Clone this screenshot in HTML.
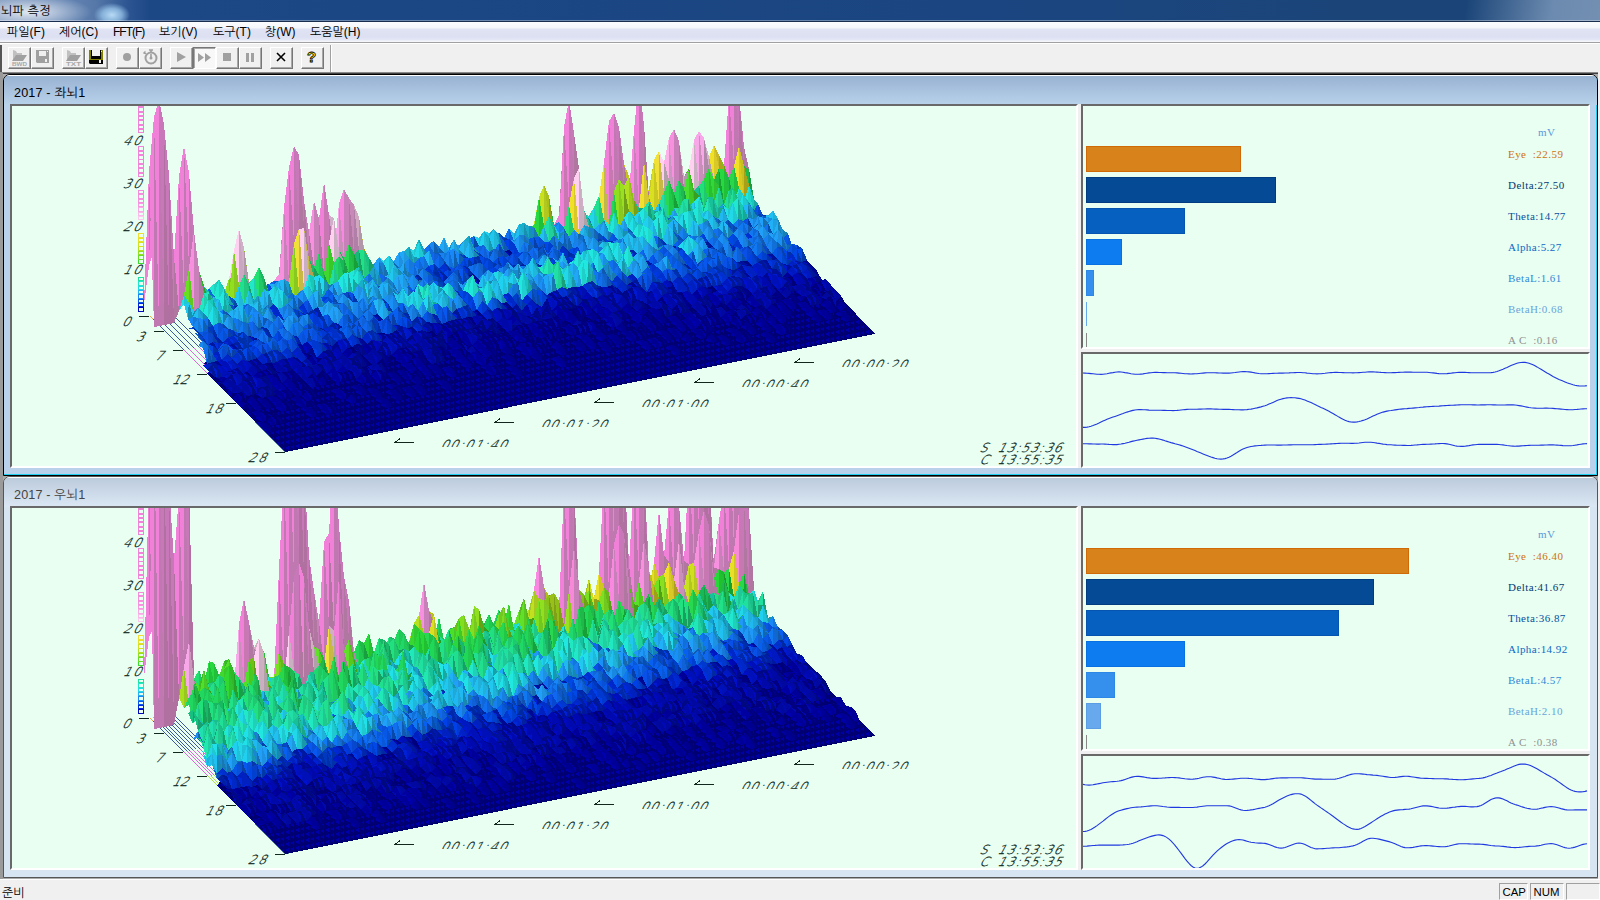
<!DOCTYPE html><html lang="ko"><head><meta charset="utf-8"><title>뇌파 측정</title><style>

*{box-sizing:border-box;margin:0;padding:0}
html,body{width:1600px;height:900px;overflow:hidden;background:#f0f0f0}
body{position:relative;font-family:"Liberation Sans","NanumGothic","Noto Sans CJK KR",sans-serif;font-size:12px;color:#000}
.abs{position:absolute}
#title{position:absolute;left:0;top:0;width:1600px;height:22px;background:
 radial-gradient(ellipse 18px 12px at 112px 15px,rgba(190,225,250,.95),rgba(160,205,240,.7) 55%,rgba(160,200,240,0) 100%),
 radial-gradient(ellipse 62px 17px at 30px 12px,rgba(255,255,255,.8),rgba(255,255,255,.4) 50%,rgba(255,255,255,0) 100%),
 linear-gradient(100deg,rgba(120,150,190,0) 0,rgba(120,150,190,0) 1445px,rgba(112,142,178,.95) 1530px,rgba(118,146,180,1) 1600px),
 linear-gradient(90deg,#7d98be 0,#6686b4 60px,#5678a9 96px,#2c5592 128px,#1d4886 150px,#1b4785 400px,#1a4580 1000px,#1b4578 1400px);
 border-bottom:1px solid #1a2e50}
#title:after{content:"";position:absolute;left:0;right:0;top:20px;height:1px;background:rgba(255,255,255,.35)}
#title span{position:absolute;left:1px;top:4px;font-size:12.2px;letter-spacing:.1px}
#menu{position:absolute;left:0;top:22px;width:1600px;height:21px;background:linear-gradient(#fbfcfe 0,#f4f6fb 6px,#dfe3f3 7px,#dce0f2 15px,#e4e8f5 18px,#f4f5fa 19px,#f4f5fa 20px);border-bottom:1px solid #a0a0a0}
#menu span{position:absolute;top:3px;white-space:nowrap}
#menu span:nth-child(3){letter-spacing:-1px}
#tb{position:absolute;left:0;top:43px;width:1600px;height:29px;background:#f0f0f0;border-top:1px solid #fff}
#tb .grip{position:absolute;left:0;top:1px;width:2px;height:28px;background:#555}
.btn{position:absolute;top:3px;width:23px;height:22px;border:1px solid;border-color:#fff #777 #777 #fff;box-shadow:inset -1px -1px 0 #a8a8a8;background:#f0f0f0}
.btn svg{position:absolute;left:1px;top:0px}
.btn.dn{border-color:#777 #fff #fff #777;box-shadow:inset 1px 1px 0 #a8a8a8;background:#f8f8f8}
#tbsep{position:absolute;left:330px;top:1px;width:2px;height:28px;border-left:1px solid #a0a0a0;border-right:1px solid #fff}
#mdi{position:absolute;left:0;top:72px;width:1598px;height:807px;background:#ababab;border-top:1px solid #8a8a8a;box-shadow:inset 0 1px 0 #404040;border-left:3px solid #9a9a9a}
.child{position:absolute;left:3px;width:1595px;border:1px solid #000;border-radius:7px 7px 0 0;overflow:hidden}
.child .cap{position:absolute;left:0;top:0;right:0;height:30px}
.child .cap span{position:absolute;left:10px;top:9px;font-size:12.6px;letter-spacing:.15px}
.pane{position:absolute;background:#e8fff1;border-top:2px solid #696969;border-left:2px solid #696969;overflow:hidden}
.ch{position:absolute;left:0;top:0}
.bars{position:absolute;left:0;top:0;width:505px;height:241px}
.bar{position:absolute;left:3px;height:26px;border:1px solid}
.lab{position:absolute;font-family:"Liberation Serif",serif;font-size:11px;white-space:pre;letter-spacing:.45px;line-height:13px}
.waves{position:absolute;left:0;top:0}
#status{position:absolute;left:0;top:879px;width:1600px;height:21px;background:#f0f0f0;border-top:1px solid #fff}
#status span{position:absolute;top:5.5px}
.sp{position:absolute;top:3px;height:17px;border:1px solid;border-color:#a0a0a0 #fff #fff #a0a0a0;font-size:11.4px;line-height:16px;padding-left:2.5px}

</style></head><body>
<div id="title"><span>뇌파 측정</span></div>
<div id="menu">
<span style="left:7px">파일(F)</span>
<span style="left:59px">제어(C)</span>
<span style="left:113px">FFT(F)</span>
<span style="left:159px">보기(V)</span>
<span style="left:213px">도구(T)</span>
<span style="left:265px">창(W)</span>
<span style="left:310px">도움말(H)</span>
</div>
<div id="tb"><div class="grip"></div><div class="btn" style="left:8px"><svg width="18" height="18"><path d="M3 2l3 1 1 2h5v3H6l-3 5z" fill="#a0a0a0" fill-opacity=".6"/><path d="M6 7h11l-4 6H2z" fill="#a0a0a0"/><text x="2" y="17.5" font-size="6.2" font-weight="bold" font-family="Liberation Sans,sans-serif" fill="#a8a8a8" textLength="15" lengthAdjust="spacingAndGlyphs">BWD</text></svg></div><div class="btn" style="left:31px"><svg width="18" height="18"><path d="M3 2h13v13H4l-1-1z" fill="#a0a0a0"/><rect x="6" y="3" width="7" height="5" fill="#f0f0f0"/><rect x="12" y="11" width="2" height="3" fill="#f0f0f0"/><rect x="14" y="3" width="1" height="1" fill="#f0f0f0"/></svg></div><div class="btn" style="left:62px"><svg width="18" height="18"><path d="M3 2l3 1 1 2h5v3H6l-3 5z" fill="#a0a0a0" fill-opacity=".6"/><path d="M6 7h11l-4 6H2z" fill="#a0a0a0"/><text x="2" y="17.5" font-size="6.2" font-weight="bold" font-family="Liberation Sans,sans-serif" fill="#a8a8a8" textLength="15" lengthAdjust="spacingAndGlyphs">TXT</text></svg></div><div class="btn" style="left:85px"><svg width="18" height="18"><path d="M2 2h14v14H3l-1-1z" fill="#000"/><path d="M2 2h2v9h10V2h2v10H2z" fill="#808000"/><rect x="5" y="2" width="8" height="6" fill="#f0f0f0"/><rect x="12" y="12" width="2" height="3" fill="#f0f0f0"/><rect x="14" y="3" width="1" height="1" fill="#f0f0f0"/></svg></div><div class="btn" style="left:116px"><svg width="18" height="18"><circle cx="9" cy="9" r="4" fill="#a0a0a0"/></svg></div><div class="btn" style="left:139px"><svg width="18" height="18"><circle cx="10" cy="10" r="5.5" fill="none" stroke="#a0a0a0" stroke-width="2"/><path d="M10 6v4M8 2h4M10 2v2M3 4l2 2M2.5 5.5l2-2" stroke="#a0a0a0" stroke-width="1.6" fill="none"/><circle cx="10" cy="10" r="1.5" fill="#a0a0a0"/></svg></div><div class="btn" style="left:170px"><svg width="18" height="18"><path d="M5 4l9 5-9 5z" fill="#a0a0a0"/></svg></div><div class="btn dn" style="left:193px"><svg width="18" height="18"><path d="M3 5l6 4.5-6 4.5zM10 5l6 4.5-6 4.5z" fill="#a0a0a0"/></svg></div><div class="btn" style="left:216px"><svg width="18" height="18"><rect x="5" y="5" width="8" height="8" fill="#a0a0a0"/></svg></div><div class="btn" style="left:239px"><svg width="18" height="18"><rect x="5" y="5" width="3" height="9" fill="#a0a0a0"/><rect x="10" y="5" width="3" height="9" fill="#a0a0a0"/></svg></div><div class="btn" style="left:270px"><svg width="18" height="18"><path d="M5 5l8 8M13 5l-8 8" stroke="#000" stroke-width="1.6"/></svg></div><div class="btn" style="left:301px"><svg width="18" height="18"><text x="4" y="14" font-size="15" font-weight="bold" font-family="Liberation Sans,sans-serif" fill="#fff000" stroke="#000" stroke-width=".8">?</text></svg></div><div id="tbsep"></div></div>
<div id="mdi"></div>
<div class="child" style="top:74px;height:402px;background:#b9d1ea;box-shadow:inset -1px -1px 0 #20d0f0">
<div class="cap" style="background:linear-gradient(#98b2d2,#b9d2eb);border-top:1px solid #fff"><span style="color:#000">2017 - 좌뇌1</span></div>
<div class="pane" style="left:6px;top:29px;width:1068px;height:364px;border-right:2px solid #fff;border-bottom:2px solid #fff"><svg class="ch" viewBox="12 106 1064 360" width="1064" height="360">
<defs><pattern id="fl" x="144" y="317" width="30" height="6" patternUnits="userSpaceOnUse"><rect width="30" height="6" fill="#000072"/><path d="M1.5 -3l3.5-2.5v5zM1.5 3l3.5-2.5v5zM1.5 9l3.5-2.5v5zM6.5 2l3.5-2.5v5zM6.5 8l3.5-2.5v5zM6.5 14l3.5-2.5v5zM11.5 1l3.5-2.5v5zM11.5 7l3.5-2.5v5zM11.5 13l3.5-2.5v5zM16.5 0l3.5-2.5v5zM16.5 6l3.5-2.5v5zM16.5 12l3.5-2.5v5zM21.5 -1l3.5-2.5v5zM21.5 5l3.5-2.5v5zM21.5 11l3.5-2.5v5zM26.5 -2l3.5-2.5v5zM26.5 4l3.5-2.5v5zM26.5 10l3.5-2.5v5z" fill="#0000a8" shape-rendering="crispEdges"/></pattern></defs>
<g shape-rendering="crispEdges">
<rect x="138.5" y="307.8" width="5" height="3.4" fill="none" stroke="#0008b9" stroke-width="1"/><rect x="138.5" y="303.4" width="5" height="3.4" fill="none" stroke="#0028da" stroke-width="1"/><rect x="138.5" y="299.1" width="5" height="3.4" fill="none" stroke="#0858ec" stroke-width="1"/><rect x="138.5" y="294.8" width="5" height="3.4" fill="none" stroke="#1888f4" stroke-width="1"/><rect x="138.5" y="290.4" width="5" height="3.4" fill="none" stroke="#20b6f4" stroke-width="1"/><rect x="138.5" y="286.1" width="5" height="3.4" fill="none" stroke="#20dce8" stroke-width="1"/><rect x="138.5" y="281.7" width="5" height="3.4" fill="none" stroke="#20e8c8" stroke-width="1"/><rect x="138.5" y="277.4" width="5" height="3.4" fill="none" stroke="#20e2a0" stroke-width="1"/><rect x="138.5" y="259.9" width="5" height="3.4" fill="none" stroke="#3cdb30" stroke-width="1"/><rect x="138.5" y="255.6" width="5" height="3.4" fill="none" stroke="#68df24" stroke-width="1"/><rect x="138.5" y="251.2" width="5" height="3.4" fill="none" stroke="#94e020" stroke-width="1"/><rect x="138.5" y="246.9" width="5" height="3.4" fill="none" stroke="#b8e020" stroke-width="1"/><rect x="138.5" y="242.6" width="5" height="3.4" fill="none" stroke="#d4e020" stroke-width="1"/><rect x="138.5" y="238.2" width="5" height="3.4" fill="none" stroke="#e8e024" stroke-width="1"/><rect x="138.5" y="233.9" width="5" height="3.4" fill="none" stroke="#f1df2d" stroke-width="1"/><rect x="138.5" y="216.4" width="5" height="3.4" fill="none" stroke="#fcc8ee" stroke-width="1"/><rect x="138.5" y="212.1" width="5" height="3.4" fill="none" stroke="#fcb8ea" stroke-width="1"/><rect x="138.5" y="207.8" width="5" height="3.4" fill="none" stroke="#fba8e6" stroke-width="1"/><rect x="138.5" y="203.4" width="5" height="3.4" fill="none" stroke="#f998e2" stroke-width="1"/><rect x="138.5" y="199.1" width="5" height="3.4" fill="none" stroke="#f88fe0" stroke-width="1"/><rect x="138.5" y="194.7" width="5" height="3.4" fill="none" stroke="#f78dde" stroke-width="1"/><rect x="138.5" y="190.4" width="5" height="3.4" fill="none" stroke="#f68bde" stroke-width="1"/><rect x="138.5" y="173.0" width="5" height="3.4" fill="none" stroke="#f484da" stroke-width="1"/><rect x="138.5" y="168.6" width="5" height="3.4" fill="none" stroke="#f484da" stroke-width="1"/><rect x="138.5" y="164.2" width="5" height="3.4" fill="none" stroke="#f484da" stroke-width="1"/><rect x="138.5" y="159.9" width="5" height="3.4" fill="none" stroke="#f484da" stroke-width="1"/><rect x="138.5" y="155.6" width="5" height="3.4" fill="none" stroke="#f383da" stroke-width="1"/><rect x="138.5" y="151.2" width="5" height="3.4" fill="none" stroke="#f383da" stroke-width="1"/><rect x="138.5" y="146.9" width="5" height="3.4" fill="none" stroke="#f383da" stroke-width="1"/><rect x="138.5" y="129.5" width="5" height="3.4" fill="none" stroke="#f282d9" stroke-width="1"/><rect x="138.5" y="125.1" width="5" height="3.4" fill="none" stroke="#f282d9" stroke-width="1"/><rect x="138.5" y="120.8" width="5" height="3.4" fill="none" stroke="#f282d9" stroke-width="1"/><rect x="138.5" y="116.4" width="5" height="3.4" fill="none" stroke="#f282d9" stroke-width="1"/><rect x="138.5" y="112.1" width="5" height="3.4" fill="none" stroke="#f282d9" stroke-width="1"/><rect x="138.5" y="107.7" width="5" height="3.4" fill="none" stroke="#f282d9" stroke-width="1"/><rect x="138.5" y="103.4" width="5" height="3.4" fill="none" stroke="#f282d9" stroke-width="1"/><rect x="138.5" y="99.0" width="5" height="3.4" fill="none" stroke="#f282d9" stroke-width="1"/>
<path d="M149.5 316L152.9 319.4" stroke="#f09020" stroke-width=".8" fill="none"/>
<path d="M152.9 319.4L183.5 350" stroke="#103088" stroke-width=".8" fill="none"/>
<path d="M183.5 350L207.8 374.3" stroke="#e040e0" stroke-width=".8" fill="none"/>
<path d="M207.8 374.3L236.9 403.4" stroke="#a8d820" stroke-width=".8" fill="none"/>
<path d="M236.9 403.4L285.5 452" stroke="#205878" stroke-width=".8" fill="none"/>
<path d="M154.5 315L157.9 318.4" stroke="#f09020" stroke-width=".8" fill="none"/>
<path d="M157.9 318.4L188.5 349" stroke="#103088" stroke-width=".8" fill="none"/>
<path d="M188.5 349L212.8 373.3" stroke="#e040e0" stroke-width=".8" fill="none"/>
<path d="M212.8 373.3L241.9 402.4" stroke="#a8d820" stroke-width=".8" fill="none"/>
<path d="M241.9 402.4L290.5 451" stroke="#205878" stroke-width=".8" fill="none"/>
<path d="M159.5 314L162.9 317.4" stroke="#f09020" stroke-width=".8" fill="none"/>
<path d="M162.9 317.4L193.5 348" stroke="#103088" stroke-width=".8" fill="none"/>
<path d="M193.5 348L217.8 372.3" stroke="#e040e0" stroke-width=".8" fill="none"/>
<path d="M217.8 372.3L246.9 401.4" stroke="#a8d820" stroke-width=".8" fill="none"/>
<path d="M246.9 401.4L295.5 450" stroke="#205878" stroke-width=".8" fill="none"/>
<path d="M164.5 313L167.9 316.4" stroke="#f09020" stroke-width=".8" fill="none"/>
<path d="M167.9 316.4L198.5 347" stroke="#103088" stroke-width=".8" fill="none"/>
<path d="M198.5 347L222.8 371.3" stroke="#e040e0" stroke-width=".8" fill="none"/>
<path d="M222.8 371.3L251.9 400.4" stroke="#a8d820" stroke-width=".8" fill="none"/>
<path d="M251.9 400.4L300.5 449" stroke="#205878" stroke-width=".8" fill="none"/>
<path d="M169.5 312L172.9 315.4" stroke="#f09020" stroke-width=".8" fill="none"/>
<path d="M172.9 315.4L203.5 346" stroke="#103088" stroke-width=".8" fill="none"/>
<path d="M203.5 346L227.8 370.3" stroke="#e040e0" stroke-width=".8" fill="none"/>
<path d="M227.8 370.3L256.9 399.4" stroke="#a8d820" stroke-width=".8" fill="none"/>
<path d="M256.9 399.4L305.5 448" stroke="#205878" stroke-width=".8" fill="none"/>
<path fill="url(#fl)" d="M739 198L875 334L285 452L280 447L275 442L270 437L266 433L261 428L256 423L251 418L246 413L241 408L236 403L232 399L227 394L222 389L217 384L212 379L207 374L212 367L203 364L213 356L213 350L208 345L208 339L203 334L203 328L199 324L199 318L199 312L194 307z"/>
<path fill="#c078b0" d="M149 266l5-149-5 54 0 43zM154 251l5-152-5 18 0 66zM174 284l5-108-5 81 0-4zM179 261l5-115-5 30 0 41zM284 257l5-90-5 40 0 19zM289 245l5-99-5 21 0 37zM564 193l5-93-5 27 0 32zM609 190l5-77-5 8 0 35zM634 177l5-97-5 50 0 18zM729 160l5-90-5 26 0 30z"/>
<path fill="#f080d8" d="M149 171l-5 133 5-38 0-52zM154 117l-5 149 5-15 0-68zM174 257l-5 37 5-10 0-31zM179 176l-5 108 5-23 0-44zM284 207l-5 67 5-17 0-31zM289 167l-5 90 5-12 0-41zM319 219l-5 44 5-11 0-23zM559 222l-5 3 5-10 0-18zM564 127l-5 88 5-22 0-34zM604 162l-5 36 5 2 0-30zM609 121l-5 79 5-10 0-34zM634 130l-5 74 5-27 0-29zM724 165l-5 26 5-14 0-20zM729 96l-5 81 5-17 0-34z"/>
<path fill="#b070a0" d="M159 265l5-140-5-26 0 86zM164 300l5-125-5-50 0 91z"/>
<path fill="#c878b8" d="M159 99l-5 152 5 14 0-80zM164 125l-5 140 5 35 0-84zM169 175l-5 125 5-6 0-38zM184 146l-5 115 5 22 0-67zM189 173l-5 110 5 1 0-29zM294 146l-5 99 5 10 0-55zM299 155l-5 100 5 19 0-53zM324 182l-5 70 5 16 0-39zM569 100l-5 93 5 18 0-52zM574 133l-5 78 5 0 0-18zM614 113l-5 77 5 8 0-41zM639 80l-5 97 5 18 0-51zM734 70l-5 90 5 11 0-47zM739 95l-5 76 5 12 0-34z"/>
<path fill="#b078a0" d="M169 294l5-37-5-82 0 81zM184 283l5-110-5-27 0 70zM189 284l5-5-5-106 0 82zM294 255l5-100-5-9 0 54zM299 274l5-73-5-46 0 66zM304 272l5-40-5-31 0 44zM314 263l5-44-5-18 0 34zM324 268l5-53-5-33 0 47zM344 258l5-60-5-9 0 35zM569 211l5-78-5-33 0 59zM574 211l5 5-5-83 0 60zM614 198l5-71-5-14 0 44zM619 210l5-46-5-37 0 48zM639 195l5-70-5-45 0 64zM644 204l5-6-5-73 0 55zM674 193l5-52-5-12 0 33zM734 171l5-76-5-25 0 54zM739 183l5-36-5-52 0 54z"/>
<path fill="#18a070" d="M194 291l5 2-5-14 0 8z"/>
<path fill="#18c080" d="M194 279l-5 5 5 7 0-4z"/>
<path fill="#1870b0" d="M199 295l5 3-5-5 0 1zM259 283l5 8-5-10 0 2zM529 231l5-4-5-1 0 4z"/>
<path fill="#1888d0" d="M199 293l-5-2 5 4 0-1zM224 292l-5-10 5 12 0-3z"/>
<path fill="#0848a8" d="M204 294l5 1-5 3 0-2zM474 236l5 10-5 2 0-6z"/>
<path fill="#1068f0" d="M204 298l-5-3 5-1 0 2zM274 284l-5 0 5-3 0 1zM474 248l-5-9 5-3 0 6z"/>
<path fill="#1068d8" d="M209 288l5 8-5-1 0-2zM429 244l5 9-5 2 0-5z"/>
<path fill="#1070f0" d="M209 295l-5-1 5-6 0 5zM429 255l-5-6 5-5 0 6zM509 239l-5-1 5-10 0 8z"/>
<path fill="#20d0c0" d="M214 284l5-5-5 17 0-9z"/>
<path fill="#20e8d0" d="M214 296l-5-8 5-4 0 3z"/>
<path fill="#18a898" d="M219 282l5 10-5-13 0 5z"/>
<path fill="#18c8b0" d="M219 279l-5 5 5-2 0 2z"/>
<path fill="#1878b0" d="M224 294l5 2-5-4 0-1zM249 284l5-2-5 0 0 1zM399 261l5-10-5 1 0 4zM579 210l5 13-5-7 0-1zM584 214l5 4-5 5 0-7z"/>
<path fill="#80c820" d="M229 279l5-29-5 46 0-16z"/>
<path fill="#90e020" d="M229 296l-5-2 5-15 0 1z"/>
<path fill="#c8b0c0" d="M234 277l5-48-5 21 0 9zM689 191l5-51-5 28 0 2z"/>
<path fill="#ffd0f0" d="M234 250l-5 29 5-2 0-18zM689 168l-5 14 5 9 0-21z"/>
<path fill="#b0a0a8" d="M239 290l5-42-5-19 0 32zM329 273l5-20-5-38 0 37zM679 193l5-16-5-36 0 35zM704 178l5-21-5-19 0 24z"/>
<path fill="#d0b0c8" d="M239 229l-5 48 5 13 0-29zM679 141l-5 52 5 0 0-17z"/>
<path fill="#70a018" d="M244 283l5-1-5-34 0 28z"/>
<path fill="#80c018" d="M244 248l-5 42 5-7 0-7z"/>
<path fill="#1890d0" d="M249 282l-5 1 5 1 0-1zM579 216l-5-5 5-1 0 5z"/>
<path fill="#2090e0" d="M254 278l5 3-5 1 0-1zM394 261l5-9-5 11 0-5z"/>
<path fill="#20a0f8" d="M254 282l-5 2 5-6 0 3zM394 263l-5-6 5 4 0-3zM399 252l-5 9 5 0 0-5zM529 226l-5 9 5-4 0-1zM584 223l-5-13 5 4 0 2z"/>
<path fill="#1880d0" d="M259 281l-5-3 5 5 0 0z"/>
<path fill="#0850d8" d="M264 285l5-1-5 7 0-5z"/>
<path fill="#0858f0" d="M264 291l-5-8 5 2 0 1zM269 284l-5 1 5-1 0 0z"/>
<path fill="#0840a8" d="M269 284l5 0-5 0 0 0z"/>
<path fill="#0860d8" d="M274 281l5 0-5 3 0-2z"/>
<path fill="#c880b8" d="M279 274l5-67-5 74 0-20zM304 201l-5 73 5-2 0-27zM309 258l5-57-5 31 0 9zM314 201l-5 57 5 5 0-28zM339 251l5-62-5 14 0 23zM344 189l-5 62 5 7 0-34zM619 127l-5 71 5 12 0-35zM629 204l5-74-5 62 0-8zM644 125l-5 70 5 9 0-24zM669 186l5-57-5 9 0 24zM674 129l-5 57 5 7 0-31z"/>
<path fill="#f890e0" d="M279 281l-5 0 5-7 0-13zM309 232l-5 40 5-14 0-17zM669 138l-5 58 5-10 0-24z"/>
<path fill="#c878b0" d="M319 252l5-70-5 37 0 10zM559 215l5-88-5 95 0-25zM604 200l5-79-5 41 0 8zM724 177l5-81-5 69 0-8z"/>
<path fill="#d0b0c0" d="M329 215l-5 53 5 5 0-21zM704 138l-5 38 5 2 0-16z"/>
<path fill="#c898c0" d="M334 261l5-58-5 50 0-5zM664 196l5-58-5 24 0 10z"/>
<path fill="#ffb0e8" d="M334 253l-5 20 5-12 0-13z"/>
<path fill="#f888e0" d="M339 203l-5 58 5-10 0-25zM629 192l-5 17 5-5 0-20z"/>
<path fill="#b080a8" d="M349 254l5-49-5-7 0 31z"/>
<path fill="#c888b8" d="M349 198l-5 60 5-4 0-25z"/>
<path fill="#b098a8" d="M354 255l5-38-5-12 0 28z"/>
<path fill="#d0a8c0" d="M354 205l-5 49 5 1 0-22z"/>
<path fill="#a8a018" d="M359 255l5-7-5-31 0 27zM624 209l5-17-5-28 0 30zM714 193l5-38-5-10 0 25z"/>
<path fill="#c0c020" d="M359 217l-5 38 5 0 0-11zM624 164l-5 46 5-1 0-15z"/>
<path fill="#18a888" d="M364 260l5 6-5-18 0 9z"/>
<path fill="#18c0a0" d="M364 248l-5 7 5 5 0-3z"/>
<path fill="#0038a8" d="M369 265l5 1-5 0 0-2zM504 238l5 1-5 2 0-3z"/>
<path fill="#0040c8" d="M369 266l-5-6 5 5 0-1zM504 241l-5-8 5 5 0 0z"/>
<path fill="#1880e0" d="M374 264l5-7-5 9 0-3zM554 225l5-3-5 9 0-5z"/>
<path fill="#1890f8" d="M374 266l-5-1 5-1 0-1zM384 261l-5-2 5 3 0-3zM554 231l-5-5 5-1 0 1z"/>
<path fill="#1868b0" d="M379 259l5 2-5-4 0 3z"/>
<path fill="#2098f8" d="M379 257l-5 7 5-5 0 1zM459 249l-5-3 5-1 0 0z"/>
<path fill="#1068b0" d="M384 262l5-7-5 6 0-2zM389 257l5 6-5-8 0 4z"/>
<path fill="#1878d0" d="M389 255l-5 7 5-5 0 2z"/>
<path fill="#20b8d8" d="M404 252l5-6-5 5 0 1zM464 240l5-5-5 5 0 0zM479 238l5-7-5 15 0-8zM489 233l5-4-5 8 0-5zM519 224l5-1-5 2 0 1z"/>
<path fill="#20d0f0" d="M404 251l-5 10 5-9 0 0zM479 246l-5-10 5 2 0 0zM484 231l-5 7 5-7 0 3zM489 237l-5-6 5 2 0-1zM519 225l-5 9 5-10 0 2z"/>
<path fill="#1898b0" d="M409 249l5 8-5-11 0 5z"/>
<path fill="#18b0c8" d="M409 246l-5 6 5-3 0 2z"/>
<path fill="#20c8d0" d="M414 250l5-8-5 15 0-7zM589 216l5-9-5 11 0-4z"/>
<path fill="#20d8e8" d="M414 257l-5-8 5 1 0 0zM589 218l-5-4 5 2 0-2z"/>
<path fill="#18a0a8" d="M419 239l5 16-5-13 0 4z"/>
<path fill="#18b8c0" d="M419 242l-5 8 5-11 0 7z"/>
<path fill="#1888b0" d="M424 249l5 6-5 0 0-5z"/>
<path fill="#18a0c8" d="M424 255l-5-16 5 10 0 1z"/>
<path fill="#1060b0" d="M434 241l5 12-5 0 0-5zM439 247l5 6-5 0 0-5z"/>
<path fill="#1888f0" d="M434 253l-5-9 5-3 0 7z"/>
<path fill="#1070d0" d="M439 253l-5-12 5 6 0 1z"/>
<path fill="#2098e0" d="M444 237l5 15-5 1 0-6z"/>
<path fill="#20a8f8" d="M444 253l-5-6 5-10 0 10z"/>
<path fill="#1880b0" d="M449 248l5-9-5 13 0-8zM454 246l5 3-5-10 0 7z"/>
<path fill="#20b0f8" d="M449 252l-5-15 5 11 0-4z"/>
<path fill="#1898d0" d="M454 239l-5 9 5-2 0 0z"/>
<path fill="#1888e0" d="M459 245l5-5-5 9 0-4z"/>
<path fill="#20c8f0" d="M464 240l-5 5 5-5 0 0z"/>
<path fill="#1890b0" d="M469 239l5 9-5-13 0 5zM494 237l5-2-5-6 0 5zM524 235l5-9-5-3 0 4z"/>
<path fill="#18a8c8" d="M469 235l-5 5 5-1 0 1zM494 229l-5 4 5 4 0-3zM524 223l-5 1 5 11 0-8z"/>
<path fill="#1898a8" d="M484 231l5 6-5-6 0 3z"/>
<path fill="#1058b0" d="M499 233l5 8-5-6 0 1z"/>
<path fill="#1068c8" d="M499 235l-5 2 5-4 0 3z"/>
<path fill="#1060d8" d="M509 228l5 13-5-2 0-3z"/>
<path fill="#20a8d8" d="M514 234l5-9-5 16 0-9z"/>
<path fill="#20c0f0" d="M514 241l-5-13 5 6 0-2z"/>
<path fill="#20c038" d="M534 224l5-27-5 30 0-7zM684 182l5-14-5 9 0 3z"/>
<path fill="#28d840" d="M534 227l-5 4 5-7 0-4zM684 177l-5 16 5-11 0-2z"/>
<path fill="#b0c820" d="M539 221l5-36-5 12 0 10z"/>
<path fill="#c0e020" d="M539 197l-5 27 5-3 0-14z"/>
<path fill="#88a018" d="M544 221l5-25-5-11 0 21z"/>
<path fill="#a0c018" d="M544 185l-5 36 5 0 0-15z"/>
<path fill="#18a030" d="M549 226l5 5-5-35 0 22z"/>
<path fill="#20b840" d="M549 196l-5 25 5 5 0-8z"/>
<path fill="#20c880" d="M594 213l5-17-5 11 0 1z"/>
<path fill="#20e090" d="M594 207l-5 9 5-3 0-5z"/>
<path fill="#c8b848" d="M599 198l5-36-5 34 0-4zM654 192l5-41-5 9 0 13zM659 151l-5 41 5-1 0-17z"/>
<path fill="#f0e038" d="M599 196l-5 17 5-15 0-6zM654 160l-5 29 5 3 0-19z"/>
<path fill="#c8c820" d="M649 189l5-29-5 38 0-10z"/>
<path fill="#d8e020" d="M649 198l-5 6 5-15 0-1z"/>
<path fill="#b0a050" d="M659 191l5-29-5-11 0 23z"/>
<path fill="#ffb8e8" d="M664 162l-5 29 5 5 0-24z"/>
<path fill="#c898b8" d="M694 183l5-52-5 9 0 21z"/>
<path fill="#f8b0e8" d="M694 140l-5 51 5-8 0-22z"/>
<path fill="#b088a8" d="M699 176l5-38-5-7 0 26z"/>
<path fill="#d098c0" d="M699 131l-5 52 5-7 0-19z"/>
<path fill="#a8a020" d="M709 188l5-43-5 12 0 10z"/>
<path fill="#f0e028" d="M709 157l-5 21 5 10 0-21z"/>
<path fill="#c8c020" d="M714 145l-5 43 5 5 0-23z"/>
<path fill="#58a018" d="M719 191l5-26-5-10 0 21z"/>
<path fill="#68c018" d="M719 155l-5 38 5-2 0-15z"/>
<path fill="#c078b0" d="M154 117l5 209-5 1 0-92zM159 99l5 226-5 1 0-109zM179 176l5 119-5 16 0-51zM184 146l5 122-5 27 0-74zM189 173l5 58-5 37 0-64zM289 167l5 76-5 39 0-57zM294 146l5 83-5 14 0-47zM569 100l5 78-5 27 0-53zM614 113l5 66-5 12 0-40zM639 80l5 81-5 47 0-63zM734 70l5 76-5 20 0-46z"/>
<path fill="#f080d8" d="M154 327l-5-156 5-54 0 118zM159 326l-5-209 5-18 0 118zM179 311l-5-54 5-81 0 84zM184 295l-5-119 5-30 0 75zM189 268l-5-122 5 27 0 31zM289 282l-5-75 5-40 0 58zM294 243l-5-76 5-21 0 50zM324 274l-5-55 5-37 0 48zM564 228l-5-6 5-95 0 69zM569 205l-5-78 5-27 0 52zM609 225l-5-63 5-41 0 54zM614 191l-5-70 5-8 0 38zM639 208l-5-78 5-50 0 65zM729 178l-5-13 5-69 0 55zM734 166l-5-70 5-26 0 50z"/>
<path fill="#b070a0" d="M164 125l5 199-5 1 0-107zM169 175l5 148-5 1 0-87z"/>
<path fill="#c878b8" d="M164 325l-5-226 5 26 0 93zM169 324l-5-199 5 50 0 62zM174 323l-5-148 5 82 0 9zM194 231l-5-58 5 106 0-41zM299 229l-5-83 5 9 0 35zM304 228l-5-73 5 46 0 10zM329 243l-5-61 5 33 0-1zM574 178l-5-78 5 33 0 12zM579 168l-5-35 5 83 0-34zM619 179l-5-66 5 14 0 24zM624 186l-5-59 5 37 0-1zM644 161l-5-81 5 45 0 16zM739 146l-5-76 5 25 0 24zM744 166l-5-71 5 52 0-3z"/>
<path fill="#b078a0" d="M174 257l5 54-5 12 0-57zM194 279l5-9-5-39 0 7zM299 155l5 73-5 1 0-39zM304 201l5 58-5-31 0-17zM309 232l5 35-5-8 0-19zM319 219l5 55-5-21 0-16zM329 215l5 3-5 25 0-29zM349 198l5 56-5-10 0-23zM574 133l5 35-5 10 0-33zM579 216l5-6-5-42 0 14zM619 127l5 59-5-7 0-28zM624 164l5 12-5 10 0-23zM644 125l5 74-5-38 0-20zM649 198l5 13-5-12 0-16zM679 141l5 48-5-9 0-20zM739 95l5 71-5-20 0-27zM744 147l5 22-5-3 0-22z"/>
<path fill="#20a028" d="M199 293l5-7-5-16 0 12z"/>
<path fill="#28b830" d="M199 270l-5 9 5 14 0-11z"/>
<path fill="#18a888" d="M204 298l5 3-5-15 0 8zM369 266l5 0-5-8 0 2z"/>
<path fill="#18c0a0" d="M204 286l-5 7 5 5 0-4zM369 258l-5-10 5 18 0-6z"/>
<path fill="#1880d8" d="M209 295l5 2-5 4 0-3z"/>
<path fill="#1888f8" d="M209 301l-5-3 5-3 0 3z"/>
<path fill="#1060b0" d="M214 296l5 4-5-3 0 0z"/>
<path fill="#1878d0" d="M214 297l-5-2 5 1 0 1zM394 267l-5-12 5 8 0 0z"/>
<path fill="#20d0c0" d="M219 279l5 9-5 12 0-9z"/>
<path fill="#20e8d0" d="M219 300l-5-4 5-17 0 12z"/>
<path fill="#18a898" d="M224 292l5 5-5-9 0 1z"/>
<path fill="#18c8b0" d="M224 288l-5-9 5 13 0-3z"/>
<path fill="#0848a8" d="M229 296l5 3-5-2 0-1z"/>
<path fill="#0858c8" d="M229 297l-5-5 5 4 0 0zM439 255l-5-2 5 0 0 2z"/>
<path fill="#88c820" d="M234 250l5 36-5 13 0-16z"/>
<path fill="#90e020" d="M234 299l-5-3 5-46 0 33z"/>
<path fill="#c8a8c0" d="M239 229l5 45-5 12 0-26z"/>
<path fill="#ffd0f0" d="M239 286l-5-36 5-21 0 31zM664 192l-5-41 5 11 0 9zM694 190l-5-22 5-28 0 31z"/>
<path fill="#b098a8" d="M244 248l5 36-5-10 0-15zM359 217l5 33-5 0 0-20zM684 177l5-7-5 19 0-20z"/>
<path fill="#d0b0c8" d="M244 274l-5-45 5 19 0 11zM334 218l-5-3 5 38 0-19zM709 168l-5-30 5 19 0 4z"/>
<path fill="#78a018" d="M249 282l5-5-5 7 0-11z"/>
<path fill="#88c018" d="M249 284l-5-36 5 34 0-9z"/>
<path fill="#20c860" d="M254 282l5-15-5 10 0 0z"/>
<path fill="#20e070" d="M254 277l-5 5 5 0 0-5z"/>
<path fill="#18a050" d="M259 281l5-4-5-10 0 10z"/>
<path fill="#18b860" d="M259 267l-5 15 5-1 0-4z"/>
<path fill="#18a8a0" d="M264 291l5 3-5-17 0 9z"/>
<path fill="#18c8b8" d="M264 277l-5 4 5 10 0-5z"/>
<path fill="#0850d8" d="M269 284l5 7-5 3 0-4z"/>
<path fill="#0858f0" d="M269 294l-5-3 5-7 0 6z"/>
<path fill="#20a0e0" d="M274 284l5-3-5 10 0-6z"/>
<path fill="#20b0f8" d="M274 291l-5-7 5 0 0 1z"/>
<path fill="#20a8d8" d="M279 281l5-2-5 2 0 0zM464 240l5 2-5 13 0-9z"/>
<path fill="#20b8f0" d="M279 281l-5 3 5-3 0 0zM464 255l-5-6 5-9 0 6z"/>
<path fill="#c880b8" d="M284 207l5 75-5-3 0-17zM309 259l-5-58 5 31 0 8zM314 201l5 52-5 14 0-29zM319 253l-5-52 5 18 0 18zM344 189l5 55-5 14 0-34zM349 244l-5-55 5 9 0 23zM634 130l5 78-5-8 0-18zM649 199l-5-74 5 73 0-15zM674 129l5 51-5 13 0-33zM679 180l-5-51 5 12 0 19z"/>
<path fill="#f890e0" d="M284 279l-5 2 5-74 0 55zM314 267l-5-35 5-31 0 37zM674 193l-5-55 5-9 0 31z"/>
<path fill="#c878b0" d="M324 182l5 61-5 31 0-44zM564 127l5 78-5 23 0-32zM609 121l5 70-5 34 0-50zM729 96l5 70-5 12 0-27z"/>
<path fill="#b0a0a8" d="M334 253l5-3-5-32 0 16zM664 162l5 18-5 12 0-21zM709 157l5 23-5-12 0-7z"/>
<path fill="#c890b8" d="M339 203l5 55-5-8 0-9zM699 131l5 48-5 7 0-27z"/>
<path fill="#f8a8e8" d="M339 250l-5 3 5-50 0 38zM699 186l-5-46 5-9 0 28zM704 179l-5-48 5 7 0 16z"/>
<path fill="#f888e0" d="M344 258l-5-55 5-14 0 35zM634 200l-5-8 5-62 0 52z"/>
<path fill="#b080a8" d="M354 205l5 45-5 4 0-27z"/>
<path fill="#c888b8" d="M354 254l-5-56 5 7 0 22z"/>
<path fill="#d0a8c0" d="M359 250l-5-45 5 12 0 13zM684 189l-5-48 5 36 0-8z"/>
<path fill="#a8a018" d="M364 248l5 10-5-8 0-7z"/>
<path fill="#c8c020" d="M364 250l-5-33 5 31 0-5zM629 176l-5-12 5 28 0-9z"/>
<path fill="#1870b0" d="M374 266l5-4-5 4 0-1z"/>
<path fill="#20a0f8" d="M374 266l-5 0 5 0 0-1zM379 262l-5 4 5-9 0 5zM399 268l-5-5 5-11 0 10z"/>
<path fill="#2090e0" d="M379 257l5 7-5-2 0 0zM399 252l5 12-5 4 0-6z"/>
<path fill="#20c0d0" d="M384 261l5-6-5 9 0-5z"/>
<path fill="#20d8e8" d="M384 264l-5-7 5 4 0-2zM419 258l-5-1 5-15 0 11zM594 229l-5-11 5-11 0 13z"/>
<path fill="#1898a8" d="M389 255l5 12-5-12 0 5zM409 246l5 18-5-6 0-3z"/>
<path fill="#18b8c8" d="M389 255l-5 6 5-6 0 5z"/>
<path fill="#1068b0" d="M394 263l5 5-5-1 0-4zM449 252l5-3-5 1 0 1z"/>
<path fill="#2098e0" d="M404 251l5 7-5 6 0-8z"/>
<path fill="#20a8f8" d="M404 264l-5-12 5-1 0 5z"/>
<path fill="#18b0c8" d="M409 258l-5-7 5-5 0 9zM414 264l-5-18 5 11 0-1zM489 252l-5-21 5 6 0 6zM524 235l-5-10 5-2 0 7z"/>
<path fill="#1898b0" d="M414 257l5 1-5 6 0-8zM489 237l5 14-5 1 0-9z"/>
<path fill="#20c8d0" d="M419 242l5 14-5 2 0-5zM594 207l5 18-5 4 0-9z"/>
<path fill="#18a0a8" d="M424 255l5-5-5 6 0-5z"/>
<path fill="#18b8c0" d="M424 256l-5-14 5 13 0-4z"/>
<path fill="#1880b0" d="M429 255l5 9-5-14 0 6zM459 249l5 6-5-1 0-5z"/>
<path fill="#1898d0" d="M429 250l-5 5 5 0 0 1zM459 254l-5-15 5 10 0 0z"/>
<path fill="#1060d8" d="M434 253l5 2-5 9 0-7zM479 246l5-1-5 8 0-5z"/>
<path fill="#1068f0" d="M434 264l-5-9 5-2 0 4zM479 253l-5-5 5-2 0 2z"/>
<path fill="#0850b0" d="M439 253l5 7-5-5 0 0z"/>
<path fill="#1078d8" d="M444 253l5-3-5 10 0-6z"/>
<path fill="#1880f0" d="M444 260l-5-7 5 0 0 1z"/>
<path fill="#1890f8" d="M449 250l-5 3 5-1 0-1zM559 233l-5-2 5-9 0 6z"/>
<path fill="#20a0d8" d="M454 239l5 15-5-5 0-1z"/>
<path fill="#20b8f8" d="M454 249l-5 3 5-13 0 9z"/>
<path fill="#1890b0" d="M469 235l5 15-5-8 0 0zM474 248l5 5-5-3 0-4zM499 235l5 16-5-8 0-3zM524 223l5 16-5-4 0-5zM529 226l5 11-5 2 0-8z"/>
<path fill="#18a8c8" d="M469 242l-5-2 5-5 0 7zM474 250l-5-15 5 13 0-2zM499 243l-5-14 5 6 0 5zM529 239l-5-16 5 3 0 5z"/>
<path fill="#20b8d8" d="M484 231l5 21-5-7 0-1zM494 229l5 14-5 8 0-11z"/>
<path fill="#20d0f0" d="M484 245l-5 1 5-15 0 13z"/>
<path fill="#20c8f0" d="M494 251l-5-14 5-8 0 11z"/>
<path fill="#1058b0" d="M504 241l5 9-5 1 0-7z"/>
<path fill="#1060c8" d="M504 251l-5-16 5 6 0 3z"/>
<path fill="#0038d0" d="M509 239l5 4-5 7 0-7z"/>
<path fill="#0040e8" d="M509 250l-5-9 5-2 0 4z"/>
<path fill="#1888e0" d="M514 241l5-6-5 8 0-3z"/>
<path fill="#2098f8" d="M514 243l-5-4 5 2 0-1z"/>
<path fill="#20b0d8" d="M519 225l5 10-5 0 0-1z"/>
<path fill="#20c0f0" d="M519 235l-5 6 5-16 0 9z"/>
<path fill="#1878b0" d="M534 227l5 10-5 0 0-5zM589 218l5 11-5-9 0 2z"/>
<path fill="#1888d0" d="M534 237l-5-11 5 1 0 5zM589 220l-5 3 5-5 0 4z"/>
<path fill="#20c038" d="M539 197l5 29-5 11 0-15z"/>
<path fill="#28d840" d="M539 237l-5-10 5-30 0 25z"/>
<path fill="#b0c820" d="M544 185l5 31-5 10 0-20z"/>
<path fill="#c8e020" d="M544 226l-5-29 5-12 0 21z"/>
<path fill="#90a018" d="M549 196l5 29-5-9 0-10z"/>
<path fill="#a8c018" d="M549 216l-5-31 5 11 0 10z"/>
<path fill="#18a030" d="M554 231l5 2-5-8 0-4z"/>
<path fill="#20b838" d="M554 225l-5-29 5 35 0-10z"/>
<path fill="#1880e0" d="M559 222l5 6-5 5 0-5z"/>
<path fill="#18a880" d="M584 223l5-3-5-10 0 7z"/>
<path fill="#18c098" d="M584 210l-5 6 5 7 0-6z"/>
<path fill="#20c880" d="M599 196l5 24-5 5 0-13z"/>
<path fill="#20e090" d="M599 225l-5-18 5-11 0 16z"/>
<path fill="#c0b848" d="M604 162l5 63-5-5 0-19z"/>
<path fill="#f0e038" d="M604 220l-5-24 5-34 0 39zM659 203l-5-43 5-9 0 25z"/>
<path fill="#a8a020" d="M629 192l5 8-5-24 0 7z"/>
<path fill="#c8c820" d="M654 160l5 43-5 8 0-18z"/>
<path fill="#d8e020" d="M654 211l-5-13 5-38 0 33z"/>
<path fill="#c8b848" d="M659 151l5 41-5 11 0-27z"/>
<path fill="#c898c0" d="M669 138l5 55-5-13 0-12z"/>
<path fill="#ffb0e8" d="M669 180l-5-18 5-24 0 30z"/>
<path fill="#40a020" d="M689 168l5 22-5-20 0 6z"/>
<path fill="#48b820" d="M689 170l-5 7 5-9 0 8z"/>
<path fill="#c8b0c0" d="M694 140l5 46-5 4 0-19z"/>
<path fill="#b088a8" d="M704 138l5 30-5 11 0-25z"/>
<path fill="#d8c828" d="M714 145l5 23-5 12 0-18z"/>
<path fill="#f0e028" d="M714 180l-5-23 5-12 0 17z"/>
<path fill="#b0a020" d="M719 155l5 15-5-2 0-8z"/>
<path fill="#c8b828" d="M719 168l-5-23 5 10 0 5z"/>
<path fill="#68a018" d="M724 165l5 13-5-8 0-3z"/>
<path fill="#80c018" d="M724 170l-5-15 5 10 0 2z"/>
<path fill="#20c8d0" d="M184 295l5 8-5 1 0-1z"/>
<path fill="#20e0e8" d="M184 304l-5 7 5-16 0 8z"/>
<path fill="#60c820" d="M189 268l5 43-5-8 0-9z"/>
<path fill="#68e020" d="M189 303l-5-8 5-27 0 26z"/>
<path fill="#c880b8" d="M194 231l5 79-5 1 0-31zM199 310l-5-79 5 39 0 6z"/>
<path fill="#f890e0" d="M194 311l-5-43 5-37 0 49z"/>
<path fill="#b078a0" d="M199 270l5 23-5 17 0-34z"/>
<path fill="#28a028" d="M204 286l5 6-5 1 0-8z"/>
<path fill="#28b828" d="M204 293l-5-23 5 16 0-1z"/>
<path fill="#18a888" d="M209 301l5 2-5-11 0 4z"/>
<path fill="#18c0a0" d="M209 292l-5-6 5 15 0-5z"/>
<path fill="#20b0d8" d="M214 297l5 1-5 5 0-3z"/>
<path fill="#20c0f0" d="M214 303l-5-2 5-4 0 3zM544 242l-5-5 5-11 0 11zM559 241l-5-16 5 8 0 0zM659 211l-5 0 5-8 0 7z"/>
<path fill="#18a8a0" d="M219 300l5-8-5 6 0-1zM224 288l5 16-5-12 0 4z"/>
<path fill="#20e8e0" d="M219 298l-5-1 5 3 0-3zM224 292l-5 8 5-12 0 8z"/>
<path fill="#18a0a8" d="M229 297l5 9-5-2 0-5zM374 266l5 7-5-7 0 0z"/>
<path fill="#18b8c8" d="M229 304l-5-16 5 9 0 2zM394 264l-5-9 5 12 0-3z"/>
<path fill="#0848a8" d="M234 299l5 8-5-1 0-4zM444 260l5 7-5-4 0-2zM499 243l5 14-5-7 0 0zM504 251l5 5-5 1 0-5z"/>
<path fill="#0858c8" d="M234 306l-5-9 5 2 0 3zM444 263l-5-8 5 5 0 1z"/>
<path fill="#20b8d8" d="M239 286l5 19-5 2 0-8z"/>
<path fill="#20c8f0" d="M239 307l-5-8 5-13 0 13z"/>
<path fill="#20c880" d="M244 274l5 16-5 15 0-16zM364 250l5 23-5 6 0-16z"/>
<path fill="#20e090" d="M244 305l-5-19 5-12 0 15z"/>
<path fill="#18a068" d="M249 284l5 17-5-11 0-3zM369 258l5 8-5 7 0-11z"/>
<path fill="#18c078" d="M249 290l-5-16 5 10 0 3z"/>
<path fill="#20d0b0" d="M254 277l5 23-5 1 0-11z"/>
<path fill="#20e8c8" d="M254 301l-5-17 5-7 0 13z"/>
<path fill="#20c868" d="M259 267l5 22-5 11 0-17z"/>
<path fill="#20e070" d="M259 300l-5-23 5-10 0 16z"/>
<path fill="#18a050" d="M264 277l5 15-5-3 0-8z"/>
<path fill="#18b860" d="M264 289l-5-22 5 10 0 4z"/>
<path fill="#18a898" d="M269 294l5-8-5 6 0-5zM654 211l5 0-5 3 0-5z"/>
<path fill="#18c8b8" d="M269 292l-5-15 5 17 0-7z"/>
<path fill="#1888b0" d="M274 291l5 4-5-9 0 6zM474 250l5 6-5 1 0-6zM559 233l5-1-5 9 0-8zM659 203l5 13-5-5 0-1z"/>
<path fill="#18a0c8" d="M274 286l-5 8 5-3 0 1z"/>
<path fill="#20a0e0" d="M279 281l5 16-5-2 0-4z"/>
<path fill="#20b0f8" d="M279 295l-5-4 5-10 0 10z"/>
<path fill="#1880b0" d="M284 279l5 16-5 2 0-9zM289 282l5 15-5-2 0-7zM434 264l5 5-5-5 0-2z"/>
<path fill="#20b8f8" d="M284 297l-5-16 5-2 0 9zM429 266l-5-10 5-6 0 9zM469 258l-5-3 5-13 0 11z"/>
<path fill="#1898d0" d="M289 295l-5-16 5 3 0 6zM434 264l-5-14 5 14 0-2zM474 257l-5-15 5 8 0 1z"/>
<path fill="#88c820" d="M294 243l5 49-5 5 0-19zM619 179l5 39-5 10 0-24z"/>
<path fill="#98e020" d="M294 297l-5-15 5-39 0 35zM624 218l-5-39 5 7 0 12z"/>
<path fill="#c8b848" d="M299 229l5 60-5 3 0-29zM309 274l-5-46 5 31 0 1z"/>
<path fill="#f0e038" d="M299 292l-5-49 5-14 0 34z"/>
<path fill="#c8b0c0" d="M304 228l5 46-5 15 0-34zM334 218l5 38-5 7 0-18zM579 168l5 57-5 9 0-33z"/>
<path fill="#ffd0f0" d="M304 289l-5-60 5-1 0 27zM334 263l-5-20 5-25 0 27zM579 234l-5-56 5-10 0 33z"/>
<path fill="#b0a050" d="M309 259l5 18-5-3 0-14z"/>
<path fill="#18a058" d="M314 267l5 8-5 2 0-7z"/>
<path fill="#18b868" d="M314 277l-5-18 5 8 0 3z"/>
<path fill="#20c858" d="M319 253l5 26-5-4 0-7zM679 180l5 31-5-3 0-10z"/>
<path fill="#20d860" d="M319 275l-5-8 5-14 0 15zM679 208l-5-15 5-13 0 18z"/>
<path fill="#18a048" d="M324 274l5 11-5-6 0-6zM344 258l5 15-5-11 0-1zM684 189l5 20-5 2 0-14z"/>
<path fill="#20b858" d="M324 279l-5-26 5 21 0-1z"/>
<path fill="#38c828" d="M329 243l5 20-5 22 0-19z"/>
<path fill="#40d830" d="M329 285l-5-11 5-31 0 23z"/>
<path fill="#b0a0a8" d="M339 250l5 12-5-6 0-10zM584 210l5 17-5-2 0-17z"/>
<path fill="#d0b0c8" d="M339 256l-5-38 5 32 0-4zM584 225l-5-57 5 42 0-2z"/>
<path fill="#18b858" d="M344 262l-5-12 5 8 0 3z"/>
<path fill="#20c048" d="M349 244l5 26-5 3 0-12z"/>
<path fill="#28d850" d="M349 273l-5-15 5-14 0 17zM669 218l-5-26 5-12 0 20z"/>
<path fill="#18a038" d="M354 254l5 13-5 3 0-11zM674 193l5 15-5 0 0-11z"/>
<path fill="#20b840" d="M354 270l-5-26 5 10 0 5zM674 208l-5-28 5 13 0 4z"/>
<path fill="#18a060" d="M359 250l5 29-5-12 0-5z"/>
<path fill="#18b878" d="M359 267l-5-13 5-4 0 12z"/>
<path fill="#20e088" d="M364 279l-5-29 5 0 0 13z"/>
<path fill="#18c080" d="M369 273l-5-23 5 8 0 4z"/>
<path fill="#18b8c0" d="M374 266l-5-8 5 8 0 0z"/>
<path fill="#1870b0" d="M379 262l5 14-5-3 0-4zM384 264l5 11-5 1 0-7zM524 235l5 9-5-2 0-3z"/>
<path fill="#20a0f8" d="M379 273l-5-7 5-4 0 7z"/>
<path fill="#1880d0" d="M384 276l-5-14 5 2 0 5zM524 242l-5-7 5 0 0 4z"/>
<path fill="#20c0d0" d="M389 255l5 9-5 11 0-11z"/>
<path fill="#20d8e8" d="M389 275l-5-11 5-9 0 9z"/>
<path fill="#1898a8" d="M394 267l5 3-5-6 0 0z"/>
<path fill="#2098e0" d="M399 268l5-6-5 8 0-3zM599 225l5-3-5 11 0-6z"/>
<path fill="#20a8f8" d="M399 270l-5-3 5 1 0-1zM599 233l-5-4 5-4 0 2z"/>
<path fill="#1878b0" d="M404 264l5 9-5-11 0 5zM594 229l5 4-5-4 0-1zM604 220l5 12-5-10 0 3z"/>
<path fill="#1888d0" d="M404 262l-5 6 5-4 0 3zM594 229l-5-9 5 9 0-1z"/>
<path fill="#1878d8" d="M409 258l5 6-5 9 0-8z"/>
<path fill="#1888f0" d="M409 273l-5-9 5-6 0 7z"/>
<path fill="#1060b0" d="M414 264l5 6-5-6 0 0zM454 249l5 18-5 1 0-10zM459 254l5 4-5 9 0-10zM529 239l5 9-5-4 0-2z"/>
<path fill="#1070d0" d="M414 264l-5-6 5 6 0 0z"/>
<path fill="#1068d8" d="M419 258l5 12-5 0 0-4z"/>
<path fill="#1070f0" d="M419 270l-5-6 5-6 0 8zM489 259l-5-14 5 7 0-1z"/>
<path fill="#1070d8" d="M424 256l5 10-5 4 0-8zM449 250l5 18-5-1 0-6z"/>
<path fill="#1078f0" d="M424 270l-5-12 5-2 0 6z"/>
<path fill="#20a0d8" d="M429 250l5 14-5 2 0-7z"/>
<path fill="#0860d8" d="M439 255l5 8-5 6 0-6z"/>
<path fill="#1068f0" d="M439 269l-5-5 5-9 0 8zM484 257l-5-4 5-8 0 9zM499 250l-5 1 5-8 0 7z"/>
<path fill="#1880f0" d="M449 267l-5-7 5-10 0 11z"/>
<path fill="#1888f8" d="M454 268l-5-18 5-1 0 9zM459 267l-5-18 5 5 0 3z"/>
<path fill="#0038a8" d="M464 255l5 3-5 0 0-2zM479 253l5 4-5-1 0-2z"/>
<path fill="#0040c8" d="M464 258l-5-4 5 1 0 1z"/>
<path fill="#20a8d8" d="M469 242l5 15-5 1 0-5zM544 226l5 16-5 0 0-5z"/>
<path fill="#0840c8" d="M479 256l-5-6 5 3 0 1z"/>
<path fill="#1060d8" d="M484 245l5 14-5-2 0-3z"/>
<path fill="#0850b0" d="M489 252l5-3-5 10 0-8zM494 251l5-1-5-1 0 1z"/>
<path fill="#1060c8" d="M494 249l-5 3 5-1 0-1z"/>
<path fill="#0850c8" d="M504 257l-5-14 5 8 0 1z"/>
<path fill="#000888" d="M504 251l5-1 5 4-5 2 0-3z"/>
<path fill="#0008c0" d="M504 251l5 5 0-3z"/>
<path fill="#0038d0" d="M509 250l5-7 5 10-5 1 0-4z"/>
<path fill="#0040e8" d="M509 250l5 4 0-4z"/>
<path fill="#1888e0" d="M519 235l5 7-5 11 0-10z"/>
<path fill="#2098f8" d="M519 253l-5-10 5-8 0 8z"/>
<path fill="#1878d0" d="M529 244l-5-9 5 4 0 3z"/>
<path fill="#0840a8" d="M534 237l5 11-5 0 0-5z"/>
<path fill="#0858e8" d="M534 248l-5-9 5-2 0 6zM539 248l-5-11 5 0 0 4z"/>
<path fill="#0850d8" d="M539 237l5 5-5 6 0-7z"/>
<path fill="#20d098" d="M549 216l5 19-5 7 0-12zM664 192l5 26-5-2 0-9z"/>
<path fill="#20e0a8" d="M549 242l-5-16 5-10 0 14zM664 216l-5-13 5-11 0 15z"/>
<path fill="#18a078" d="M554 225l5 16-5-6 0-6z"/>
<path fill="#18c090" d="M554 235l-5-19 5 9 0 4zM639 212l-5-12 5 8 0-1zM699 196l-5-6 5-4 0 9z"/>
<path fill="#1068b0" d="M564 228l5 9-5-5 0 0z"/>
<path fill="#1890f8" d="M564 232l-5 1 5-5 0 4z"/>
<path fill="#20c870" d="M569 205l5 25-5 7 0-12zM704 179l5 28-5 2 0-14z"/>
<path fill="#20e078" d="M569 237l-5-9 5-23 0 20zM704 209l-5-23 5-7 0 16z"/>
<path fill="#d8c828" d="M574 178l5 56-5-4 0-18z"/>
<path fill="#f0e028" d="M574 230l-5-25 5-27 0 34zM739 188l-5-22 5-20 0 30z"/>
<path fill="#18a880" d="M589 220l5 9-5-2 0-5zM639 208l5 0-5 4 0-5zM699 186l5 23-5-13 0-1z"/>
<path fill="#18c098" d="M589 227l-5-17 5 10 0 2z"/>
<path fill="#1890d0" d="M604 222l-5 3 5-5 0 5z"/>
<path fill="#20d0c0" d="M609 225l5-13-5 20 0-10z"/>
<path fill="#20e8d8" d="M609 232l-5-12 5 5 0-3z"/>
<path fill="#20c848" d="M614 191l5 37-5-16 0 2zM669 180l5 28-5 10 0-18z"/>
<path fill="#20d858" d="M614 212l-5 13 5-34 0 23z"/>
<path fill="#90e020" d="M619 228l-5-37 5-12 0 25z"/>
<path fill="#70a018" d="M624 186l5 25-5 7 0-20z"/>
<path fill="#a0c820" d="M629 176l5 40-5-5 0-14z"/>
<path fill="#b0e020" d="M629 211l-5-25 5-10 0 21z"/>
<path fill="#78a018" d="M634 200l5 12-5 4 0-15z"/>
<path fill="#90c018" d="M634 216l-5-40 5 24 0 1z"/>
<path fill="#d8c830" d="M644 161l5 40-5 7 0-14z"/>
<path fill="#f0e030" d="M644 208l-5 0 5-47 0 33z"/>
<path fill="#b0a028" d="M649 199l5 15-5-13 0-7z"/>
<path fill="#c8b828" d="M649 201l-5-40 5 38 0-5z"/>
<path fill="#18c0b0" d="M654 214l-5-15 5 12 0-2z"/>
<path fill="#20b850" d="M684 211l-5-31 5 9 0 8z"/>
<path fill="#40c828" d="M689 170l5 31-5 8 0-17z"/>
<path fill="#48e030" d="M689 209l-5-20 5-19 0 22z"/>
<path fill="#38a020" d="M694 190l5 6-5 5 0-12z"/>
<path fill="#40b820" d="M694 201l-5-31 5 20 0-1z"/>
<path fill="#28c030" d="M709 168l5 35-5 4 0-18z"/>
<path fill="#28d838" d="M709 207l-5-28 5-11 0 21z"/>
<path fill="#30c030" d="M714 180l5 6-5 17 0-19z"/>
<path fill="#30d838" d="M714 203l-5-35 5 12 0 4z"/>
<path fill="#18a030" d="M719 168l5 36-5-18 0-2z"/>
<path fill="#20b838" d="M719 186l-5-6 5-12 0 16z"/>
<path fill="#20c038" d="M724 170l5 20-5 14 0-21z"/>
<path fill="#28d840" d="M724 204l-5-36 5 2 0 13z"/>
<path fill="#18a040" d="M729 178l5 22-5-10 0-6zM749 169l5 30-5-14 0-5z"/>
<path fill="#20b848" d="M729 190l-5-20 5 8 0 6zM749 185l-5-19 5 3 0 11z"/>
<path fill="#20c040" d="M734 166l5 22-5 12 0-17z"/>
<path fill="#28d848" d="M734 200l-5-22 5-12 0 17z"/>
<path fill="#d8c820" d="M739 146l5 56-5-14 0-12z"/>
<path fill="#a8a018" d="M744 166l5 19-5 17 0-27z"/>
<path fill="#c8c020" d="M744 202l-5-56 5 20 0 9z"/>
<path fill="#1890b0" d="M189 303l4 14-5 2 0-8zM194 311l4-3-5 9 1-7zM254 301l4-6-5 9 1-6z"/>
<path fill="#20c8f0" d="M188 319l-4-15 5-1-1 8zM193 317l-4-14 5 8 0-1zM248 304l-4 1 5-15-1 11zM303 290l-4 2 5-3 0 0zM393 268l-4 7 5-11 0 5z"/>
<path fill="#1888b0" d="M199 310l4 3-5-5 0 2zM259 300l4 9-5-14 0 6zM284 297l4 1-5-7 1 4zM374 266l4 20-5-7 1-3zM379 273l4 13-5 0 0-8zM589 227l4 13-5-3 0-5z"/>
<path fill="#18a0d0" d="M198 308l-4 3 5-1-1 0zM258 295l-4 6 5-1-1 1zM378 286l-4-20 5 7-1 5z"/>
<path fill="#20d0b0" d="M204 293l4 7-5 13 1-9z"/>
<path fill="#20e8c0" d="M203 313l-4-3 5-17 0 11z"/>
<path fill="#18a880" d="M209 292l4 7-5 1 0-4z"/>
<path fill="#20e8b8" d="M208 300l-4-7 5-1-1 4zM703 213l-4-17 5 13 0-5zM708 197l-4 12 5-2-1-5z"/>
<path fill="#18a888" d="M214 303l4 9-5-13 1 3zM704 209l4-12-5 16 1-9zM709 207l4-10-5 0 0 5z"/>
<path fill="#18c0a0" d="M213 299l-4-7 5 11 0-1z"/>
<path fill="#20a8d8" d="M219 298l4 12-5 2 0-6zM584 225l4 12-5-2 1-2z"/>
<path fill="#20c0f0" d="M218 312l-4-9 5-5-1 8zM388 278l-4-2 5-1-1-1z"/>
<path fill="#18a8a0" d="M224 292l4 21-5-3 1-7zM314 277l4 21-5-3 1-9zM359 267l4 18-5-15 0 3zM634 216l4 14-5-13 1 1zM744 202l4-1-5-7 1 2zM754 199l4 5-5 8 1-12z"/>
<path fill="#20e8e0" d="M223 310l-4-12 5-6 0 11zM308 285l-4 4 5-15-1 12zM628 228l-4-10 5-7-1 7zM643 224l-4-12 5-4 0 7zM698 216l-4-15 5-5-1 10zM748 201l-4 1 5-17-1 15z"/>
<path fill="#18a8a8" d="M229 304l4 6-5 3 0-8z"/>
<path fill="#18c0c0" d="M228 313l-4-21 5 12-1 1zM633 217l-4-6 5 5 0 2z"/>
<path fill="#0840a8" d="M234 306l4 5-5-1 1-2zM459 267l4-1-5-2 0 2zM539 248l4-2-5 5 0-3zM544 242l4 12-5-8 1 2z"/>
<path fill="#0850c8" d="M233 310l-4-6 5 2 0 2zM543 246l-4 2 5-6 0 6z"/>
<path fill="#0028a0" d="M234 306l5 1 4 4-5 0 0-2zM444 263l5 4 4 6-5-3 0-2z"/>
<path fill="#0030c0" d="M234 306l4 5 0-2zM444 263l4 7 0-2z"/>
<path fill="#1060d8" d="M244 305l4-1-5 7 1-4zM384 276l4 2-5 8 1-8z"/>
<path fill="#1070f0" d="M243 311l-4-4 5-2 0 2zM493 263l-4-4 5-10 0 8z"/>
<path fill="#20b8d8" d="M249 290l4 14-5 0 0-3zM639 212l4 12-5 6 0-10zM694 201l4 15-5 2 1-7z"/>
<path fill="#18a8c8" d="M253 304l-4-14 5 11 0-3z"/>
<path fill="#20a0d8" d="M264 289l4 20-5 0 1-7z"/>
<path fill="#20b8f8" d="M263 309l-4-9 5-11 0 13z"/>
<path fill="#1880b0" d="M269 292l4 12-5 5 0-11zM399 270l4 3-5-3 0-1z"/>
<path fill="#20b8f0" d="M268 309l-4-20 5 3-1 6zM583 235l-4-1 5-9 0 8z"/>
<path fill="#20c8d0" d="M274 286l4 2-5 16 1-12z"/>
<path fill="#20d8e8" d="M273 304l-4-12 5-6 0 6z"/>
<path fill="#18a0a8" d="M279 295l4-4-5-3 0 2z"/>
<path fill="#18b8c0" d="M278 288l-4-2 5 9-1-5z"/>
<path fill="#1898d0" d="M283 291l-4 4 5 2 0-2zM588 237l-4-12 5 2-1 5z"/>
<path fill="#1070d8" d="M289 295l4-1-5 4 0-2zM369 273l4 6-5 4 0-5z"/>
<path fill="#1880f0" d="M288 298l-4-1 5-2-1 1zM368 283l-4-4 5-6-1 5zM418 275l-4-11 5 6-1-1zM558 253l-4-18 5 6-1 3z"/>
<path fill="#1058b0" d="M294 297l4 0-5-3 1 2zM424 270l4 2-5-4 1 2zM529 244l4 3-5 5 0-6z"/>
<path fill="#1068c8" d="M293 294l-4 1 5 2 0-1zM423 268l-4 2 5 0 0 0z"/>
<path fill="#1880e0" d="M299 292l4-2-5 7 0-3zM574 230l4 9-5 9 1-10z"/>
<path fill="#1890f8" d="M298 297l-4 0 5-5-1 2zM573 248l-4-11 5-7 0 8zM578 239l-4-9 5 4-1 0zM668 220l-4-4 5 2-1 0z"/>
<path fill="#20b0d8" d="M304 289l4-4-5 5 1-1zM389 275l4-7-5 10 0-4zM394 264l4 6-5-2 1 1z"/>
<path fill="#20d8c8" d="M309 274l4 21-5-10 0 1zM749 185l4 27-5-11 0-1z"/>
<path fill="#18c8b8" d="M313 295l-4-21 5 3 0 9zM358 270l-4 0 5-3-1 6zM743 194l-4-6 5 14 0-6z"/>
<path fill="#1898a8" d="M319 275l4 22-5 1 0-11zM324 279l4 10-5 8 1-12zM364 279l4 4-5 2 1-7z"/>
<path fill="#20d8f0" d="M318 298l-4-21 5-2-1 12zM323 297l-4-22 5 4 0 6z"/>
<path fill="#1878b0" d="M329 285l4-1-5 5 0-5zM404 262l4 15-5-4 1-3zM409 273l4 3-5 1 0-5zM609 232l4 1-5 8 0-9z"/>
<path fill="#1888d0" d="M328 289l-4-10 5 6-1-1zM408 277l-4-15 5 11-1-1z"/>
<path fill="#20c890" d="M334 263l4 18-5 3 1-6zM719 186l4 18-5 4 0-8z"/>
<path fill="#20e0a0" d="M333 284l-4 1 5-22 0 15zM718 208l-4-5 5-17-1 14z"/>
<path fill="#20c860" d="M339 256l4 18-5 7 0-13z"/>
<path fill="#20d868" d="M338 281l-4-18 5-7-1 12z"/>
<path fill="#18a048" d="M344 262l4 10-5 2 1-8z"/>
<path fill="#18b858" d="M343 274l-4-18 5 6 0 4z"/>
<path fill="#18a078" d="M349 273l4 5-5-6 0-1zM649 201l4 21-5-7 0-3zM654 214l4 8-5 0 1-7zM689 209l4 9-5-20 0 11zM724 204l4 6-5-6 1-3z"/>
<path fill="#18c088" d="M348 272l-4-10 5 11-1-2zM683 200l-4 8 5 3 0-7zM688 198l-4 13 5-2-1 0zM723 204l-4-18 5 18 0-3z"/>
<path fill="#20d0c8" d="M354 270l4 0-5 8 1-5zM629 211l4 6-5 11 0-10zM644 208l4 7-5 9 1-9zM699 196l4 17-5 3 0-10zM739 188l4 6-5 14 0-10z"/>
<path fill="#20e8d8" d="M353 278l-4-5 5-3 0 3zM613 233l-4-1 5-20 0 13zM738 208l-4-8 5-12-1 10z"/>
<path fill="#18b0c8" d="M363 285l-4-18 5 12 0-1z"/>
<path fill="#18a0c8" d="M373 279l-4-6 5-7 0 10z"/>
<path fill="#1068f0" d="M383 286l-4-13 5 3 0 2z"/>
<path fill="#1890d0" d="M398 270l-4-6 5 6-1-1zM608 241l-4-19 5 10-1 0z"/>
<path fill="#20a8f8" d="M403 273l-4-3 5-8 0 8zM603 236l-4-3 5-11 0 11zM623 230l-4-2 5-10 0 8zM673 216l-4 2 5-10 0 6z"/>
<path fill="#1068d8" d="M414 264l4 11-5 1 1-4zM494 249l4 8-5 6 1-6zM524 242l4 10-5 0 1-2z"/>
<path fill="#1078f0" d="M413 276l-4-3 5-9 0 8zM523 252l-4 1 5-11 0 8zM528 252l-4-10 5 2-1 2z"/>
<path fill="#1060b0" d="M419 270l4-2-5 7 0-6zM554 235l4 18-5-7 1-2zM559 241l4 4-5 8 0-9zM564 232l4 19-5-6 1-3zM569 237l4 11-5 3 0-9z"/>
<path fill="#0038d0" d="M424 270l5-4 4 7-5-1 0-2z"/>
<path fill="#0040e8" d="M424 270l4 2 0-2zM473 265l-4-7 5-1 0 4zM518 257l-4-3 5-1-1 1z"/>
<path fill="#0030a8" d="M434 264l4 7-5 2 1-5zM439 269l4 4-5-2 0-2zM474 257l4 7-5 1 1-4zM474 257l5-1 4 10-5-2 0-3z"/>
<path fill="#0048e8" d="M433 273l-4-7 5-2 0 4zM463 266l-4 1 5-9 0 6zM468 267l-4-9 5 0-1 4zM483 266l-4-10 5 1 0 3zM548 254l-4-12 5 0-1 4z"/>
<path fill="#0038c0" d="M438 271l-4-7 5 5-1 0zM474 257l4 7 0-3z"/>
<path fill="#0030d0" d="M439 269l5-6 4 7-5 3 1-4z"/>
<path fill="#0038e0" d="M439 269l4 4 1-4z"/>
<path fill="#0848d0" d="M454 268l4-4-5 9 1-5zM509 256l4-3-5 10 0-6z"/>
<path fill="#0850e8" d="M453 273l-4-6 5 1 0 0zM508 263l-4-6 5-1-1 1z"/>
<path fill="#0848c8" d="M458 264l-4 4 5-1-1-1zM503 256l-4-6 5 7 0-1z"/>
<path fill="#0040d0" d="M464 258l4 9-5-1 1-2zM484 257l4 2-5 7 1-6zM519 253l4-1-5 5 0-3zM549 242l4 4-5 8 0-8z"/>
<path fill="#0038a8" d="M469 258l4 7-5 2 0-5zM489 259l4 4-5-4 0 1zM514 254l4 3-5-4 1 2z"/>
<path fill="#0040c8" d="M488 259l-4-2 5 2-1 1z"/>
<path fill="#1050b0" d="M499 250l4 6-5 1 0-4z"/>
<path fill="#1060c8" d="M498 257l-4-8 5 1-1 3zM598 239l-4-10 5 4-1 1z"/>
<path fill="#0838a8" d="M504 257l4 6-5-7 1 0z"/>
<path fill="#0840c8" d="M513 253l-4 3 5-2 0 1z"/>
<path fill="#0850b0" d="M534 248l4 3-5-4 1 1zM599 233l4 3-5 3 0-5z"/>
<path fill="#1058c8" d="M533 247l-4-3 5 4 0 0z"/>
<path fill="#0860f0" d="M538 251l-4-3 5 0-1 0z"/>
<path fill="#1070d0" d="M553 246l-4-4 5-7 0 9z"/>
<path fill="#1888f8" d="M563 245l-4-4 5-9 0 10z"/>
<path fill="#1870d0" d="M568 251l-4-19 5 5-1 5z"/>
<path fill="#1068b0" d="M579 234l4 1-5 4 0-5zM669 218l4-2-5 4 0-2z"/>
<path fill="#1868b0" d="M594 229l4 10-5 1 1-6z"/>
<path fill="#1880d0" d="M593 240l-4-13 5 2 0 5z"/>
<path fill="#2098e0" d="M604 222l4 19-5-5 1-3zM624 218l4 10-5 2 1-4zM674 208l4 8-5 0 1-2z"/>
<path fill="#20d0c0" d="M614 212l4 11-5 10 1-8z"/>
<path fill="#18a898" d="M619 228l4 2-5-7 0 0z"/>
<path fill="#18c8b0" d="M618 223l-4-11 5 16-1-5z"/>
<path fill="#20d0f0" d="M638 230l-4-14 5-4-1 8zM693 218l-4-9 5-8 0 10z"/>
<path fill="#20e0a8" d="M648 215l-4-7 5-7-1 11zM678 216l-4-8 5 0-1 0z"/>
<path fill="#18c090" d="M653 222l-4-21 5 13 0 1z"/>
<path fill="#20d0b8" d="M659 211l4-4-5 15 0-8z"/>
<path fill="#20e8c8" d="M658 222l-4-8 5-3-1 3z"/>
<path fill="#18a890" d="M664 216l4 4-5-13 1 7zM714 203l4 5-5-11 1 7z"/>
<path fill="#18c0a8" d="M663 207l-4 4 5 5 0-2zM713 197l-4 10 5-4 0 1z"/>
<path fill="#20d098" d="M679 208l4-8-5 16 0-8z"/>
<path fill="#18a070" d="M684 211l4-13-5 2 1 4zM734 200l4 8-5-20 1 8z"/>
<path fill="#20c888" d="M729 190l4-2-5 22 0-12z"/>
<path fill="#20e098" d="M728 210l-4-6 5-14-1 8z"/>
<path fill="#18c080" d="M733 188l-4 2 5 10 0-4z"/>
<path fill="#18c8c0" d="M753 212l-4-27 5 14 0 1z"/>
<path fill="#1878d8" d="M193 317l5 1-5 9 0-7zM578 239l5 2-5 6 0-3z"/>
<path fill="#1888f8" d="M193 327l-5-8 5-2 0 3zM628 232l-5-2 5-2 0 3z"/>
<path fill="#20a8d8" d="M198 308l5 11-5-1 0-2z"/>
<path fill="#20c0f0" d="M198 318l-5-1 5-9 0 8zM253 307l-5-3 5 0 0 0zM618 240l-5-7 5-10 0 10z"/>
<path fill="#1888b0" d="M203 313l5 5-5 1 0-5zM238 311l5-6-5 1 0 2zM258 295l5 19-5-13 0 3zM263 309l5-5-5 10 0-8zM288 298l5 1-5 4 0-5zM723 204l5 15-5-11 0 2z"/>
<path fill="#18a0c8" d="M203 319l-5-11 5 5 0 1zM258 301l-5 3 5-9 0 9z"/>
<path fill="#20d0c8" d="M208 300l5 6-5 12 0-9zM358 270l5 8-5 7 0-7z"/>
<path fill="#20e8e0" d="M208 318l-5-5 5-13 0 9zM343 293l-5-12 5-7 0 11zM348 292l-5-18 5-2 0 11zM353 293l-5-21 5 6 0 4z"/>
<path fill="#18a8a0" d="M213 299l5 11-5-4 0-2zM218 312l5 2-5-4 0-1zM348 272l5 21-5-1 0-9zM353 278l5 7-5 8 0-11zM363 285l5 6-5-13 0 3zM653 222l5-6-5 5 0-3zM698 216l5 2-5-11 0 8z"/>
<path fill="#18c8b8" d="M213 306l-5-6 5-1 0 5zM363 278l-5-8 5 15 0-4zM698 207l-5 11 5-2 0-1z"/>
<path fill="#18c8c0" d="M218 310l-5-11 5 13 0-3zM653 221l-5-6 5 7 0-4z"/>
<path fill="#1058b0" d="M223 310l5 5-5-1 0-1zM268 309l5 4-5-9 0 5zM298 297l5 6-5 5 0-8zM378 286l5-4-5 7 0-5z"/>
<path fill="#1078f0" d="M223 314l-5-2 5-2 0 3zM378 289l-5-10 5 7 0-2z"/>
<path fill="#0848a8" d="M228 313l5 6-5-4 0-1zM528 252l5 8-5-6 0 0zM543 246l5 12-5-5 0-1z"/>
<path fill="#0850c8" d="M228 315l-5-5 5 3 0 1zM543 253l-5-2 5-5 0 6z"/>
<path fill="#20a0e0" d="M233 310l5-4-5 13 0-7zM338 281l5 12-5 3 0-8z"/>
<path fill="#20b0f8" d="M233 319l-5-6 5-3 0 2zM338 296l-5-12 5-3 0 7z"/>
<path fill="#20b8f0" d="M238 306l-5 4 5 1 0-3z"/>
<path fill="#1880b0" d="M243 311l5 7-5-13 0 6zM318 298l5 4-5-12 0 6zM373 279l5 10-5-10 0 3zM673 216l5 7-5-4 0 1z"/>
<path fill="#1898d0" d="M243 305l-5 6 5 0 0 0zM373 279l-5 4 5-4 0 3zM673 219l-5 1 5-4 0 4z"/>
<path fill="#1078d8" d="M248 304l5 3-5 11 0-8z"/>
<path fill="#1880f0" d="M248 318l-5-7 5-7 0 6zM298 308l-5-14 5 3 0 3zM423 280l-5-5 5-7 0 6zM578 247l-5 1 5-9 0 5z"/>
<path fill="#20b0d8" d="M253 304l5-3-5 6 0-3zM393 268l5 7-5 7 0-6zM618 223l5 14-5 3 0-7z"/>
<path fill="#18a0d0" d="M263 314l-5-19 5 14 0-3zM288 303l-5-12 5 7 0 0zM723 208l-5 0 5-4 0 6z"/>
<path fill="#1068c8" d="M268 304l-5 5 5 0 0 0zM428 275l-5-7 5 4 0 1z"/>
<path fill="#0028c8" d="M268 309l5-5 5 5-5 4 0-4z"/>
<path fill="#0030e0" d="M268 309l5 4 0-4zM438 271l5 11 0-6zM463 266l5 10 0-5z"/>
<path fill="#20c0d0" d="M278 288l5 19-5 2 0-7z"/>
<path fill="#20d8e8" d="M278 309l-5-5 5-16 0 14zM283 307l-5-19 5 3 0 6z"/>
<path fill="#18a0a8" d="M283 291l5 12-5 4 0-10zM638 230l5-4-5-2 0 0zM748 201l5 8-5-5 0-2z"/>
<path fill="#1060b0" d="M293 294l5 14-5-9 0 1zM428 272l5 4-5-1 0-2zM583 235l5 14-5-8 0 0zM628 228l5 5-5-1 0-1z"/>
<path fill="#1070d0" d="M293 299l-5-1 5-4 0 6zM583 241l-5-2 5-4 0 6z"/>
<path fill="#1880e0" d="M303 290l5 10-5 3 0-5z"/>
<path fill="#1890f8" d="M303 303l-5-6 5-7 0 8z"/>
<path fill="#20b8d8" d="M308 285l5 8-5 7 0-8zM703 213l5-3-5 8 0-4z"/>
<path fill="#20c8f0" d="M308 300l-5-10 5-5 0 7zM393 282l-5-4 5-10 0 8zM703 218l-5-2 5-3 0 1z"/>
<path fill="#1890b0" d="M313 295l5-5-5 3 0-2zM398 270l5 4-5 1 0-3zM623 230l5 2-5 5 0-7z"/>
<path fill="#18a8c8" d="M313 293l-5-8 5 10 0-4zM398 275l-5-7 5 2 0 2zM623 237l-5-14 5 7 0 0z"/>
<path fill="#1890d0" d="M318 290l-5 5 5 3 0-2zM643 226l-5 4 5-6 0 4z"/>
<path fill="#0040d0" d="M323 297l5 0-5 5 0-4zM448 270l5 2-5 6 0-5zM488 259l5 9-5 2 0-4zM503 256l5 5-5 8 0-8zM573 248l5-1-5 7 0-4z"/>
<path fill="#0048e8" d="M323 302l-5-4 5-1 0 1zM448 278l-5-5 5-3 0 3zM488 270l-5-4 5-7 0 7zM498 264l-5-1 5-6 0 6zM503 269l-5-12 5-1 0 5zM573 254l-5-3 5-3 0 2z"/>
<path fill="#0858d8" d="M328 289l5 5-5 3 0-3z"/>
<path fill="#0860f0" d="M328 297l-5 0 5-8 0 5z"/>
<path fill="#1870b0" d="M333 284l5 12-5-2 0-3zM383 286l5-8-5 4 0 1zM593 240l5 2-5-5 0 2z"/>
<path fill="#2098f8" d="M333 294l-5-5 5-5 0 7zM383 282l-5 4 5 0 0-3zM388 278l-5 8 5-8 0 3zM408 282l-5-9 5 4 0-1z"/>
<path fill="#20d0d0" d="M343 274l5 18-5 1 0-8z"/>
<path fill="#20e8d8" d="M358 285l-5-7 5-8 0 8zM658 216l-5 6 5 0 0-4z"/>
<path fill="#20a0d8" d="M368 283l5-4-5 12 0-7z"/>
<path fill="#20b8f8" d="M368 291l-5-6 5-2 0 1z"/>
<path fill="#1888e0" d="M388 278l5 4-5-4 0 3zM408 277l5-3-5 8 0-6z"/>
<path fill="#1878b0" d="M403 273l5 9-5-8 0 1zM643 224l5 9-5-7 0 2z"/>
<path fill="#1888d0" d="M403 274l-5-4 5 3 0 2z"/>
<path fill="#1868b0" d="M413 276l5 5-5-7 0 3z"/>
<path fill="#1878d0" d="M413 274l-5 3 5-1 0 1zM753 209l-5-8 5 11 0-3z"/>
<path fill="#0028a0" d="M413 276l5-1 5 5-5 1 0-3zM433 273l5-2 5 11-5-5 0-1zM463 266l5 1 5 7-5 2 0-5zM563 245l5 6 5 3-5 3 0-5z"/>
<path fill="#0038e0" d="M413 276l5 5 0-3zM558 253l5 1 0-2z"/>
<path fill="#1070d8" d="M423 268l5 7-5 5 0-6z"/>
<path fill="#0038a8" d="M433 273l5 4-5-1 0-2zM493 263l5 1-5 4 0-4zM498 257l5 12-5-5 0-1zM508 263l5 2-5-4 0 0zM518 257l5 7-5 2 0-6zM558 253l5 1-5-4 0 1z"/>
<path fill="#0040c8" d="M433 276l-5-4 5 1 0 1zM493 268l-5-9 5 4 0 1zM508 261l-5-5 5 7 0-2zM558 250l-5-4 5 7 0-2z"/>
<path fill="#0028c0" d="M433 273l5 4 0-1z"/>
<path fill="#0020a0" d="M438 271l5 2 5 5-5 4 0-6z"/>
<path fill="#0840a8" d="M453 273l5-4-5 3 0-1zM463 266l5 10-5-7 0 0zM483 266l5 4-5-6 0 2zM598 239l5 1-5 2 0-2zM603 236l5 10-5-6 0 0z"/>
<path fill="#0848c8" d="M453 272l-5-2 5 3 0-2zM463 269l-5-5 5 2 0 3zM483 264l-5 0 5 2 0 0zM603 240l-5-1 5-3 0 4z"/>
<path fill="#0850d8" d="M458 264l5 5-5 0 0 0zM613 233l5 7-5 1 0-2z"/>
<path fill="#0858f0" d="M458 269l-5 4 5-9 0 5zM598 242l-5-2 5-1 0 1z"/>
<path fill="#1068d8" d="M473 265l5-2-5 11 0-7z"/>
<path fill="#1070f0" d="M473 274l-5-7 5-2 0 2zM538 259l-5-12 5 4 0 1z"/>
<path fill="#1050b0" d="M478 264l5 0-5-1 0 1z"/>
<path fill="#1060c8" d="M478 263l-5 2 5-1 0 0z"/>
<path fill="#0848d0" d="M513 253l5 13-5-1 0-3zM758 204l5 11-5-1 0-3z"/>
<path fill="#0850e8" d="M513 265l-5-2 5-10 0 9zM758 214l-5-2 5-8 0 7z"/>
<path fill="#0840c8" d="M518 266l-5-13 5 4 0 3z"/>
<path fill="#0860d8" d="M523 252l5 2-5 10 0-7z"/>
<path fill="#1068f0" d="M523 264l-5-7 5-5 0 5zM533 260l-5-8 5-5 0 7zM548 258l-5-12 5 8 0-2zM553 249l-5 5 5-8 0 4z"/>
<path fill="#0858c8" d="M528 254l-5-2 5 0 0 2z"/>
<path fill="#1060d8" d="M533 247l5 12-5 1 0-6zM553 246l5 4-5-1 0 1z"/>
<path fill="#0850b0" d="M538 251l5 2-5 6 0-7zM548 254l5-5-5 9 0-6z"/>
<path fill="#0030c8" d="M558 253l5-8 5 12-5-3 0-2z"/>
<path fill="#0030c0" d="M563 245l5 12 0-5z"/>
<path fill="#2090e0" d="M588 237l5 0-5 12 0-9z"/>
<path fill="#20a0f8" d="M588 249l-5-14 5 2 0 3z"/>
<path fill="#1880d0" d="M593 237l-5 0 5 3 0-1z"/>
<path fill="#0030a8" d="M608 241l5 0-5 5 0-5z"/>
<path fill="#0040e8" d="M608 246l-5-10 5 5 0 0z"/>
<path fill="#0858e8" d="M613 241l-5 0 5-8 0 6z"/>
<path fill="#20c8d0" d="M633 217l5 7-5 9 0-7zM678 216l5-3-5 10 0-6zM728 210l5-8-5 17 0-10zM743 194l5 10-5 2 0-3z"/>
<path fill="#20e0e8" d="M633 233l-5-5 5-11 0 9zM678 223l-5-7 5 0 0 1zM728 219l-5-15 5 6 0-1zM743 206l-5 2 5-14 0 9z"/>
<path fill="#18c0c0" d="M638 224l-5-7 5 13 0-6zM748 204l-5-10 5 7 0 1z"/>
<path fill="#20c0d8" d="M648 215l5 6-5 12 0-10z"/>
<path fill="#20d0f0" d="M648 233l-5-9 5-9 0 8z"/>
<path fill="#18a898" d="M658 222l5-8-5 2 0 2z"/>
<path fill="#18a890" d="M663 207l5 18-5-11 0 3zM668 220l5-1-5 6 0-7zM718 208l5 0-5 11 0-11z"/>
<path fill="#20e8c8" d="M663 214l-5 8 5-15 0 10z"/>
<path fill="#18c0a8" d="M668 225l-5-18 5 13 0-2zM718 219l-5-22 5 11 0 0z"/>
<path fill="#20d098" d="M683 200l5 11-5 2 0-3z"/>
<path fill="#20e0a8" d="M683 213l-5 3 5-16 0 10z"/>
<path fill="#18a070" d="M688 198l5 12-5 1 0-6zM693 218l5-11-5 3 0-2z"/>
<path fill="#20e0a0" d="M688 211l-5-11 5-2 0 7z"/>
<path fill="#18c088" d="M693 210l-5-12 5 20 0-10z"/>
<path fill="#20d0a8" d="M708 197l5 19-5-6 0-1z"/>
<path fill="#20e8b8" d="M708 210l-5 3 5-16 0 12z"/>
<path fill="#18a888" d="M713 197l5 22-5-3 0-9z"/>
<path fill="#18c098" d="M713 216l-5-19 5 0 0 10z"/>
<path fill="#20c888" d="M733 188l5 10-5 4 0-2z"/>
<path fill="#20e098" d="M733 202l-5 8 5-22 0 12z"/>
<path fill="#18a068" d="M738 208l5-2-5-8 0 2z"/>
<path fill="#18c080" d="M738 198l-5-10 5 20 0-8z"/>
<path fill="#1068b0" d="M753 212l5 2-5-5 0 0z"/>
<path fill="#0038a8" d="M193 327l5 5-5-3 0 0zM353 293l5 9-5 0 0-5zM438 277l5 5-5 0 0-3zM563 254l5 3-5 4 0-5z"/>
<path fill="#0040c8" d="M193 329l-5 0 5-2 0 2zM438 282l-5-6 5 1 0 2z"/>
<path fill="#1878d8" d="M198 318l5 14-5 0 0-5zM283 307l5-2-5 13 0-8zM618 240l5-2-5 12 0-8z"/>
<path fill="#1888f0" d="M198 332l-5-5 5-9 0 9zM283 318l-5-9 5-2 0 3zM293 309l-5-6 5-4 0 6zM618 250l-5-9 5-1 0 2z"/>
<path fill="#1060b0" d="M203 319l5 8-5 5 0-8zM293 299l5 11-5-1 0-4zM298 308l5 5-5-3 0-2zM588 249l5 1-5 6 0-7zM633 233l5 6-5-1 0-2z"/>
<path fill="#1888f8" d="M203 332l-5-14 5 1 0 5zM288 305l-5 2 5-4 0 3z"/>
<path fill="#0850b0" d="M208 318l5 8-5 1 0-5zM483 264l5 14-5-4 0-4zM558 250l5 11-5 0 0-6z"/>
<path fill="#1070f0" d="M208 327l-5-8 5-1 0 4zM448 281l-5 1 5-4 0 1zM453 274l-5 4 5-6 0 3zM478 279l-5-5 5-11 0 9z"/>
<path fill="#20c8d0" d="M213 306l5 17-5 3 0-8zM733 202l5 17-5 6 0-9z"/>
<path fill="#20e0e8" d="M213 326l-5-8 5-12 0 12z"/>
<path fill="#18a0a8" d="M218 310l5 14-5-1 0-7zM683 213l5 22-5-8 0-3z"/>
<path fill="#18c0c0" d="M218 323l-5-17 5 4 0 6zM693 219l-5-8 5-1 0 6z"/>
<path fill="#1880b0" d="M223 314l5 2-5 8 0-8zM318 290l5 17-5 0 0-8zM323 302l5 2-5 3 0-6zM673 219l5 16-5-4 0-3zM678 223l5 4-5 8 0-9zM728 219l5 6-5-5 0-2zM748 204l5 15-5-1 0-6zM753 209l5 9-5 1 0-7z"/>
<path fill="#20b8f8" d="M223 324l-5-14 5 4 0 2zM748 218l-5-12 5-2 0 8z"/>
<path fill="#1878b0" d="M228 315l5 3-5-2 0 0zM388 278l5 10-5-5 0 0z"/>
<path fill="#1888d0" d="M228 316l-5-2 5 1 0 1zM268 307l-5 7 5-10 0 7zM408 286l-5-12 5 8 0 1zM598 246l-5-9 5 5 0 0z"/>
<path fill="#1058b0" d="M233 319l5 0-5-1 0 0zM273 313l5 6-5 0 0-5zM423 280l5 3-5-4 0 2zM503 269l5-6-5 4 0-1zM508 261l5 7-5-5 0 2zM543 253l5 11-5-9 0 3zM718 219l5 5-5 0 0-3z"/>
<path fill="#1068c8" d="M233 318l-5-3 5 4 0-1zM273 319l-5-15 5 9 0 1zM423 279l-5 2 5-1 0 1zM503 267l-5-3 5 5 0-3zM543 255l-5 4 5-6 0 5zM718 224l-5-8 5 3 0 2z"/>
<path fill="#20a0e0" d="M238 306l5 17-5-4 0-2zM383 282l5 1-5 1 0 0z"/>
<path fill="#20b0f8" d="M238 319l-5 0 5-13 0 11zM318 307l-5-14 5-3 0 9zM383 284l-5 5 5-7 0 2zM673 231l-5-6 5-6 0 9zM678 235l-5-16 5 4 0 3z"/>
<path fill="#1888b0" d="M243 305l5 19-5-1 0-9zM248 318l5-6-5 12 0-9zM258 301l5 16-5-5 0-3zM263 314l5-7-5 10 0-7zM378 289l5-5-5 4 0-3zM628 232l5 6-5-5 0 2z"/>
<path fill="#20b8f0" d="M243 323l-5-17 5-1 0 9zM373 285l-5 6 5-12 0 7zM723 224l-5-5 5-11 0 10z"/>
<path fill="#1898d0" d="M248 324l-5-19 5 13 0-3zM378 288l-5-9 5 10 0-4zM728 220l-5-12 5 11 0-1zM753 219l-5-15 5 5 0 3z"/>
<path fill="#1880e0" d="M253 307l5 5-5 0 0 0zM338 296l5-2-5 9 0-6z"/>
<path fill="#1890f8" d="M253 312l-5 6 5-11 0 5zM338 303l-5-9 5 2 0 1zM413 291l-5-9 5-8 0 9z"/>
<path fill="#20c0f0" d="M258 312l-5-5 5-6 0 8zM623 238l-5 2 5-3 0 0zM628 233l-5 4 5-5 0 3z"/>
<path fill="#18a0c8" d="M263 317l-5-16 5 13 0-4z"/>
<path fill="#1870b0" d="M268 304l5 15-5-12 0 4zM393 282l5 10-5-4 0-3zM408 282l5 9-5-5 0-3zM418 281l5-2-5 5 0-4zM598 242l5 0-5 4 0-4z"/>
<path fill="#0028c8" d="M273 313l5-4 5 9-5 1 0-4z"/>
<path fill="#0028d8" d="M273 313l5 6 0-4z"/>
<path fill="#1068b0" d="M288 303l5 6-5-4 0 1zM343 293l5 6-5-5 0 2z"/>
<path fill="#1070d0" d="M298 310l-5-11 5 9 0 0zM588 256l-5-15 5 8 0 0z"/>
<path fill="#0030d0" d="M298 308l5-5 5 10-5 0 0-4z"/>
<path fill="#0038e0" d="M298 308l5 5 0-4z"/>
<path fill="#0848d0" d="M308 300l5 10-5 3 0-7zM498 264l5 3-5 2 0-2z"/>
<path fill="#0850e8" d="M308 313l-5-10 5-3 0 6zM328 304l-5-2 5-5 0 4zM353 302l-5-10 5 1 0 4zM498 269l-5-1 5-4 0 3zM563 261l-5-11 5 4 0 2zM613 245l-5 1 5-5 0 5z"/>
<path fill="#1890e0" d="M313 293l5 14-5 3 0-8zM593 237l5 9-5 4 0-4z"/>
<path fill="#20a0f8" d="M313 310l-5-10 5-7 0 9zM358 302l-5-9 5-8 0 7zM593 250l-5-1 5-12 0 9z"/>
<path fill="#1890d0" d="M323 307l-5-17 5 12 0-1zM388 283l-5-1 5-4 0 5z"/>
<path fill="#0048d0" d="M328 297l5 5-5 2 0-3z"/>
<path fill="#0848a8" d="M333 294l5 9-5-1 0-3zM433 276l5 6-5-2 0-2zM533 260l5 4-5 0 0-4zM758 214l5 2-5 2 0-4z"/>
<path fill="#0860f0" d="M333 302l-5-5 5-3 0 5z"/>
<path fill="#1878d0" d="M343 294l-5 2 5-3 0 3zM603 242l-5 0 5-2 0 2z"/>
<path fill="#0838a8" d="M348 292l5 10-5-3 0-3zM613 241l5 9-5-5 0 1z"/>
<path fill="#0848c8" d="M348 299l-5-6 5-1 0 4zM468 282l-5-13 5 7 0 0zM488 278l-5-14 5 6 0 2zM608 245l-5-5 5 6 0-2z"/>
<path fill="#2090e0" d="M358 285l5 3-5 14 0-10zM398 275l5 17-5 0 0-7z"/>
<path fill="#1898a8" d="M363 278l5 21-5-11 0 0z"/>
<path fill="#18b0c8" d="M363 288l-5-3 5-7 0 10z"/>
<path fill="#1898b0" d="M368 291l5-6-5 14 0-11z"/>
<path fill="#20d0f0" d="M368 299l-5-21 5 13 0-3zM708 220l-5-2 5-8 0 6z"/>
<path fill="#20a8d8" d="M373 279l5 9-5-3 0 1zM623 237l5-4-5 5 0-1zM723 208l5 12-5 4 0-6z"/>
<path fill="#1880d0" d="M393 288l-5-10 5 4 0 3zM418 284l-5-10 5 7 0-1z"/>
<path fill="#20a8f8" d="M398 292l-5-10 5-7 0 10zM403 292l-5-17 5-1 0 8z"/>
<path fill="#2098e0" d="M403 274l5 12-5 6 0-10z"/>
<path fill="#1888e0" d="M413 274l5 10-5 7 0-8z"/>
<path fill="#0858d8" d="M428 275l5 5-5 3 0-3zM528 254l5 10-5 2 0-4z"/>
<path fill="#1068f0" d="M428 283l-5-3 5-5 0 5zM528 266l-5-2 5-10 0 8zM553 258l-5 0 5-9 0 7z"/>
<path fill="#0858c8" d="M433 280l-5-5 5 1 0 2zM533 264l-5-10 5 6 0 0zM558 261l-5-12 5 1 0 5zM758 218l-5-9 5 5 0 0z"/>
<path fill="#0028a0" d="M438 277l5 5 5-1-5 1 0-2z"/>
<path fill="#0028c0" d="M438 277l5 5 0-2z"/>
<path fill="#1060d8" d="M448 278l5-4-5 7 0-2zM553 249l5 12-5-3 0-2z"/>
<path fill="#1068d8" d="M453 272l5 4-5-2 0 1zM478 263l5 11-5 5 0-7z"/>
<path fill="#0840a8" d="M458 269l5 13-5-6 0-1zM463 269l5 13-5 0 0-6zM468 276l5 3-5 3 0-6zM488 270l5 6-5 2 0-6zM548 258l5 0-5 6 0-6zM608 246l5-1-5 0 0-1z"/>
<path fill="#0850c8" d="M458 276l-5-4 5-3 0 6z"/>
<path fill="#0858f0" d="M463 282l-5-13 5 0 0 7z"/>
<path fill="#000890" d="M468 276l5-2 5 5-5 0 0-2z"/>
<path fill="#0010c8" d="M468 276l5 3 0-2z"/>
<path fill="#1060c8" d="M483 274l-5-11 5 1 0 6z"/>
<path fill="#0040d0" d="M493 268l5 1-5 7 0-5zM578 247l5 11-5-1 0-3z"/>
<path fill="#0040e8" d="M493 276l-5-6 5-2 0 3z"/>
<path fill="#1078f0" d="M508 263l-5 6 5-8 0 4zM538 264l-5-4 5-1 0 1z"/>
<path fill="#0030a8" d="M513 265l5 1-5 2 0-3zM763 215l5 0-5 1 0-1z"/>
<path fill="#0038c0" d="M513 268l-5-7 5 4 0 0zM763 216l-5-2 5 1 0 0z"/>
<path fill="#0028a8" d="M513 265l5 1 5 0-5 0 0 0zM563 254l5 3 5-2-5 2 0-1zM568 257l5-3 5 3-5-2 0 1z"/>
<path fill="#0030c0" d="M513 265l5 1 0 0zM563 254l5 3 0-1z"/>
<path fill="#0020a0" d="M518 266l5-2 5 2-5 0 0 0z"/>
<path fill="#0030e0" d="M518 266l5 0 0 0z"/>
<path fill="#1070d8" d="M538 259l5-4-5 9 0-4z"/>
<path fill="#0858e8" d="M548 264l-5-11 5 5 0 0z"/>
<path fill="#0038e8" d="M568 257l5-2 0 1z"/>
<path fill="#0048e8" d="M578 257l-5-3 5-7 0 7z"/>
<path fill="#1078d8" d="M583 241l5 15-5 2 0-8z"/>
<path fill="#1880f0" d="M583 258l-5-11 5-6 0 9z"/>
<path fill="#1868b0" d="M603 240l5 5-5-3 0 0z"/>
<path fill="#1870d0" d="M633 238l-5-6 5 1 0 3z"/>
<path fill="#20d0c8" d="M638 224l5 1-5 14 0-9z"/>
<path fill="#20e8e0" d="M638 239l-5-6 5-9 0 6zM658 237l-5-16 5-5 0 12zM688 235l-5-22 5-2 0 9z"/>
<path fill="#18a8a0" d="M643 226l5 2-5-3 0 1zM658 216l5 24-5-3 0-9zM693 210l5 15-5-6 0-3z"/>
<path fill="#18c8b8" d="M643 225l-5-1 5 2 0 0zM668 225l-5-11 5 11 0-1zM703 223l-5-16 5 11 0-1z"/>
<path fill="#1890b0" d="M648 233l5 2-5-7 0 2zM713 216l5 8-5-8 0 0z"/>
<path fill="#18a8c8" d="M648 228l-5-2 5 7 0-3zM713 216l-5-6 5 6 0 0z"/>
<path fill="#20b0d8" d="M653 221l5 16-5-2 0-3z"/>
<path fill="#20c8f0" d="M653 235l-5-2 5-12 0 11z"/>
<path fill="#20d0c0" d="M663 214l5 11-5 15 0-16zM698 207l5 16-5 2 0-9z"/>
<path fill="#20e8d8" d="M663 240l-5-24 5-2 0 10zM698 225l-5-15 5-3 0 9z"/>
<path fill="#18a898" d="M668 225l5 6-5-6 0-1zM703 218l5 2-5 3 0-6zM738 198l5 23-5-2 0-9zM743 206l5 12-5 3 0-10z"/>
<path fill="#20d8e8" d="M683 227l-5-4 5-10 0 11zM733 225l-5-6 5-17 0 14z"/>
<path fill="#20d0d0" d="M688 211l5 8-5 16 0-15z"/>
<path fill="#20b8d8" d="M708 210l5 6-5 4 0-4z"/>
<path fill="#20e8d0" d="M738 219l-5-17 5-4 0 12z"/>
<path fill="#18c8b0" d="M743 221l-5-23 5 8 0 5z"/>
<path fill="#0838a8" d="M198 332l5 5-5-3 0-1zM413 291l5-1-5 6 0-5zM418 284l5 9-5-3 0 0z"/>
<path fill="#0848c8" d="M198 334l-5-5 5 3 0 1zM353 303l-5-4 5 3 0 1z"/>
<path fill="#0850d0" d="M203 332l5 0-5 5 0-4z"/>
<path fill="#0858e8" d="M203 337l-5-5 5 0 0 1zM208 332l-5 0 5-5 0 4zM593 261l-5-5 5-6 0 5z"/>
<path fill="#0840a8" d="M208 327l5 7-5-2 0-1zM353 302l5 7-5-6 0 0zM473 279l5 6-5-7 0 3z"/>
<path fill="#0030a8" d="M213 326l5 12-5-4 0-3zM443 282l5 5-5-1 0-2zM538 264l5 2-5 1 0-2zM568 257l5-2 5 5-5 1 0-3zM658 237l5 3 5 6-5-1 0-3z"/>
<path fill="#0038c0" d="M213 334l-5-7 5-1 0 5zM658 237l5 8 0-3z"/>
<path fill="#0850d8" d="M218 323l5 5-5 10 0-9zM468 282l5-4-5 6 0-2zM593 250l5 3-5 8 0-6z"/>
<path fill="#0860f0" d="M218 338l-5-12 5-3 0 6zM438 291l-5-11 5 2 0 3zM468 284l-5-2 5 0 0 0z"/>
<path fill="#0848a8" d="M223 324l5 5-5-1 0-2zM438 282l5 4-5 5 0-6zM493 276l5 3-5-6 0 3zM728 220l5 11-5-5 0-1zM733 225l5 3-5 3 0-5z"/>
<path fill="#0850c8" d="M223 328l-5-5 5 1 0 2zM473 278l-5 4 5-3 0 2zM493 273l-5 5 5-2 0 0zM733 231l-5-11 5 5 0 1z"/>
<path fill="#2090e0" d="M228 316l5 14-5-1 0-4zM268 307l5 16-5-4 0-3zM323 307l5-6-5 16 0-9zM363 288l5 17-5-8 0 1z"/>
<path fill="#20a0f8" d="M228 329l-5-5 5-8 0 9zM268 319l-5-2 5-10 0 9zM323 317l-5-10 5 0 0 1zM363 297l-5 5 5-14 0 10zM623 242l-5 8 5-12 0 7z"/>
<path fill="#1870b0" d="M233 318l5 15-5-3 0-6zM273 319l5-3-5 7 0-7zM348 299l5 4-5-5 0 0zM398 292l5-5-5 8 0-5zM403 292l5-4-5-1 0 3zM583 258l5-2-5-5 0 5zM708 220l5 10-5-4 0-1zM758 218l5 0-5-2 0 2z"/>
<path fill="#1888d0" d="M233 330l-5-14 5 2 0 6zM273 323l-5-16 5 12 0-3zM368 305l-5-17 5 11 0-2zM618 243l-5 2 5 5 0-5z"/>
<path fill="#1070d8" d="M238 319l5 3-5 11 0-10zM358 302l5-5-5 12 0-7zM423 279l5 9-5 5 0-7zM503 267l5 1-5 7 0-5zM523 266l5-1-5 5 0-3z"/>
<path fill="#1078f0" d="M238 333l-5-15 5 1 0 4zM523 270l-5-4 5 0 0 1zM738 228l-5-3 5-6 0 5zM763 218l-5 0 5-2 0 1z"/>
<path fill="#1058b0" d="M243 323l5 0-5-1 0 0zM263 317l5 2-5 8 0-8zM433 280l5 11-5-8 0 1zM743 221l5 4-5-3 0 0zM763 216l5 1-5 1 0-1z"/>
<path fill="#1068c8" d="M243 322l-5-3 5 4 0-1zM433 283l-5 0 5-3 0 4zM508 268l-5-1 5-4 0 5z"/>
<path fill="#0850b0" d="M248 324l5-3-5 2 0 0zM278 319l5 1-5-4 0 2zM338 303l5 0-5 1 0-1zM458 276l5 9-5-3 0-3zM658 237l5 8-5 3 0-7zM678 235l5 5-5 0 0-4z"/>
<path fill="#1068f0" d="M248 323l-5 0 5 1 0-1zM658 248l-5-13 5 2 0 4z"/>
<path fill="#1880d8" d="M253 312l5 16-5-7 0 0z"/>
<path fill="#1888f8" d="M253 321l-5 3 5-12 0 9zM258 328l-5-16 5 0 0 8zM288 324l-5-6 5-13 0 9zM598 253l-5-3 5-4 0 3z"/>
<path fill="#1068b0" d="M258 312l5 15-5 1 0-8zM293 309l5 9-5-7 0 0z"/>
<path fill="#1880f0" d="M263 327l-5-15 5 5 0 2zM358 309l-5-7 5 0 0 0zM423 293l-5-9 5-5 0 7zM428 288l-5-9 5 4 0 0zM503 275l-5-6 5-2 0 3zM683 240l-5-5 5-8 0 7z"/>
<path fill="#1058c8" d="M278 316l-5 3 5 0 0-1zM338 304l-5-2 5 1 0 0zM678 240l-5-9 5 4 0 1z"/>
<path fill="#0020a0" d="M278 319l5-1 5 6-5-4 0 0zM313 310l5-3 5 10-5 1 0-5z"/>
<path fill="#0020b8" d="M278 319l5 1 0 0z"/>
<path fill="#1878d8" d="M288 305l5 6-5 13 0-10zM598 246l5 2-5 5 0-4z"/>
<path fill="#1878d0" d="M293 311l-5-6 5 4 0 2z"/>
<path fill="#0038a8" d="M298 310l5 10-5-2 0-4zM463 282l5 2-5 1 0-3zM588 256l5 5-5-5 0 2zM748 218l5 10-5-3 0-2z"/>
<path fill="#0040c8" d="M298 318l-5-9 5 1 0 4zM463 285l-5-9 5 6 0 0zM588 256l-5 2 5-2 0 2z"/>
<path fill="#0028a8" d="M298 310l5 3 5 3-5 4 0-5z"/>
<path fill="#0040e8" d="M298 310l5 10 0-5zM538 267l-5-3 5 0 0 1zM553 266l-5-2 5-6 0 6zM568 257l5 4 0-3z"/>
<path fill="#0028a0" d="M303 313l5 0 5 0-5 3 0-2zM308 313l5-3 5 8-5-5 0 1z"/>
<path fill="#0038e0" d="M303 313l5 3 0-2zM563 261l5 3 0-3z"/>
<path fill="#0028c0" d="M308 313l5 0 0 1z"/>
<path fill="#0028e0" d="M313 310l5 8 0-5z"/>
<path fill="#1878b0" d="M328 304l5 0-5-3 0 3zM368 299l5-3-5 9 0-8zM393 288l5 7-5-3 0-2zM518 266l5 4-5-7 0 4zM618 250l5-8-5 1 0 2zM623 238l5 12-5-8 0 3z"/>
<path fill="#20a8f8" d="M328 301l-5 6 5-3 0 0zM513 275l-5-12 5 5 0-1z"/>
<path fill="#1050b0" d="M333 302l5 2-5 0 0 0z"/>
<path fill="#1070f0" d="M333 304l-5 0 5-2 0 2zM448 287l-5-5 5-1 0 1zM453 280l-5 1 5-7 0 5z"/>
<path fill="#1888e0" d="M343 294l5 4-5 5 0-3zM578 257l5-6-5 9 0-4zM703 223l5 3-5 7 0-6zM753 219l5-3-5 12 0-8z"/>
<path fill="#2098f8" d="M343 303l-5 0 5-9 0 6zM398 295l-5-7 5 4 0-2zM578 260l-5-5 5 2 0-1zM703 233l-5-8 5-2 0 4zM753 228l-5-10 5 1 0 1z"/>
<path fill="#1880d0" d="M348 298l-5-4 5 5 0-1zM403 287l-5 5 5 0 0-2zM488 270l-5 4 5 4 0-4zM583 251l-5 6 5 1 0-2zM708 226l-5-3 5-3 0 5zM758 216l-5 3 5-1 0 0z"/>
<path fill="#20a0e0" d="M373 285l5 16-5-5 0-1zM543 255l5 1-5 10 0-6z"/>
<path fill="#20b0f8" d="M373 296l-5 3 5-14 0 10zM383 299l-5-11 5-4 0 8zM388 295l-5-11 5-1 0 5zM543 266l-5-2 5-9 0 5zM613 243l-5 2 5 0 0-1z"/>
<path fill="#1880b0" d="M378 288l5 11-5 2 0-8zM388 283l5 9-5 3 0-7zM548 264l5 2-5-10 0 4zM613 245l5-2-5 0 0 1zM723 224l5 2-5-6 0 4z"/>
<path fill="#1890d0" d="M378 301l-5-16 5 3 0 5zM393 292l-5-9 5 5 0 2zM518 263l-5 5 5-2 0 1zM548 256l-5-1 5 9 0-4z"/>
<path fill="#2098e0" d="M383 284l5 11-5 4 0-7zM513 268l5-5-5 12 0-8z"/>
<path fill="#1060b0" d="M408 286l5 10-5-8 0 2zM428 283l5 0-5 5 0-5zM508 263l5 12-5-7 0 0zM688 235l5 1-5 0 0-2z"/>
<path fill="#1070c8" d="M408 288l-5 4 5-6 0 4z"/>
<path fill="#0850e8" d="M413 296l-5-10 5 5 0 0zM418 290l-5 1 5-7 0 6zM748 225l-5-4 5-3 0 5z"/>
<path fill="#0040c0" d="M443 286l-5-4 5 0 0 2z"/>
<path fill="#1068d8" d="M448 281l5-1-5 7 0-5zM453 274l5 8-5-2 0-1zM738 219l5 3-5 6 0-4z"/>
<path fill="#1060c8" d="M458 282l-5-8 5 2 0 3zM743 222l-5-3 5 2 0 1z"/>
<path fill="#000890" d="M473 279l5 0 5 4-5 2 0-3z"/>
<path fill="#0010c8" d="M473 279l5 6 0-3z"/>
<path fill="#1880e0" d="M483 274l5-4-5 13 0-7z"/>
<path fill="#1890f8" d="M483 283l-5-4 5-5 0 2z"/>
<path fill="#1868b0" d="M488 278l5-5-5-3 0 4z"/>
<path fill="#0040d0" d="M498 269l5 6-5 4 0-4zM553 258l5 8-5 0 0-2z"/>
<path fill="#0048e8" d="M498 279l-5-3 5-7 0 6z"/>
<path fill="#20b0d8" d="M528 266l5-9-5 8 0-1zM603 242l5 0-5 6 0-4zM713 216l5 12-5 2 0-6z"/>
<path fill="#20c0f0" d="M528 265l-5 1 5 0 0-2zM603 248l-5-2 5-4 0 2zM633 250l-5-17 5 5 0 2zM638 237l-5 1 5 1 0-1zM673 246l-5-21 5 6 0 5zM693 236l-5-1 5-16 0 13zM698 240l-5-21 5 6 0 4zM713 230l-5-10 5-4 0 8z"/>
<path fill="#1888b0" d="M533 264l5 3-5-10 0 7zM563 261l5 3-5-12 0 8zM638 239l5-3-5 1 0 1zM673 231l5 9-5 6 0-10zM698 225l5 8-5 7 0-11zM718 224l5-4-5 8 0-6z"/>
<path fill="#18a0c8" d="M533 257l-5 9 5-2 0 0zM718 228l-5-12 5 8 0-2z"/>
<path fill="#20a8d8" d="M558 261l5-9-5 14 0-7zM628 233l5 17-5 0 0-7zM633 238l5-1-5 13 0-10zM668 225l5 21-5 0 0-7zM693 219l5 21-5-4 0-4zM768 215l5-5-5 7 0-3z"/>
<path fill="#20b8f0" d="M558 266l-5-8 5 3 0-2zM628 250l-5-12 5-5 0 10zM668 246l-5-6 5-15 0 14zM768 217l-5-1 5-1 0-1z"/>
<path fill="#1898d0" d="M563 252l-5 9 5 0 0-1zM723 220l-5 4 5 0 0 0z"/>
<path fill="#0030c8" d="M563 261l5-4 5 4-5 3 0-3z"/>
<path fill="#1890b0" d="M608 245l5-2-5-1 0 1zM653 235l5 13-5-15 0 3z"/>
<path fill="#18a8c8" d="M608 242l-5 0 5 3 0-2zM653 233l-5-5 5 7 0 1z"/>
<path fill="#20d0c8" d="M643 225l5 20-5-9 0 0z"/>
<path fill="#20e8e0" d="M643 236l-5 3 5-14 0 11zM648 245l-5-20 5 3 0 5z"/>
<path fill="#20d8c8" d="M648 228l5 5-5 12 0-12z"/>
<path fill="#1078d8" d="M683 227l5 9-5 4 0-6z"/>
<path fill="#1070d0" d="M688 236l-5-9 5 8 0-1z"/>
<path fill="#0858c8" d="M728 226l-5-2 5-4 0 5z"/>
<path fill="#1058b0" d="M198 334l5 9-5-6 0-1zM248 323l5 14-5-1 0-6zM273 323l5 6-5-7 0 1zM308 316l5 9-5-11 0 5zM358 309l5 3-5-8 0 3zM503 275l5 2-5-2 0 1zM698 240l5 4-5-8 0 3zM748 225l5 4-5 4 0-6z"/>
<path fill="#1068c8" d="M198 337l-5-5 5 2 0 2zM248 336l-5-14 5 1 0 7zM358 304l-5-1 5 6 0-2zM698 236l-5 0 5 4 0-1z"/>
<path fill="#0038a8" d="M203 337l5 8-5-2 0-3zM323 317l5-3-5 2 0 0zM383 299l5 4-5 1 0-2zM448 287l5 3-5 3 0-4z"/>
<path fill="#0840c8" d="M203 343l-5-9 5 3 0 3z"/>
<path fill="#0848d0" d="M208 332l5 10-5 3 0-6zM688 236l5 8-5 0 0-3z"/>
<path fill="#0850e8" d="M208 345l-5-8 5-5 0 7zM688 244l-5-4 5-4 0 5z"/>
<path fill="#0840a8" d="M213 334l5 9-5-1 0-4zM228 329l5 7-5 1 0-5z"/>
<path fill="#0848c8" d="M213 342l-5-10 5 2 0 4z"/>
<path fill="#0020a0" d="M213 334l5 4 5 4-5 1 0-4zM668 246l5 0 5 1-5 1 0-1z"/>
<path fill="#0020b8" d="M213 334l5 9 0-4z"/>
<path fill="#0850d0" d="M223 328l5 9-5 5 0-6z"/>
<path fill="#0858e8" d="M223 342l-5-4 5-10 0 8z"/>
<path fill="#0858f0" d="M228 337l-5-9 5 1 0 3z"/>
<path fill="#0030a8" d="M233 330l5 7-5-1 0-3zM238 333l5-1-5 5 0-4zM318 318l5-2-5 1 0-1z"/>
<path fill="#0038c0" d="M233 336l-5-7 5 1 0 3zM318 317l-5-4 5 5 0-2z"/>
<path fill="#0048e8" d="M238 337l-5-7 5 3 0 0zM323 316l-5 2 5-1 0-1zM383 304l-5-3 5-2 0 3zM448 293l-5-7 5 1 0 2zM703 244l-5-4 5-7 0 7z"/>
<path fill="#1068d8" d="M243 322l5 14-5-4 0-1zM268 319l5 3-5 7 0-5zM453 280l5 11-5-1 0-3zM718 228l5 4-5 7 0-7zM743 222l5 11-5 2 0-5z"/>
<path fill="#1078f0" d="M243 332l-5 1 5-11 0 9zM268 329l-5-2 5-8 0 5zM503 275l-5 4 5-4 0 1zM693 244l-5-8 5 0 0 2zM743 235l-5-7 5-6 0 8zM748 233l-5-11 5 3 0 2z"/>
<path fill="#1060d8" d="M253 321l5 10-5 6 0-9zM278 316l5 8-5 5 0-6zM343 303l5 5-5 8 0-8z"/>
<path fill="#1068f0" d="M253 337l-5-14 5-2 0 7z"/>
<path fill="#0850b0" d="M258 328l5 1-5 2 0-4zM458 282l5 9-5 0 0-5zM733 231l5-2-5 4 0-3zM738 228l5 7-5-6 0 2z"/>
<path fill="#0858c8" d="M258 331l-5-10 5 7 0-1z"/>
<path fill="#0028a0" d="M258 328l5-1 5 2-5 0 0-1z"/>
<path fill="#0030e0" d="M258 328l5 1 0-1z"/>
<path fill="#1060c8" d="M273 322l-5-3 5 4 0 0zM308 314l-5 6 5-4 0 3zM458 291l-5-11 5 2 0 4zM733 233l-5-7 5 5 0-1zM738 229l-5 2 5-3 0 3z"/>
<path fill="#1070f0" d="M278 329l-5-6 5-7 0 7zM343 316l-5-12 5-1 0 5zM443 288l-5 3 5-5 0 4zM453 290l-5-3 5-7 0 7zM718 239l-5-9 5-2 0 4z"/>
<path fill="#1868b0" d="M283 320l5-4-5 8 0-5zM393 292l5 11-5-8 0 1z"/>
<path fill="#2098f8" d="M283 324l-5-8 5 4 0-1zM353 314l-5-16 5 5 0 2zM558 264l-5 2 5 0 0-2zM598 257l-5 4 5-8 0 3zM708 241l-5-8 5-7 0 8zM758 224l-5 4 5-12 0 8z"/>
<path fill="#1068b0" d="M288 324l5-8-5 0 0 3zM378 301l5 3-5-5 0 1z"/>
<path fill="#1878d0" d="M288 316l-5 4 5 4 0-5zM378 299l-5-3 5 5 0-1z"/>
<path fill="#1880e0" d="M293 311l5 12-5-7 0 2zM373 296l5 3-5 2 0-1z"/>
<path fill="#1890f8" d="M293 316l-5 8 5-13 0 7zM373 301l-5 4 5-9 0 4zM388 303l-5-4 5-4 0 3z"/>
<path fill="#1060b0" d="M298 318l5-3-5 8 0-6zM303 320l5-6-5 1 0 2zM338 304l5 12-5-8 0 0zM368 305l5-4-5 12 0-9zM753 228l5-4-5 5 0-3z"/>
<path fill="#1880f0" d="M298 323l-5-12 5 7 0-1zM363 312l-5-3 5-12 0 11zM368 313l-5-16 5 8 0-1zM753 229l-5-4 5 3 0-2z"/>
<path fill="#1070c8" d="M303 315l-5 3 5 2 0-3z"/>
<path fill="#0038d0" d="M313 313l5 4-5 8 0-7z"/>
<path fill="#0040e8" d="M313 325l-5-9 5-3 0 5zM628 250l5 7 0-4z"/>
<path fill="#2098e0" d="M328 301l5 5-5 8 0-4zM623 242l5 6-5 7 0-8z"/>
<path fill="#20a8f8" d="M328 314l-5 3 5-16 0 9zM518 270l-5 5 5-12 0 9zM623 255l-5-12 5-1 0 5z"/>
<path fill="#1878b0" d="M333 304l5 4-5-2 0-1zM513 275l5-5-5 0 0 1zM518 263l5 17-5-10 0 2zM628 250l5 7-5-9 0 1z"/>
<path fill="#1890d0" d="M333 306l-5-5 5 3 0 1zM423 287l-5 3 5 3 0-1zM553 267l-5-11 5 10 0-3z"/>
<path fill="#1070d0" d="M338 308l-5-4 5 0 0 4z"/>
<path fill="#1870b0" d="M348 298l5 16-5-6 0-2zM408 288l5 7-5 2 0-5zM438 291l5-3-5-2 0 1zM468 284l5-6-5 1 0 3zM473 278l5 8-5-8 0 4zM558 266l5-5-5 3 0 0zM713 230l5 9-5-2 0-4zM763 218l5 5-5 6 0-7z"/>
<path fill="#1880d0" d="M348 308l-5-5 5-5 0 8zM393 295l-5 0 5-3 0 4zM438 286l-5-3 5 8 0-4zM473 278l-5 6 5-6 0 4zM713 237l-5-11 5 4 0 3z"/>
<path fill="#1888e0" d="M353 303l5 1-5 10 0-9zM388 295l5 0-5 8 0-5zM598 253l5 0-5 4 0-1zM708 226l5 11-5 4 0-7zM758 216l5 13-5-5 0 0z"/>
<path fill="#1070d8" d="M363 297l5 16-5-1 0-4zM693 236l5 0-5 8 0-6z"/>
<path fill="#20b8d8" d="M398 295l5-7-5 15 0-9zM428 288l5-6-5 14 0-6zM528 265l5-2-5 1 0 2z"/>
<path fill="#20c8f0" d="M398 303l-5-11 5 3 0-1zM428 296l-5-3 5-5 0 2zM528 264l-5 6 5-5 0 1zM533 263l-5 2 5-8 0 6zM653 247l-5-2 5-12 0 11z"/>
<path fill="#1898b0" d="M403 287l5 10-5-9 0 4z"/>
<path fill="#18b0c8" d="M403 288l-5 7 5-8 0 5zM593 249l-5 7 5 5 0-5z"/>
<path fill="#20a0f8" d="M408 297l-5-10 5 1 0 4zM463 291l-5-9 5 3 0-1zM468 279l-5 6 5-1 0-2zM508 277l-5-2 5-7 0 4zM763 229l-5-13 5 2 0 4zM768 223l-5-5 5-1 0 2z"/>
<path fill="#1898a8" d="M413 296l5-12-5 11 0-4zM418 290l5-3-5-3 0 5zM548 256l5 11-5-9 0 4zM593 261l5-4-5-8 0 7z"/>
<path fill="#20d8e8" d="M413 295l-5-7 5 8 0-5zM418 284l-5 12 5-6 0-1zM543 268l-5-1 5-1 0-1zM548 258l-5 8 5-10 0 6zM583 264l-5-4 5-9 0 5zM603 253l-5 0 5-5 0 2z"/>
<path fill="#1880b0" d="M423 293l5 3-5-9 0 5zM553 266l5-2-5 3 0-4zM723 220l5 19-5-7 0-2zM728 226l5 7-5 6 0-9z"/>
<path fill="#1890b0" d="M433 283l5 3-5-4 0 3zM533 257l5 10-5-4 0 0zM538 267l5 1-5-1 0-2zM658 248l5-2-5 6 0-7z"/>
<path fill="#20d0f0" d="M433 282l-5 6 5-5 0 2z"/>
<path fill="#1050b0" d="M443 286l5 7-5-5 0 2z"/>
<path fill="#1890e0" d="M463 285l5-6-5 12 0-7zM768 217l5 2-5 4 0-4z"/>
<path fill="#20a8d8" d="M478 285l5-11-5 12 0-5zM563 252l5 13-5-4 0 0zM638 237l5 12-5 5 0-6zM643 236l5 7-5 6 0-8z"/>
<path fill="#20b8f0" d="M478 286l-5-8 5 7 0-4zM638 254l-5-4 5-13 0 11zM723 232l-5-4 5-8 0 10z"/>
<path fill="#1888b0" d="M483 283l5-1-5-8 0 7zM493 273l5-2-5 2 0-1zM498 279l5-4-5-4 0 3zM568 264l5 2-5-1 0-3zM648 245l5 2-5-4 0 0z"/>
<path fill="#18a0d0" d="M483 274l-5 11 5-2 0-2zM568 265l-5-13 5 12 0-2zM648 243l-5-7 5 9 0-2z"/>
<path fill="#20a0e0" d="M488 270l5 3-5 9 0-5z"/>
<path fill="#20b0f8" d="M488 282l-5 1 5-13 0 7z"/>
<path fill="#18a0c8" d="M493 273l-5-3 5 3 0-1zM498 271l-5 2 5 6 0-5z"/>
<path fill="#2090e0" d="M508 268l5 2-5 7 0-5z"/>
<path fill="#1888d0" d="M513 270l-5-2 5 7 0-4zM628 248l-5-6 5 8 0-1z"/>
<path fill="#20b0d8" d="M523 270l5-6-5 16 0-11zM653 233l5 19-5-5 0-3zM773 210l5 9-5 0 0-3z"/>
<path fill="#20c0f0" d="M523 280l-5-17 5 7 0-1zM563 261l-5 5 5-14 0 9zM643 249l-5-12 5-1 0 5zM773 219l-5-2 5-7 0 6z"/>
<path fill="#18a8c8" d="M538 267l-5-10 5 10 0-2zM658 252l-5-19 5 15 0-3z"/>
<path fill="#20c0d0" d="M543 266l5-8-5 10 0-3zM583 251l5-1-5 14 0-8z"/>
<path fill="#20d0d0" d="M573 261l5-11-5 16 0-6zM613 243l5-1-5 12 0-9z"/>
<path fill="#20e8e0" d="M573 266l-5-2 5-3 0-1zM613 254l-5-12 5 1 0 2z"/>
<path fill="#18a8a0" d="M578 260l5 4-5-14 0 9z"/>
<path fill="#18c0c0" d="M578 250l-5 11 5-1 0-1zM618 242l-5 1 5 0 0 3z"/>
<path fill="#18a0a8" d="M588 256l5-7-5 1 0 2zM608 242l5 12-5-9 0 2zM618 243l5 12-5-13 0 4z"/>
<path fill="#18b8c0" d="M588 250l-5 1 5 5 0-4zM608 245l-5 3 5-6 0 5z"/>
<path fill="#20c8d0" d="M603 248l5-3-5 8 0-3z"/>
<path fill="#0028a8" d="M628 250l5 0 5 4-5 3 0-4z"/>
<path fill="#0858d8" d="M663 245l5-1-5 2 0 0zM678 240l5 1-5 6 0-3z"/>
<path fill="#0860f0" d="M663 246l-5 2 5-3 0 1zM678 247l-5-1 5-6 0 4z"/>
<path fill="#0848a8" d="M668 246l5 2-5-4 0 2zM683 240l5 4-5-3 0 0z"/>
<path fill="#0850c8" d="M668 244l-5 1 5 1 0 0zM683 241l-5-1 5 0 0 1z"/>
<path fill="#0028d8" d="M668 246l5 2 0-1z"/>
<path fill="#0040d0" d="M703 233l5 8-5 3 0-4z"/>
<path fill="#20b8f8" d="M728 239l-5-19 5 6 0 4z"/>
<path fill="#1060b0" d="M203 343l5 2-5-4 0 1zM308 314l5 9-5 1 0-5zM343 316l5-2-5 1 0-2zM673 248l5 4-5-6 0 2z"/>
<path fill="#1070d0" d="M203 341l-5-4 5 6 0-1zM343 315l-5-7 5 8 0-3zM673 246l-5-2 5 4 0 0z"/>
<path fill="#0030a8" d="M208 345l5 1-5-1 0 0zM238 337l5 1-5 3 0-3zM243 332l5 12-5-6 0 0zM248 336l5 5-5 3 0-6zM318 317l5-1 5 11-5 2 0-7zM453 290l5 1 5 9-5 0 0-5z"/>
<path fill="#0038c0" d="M208 345l-5-2 5 2 0 0zM248 344l-5-12 5 4 0 2zM453 290l5 10 0-5z"/>
<path fill="#0018a0" d="M208 345l5-3 5 8-5-4 0 0z"/>
<path fill="#0020b8" d="M208 345l5 1 0 0z"/>
<path fill="#0028c8" d="M213 342l5 1 5 0-5 7 0-6zM228 337l5-1 5 5-5 3 0-4z"/>
<path fill="#0030e0" d="M213 342l5 8 0-6zM228 337l5 7 0-4z"/>
<path fill="#0020a0" d="M218 343l5-1 5 3-5-2 0 0z"/>
<path fill="#0028b8" d="M218 343l5 0 0 0z"/>
<path fill="#0020c0" d="M223 342l5-5 5 7-5 1 0-3z"/>
<path fill="#0028d8" d="M223 342l5 3 0-3zM703 244l5 4 0-3z"/>
<path fill="#0040e8" d="M238 341l-5-5 5 1 0 1zM313 325l5 2 0-3zM318 317l5 12 0-7z"/>
<path fill="#0048e8" d="M243 338l-5-1 5-5 0 6zM388 311l-5-7 5-1 0 5zM463 300l-5-9 5 0 0 3zM678 252l-5-4 5-1 0 2zM733 246l-5-7 5-6 0 6z"/>
<path fill="#001090" d="M248 336l5 1 5 2-5 2 0-3z"/>
<path fill="#0010d0" d="M248 336l5 5 0-3z"/>
<path fill="#1060d8" d="M258 331l5-1-5 9 0-5zM643 249l5 12-5 1 0-6z"/>
<path fill="#1068f0" d="M258 339l-5-2 5-6 0 3zM348 314l-5 2 5-8 0 6zM643 262l-5-8 5-5 0 7z"/>
<path fill="#0850b0" d="M263 329l5 8-5-7 0 2zM728 239l5 7-5-4 0-2zM768 223l5 11-5-2 0-2z"/>
<path fill="#1060c8" d="M263 330l-5 1 5-2 0 3zM368 309l-5 3 5 1 0-1zM728 242l-5-10 5 7 0 1z"/>
<path fill="#0028a0" d="M263 329l5 0 5 10-5-2 0-3z"/>
<path fill="#0028c0" d="M263 329l5 8 0-3z"/>
<path fill="#1068d8" d="M273 322l5 8-5 9 0-9zM713 237l5 2-5 8 0-6zM753 229l5 1-5 7 0-5z"/>
<path fill="#1078f0" d="M273 339l-5-10 5-7 0 8zM373 315l-5-2 5-12 0 10zM753 237l-5-4 5-4 0 3z"/>
<path fill="#1058b0" d="M278 329l5-1-5 2 0-3zM313 325l5 2-5-4 0-1zM363 312l5-3-5 5 0-4zM658 252l5 3-5-5 0 1z"/>
<path fill="#1068c8" d="M278 330l-5-8 5 7 0-2zM313 323l-5-9 5 11 0-3zM363 314l-5-10 5 8 0-2zM658 250l-5-3 5 5 0-1z"/>
<path fill="#0840a8" d="M283 324l5 9-5-5 0 0z"/>
<path fill="#0858f0" d="M283 328l-5 1 5-5 0 4z"/>
<path fill="#1888e0" d="M288 316l5 7-5 10 0-9z"/>
<path fill="#2098f8" d="M288 333l-5-9 5-8 0 8zM293 323l-5-7 5 0 0 3z"/>
<path fill="#1870b0" d="M293 316l5 6-5 1 0-4zM478 286l5 2-5 0 0-3zM633 257l5-5-5 6 0-4zM703 244l5 4-5-10 0 4zM763 229l5 3-5-6 0 2z"/>
<path fill="#1068b0" d="M298 323l5 4-5-5 0 0zM398 303l5 0-5 3 0-4zM638 254l5 8-5-10 0 4zM718 239l5-4-5 4 0-1zM723 232l5 10-5-7 0 2zM743 235l5 4-5-8 0 3z"/>
<path fill="#1878d0" d="M298 322l-5-6 5 7 0-1zM398 306l-5-11 5 8 0-1zM638 252l-5 5 5-3 0 2zM743 231l-5-2 5 6 0-1z"/>
<path fill="#1078d8" d="M303 315l5 9-5 3 0-5z"/>
<path fill="#1880f0" d="M303 327l-5-4 5-8 0 7zM358 319l-5-5 5-10 0 9z"/>
<path fill="#1888f0" d="M308 324l-5-9 5-1 0 5zM668 251l-5-5 5-2 0 3z"/>
<path fill="#0038d0" d="M313 325l5-8 5 12-5-2 0-3z"/>
<path fill="#0048d0" d="M328 314l5 8-5 5 0-7zM733 233l5 6-5 7 0-7z"/>
<path fill="#0850e8" d="M328 327l-5-11 5-2 0 6z"/>
<path fill="#2090e0" d="M333 306l5 18-5-2 0-6zM338 308l5 7-5 9 0-11zM563 261l5 6-5 2 0-4zM648 243l5 11-5 7 0-9zM758 224l5 2-5 4 0-3z"/>
<path fill="#20a0f8" d="M333 322l-5-8 5-8 0 10zM338 324l-5-18 5 2 0 5zM563 269l-5-5 5-3 0 4zM603 266l-5-9 5-4 0 6zM648 261l-5-12 5-6 0 9zM698 245l-5-1 5-8 0 5zM758 230l-5-1 5-5 0 3z"/>
<path fill="#0860d8" d="M348 308l5 8-5-2 0 0z"/>
<path fill="#0848a8" d="M353 314l5 5-5-3 0-2z"/>
<path fill="#0858c8" d="M353 316l-5-8 5 6 0 0z"/>
<path fill="#1070d8" d="M358 304l5 10-5 5 0-6zM373 301l5 13-5 1 0-4z"/>
<path fill="#1050b0" d="M368 313l5 2-5-6 0 3z"/>
<path fill="#20a0d8" d="M378 299l5 1-5 14 0-10zM493 273l5 9-5-2 0-1z"/>
<path fill="#20b8f8" d="M378 314l-5-13 5-2 0 5zM493 280l-5 2 5-9 0 6z"/>
<path fill="#1880b0" d="M383 304l5 7-5-11 0 4zM568 265l5-2-5 4 0-3zM573 266l5-2-5-1 0 1zM693 244l5 1-5-6 0 4zM778 219l5 11-5-9 0 1z"/>
<path fill="#1898d0" d="M383 300l-5-1 5 5 0 0zM778 221l-5-2 5 0 0 3z"/>
<path fill="#0038a8" d="M388 303l5 9-5-1 0-3zM678 247l5 2-5 3 0-3z"/>
<path fill="#1880e0" d="M393 295l5 11-5 6 0-8zM738 229l5 2-5 8 0-6z"/>
<path fill="#1890f8" d="M393 312l-5-9 5-8 0 9zM718 239l-5-2 5 2 0-1zM723 235l-5 4 5-7 0 5zM738 239l-5-6 5-4 0 4z"/>
<path fill="#20b8d8" d="M403 288l5 19-5-4 0-3zM433 282l5 13-5 7 0-8zM508 277l5-5-5 10 0-6zM533 263l5 10-5 5 0-8z"/>
<path fill="#20c8f0" d="M403 303l-5 0 5-15 0 12zM433 302l-5-6 5-14 0 12zM508 282l-5-7 5 2 0-1zM533 278l-5-14 5-1 0 7z"/>
<path fill="#20c0d0" d="M408 297l5-6-5 16 0-11zM498 271l5 2-5 9 0-7z"/>
<path fill="#20d8e8" d="M408 307l-5-19 5 9 0-1zM413 291l-5 6 5-2 0-1zM418 293l-5 2 5-11 0 9zM498 282l-5-9 5-2 0 4zM588 268l-5-4 5-14 0 11zM608 261l-5-8 5-8 0 10z"/>
<path fill="#18a0a8" d="M413 295l5-2-5-2 0 3zM418 284l5 16-5-7 0 0zM553 267l5-2-5 0 0-1zM598 257l5 9-5-14 0 4zM613 254l5 9-5-3 0-4z"/>
<path fill="#20d0b0" d="M423 287l5-4-5 17 0-12z"/>
<path fill="#20e8c8" d="M423 300l-5-16 5 3 0 1z"/>
<path fill="#18a890" d="M428 296l5 6-5-19 0 9z"/>
<path fill="#18c0b0" d="M428 283l-5 4 5 9 0-4z"/>
<path fill="#1898b0" d="M438 286l5 3-5 6 0-7z"/>
<path fill="#20d0f0" d="M438 295l-5-13 5 4 0 2z"/>
<path fill="#20d0c8" d="M443 288l5-6-5 7 0-3zM468 279l5-4-5 17 0-8zM578 250l5 18-5-4 0-2z"/>
<path fill="#20e8e0" d="M443 289l-5-3 5 2 0-2zM578 264l-5 2 5-16 0 12zM593 262l-5-12 5-1 0 4z"/>
<path fill="#18a8a0" d="M448 293l5-5-5-6 0 6zM583 264l5 4-5 0 0-6zM623 255l5-10-5 13 0-8zM628 248l5 10-5-13 0 7z"/>
<path fill="#18c0c0" d="M448 282l-5 6 5 5 0-5zM583 268l-5-18 5 14 0-2zM598 252l-5-3 5 8 0-1z"/>
<path fill="#1878b0" d="M453 290l5 10-5-12 0 5zM518 270l5 13-5-3 0-4zM523 280l5-8-5 11 0-7zM653 247l5 3-5 4 0-6z"/>
<path fill="#1888d0" d="M453 288l-5 5 5-3 0 3zM478 288l-5-10 5 8 0-1zM518 280l-5-10 5 0 0 6zM653 254l-5-11 5 4 0 1z"/>
<path fill="#0040d0" d="M463 291l5 1-5 8 0-6z"/>
<path fill="#20e8d8" d="M468 292l-5-1 5-12 0 5zM623 258l-5-16 5 13 0-5z"/>
<path fill="#18a898" d="M473 278l5 10-5-13 0 5z"/>
<path fill="#18c8b0" d="M473 275l-5 4 5-1 0 2z"/>
<path fill="#20a8d8" d="M483 274l5 15-5-1 0-4z"/>
<path fill="#20c0f0" d="M483 288l-5-2 5-12 0 10zM488 289l-5-15 5 8 0-1zM528 272l-5 8 5-16 0 10z"/>
<path fill="#1888b0" d="M488 282l5-2-5 9 0-8zM558 264l5 5-5-4 0 1z"/>
<path fill="#1898a8" d="M503 275l5 7-5-9 0 2zM688 244l5-5-5-3 0 4z"/>
<path fill="#18b0c8" d="M503 273l-5-2 5 4 0 0z"/>
<path fill="#1890b0" d="M513 270l5 10-5-8 0 3zM538 267l5 7-5-1 0-4z"/>
<path fill="#18a8c8" d="M513 272l-5 5 5-7 0 5zM538 273l-5-10 5 4 0 2z"/>
<path fill="#20a8f8" d="M523 283l-5-13 5 10 0-4z"/>
<path fill="#20b0d8" d="M528 264l5 14-5-6 0 2z"/>
<path fill="#20d0a8" d="M543 268l5-10-5 16 0-7z"/>
<path fill="#20e8c0" d="M543 274l-5-7 5 1 0-1z"/>
<path fill="#18a888" d="M548 258l5 7-5-7 0 4z"/>
<path fill="#20e8b8" d="M548 258l-5 10 5-10 0 4z"/>
<path fill="#18b8c0" d="M553 265l-5-7 5 9 0-3zM613 260l-5-15 5 9 0 2z"/>
<path fill="#18a0c8" d="M558 265l-5 2 5-3 0 2z"/>
<path fill="#20b0f8" d="M568 267l-5-6 5 4 0-1zM773 234l-5-11 5-4 0 5z"/>
<path fill="#1890d0" d="M573 263l-5 2 5 1 0-2zM693 239l-5 5 5 0 0-1z"/>
<path fill="#20c8d0" d="M588 250l5 12-5 6 0-7zM608 245l5 15-5 1 0-6zM618 242l5 16-5 5 0-9z"/>
<path fill="#20d0d0" d="M593 249l5 3-5 10 0-9z"/>
<path fill="#1890e0" d="M603 253l5 8-5 5 0-7zM698 236l5 2-5 7 0-4z"/>
<path fill="#20e0e8" d="M618 263l-5-9 5-12 0 12z"/>
<path fill="#18c8b8" d="M628 245l-5 10 5-7 0 4z"/>
<path fill="#1880d0" d="M633 258l-5-10 5 9 0-3zM703 238l-5-2 5 8 0-2zM763 226l-5-2 5 5 0-1z"/>
<path fill="#0850d8" d="M663 246l5 5-5 4 0-4z"/>
<path fill="#0858e8" d="M663 255l-5-3 5-6 0 5z"/>
<path fill="#1878d8" d="M668 244l5 2-5 5 0-4z"/>
<path fill="#20c0d8" d="M683 241l5-5-5 13 0-6z"/>
<path fill="#20d8f0" d="M683 249l-5-2 5-6 0 2z"/>
<path fill="#18b8c8" d="M688 236l-5 5 5 3 0-4z"/>
<path fill="#001898" d="M703 244l5-3 5 6-5 1 0-3z"/>
<path fill="#1070f0" d="M713 247l-5-6 5-4 0 4zM768 232l-5-3 5-6 0 7z"/>
<path fill="#0030d0" d="M743 235l5-2 5 4-5 2 0-3z"/>
<path fill="#0038e0" d="M743 235l5 4 0-3z"/>
<path fill="#20a0e0" d="M773 219l5 2-5 13 0-10z"/>
<path fill="#1878d8" d="M203 341l5 6-5 1 0-3zM408 307l5-3-5 9 0-6zM673 246l5 6-5 3 0-4z"/>
<path fill="#1888f0" d="M203 348l-5-3 5-4 0 4zM593 269l-5-1 5-6 0 6zM673 255l-5-4 5-5 0 5z"/>
<path fill="#1060b0" d="M208 345l5 9-5-7 0 0zM593 262l5 11-5-4 0-1zM678 252l5 7-5-7 0 0zM748 239l5 6-5 1 0-6z"/>
<path fill="#1070d0" d="M208 347l-5-6 5 4 0 2zM678 252l-5-6 5 6 0 0z"/>
<path fill="#0030a8" d="M213 346l5 5-5 3 0-5zM238 341l5-3 5 10-5 1 0-5zM243 338l5 6 5 2-5 2 0-4zM258 339l5 3-5-2 0 0zM273 339l5 3-5-5 0 2zM463 300l5 4-5-4 0 1z"/>
<path fill="#0048e8" d="M213 354l-5-9 5 1 0 3zM258 340l-5 1 5-2 0 1zM278 342l-5-3 5-9 0 7zM468 304l-5-4 5-8 0 6zM683 259l-5-7 5-3 0 5z"/>
<path fill="#0840a8" d="M218 350l5-4-5 5 0-3zM228 345l5 4-5-4 0 1zM308 324l5 4-5 1 0-2zM313 323l5 8-5-3 0-2zM393 312l5-1-5 1 0 0zM398 306l5 7-5-2 0-1z"/>
<path fill="#0850e8" d="M218 351l-5-5 5 4 0-2z"/>
<path fill="#0850d8" d="M223 343l5 2-5 1 0 0zM653 254l5 9-5 1 0-4z"/>
<path fill="#0858f0" d="M223 346l-5 4 5-7 0 3zM308 329l-5-2 5-3 0 3zM653 264l-5-3 5-7 0 6z"/>
<path fill="#0850c8" d="M228 345l-5-2 5 2 0 1zM313 328l-5-4 5-1 0 3zM358 320l-5-4 5 3 0-1z"/>
<path fill="#001098" d="M228 345l5-1 5 5-5 0 0-2zM373 315l5-1 5 6-5 1 0-3z"/>
<path fill="#0018d0" d="M228 345l5 4 0-2zM373 315l5 6 0-3z"/>
<path fill="#0020a0" d="M233 344l5-3 5 8-5 0 0-3zM328 327l5-5 5 8-5-2 0-1z"/>
<path fill="#0028d8" d="M233 344l5 5 0-3zM323 329l5 3 0-3zM328 327l5 1 0-1zM643 262l5 3 0-2z"/>
<path fill="#0040e8" d="M238 341l5 8 0-5zM253 346l-5-2 5-3 0 2z"/>
<path fill="#0030c0" d="M243 338l5 10 0-4z"/>
<path fill="#0040d0" d="M253 341l5-1-5 6 0-3zM278 330l5 8-5 4 0-5zM468 292l5 6-5 6 0-6zM683 249l5 7-5 3 0-5z"/>
<path fill="#1060d8" d="M263 330l5 15-5-3 0-3z"/>
<path fill="#1070f0" d="M263 342l-5-3 5-9 0 9zM268 345l-5-15 5 7 0 0zM283 338l-5-8 5-2 0 4zM613 272l-5-11 5-1 0 4zM753 245l-5-6 5-2 0 2z"/>
<path fill="#0850b0" d="M268 337l5 0-5 8 0-8zM288 333l5 2-5-4 0 1z"/>
<path fill="#0038c0" d="M273 337l-5 0 5 2 0 0zM463 300l-5 0 5 0 0 1z"/>
<path fill="#1068d8" d="M283 328l5 3-5 7 0-6zM293 323l5 14-5-2 0-3zM368 309l5 8-5 5 0-6zM613 260l5 5-5 7 0-8zM718 239l5 6-5 5 0-5zM753 237l5-1-5 9 0-6z"/>
<path fill="#1060c8" d="M288 331l-5-3 5 5 0-1zM373 317l-5-8 5 6 0 1z"/>
<path fill="#1078f0" d="M293 335l-5-2 5-10 0 9zM298 337l-5-14 5-1 0 6zM368 322l-5-8 5-5 0 7zM658 263l-5-9 5-4 0 7zM718 250l-5-3 5-8 0 6zM758 236l-5 1 5-7 0 6z"/>
<path fill="#1070d8" d="M298 322l5 8-5 7 0-9zM658 250l5 12-5 1 0-6z"/>
<path fill="#1058b0" d="M303 327l5 2-5 1 0-3zM663 255l5 3-5 4 0-6zM758 230l5 9-5-3 0 0z"/>
<path fill="#1068c8" d="M303 330l-5-8 5 5 0 0zM663 262l-5-12 5 5 0 1z"/>
<path fill="#0038a8" d="M318 327l5 3-5 1 0-3zM713 247l5 3-5-1 0-1z"/>
<path fill="#0840c8" d="M318 331l-5-8 5 4 0 1z"/>
<path fill="#001898" d="M318 327l5 2 5 3-5-2 0 0zM333 322l5 2 5 3-5 3 0-4z"/>
<path fill="#0018b8" d="M318 327l5 3 0 0z"/>
<path fill="#0028c8" d="M323 329l5-2 5 1-5 4 0-3z"/>
<path fill="#0020d8" d="M333 322l5 8 0-4z"/>
<path fill="#0858d8" d="M343 315l5 7-5 5 0-5zM668 251l5 4-5 3 0-3z"/>
<path fill="#1068f0" d="M343 327l-5-3 5-9 0 7z"/>
<path fill="#0848a8" d="M348 314l5 10-5-2 0-3zM353 316l5 4-5 4 0-6zM358 319l5-2-5 3 0-2zM363 314l5 8-5-5 0 1zM403 303l5 10-5 0 0-4z"/>
<path fill="#0858c8" d="M348 322l-5-7 5-1 0 5z"/>
<path fill="#0860f0" d="M353 324l-5-10 5 2 0 2zM363 317l-5 2 5-5 0 4zM393 312l-5-1 5 1 0 0zM398 311l-5 1 5-6 0 4zM403 313l-5-7 5-3 0 6zM668 258l-5-3 5-4 0 4z"/>
<path fill="#1050b0" d="M373 315l5 6-5-4 0-1z"/>
<path fill="#20a0e0" d="M383 300l5 15-5 5 0-8zM528 272l5 9-5-2 0 0zM573 263l5 5-5 8 0-8zM638 252l5 3-5 7 0-5z"/>
<path fill="#20b0f8" d="M383 320l-5-6 5-14 0 12zM528 279l-5 4 5-11 0 7zM543 277l-5-4 5 1 0 0zM573 276l-5-9 5-4 0 5zM638 262l-5-4 5-6 0 5zM778 229l-5 5 5-13 0 9z"/>
<path fill="#1880b0" d="M388 311l5 1-5 3 0-5zM543 274l5 0-5 3 0-3zM778 221l5 17-5-9 0 1zM783 230l5 3-5 5 0-8z"/>
<path fill="#1898d0" d="M388 315l-5-15 5 11 0-1z"/>
<path fill="#1888f8" d="M408 313l-5-10 5 4 0 0zM743 248l-5-9 5-8 0 10z"/>
<path fill="#20c0d0" d="M413 291l5 20-5-7 0-1zM693 239l5 4-5 7 0-8z"/>
<path fill="#20d8e8" d="M413 304l-5 3 5-16 0 12zM418 311l-5-20 5 2 0 6zM563 275l-5-10 5 4 0-1zM688 256l-5-7 5-13 0 12zM693 250l-5-14 5 3 0 3z"/>
<path fill="#20c8d0" d="M418 293l5 8-5 10 0-12zM563 269l5-4-5 10 0-7zM598 252l5 15-5 6 0-9z"/>
<path fill="#1898a8" d="M423 300l5-6-5 7 0-4zM508 282l5 2-5 9 0-10zM588 268l5 1-5-8 0 5zM623 258l5 10-5-13 0 6z"/>
<path fill="#18b8c8" d="M423 301l-5-8 5 7 0-3zM588 261l-5 7 5 0 0-2z"/>
<path fill="#20d0b8" d="M428 283l5 22-5-11 0 2z"/>
<path fill="#20e8c8" d="M428 294l-5 6 5-17 0 13z"/>
<path fill="#18a898" d="M433 302l5 1-5 2 0-7zM478 288l5 5-5-2 0-4z"/>
<path fill="#18c0b0" d="M433 305l-5-22 5 19 0-4z"/>
<path fill="#20b0d8" d="M438 295l5-2-5 10 0-5z"/>
<path fill="#20c8f0" d="M438 303l-5-1 5-7 0 3zM443 293l-5 2 5-6 0 4zM493 290l-5-1 5-9 0 5z"/>
<path fill="#1890b0" d="M443 289l5 7-5-3 0 0zM498 282l5 13-5-13 0 3z"/>
<path fill="#20d0d0" d="M448 282l5 17-5-3 0-4zM483 288l5-8-5 13 0-6z"/>
<path fill="#20e8e0" d="M448 296l-5-7 5-7 0 10zM518 283l-5-11 5 8 0-3zM628 268l-5-10 5-13 0 13z"/>
<path fill="#18a8a0" d="M453 288l5 6-5 5 0-8zM518 280l5-8-5 11 0-6zM523 283l5-4-5-7 0 6zM583 268l5-7-5-1 0 3zM633 258l5 4-5-2 0-4z"/>
<path fill="#18c0c0" d="M453 299l-5-17 5 6 0 3zM488 280l-5 8 5 1 0-2zM523 272l-5 8 5 3 0-5zM603 267l-5-15 5 14 0-4z"/>
<path fill="#1878b0" d="M458 300l5 0-5-6 0 2zM533 278l5 9-5-6 0-1zM608 261l5 11-5-10 0 3zM643 262l5 3-5-10 0 3z"/>
<path fill="#1888d0" d="M458 294l-5-6 5 12 0-4zM608 262l-5 4 5-5 0 4z"/>
<path fill="#20d0c0" d="M473 275l5 16-5 7 0-9z"/>
<path fill="#20e8d8" d="M473 298l-5-6 5-17 0 14zM578 268l-5-5 5 1 0 0z"/>
<path fill="#18c8b8" d="M478 291l-5-16 5 13 0-1zM583 260l-5 4 5 4 0-5zM633 260l-5-15 5 13 0-2z"/>
<path fill="#20e0e8" d="M483 293l-5-5 5 0 0-1zM598 273l-5-11 5-10 0 12z"/>
<path fill="#18a0a8" d="M488 289l5 1-5-10 0 7zM568 267l5 9-5-11 0 4zM603 266l5-4-5 5 0-5z"/>
<path fill="#20b8d8" d="M493 280l5 2-5 8 0-5zM513 272l5 11-5 1 0-4z"/>
<path fill="#18a8c8" d="M498 282l-5-2 5 2 0 3z"/>
<path fill="#20c0d8" d="M503 273l5 20-5 2 0-9zM618 263l5-8-5 10 0-4zM688 236l5 14-5 6 0-8z"/>
<path fill="#20d0f0" d="M503 295l-5-13 5-9 0 13zM508 293l-5-20 5 9 0 1zM513 284l-5-2 5-10 0 8zM618 265l-5-5 5 3 0-2z"/>
<path fill="#1890d0" d="M533 281l-5-9 5 6 0 2zM643 255l-5-3 5 10 0-4zM783 238l-5-17 5 9 0 0z"/>
<path fill="#1888e0" d="M538 273l5 4-5 10 0-8zM723 235l5 5-5 5 0-5z"/>
<path fill="#2098f8" d="M538 287l-5-9 5-5 0 6z"/>
<path fill="#20d0a8" d="M548 258l5 15-5 1 0-4z"/>
<path fill="#20e8b8" d="M548 274l-5 0 5-16 0 12z"/>
<path fill="#20c890" d="M553 265l5-5-5 13 0-9z"/>
<path fill="#20e0a0" d="M553 273l-5-15 5 7 0-1z"/>
<path fill="#18a078" d="M558 265l5 10-5-15 0 6z"/>
<path fill="#18c088" d="M558 260l-5 5 5 0 0 1z"/>
<path fill="#18b8c0" d="M568 265l-5 4 5-2 0 2z"/>
<path fill="#20d0c8" d="M578 264l5-4-5 8 0-4z"/>
<path fill="#18b0c8" d="M623 255l-5 8 5-5 0 3z"/>
<path fill="#20d8c8" d="M628 245l5 15-5 8 0-10z"/>
<path fill="#0018a0" d="M643 262l5-1 5 3-5 1 0-2z"/>
<path fill="#1888b0" d="M698 245l5 5-5-7 0 1z"/>
<path fill="#18a0d0" d="M698 243l-5-4 5 6 0-1z"/>
<path fill="#1890e0" d="M703 238l5 10-5 2 0-5zM773 234l5-5-5 12 0-7z"/>
<path fill="#20a0f8" d="M703 250l-5-5 5-7 0 7zM763 239l-5-9 5-4 0 6zM773 241l-5-9 5 2 0 0z"/>
<path fill="#1870b0" d="M708 248l5 1-5-1 0-2zM768 232l5 9-5-7 0-1z"/>
<path fill="#1880d0" d="M708 248l-5-10 5 10 0-2zM768 234l-5-8 5 6 0 1z"/>
<path fill="#0040c8" d="M713 249l-5-1 5-1 0 1z"/>
<path fill="#1890f8" d="M723 245l-5-6 5-4 0 5z"/>
<path fill="#1068b0" d="M728 242l5 10-5-12 0 2z"/>
<path fill="#1878d0" d="M728 240l-5-5 5 7 0 0zM748 246l-5-15 5 8 0 1z"/>
<path fill="#0028a0" d="M728 242l5 4 5 3-5 3 0-5z"/>
<path fill="#0028c0" d="M728 242l5 10 0-5z"/>
<path fill="#0038d0" d="M733 246l5-7 5 9-5 1 0-3z"/>
<path fill="#0038e8" d="M733 246l5 3 0-3z"/>
<path fill="#1880e0" d="M743 231l5 15-5 2 0-7z"/>
<path fill="#2090e0" d="M763 226l5 8-5 5 0-7z"/>
<path fill="#0850b0" d="M208 347l4 15-5 2 1-9zM213 354l4 7-5 1 0-6zM293 335l4 8-5-4 0-2zM368 322l4 0-5-1 1-1zM693 250l4 14-5-5 0-2zM738 249l4 4-5-7 1 4z"/>
<path fill="#1070f0" d="M207 364l-4-16 5-1 0 8zM287 340l-4-2 5-7 0 6zM617 275l-4-3 5-7 0 6zM692 259l-4-3 5-6-1 7z"/>
<path fill="#1060c8" d="M212 362l-4-15 5 7-1 2zM292 339l-4-8 5 4-1 2zM682 263l-4-11 5 7-1 1zM737 246l-4 6 5-3 0 1zM762 244l-4-8 5 3-1 3z"/>
<path fill="#0020c0" d="M213 354l5-3 4 9-5 1 1-5z"/>
<path fill="#0028d8" d="M213 354l4 7 1-5z"/>
<path fill="#0848d0" d="M223 346l4 8-5 6 0-7zM258 340l4 4-5 3 1-3zM383 320l4-1-5 14 0-10zM743 248l4-1-5 6 0-4z"/>
<path fill="#0858e8" d="M222 360l-4-9 5-5-1 7zM302 345l-4-8 5-7-1 8zM392 325l-4-10 5-3-1 7zM787 245l-4-7 5-5 0 7z"/>
<path fill="#0840a8" d="M228 345l4 13-5-4 1-3zM233 349l4 3-5 6 0-7zM278 342l4-2-5 2 1-2zM308 329l4 11-5 2 1-7zM318 331l4 8-5-6 1 0zM353 324l4 1-5 4 0-4zM358 320l4 8-5-3 1-1zM393 312l4 13-5 0 0-6zM403 313l4 5-5-1 0-2z"/>
<path fill="#0850c8" d="M227 354l-4-8 5-1 0 6zM402 317l-4-6 5 2-1 2z"/>
<path fill="#0858f0" d="M232 358l-4-13 5 4-1 2zM282 340l-4 2 5-4-1 2zM307 342l-4-12 5-1 0 6zM312 340l-4-11 5-1-1 4zM352 329l-4-7 5 2-1 1zM357 325l-4-1 5-4 0 4z"/>
<path fill="#0028a0" d="M233 349l5 0 4 2-5 1 1-2zM333 328l5 2 4 1-5 1 1-2zM403 313l5 0 4 9-5-4 1-2z"/>
<path fill="#0038e0" d="M233 349l4 3 1-2zM328 332l4 6 0-6zM648 265l4 8 0-6z"/>
<path fill="#0030a8" d="M243 349l4-1-5 3 0-2zM248 348l4 3-5-3 1 1zM378 321l4 12-5 1 1-8zM468 304l4 7-5-6 1 0z"/>
<path fill="#0048e8" d="M242 351l-4-2 5 0-1 0z"/>
<path fill="#0038c0" d="M247 348l-4 1 5-1 0 1zM377 334l-4-17 5 4 0 5zM467 305l-4-5 5 4 0 1z"/>
<path fill="#0038d0" d="M253 346l4 1-5 4 0-3zM318 331l5-1 4 3-5 6 0-6zM473 298l4 12-5 1 0-5z"/>
<path fill="#0040e8" d="M252 351l-4-3 5-2-1 2zM318 331l4 8 0-6zM472 311l-4-7 5-6-1 8zM687 265l-4-6 5-3 0 4z"/>
<path fill="#0850e8" d="M257 347l-4-1 5-6 0 4zM382 333l-4-12 5-1-1 3zM742 253l-4-4 5-1-1 1z"/>
<path fill="#0838a8" d="M263 342l4 1-5 1 0-2zM373 317l4 17-5-12 0 2zM388 315l4 10-5-6 1 1z"/>
<path fill="#0848c8" d="M262 344l-4-4 5 2-1 0zM277 342l-4-5 5 5 0-2zM317 333l-4-5 5 3 0 2zM372 322l-4 0 5-5-1 7zM387 319l-4 1 5-5 0 5z"/>
<path fill="#0848a8" d="M268 345l4-4-5 2 1 0zM348 322l4 7-5-3 1 0zM708 248l4 10-5-1 1-4zM718 250l4 3-5-1 1-1zM723 245l4 13-5-5 0-1z"/>
<path fill="#0860f0" d="M267 343l-4-1 5 3 0-2zM272 341l-4 4 5-8-1 4zM342 331l-4-1 5-3-1 1zM347 326l-4 1 5-5 0 4zM397 325l-4-13 5-1 0 5zM437 315l-4-10 5-2 0 5zM672 268l-4-10 5-3-1 5zM707 257l-4-7 5-2 0 5z"/>
<path fill="#0858d8" d="M273 337l4 5-5-1 0 0zM343 327l4-1-5 5 0-3zM673 255l4 5-5 8 0-8zM713 249l4 3-5 6 0-6z"/>
<path fill="#0850d8" d="M283 338l4 2-5 0 0 0zM303 330l4 12-5 3 0-7zM313 328l4 5-5 7 0-8zM398 311l4 6-5 8 1-9zM438 303l4 5-5 7 1-7zM788 233l4 12-5 0 1-5z"/>
<path fill="#1068d8" d="M288 331l4 8-5 1 1-3zM598 273l4 0-5 12 1-10zM618 265l4 7-5 3 1-4zM753 245l4-3-5 8 0-4z"/>
<path fill="#0020a0" d="M293 335l5 2 4 8-5-2 1-3z"/>
<path fill="#0028c0" d="M293 335l4 8 1-3zM403 313l4 5 1-2z"/>
<path fill="#0028a8" d="M323 330l5 2 4 6-5-5 1 0z"/>
<path fill="#0030c0" d="M323 330l4 3 1 0zM333 328l4 4 1-2z"/>
<path fill="#0030c8" d="M328 332l5-4 4 4-5 6 0-6z"/>
<path fill="#1060d8" d="M363 317l4 4-5 7 0-6z"/>
<path fill="#1068f0" d="M362 328l-4-8 5-3-1 5zM712 258l-4-10 5 1-1 3z"/>
<path fill="#0858c8" d="M367 321l-4-4 5 5 0-2zM717 252l-4-3 5 1 0 1zM722 253l-4-3 5-5-1 7z"/>
<path fill="#1878d8" d="M413 304l4 12-5 6 0-8zM728 240l4 18-5 0 1-8z"/>
<path fill="#1888f0" d="M412 322l-4-9 5-9-1 10z"/>
<path fill="#1060b0" d="M418 311l4 7-5-2 1-4zM733 252l4-6-5 12 0-9zM773 241l4 1-5-4 0 1z"/>
<path fill="#1070d0" d="M417 316l-4-12 5 7 0 1zM772 238l-4-4 5 7-1-2z"/>
<path fill="#1888e0" d="M423 301l4 10-5 7 0-8zM458 294l4 13-5 2 1-7z"/>
<path fill="#2098f8" d="M422 318l-4-7 5-10-1 9z"/>
<path fill="#1898a8" d="M428 294l4 20-5-3 1-6zM433 305l4 10-5-1 0-7zM573 276l4 11-5 0 0-8zM593 269l4 16-5-4 0-7zM623 255l4 22-5-5 0-5zM628 268l4 6-5 3 1-9z"/>
<path fill="#20d8f0" d="M427 311l-4-10 5-7 0 11z"/>
<path fill="#18b0c8" d="M432 314l-4-20 5 11-1 2zM592 281l-4-20 5 8-1 5zM627 277l-4-22 5 13 0 0z"/>
<path fill="#20b0d8" d="M443 293l4 13-5 2 0-6zM498 282l4 21-5-4 1-5z"/>
<path fill="#20c8f0" d="M442 308l-4-5 5-10-1 9z"/>
<path fill="#1890b0" d="M448 296l4 17-5-7 1-4z"/>
<path fill="#18a8c8" d="M447 306l-4-13 5 3 0 6z"/>
<path fill="#1868b0" d="M453 299l4 10-5 4 0-9z"/>
<path fill="#1890f8" d="M452 313l-4-17 5 3-1 5zM457 309l-4-10 5-5 0 8zM542 291l-4-4 5-10-1 11zM657 267l-4-3 5-1 0 0z"/>
<path fill="#1068b0" d="M463 300l4 5-5 2 0-5zM483 293l4 13-5-5 0-3zM518 283l4 18-5-8 1-3z"/>
<path fill="#1878d0" d="M462 307l-4-13 5 6-1 2zM482 301l-4-10 5 2-1 5zM517 293l-4-9 5-1 0 7z"/>
<path fill="#1880d8" d="M478 291l4 10-5 9 1-10z"/>
<path fill="#1888f8" d="M477 310l-4-12 5-7 0 9zM727 258l-4-13 5-5 0 10z"/>
<path fill="#20c8d0" d="M488 280l4 17-5 9 1-12z"/>
<path fill="#20e0e8" d="M487 306l-4-13 5-13 0 14z"/>
<path fill="#18a0a8" d="M493 290l4 9-5-2 0-5z"/>
<path fill="#18c0c0" d="M492 297l-4-17 5 10-1 2zM527 294l-4-22 5 7 0 5z"/>
<path fill="#20c0f0" d="M497 299l-4-9 5-8 0 12z"/>
<path fill="#1888b0" d="M503 295l4 7-5 1 0-7z"/>
<path fill="#18a0c8" d="M502 303l-4-21 5 13-1 1z"/>
<path fill="#0028c8" d="M503 295l5-2 4 4-5 5 1-5z"/>
<path fill="#0030e0" d="M503 295l4 7 1-5z"/>
<path fill="#1078d8" d="M513 284l4 9-5 4 0-5zM768 234l4 4-5 9 1-7z"/>
<path fill="#1880f0" d="M512 297l-4-4 5-9-1 8zM767 247l-4-8 5-5 0 6z"/>
<path fill="#20d0d0" d="M523 272l4 22-5 7 0-13z"/>
<path fill="#20e8e0" d="M522 301l-4-18 5-11-1 16zM582 286l-4-18 5-8-1 14zM587 283l-4-23 5 1 0 10z"/>
<path fill="#18a8a0" d="M528 279l4 10-5 5 1-10zM588 261l4 20-5 2 1-12z"/>
<path fill="#1870b0" d="M533 281l4 9-5-1 0-4zM668 258l4 10-5-12 1 5zM783 238l4 7-5-10 0 2z"/>
<path fill="#1888d0" d="M532 289l-4-10 5 2-1 4zM607 275l-4-8 5-5 0 10zM612 282l-4-20 5 10-1 1zM637 263l-4-3 5 2 0 2zM667 256l-4 6 5-4 0 3zM782 235l-4-6 5 9-1-1z"/>
<path fill="#1058b0" d="M538 287l4 4-5-1 1-3zM603 267l4 8-5-2 0-1zM678 252l4 11-5-3 1-2zM683 259l4 6-5-2 0-3zM763 239l4 8-5-3 0-2z"/>
<path fill="#1068c8" d="M537 290l-4-9 5 6 0 0zM677 260l-4-5 5-3 0 6z"/>
<path fill="#1880e0" d="M543 277l4 18-5-4 0-3zM658 263l4-4-5 8 1-4z"/>
<path fill="#2098e0" d="M548 274l4 18-5 3 1-11zM578 268l4 18-5 1 1-8zM643 255l4 12-5 6 0-9z"/>
<path fill="#20a8f8" d="M547 295l-4-18 5-3 0 10zM577 287l-4-11 5-8 0 11zM642 273l-4-11 5-7-1 9z"/>
<path fill="#1878b0" d="M553 273l4 17-5 2 0-10zM608 262l4 20-5-7 1-3zM613 272l4 3-5 7 0-9zM638 262l4 11-5-10 1 1zM648 265l4 8-5-6 1-2z"/>
<path fill="#20b0f8" d="M552 292l-4-18 5-1-1 9z"/>
<path fill="#20d098" d="M558 260l4 27-5 3 1-12z"/>
<path fill="#20e0a8" d="M557 290l-4-17 5-13 0 18z"/>
<path fill="#18a078" d="M563 275l4 14-5-2 0-9z"/>
<path fill="#18c090" d="M562 287l-4-27 5 15-1 3z"/>
<path fill="#20c0d0" d="M568 265l4 22-5 2 1-10z"/>
<path fill="#20d8e8" d="M567 289l-4-14 5-10 0 14z"/>
<path fill="#18b8c8" d="M572 287l-4-22 5 11-1 3z"/>
<path fill="#20d0c8" d="M583 260l4 23-5 3 0-12z"/>
<path fill="#1078f0" d="M597 285l-4-16 5 4 0 2zM602 273l-4 0 5-6-1 5zM752 250l-4-4 5-1-1 1zM757 242l-4 3 5-9 0 6z"/>
<path fill="#20d0f0" d="M622 272l-4-7 5-10-1 12z"/>
<path fill="#2090e0" d="M633 260l4 3-5 11 0-8zM663 262l4-6-5 3 0 1zM778 229l4 6-5 7 1-5z"/>
<path fill="#20a0f8" d="M632 274l-4-6 5-8-1 6zM662 259l-4 4 5-1-1-2zM777 242l-4-1 5-12 0 8z"/>
<path fill="#1890d0" d="M647 267l-4-12 5 10 0 0z"/>
<path fill="#0030d0" d="M648 265l5-1 4 3-5 6 0-6z"/>
<path fill="#0040d0" d="M688 256l4 3-5 6 1-5z"/>
<path fill="#20a0d8" d="M698 243l4 17-5 4 1-10z"/>
<path fill="#20b8f8" d="M697 264l-4-14 5-7 0 11z"/>
<path fill="#1880b0" d="M703 250l4 7-5 3 0-8z"/>
<path fill="#1898d0" d="M702 260l-4-17 5 7-1 2z"/>
<path fill="#1870d0" d="M732 258l-4-18 5 12-1-3z"/>
<path fill="#0038a8" d="M748 246l4 4-5-3 1 1z"/>
<path fill="#0840c8" d="M747 247l-4 1 5-2 0 2z"/>
<path fill="#1070d8" d="M758 236l4 8-5-2 1 0z"/>
<path fill="#0020c0" d="M202 365l5-1 5 0-5 6 0-4zM627 277l5-3 5 5-5 3 0-4z"/>
<path fill="#0020d8" d="M202 365l5 5 0-4zM207 364l5 0 0 0zM392 325l5 5 0-4zM452 313l5 6 0-4z"/>
<path fill="#001898" d="M207 364l5-2 5 3-5-1 0 0zM392 325l5 0 5 1-5 4 0-4zM452 313l5-4 5 10-5 0 0-4z"/>
<path fill="#000890" d="M212 362l5-1 5 5-5-1 0-1zM297 343l5 2 5 9-5-2 0-4zM547 295l5-3 5 6-5 0 0-2z"/>
<path fill="#0010a8" d="M212 362l5 3 0-1z"/>
<path fill="#0010b8" d="M217 361l5-1 5 2-5 4 0-4z"/>
<path fill="#0010d0" d="M217 361l5 5 0-4zM552 292l5 6 0-4z"/>
<path fill="#0028c8" d="M222 360l5-6 5 6-5 2 0-3zM507 302l5-5 5 7-5 4 0-5zM522 301l5-7 5 6-5 4 0-4z"/>
<path fill="#0028e0" d="M222 360l5 2 0-3z"/>
<path fill="#0020a0" d="M227 354l5 4 5 6-5-4 0-1zM412 322l5-6 5 10-5-4 0 0zM417 316l5 2 5 4-5 4 0-6zM432 314l5 1 5 9-5-1 0-4zM542 291l5 4 5 3-5 0 0-2zM592 281l5 4 5 2-5 1 0-3zM682 263l5 2 5 5-5-2 0-2z"/>
<path fill="#0020b8" d="M227 354l5 6 0-1zM432 314l5 9 0-4zM567 289l5 3 0-1z"/>
<path fill="#0030c8" d="M232 358l5-6 5 8-5 4 0-6zM332 338l5-6 5 7-5 2 0-3zM457 309l5-2 5 10-5 2 0-6zM557 290l5-3 5 9-5 1 0-5zM582 286l5-3 5 4-5 4 0-4zM612 282l5-7 5 6-5 7 0-6z"/>
<path fill="#0030e0" d="M232 358l5 6 0-6zM407 318l5 9 0-5zM412 322l5 0 0 0zM417 316l5 10 0-6zM457 309l5 10 0-6zM507 302l5 6 0-5zM557 290l5 7 0-5zM562 287l5 9 0-5zM582 286l5 5 0-4z"/>
<path fill="#0028a0" d="M237 352l5-1 5 10-5-1 0-4zM337 332l5-1 5 8-5 0 0-4zM407 318l5 4 5 0-5 5 0-5zM462 307l5-2 5 12-5 0 0-5zM467 305l5 6 5 4-5 2 0-5zM497 299l5 4 5 6-5 0 0-4zM562 287l5 2 5 3-5 4 0-5zM587 283l5-2 5 7-5-1 0-2zM727 258l5 0 5 4-5-4 0 1z"/>
<path fill="#0038e0" d="M237 352l5 8 0-4zM332 338l5 3 0-3zM337 332l5 7 0-4zM462 307l5 10 0-5zM587 283l5 4 0-2zM612 282l5 6 0-6z"/>
<path fill="#0030a8" d="M247 348l5 12-5 1 0-6zM252 351l5 7-5 2 0-6zM407 318l5 9-5 1 0-6zM487 306l5 5-5-2 0-2z"/>
<path fill="#0048e8" d="M247 361l-5-10 5-3 0 7zM402 326l-5-1 5-8 0 7zM407 328l-5-11 5 1 0 4zM542 307l-5-17 5 1 0 5zM792 244l-5 1 5 0 0 0z"/>
<path fill="#0038c0" d="M252 360l-5-12 5 3 0 3zM487 309l-5-8 5 5 0 1z"/>
<path fill="#0038d0" d="M257 347l5 7-5 4 0-6zM307 342l5-2 5 1-5 6 0-5zM482 301l5 8-5 5 0-6zM652 273l5-6 5 5-5 6 0-6zM692 259l5 9-5 2 0-4z"/>
<path fill="#0040e8" d="M257 358l-5-7 5-4 0 5zM307 342l5 5 0-5zM482 314l-5-4 5-9 0 7zM692 270l-5-5 5-6 0 7z"/>
<path fill="#0838a8" d="M262 344l5 9-5 1 0-4zM322 339l5 4-5 0 0-3zM652 273l5 5-5-6 0 0zM752 250l5 7-5-4 0-1z"/>
<path fill="#0850e8" d="M262 354l-5-7 5-3 0 6zM267 353l-5-9 5-1 0 5zM292 353l-5-13 5-1 0 6zM317 341l-5-1 5-7 0 6zM387 334l-5-1 5-14 0 11zM747 261l-5-8 5-6 0 7z"/>
<path fill="#0848d0" d="M267 343l5 7-5 3 0-5zM292 339l5 8-5 6 0-8zM317 333l5 10-5-2 0-2zM442 308l5 14-5 2 0-7zM747 247l5 6-5 8 0-7z"/>
<path fill="#0848a8" d="M272 341l5 9-5 0 0-4zM277 342l5 11-5-3 0-4zM352 329l5 8-5-3 0-2zM372 322l5 11-5-3 0-4zM497 299l5 10-5-1 0-5zM532 289l5 15-5-4 0-3zM537 290l5 17-5-3 0-6zM682 263l5 5-5-3 0-1zM717 252l5 13-5-6 0-1z"/>
<path fill="#0860f0" d="M272 350l-5-7 5-2 0 5zM347 339l-5-8 5-5 0 6zM492 311l-5-5 5-9 0 9zM532 300l-5-6 5-5 0 8zM677 269l-5-1 5-8 0 6zM717 259l-5-1 5-6 0 6zM722 265l-5-13 5 1 0 4z"/>
<path fill="#0850c8" d="M277 350l-5-9 5 1 0 4zM352 334l-5-8 5 3 0 3zM497 308l-5-11 5 2 0 4zM537 304l-5-15 5 1 0 8zM682 265l-5-5 5 3 0 1zM712 259l-5-2 5 1 0 0z"/>
<path fill="#0850d8" d="M282 340l5 7-5 6 0-7zM647 267l5 5-5 2 0-2zM707 257l5 2-5 4 0-3z"/>
<path fill="#0858f0" d="M282 353l-5-11 5-2 0 6zM362 339l-5-14 5 3 0 3zM447 322l-5-14 5-2 0 8zM622 281l-5-6 5-3 0 6zM697 268l-5-9 5 5 0-1zM702 261l-5 3 5-4 0 2zM707 263l-5-3 5-3 0 3z"/>
<path fill="#0840a8" d="M287 340l5 13-5-6 0-2zM357 325l5 14-5-2 0-5zM362 328l5 4-5 7 0-8zM432 314l5 9-5 0 0-5zM447 306l5 14-5 2 0-8zM452 313l5 6-5 1 0-6zM622 272l5 13-5-4 0-3zM627 277l5 5-5 3 0-6zM697 264l5-3-5 7 0-5zM702 260l5 3-5-2 0 1zM712 258l5 1-5 0 0-1zM767 247l5 7-5 0 0-4z"/>
<path fill="#0848c8" d="M287 347l-5-7 5 0 0 5zM322 343l-5-10 5 6 0 1zM432 323l-5-12 5 3 0 4zM452 320l-5-14 5 7 0 1zM627 285l-5-13 5 5 0 2zM652 272l-5-5 5 6 0-1zM752 253l-5-6 5 3 0 2zM767 254l-5-10 5 3 0 3z"/>
<path fill="#0038a8" d="M297 343l5 9-5-5 0-2zM377 334l5 0-5-1 0-2zM392 325l5 5-5 3 0-6zM517 293l5 18-5-7 0-3zM522 301l5 3-5 7 0-9zM612 282l5 6-5-3 0-3zM727 258l5 0-5-1 0-1zM792 245l5 0-5-1 0 1z"/>
<path fill="#0040c8" d="M297 347l-5-8 5 4 0 2zM517 304l-5-7 5-4 0 8zM522 311l-5-18 5 8 0 1zM612 285l-5-10 5 7 0 0z"/>
<path fill="#0008a8" d="M297 343l5 9 0-4zM302 345l5-3 5 5-5 7 0-7z"/>
<path fill="#0008c0" d="M302 345l5 9 0-7zM502 303l5 6 0-3z"/>
<path fill="#0028a8" d="M322 339l5-6 5 13-5-3 0-3zM327 333l5 5 5 3-5 5 0-6z"/>
<path fill="#0038e8" d="M322 339l5 4 0-3zM652 273l5 5 0-6z"/>
<path fill="#0030c0" d="M327 333l5 13 0-6zM467 305l5 12 0-5zM497 299l5 10 0-4z"/>
<path fill="#0858d8" d="M347 326l5 8-5 5 0-7zM492 297l5 11-5 3 0-5zM677 260l5 5-5 4 0-3zM722 253l5 4-5 8 0-8z"/>
<path fill="#0858e8" d="M357 337l-5-8 5-4 0 7zM427 322l-5-4 5-7 0 7zM442 324l-5-9 5-7 0 9zM647 274l-5-1 5-6 0 5z"/>
<path fill="#1060d8" d="M367 321l5 9-5 2 0-4zM737 246l5 15-5 1 0-5z"/>
<path fill="#1068f0" d="M367 332l-5-4 5-7 0 7z"/>
<path fill="#0858c8" d="M372 330l-5-9 5 1 0 4z"/>
<path fill="#0840c8" d="M377 333l-5-11 5 12 0-3zM392 333l-5-14 5 6 0 2zM727 257l-5-4 5 5 0-2z"/>
<path fill="#000080" d="M377 334l5-1 5 1-5 0 0 0zM472 311l5-1 5 4-5 1 0-3z"/>
<path fill="#0000b0" d="M377 334l5 0 0 0z"/>
<path fill="#0048d0" d="M387 319l5 14-5 1 0-4z"/>
<path fill="#0040d0" d="M402 317l5 11-5-2 0-2zM542 291l5 7-5 9 0-11z"/>
<path fill="#0850d0" d="M427 311l5 12-5-1 0-4z"/>
<path fill="#0008b0" d="M472 311l5 4 0-3z"/>
<path fill="#000888" d="M502 303l5-1 5 6-5 1 0-3z"/>
<path fill="#0028d8" d="M522 301l5 3 0-4zM627 277l5 5 0-4z"/>
<path fill="#0028b8" d="M542 291l5 7 0-2zM592 281l5 7 0-3zM682 263l5 5 0-2z"/>
<path fill="#0010c8" d="M547 295l5 3 0-2zM577 287l5 12 0-8z"/>
<path fill="#001098" d="M552 292l5-2 5 7-5 1 0-4zM572 287l5 0 5 12-5-4 0-3z"/>
<path fill="#0018a0" d="M567 289l5-2 5 8-5-3 0-1z"/>
<path fill="#0018b0" d="M572 287l5 8 0-3z"/>
<path fill="#0010b0" d="M577 287l5-1 5 5-5 8 0-8z"/>
<path fill="#1068d8" d="M602 273l5 14-5 0 0-4zM757 242l5 9-5 6 0-7z"/>
<path fill="#1070f0" d="M602 287l-5-2 5-12 0 10zM737 262l-5-4 5-12 0 11z"/>
<path fill="#1050b0" d="M607 275l5 10-5 2 0-7z"/>
<path fill="#1060c8" d="M607 287l-5-14 5 2 0 5zM742 261l-5-15 5 7 0 2z"/>
<path fill="#2090e0" d="M637 263l5 11-5 5 0-7z"/>
<path fill="#20a0f8" d="M637 279l-5-5 5-11 0 9z"/>
<path fill="#1870b0" d="M642 273l5 1-5 0 0-3zM672 268l5 1-5 1 0-4z"/>
<path fill="#1888d0" d="M642 274l-5-11 5 10 0-2zM672 270l-5-14 5 12 0-2z"/>
<path fill="#1880e0" d="M662 259l5 10-5 3 0-5z"/>
<path fill="#1890f8" d="M662 272l-5-5 5-8 0 8zM782 247l-5-5 5-7 0 9z"/>
<path fill="#1878b0" d="M667 256l5 14-5-1 0-5z"/>
<path fill="#20a8f8" d="M667 269l-5-10 5-3 0 8z"/>
<path fill="#0028c0" d="M727 258l5 0 0 1z"/>
<path fill="#0850b0" d="M742 253l5 8-5 0 0-6z"/>
<path fill="#1078f0" d="M757 257l-5-7 5-8 0 8z"/>
<path fill="#1058b0" d="M762 244l5 10-5-3 0-3z"/>
<path fill="#1068c8" d="M762 251l-5-9 5 2 0 4z"/>
<path fill="#1070d8" d="M772 238l5 9-5 7 0-8z"/>
<path fill="#1880f0" d="M772 254l-5-7 5-9 0 8z"/>
<path fill="#1060b0" d="M777 242l5 5-5 0 0-3z"/>
<path fill="#1070d0" d="M777 247l-5-9 5 4 0 2z"/>
<path fill="#1068b0" d="M782 235l5 16-5-4 0-3zM787 245l5-1-5 7 0-7z"/>
<path fill="#1878d0" d="M787 251l-5-16 5 10 0-1z"/>
<path fill="#001898" d="M207 370l5-6 5 14-5-3 0-3zM212 364l5 1 5 12-5 1 0-7zM232 360l5 4 5 9-5-5 0-2zM262 354l5-1 5 10-5 0 0-5zM297 347l5 5 5 8-5-8 0 1zM487 309l5 2 5 11-5-4 0-3zM532 300l5 4 5 9-5-6 0-1zM567 296l5-4 5 14-5-3 0-4zM572 292l5 3 5 6-5 5 0-8zM632 282l5-3 5 9-5-1 0-3z"/>
<path fill="#0020d8" d="M207 370l5 5 0-3zM212 364l5 14 0-7zM227 362l5 8 0-5zM257 358l5 6 0-4zM262 354l5 9 0-5zM292 353l5 5 0-6zM482 314l5 6 0-5zM527 304l5 11 0-9zM567 296l5 7 0-4zM572 292l5 14 0-8zM632 282l5 5 0-3z"/>
<path fill="#0010b8" d="M217 365l5 1 5 6-5 5 0-7zM222 366l5-4 5 8-5 2 0-4zM242 360l5 1 5 4-5 7 0-8zM337 341l5-2 5 9-5 5 0-8zM492 311l5-3 5 9-5 5 0-8zM547 298l5 0 5 7-5 6 0-8zM602 287l5 0 5 4-5 5 0-6z"/>
<path fill="#0010c8" d="M217 365l5 12 0-7zM237 364l5 9 0-6zM242 360l5 12 0-8zM327 343l5 8 0-4zM377 333l5 8 0-5zM382 334l5 3 0-1zM492 311l5 11 0-8zM542 307l5-2 0 0zM547 298l5 13 0-8zM552 298l5 7 0-4z"/>
<path fill="#0010d0" d="M222 366l5 6 0-4zM337 341l5 12 0-8zM422 326l5 6 0-4zM602 287l5 9 0-6zM627 285l5 2 0-2z"/>
<path fill="#0018c0" d="M227 362l5-2 5 8-5 2 0-5zM402 326l5 2 5 6-5 6 0-8zM527 304l5-4 5 7-5 8 0-9z"/>
<path fill="#0018b0" d="M232 360l5 8 0-2zM297 347l5 5 0 1zM487 309l5 9 0-3zM532 300l5 7 0-1z"/>
<path fill="#0010b0" d="M237 364l5-4 5 12-5 1 0-6zM427 322l5 9 0-3zM517 304l5 9 0-2zM597 288l5 7 0-3zM737 262l5 3 0-1z"/>
<path fill="#000888" d="M247 361l5-1 5 6-5-1 0-2zM252 360l5-2 5 6-5 2 0-4zM307 354l5-7 5 11-5-3 0-1zM387 334l5-1 5 4-5 0 0-2zM392 333l5-3 5 7-5 0 0-3zM407 328l5-1 5 5-5 2 0-4zM447 322l5-2 5 5-5 1 0-3zM452 320l5-1 5 6-5 0 0-3zM457 319l5 0 5 3-5 3 0-4zM462 319l5-2 5 6-5-1 0-2zM477 315l5-1 5 6-5-1 0-2zM557 298l5-1 5 6-5 1 0-4zM562 297l5-1 5 7-5 0 0-3zM742 261l5 0 5 5-5 0 0-2z"/>
<path fill="#0008a0" d="M247 361l5 4 0-2zM357 337l5 8 0-4z"/>
<path fill="#0008b8" d="M252 360l5 6 0-4zM307 354l5 1 0-1zM387 334l5 3 0-2zM437 323l5 6 0-3zM447 322l5 4 0-3zM452 320l5 5 0-3zM472 317l5 9 0-7zM477 315l5 4 0-2zM502 309l5 11 0-7zM507 309l5 6 0-4zM522 311l5 5 0-4zM562 297l5 6 0-3zM742 261l5 5 0-2z"/>
<path fill="#0020c0" d="M257 358l5-4 5 9-5 1 0-4zM292 353l5-6 5 5-5 6 0-6zM482 314l5-5 5 9-5 2 0-5z"/>
<path fill="#0028a0" d="M267 353l5-3 5 12-5 1 0-6zM287 347l5 6 5 5-5-1 0-3zM372 330l5 3 5 8-5 0 0-5zM732 258l5 4 5 3-5 4 0-5z"/>
<path fill="#0038e0" d="M267 353l5 10 0-6zM282 353l5 6 0-5zM732 258l5 11 0-5z"/>
<path fill="#0028a8" d="M272 350l5 0 5 9-5 3 0-7zM352 334l5 3 5 8-5-1 0-4zM367 332l5-2 5 11-5-1 0-4z"/>
<path fill="#0038e8" d="M272 350l5 12 0-7zM347 339l5 8 0-6zM367 332l5 8 0-4zM657 278l5 5 0-5z"/>
<path fill="#0020a0" d="M277 350l5 3 5 6-5 0 0-4zM417 322l5 4 5 6-5-2 0-2zM592 287l5 1 5 7-5 3 0-6zM622 281l5 4 5 2-5 3 0-4z"/>
<path fill="#0020b8" d="M277 350l5 9 0-4z"/>
<path fill="#0030c8" d="M282 353l5-6 5 10-5 2 0-5z"/>
<path fill="#0030c0" d="M287 347l5 10 0-3zM352 334l5 10 0-4zM372 330l5 11 0-5zM672 270l5 7 0-3z"/>
<path fill="#000078" d="M302 352l5 2 5 1-5 5 0-5z"/>
<path fill="#0000a8" d="M302 352l5 8 0-5z"/>
<path fill="#0038d0" d="M312 347l5-6 5 11-5 6 0-8z"/>
<path fill="#0040e8" d="M312 347l5 11 0-8zM752 266l-5-5 5-8 0 8z"/>
<path fill="#0030a8" d="M317 341l5 2 5 7-5 2 0-6zM672 270l5-1 5 9-5-1 0-3zM757 257l5 3-5 3 0-5zM767 254l5 6-5 0 0-4zM787 251l5 2-5 6 0-7z"/>
<path fill="#0038c0" d="M317 341l5 11 0-6zM757 263l-5-10 5 4 0 1z"/>
<path fill="#001098" d="M322 343l5 0 5 8-5-1 0-3zM342 339l5 0 5 8-5 1 0-5zM397 330l5-4 5 14-5-3 0-4zM422 326l5-4 5 9-5 1 0-4zM512 308l5-4 5 9-5 0 0-3zM517 304l5 7 5 5-5-3 0-2zM597 288l5-1 5 9-5-1 0-3zM737 262l5-1 5 5-5-1 0-1zM767 254l5 0 5 5-5 1 0-3z"/>
<path fill="#0018d0" d="M322 343l5 7 0-3zM342 339l5 9 0-5zM397 330l5 7 0-4zM402 326l5 14 0-8zM512 308l5 5 0-3zM767 254l5 6 0-3z"/>
<path fill="#000890" d="M327 343l5 3 5 1-5 4 0-4zM332 346l5-5 5 12-5-6 0 0zM357 337l5 2 5 5-5 1 0-4zM377 333l5 1 5 3-5 4 0-5zM382 334l5 0 5 3-5 0 0-1zM427 322l5 1 5 11-5-3 0-3zM497 308l5 1 5 11-5-3 0-3zM542 307l5-9 5 13-5-6 0 0zM552 298l5 0 5 6-5 1 0-4zM607 287l5-2 5 9-5-3 0-2zM612 285l5 3 5 5-5 1 0-4zM627 285l5-3 5 5-5 0 0-2z"/>
<path fill="#0008a8" d="M332 346l5 1 0 0zM432 323l5 0 5 6-5 5 0-7zM472 317l5-2 5 4-5 7 0-7zM502 309l5 0 5 6-5 5 0-7zM522 311l5-7 5 11-5 1 0-4zM537 304l5 3 5-2-5 8 0-6z"/>
<path fill="#0030d0" d="M347 339l5-5 5 10-5 3 0-6zM657 278l5-6 5 8-5 3 0-5z"/>
<path fill="#0028c8" d="M362 339l5-7 5 8-5 4 0-5zM412 327l5-5 5 8-5 2 0-4zM587 291l5-4 5 11-5-1 0-4zM617 288l5-7 5 9-5 3 0-5z"/>
<path fill="#0028d8" d="M362 339l5 5 0-5z"/>
<path fill="#0008c0" d="M392 333l5 4 0-3zM407 328l5 6 0-4zM432 323l5 11 0-7zM457 319l5 6 0-4zM462 319l5 3 0-2zM537 304l5 9 0-6zM557 298l5 6 0-4zM582 299l5 0 0-3z"/>
<path fill="#0030e0" d="M412 327l5 5 0-4zM587 291l5 6 0-4zM592 287l5 11 0-6z"/>
<path fill="#0028b8" d="M417 322l5 8 0-2zM622 281l5 9 0-4z"/>
<path fill="#000880" d="M437 323l5 1 5 3-5 2 0-3zM442 324l5-2 5 4-5 1 0-2zM507 309l5-1 5 5-5 2 0-4zM577 295l5 4 5 0-5 2 0-3z"/>
<path fill="#0008b0" d="M442 324l5 3 0-2zM582 299l5-8 5 6-5 2 0-3z"/>
<path fill="#000080" d="M467 317l5 0 5 9-5-3 0-2z"/>
<path fill="#000898" d="M467 317l5 6 0-2zM577 295l5 6 0-3z"/>
<path fill="#0010a8" d="M497 308l5 9 0-3zM607 287l5 4 0-2zM612 285l5 9 0-4z"/>
<path fill="#0028e0" d="M617 288l5 5 0-5z"/>
<path fill="#0838a8" d="M642 274l5 18-5-4 0-5zM667 269l5 13-5-2 0-4z"/>
<path fill="#0850e8" d="M642 288l-5-9 5-5 0 9zM652 282l-5-8 5-2 0 6zM667 280l-5-8 5-3 0 7zM672 282l-5-13 5 1 0 4zM727 268l-5-3 5-8 0 8zM732 270l-5-13 5 1 0 6zM792 253l-5-2 5-7 0 5zM797 249l-5-5 5 1 0 1z"/>
<path fill="#0848d0" d="M647 274l5 8-5 10 0-12zM672 270l5 7-5 5 0-8z"/>
<path fill="#0858e8" d="M647 292l-5-18 5 0 0 6zM777 259l-5-5 5-7 0 6z"/>
<path fill="#0038a8" d="M652 272l5 10-5 0 0-4zM657 278l5 5-5-1 0-3zM692 270l5-1-5 5 0-4zM697 268l5 4-5-3 0 1zM732 258l5 11-5 1 0-6zM797 245l5 3-5 1 0-3z"/>
<path fill="#0040c8" d="M657 282l-5-10 5 6 0 1zM767 260l-5-9 5 3 0 2z"/>
<path fill="#0850d8" d="M682 265l5 8-5 5 0-7zM702 261l5 11-5 0 0-4zM712 259l5 7-5 2 0-4zM777 247l5 5-5 7 0-6z"/>
<path fill="#0858f0" d="M682 278l-5-9 5-4 0 6zM702 272l-5-4 5-7 0 7zM707 272l-5-11 5 2 0 3z"/>
<path fill="#0840a8" d="M687 268l5 6-5-1 0-3zM707 263l5 5-5 4 0-6zM717 259l5 6-5 1 0-4zM722 265l5 3-5-3 0-1zM782 247l5 12-5-7 0-1z"/>
<path fill="#0850c8" d="M687 273l-5-8 5 3 0 2z"/>
<path fill="#0048e8" d="M692 274l-5-6 5 2 0 0zM697 269l-5 1 5-2 0 2zM762 260l-5-3 5-6 0 6zM787 259l-5-12 5 4 0 1z"/>
<path fill="#0860f0" d="M712 268l-5-5 5-4 0 5zM717 266l-5-7 5 0 0 3z"/>
<path fill="#0848c8" d="M722 265l-5-6 5 6 0-1zM782 252l-5-5 5 0 0 4z"/>
<path fill="#0048d0" d="M727 257l5 13-5-2 0-3zM792 244l5 5-5 4 0-4z"/>
<path fill="#0040d0" d="M752 253l5 10-5 3 0-5zM762 251l5 9-5 0 0-3z"/>
<path fill="#000078" d="M212 375l5 3 5 5-5-3 0-1zM242 373l5-1 5 5-5-3 0 0zM347 348l5-1 5 5-5 1 0-3zM427 332l5-1 5 5-5 1 0-3z"/>
<path fill="#000088" d="M212 375l5 5 0-1z"/>
<path fill="#000098" d="M217 378l5-1 5 1-5 5 0-4zM307 360l5-5 5 9-5 1 0-4zM342 353l5-5 5 5-5 5 0-5zM362 345l5-1 5 5-5 5 0-6z"/>
<path fill="#0000a8" d="M217 378l5 5 0-4zM307 360l5 5 0-4zM342 353l5 5 0-5zM347 348l5 5 0-3zM362 345l5 9 0-6zM427 332l5 5 0-3z"/>
<path fill="#0010b0" d="M222 377l5-5 5 2-5 4 0-3zM637 287l5 4 0 0z"/>
<path fill="#0010c8" d="M222 377l5 1 0-3zM227 372l5 2 0-2zM377 341l5 3 0-2zM382 341l5 2 0-2zM392 337l5 5 0-3zM417 332l5 6 0-4zM607 296l5 5 0-3zM612 291l5 13 0-8zM627 290l5 11 0-7z"/>
<path fill="#000890" d="M227 372l5-2 5 3-5 1 0-2zM232 370l5-2 5 4-5 1 0-2zM377 341l5 0 5 2-5 1 0-2zM387 337l5 0 5 5-5 0 0-2zM392 337l5 0 5 3-5 2 0-3zM397 337l5 0 5 5-5-2 0-1zM417 332l5-2 5 7-5 1 0-4zM422 330l5 2 5 5-5 0 0-3zM607 296l5-5 5 13-5-3 0-3zM627 290l5-3 5 13-5 1 0-7zM667 280l5 2 5 10-5-6 0-1z"/>
<path fill="#0010c0" d="M232 370l5 3 0-2z"/>
<path fill="#000888" d="M237 368l5 5 5 1-5-2 0 0zM252 365l5 1 5 5-5 1 0-4zM282 359l5 0 5 10-5-5 0-1zM292 357l5 1 5 4-5-1 0-1zM322 352l5-2 5 6-5 0 0-2zM337 347l5 6 5 5-5-4 0-1zM352 347l5-3 5 11-5-3 0-2zM357 344l5 1 5 9-5 1 0-5zM367 344l5-4 5 12-5-3 0-3zM467 322l5 1 5 4-5 1 0-3zM502 317l5 3 5 5-5-5 0 0zM532 315l5-8 5 12-5-5 0 0zM537 307l5 6 5 0-5 6 0-6zM542 313l5-8 5 12-5-4 0-1zM547 305l5 6 5 5-5 1 0-5zM602 295l5 1 5 5-5-1 0-2zM617 294l5-1 5 3-5 0 0-1zM622 293l5-3 5 11-5-5 0-1zM642 288l5 4 5-1-5 7 0-6z"/>
<path fill="#0008a0" d="M237 368l5 4 0 0zM252 365l5 7 0-4zM257 366l5-2 5 5-5 2 0-3zM272 363l5-1 5 4-5 6 0-6zM292 357l5 4 0-1zM337 347l5 7 0-1zM357 344l5 11 0-5zM467 322l5 6 0-3zM517 313l5 0 5 4-5 6 0-7zM547 305l5 12 0-5zM587 299l5-2 5 6-5 6 0-7zM602 295l5 5 0-2z"/>
<path fill="#000090" d="M242 373l5 1 0 0zM267 363l5 6 0-2zM572 303l5 4 0-1z"/>
<path fill="#0008a8" d="M247 372l5-7 5 7-5 5 0-5zM277 362l5-3 5 5-5 2 0-3zM317 358l5-6 5 4-5 2 0-2zM387 337l5 5 0-2zM397 337l5 3 0-1zM412 334l5-2 5 6-5 6 0-7zM422 330l5 7 0-3zM462 325l5-3 5 6-5 1 0-3zM482 319l5 1 5 3-5 7 0-7zM497 322l5-5 5 3-5 7 0-5zM527 316l5-1 5-1-5 3 0-1zM597 298l5-3 5 5-5 7 0-7z"/>
<path fill="#0008b8" d="M247 372l5 5 0-5zM257 366l5 5 0-3zM262 364l5 5 0-3zM277 362l5 4 0-3zM352 347l5 5 0-2zM402 337l5 5 0-2zM407 340l5-1 0 0zM412 334l5 10 0-7zM432 331l5 5 0-2zM437 334l5-1 0 1zM447 327l5 6 0-4zM452 326l5 5 0-3zM477 326l5 0 0-1zM482 319l5 11 0-7zM497 322l5 5 0-5zM527 316l5 1 0-1zM557 305l5 5 0-3zM562 304l5 5 0-3zM567 303l5 6 0-3zM587 299l5 10 0-7zM642 288l5 10 0-6z"/>
<path fill="#000880" d="M262 364l5-1 5 6-5 0 0-3zM327 350l5 1 5 9-5-4 0-2zM402 337l5 3 5-1-5 3 0-2zM407 340l5-6 5 10-5-5 0 0zM432 331l5 3 5-1-5 3 0-2zM437 334l5-5 5 9-5-5 0 1zM447 327l5-1 5 5-5 2 0-4zM452 326l5-1 5 5-5 1 0-3zM457 325l5 0 5 4-5 1 0-3zM477 326l5-7 5 11-5-4 0-1zM487 320l5-2 5 10-5-5 0-1zM512 315l5-2 5 10-5-4 0-1zM557 305l5-1 5 5-5 1 0-3zM562 304l5-1 5 6-5 0 0-3zM567 303l5 0 5 4-5 2 0-3zM582 301l5-2 5 10-5-4 0-1zM592 297l5 1 5 9-5-4 0-2z"/>
<path fill="#000080" d="M267 363l5 0 5 9-5-3 0-2zM312 355l5 3 5 0-5 6 0-5zM472 323l5 3 5 0-5 1 0-1zM492 318l5 4 5 5-5 1 0-4zM522 313l5 3 5 1-5 0 0-1zM572 303l5 3 5 0-5 1 0-1z"/>
<path fill="#0008b0" d="M272 363l5 9 0-6zM287 359l5-2 5 4-5 8 0-7zM312 355l5 9 0-5zM332 351l5-4 5 7-5 6 0-7zM372 340l5 1 5 3-5 8 0-8zM442 329l5 9 0-6zM457 325l5 5 0-3zM507 320l5 5 0-5zM517 313l5 10 0-7zM552 311l5 5 0-6zM577 306l5 0 0-2z"/>
<path fill="#000898" d="M282 359l5 5 0-1zM327 350l5 6 0-2zM472 323l5 4 0-1zM487 320l5 3 0-1zM492 318l5 10 0-4zM502 317l5 3 0 0zM512 315l5 4 0-1zM522 313l5 4 0-1zM582 301l5 4 0-1zM592 297l5 6 0-2zM622 293l5 3 0-1z"/>
<path fill="#0008c0" d="M287 359l5 10 0-7zM317 358l5 0 0-2zM322 352l5 4 0-2zM332 351l5 9 0-7zM367 344l5 5 0-3zM372 340l5 12 0-8zM462 325l5 4 0-3zM532 315l5-1 0 0zM537 307l5 12 0-6zM542 313l5 0 0-1zM597 298l5 9 0-7zM617 294l5 2 0-1z"/>
<path fill="#0020c0" d="M297 358l5-6 5 6-5 4 0-4zM672 282l5-5 5 4-5 11 0-9zM742 265l5 1 5 1-5 7 0-6z"/>
<path fill="#0020d8" d="M297 358l5 4 0-4zM652 282l5 6 0-4zM727 268l5 8 0-5zM742 265l5 9 0-6zM757 263l5 3 0-2z"/>
<path fill="#001898" d="M302 352l5 8 5 5-5-7 0 1zM652 282l5 0 5 4-5 2 0-4zM657 282l5 1 5 5-5-2 0-1zM727 268l5 2 5 0-5 6 0-5zM732 270l5-1 5 3-5-2 0 0zM747 266l5 0 5 10-5-9 0 2zM757 263l5-3 5 8-5-2 0-2z"/>
<path fill="#0018b0" d="M302 352l5 6 0 1zM657 282l5 4 0-1zM762 260l5 8 0-4z"/>
<path fill="#0010b8" d="M382 341l5-4 5 5-5 1 0-2zM612 291l5 3 5 2-5 8 0-8zM632 287l5 0 5 4-5 9 0-9zM662 283l5-3 5 6-5 2 0-4z"/>
<path fill="#0000a0" d="M442 329l5-2 5 6-5 5 0-6zM507 320l5-5 5 4-5 6 0-5zM552 311l5-6 5 5-5 6 0-6zM577 306l5-5 5 4-5 1 0-2z"/>
<path fill="#0018d0" d="M632 287l5 13 0-9zM752 266l5 10 0-8z"/>
<path fill="#001098" d="M637 287l5 1 5 10-5-7 0 0zM737 269l5-4 5 9-5-2 0-2zM762 260l5 0 5 9-5-1 0-4z"/>
<path fill="#0018c0" d="M647 292l5-10 5 6-5 3 0-3zM752 266l5-3 5 3-5 10 0-8z"/>
<path fill="#0020d0" d="M647 292l5-1 0-3z"/>
<path fill="#0010d0" d="M662 283l5 5 0-4zM737 269l5 3 0-2z"/>
<path fill="#0010a8" d="M667 280l5 6 0-1z"/>
<path fill="#0028d8" d="M672 282l5 10 0-9z"/>
<path fill="#0020a0" d="M677 277l5 1 5 6-5-3 0-1z"/>
<path fill="#0020b8" d="M677 277l5 4 0-1zM732 270l5 0 0 0zM747 266l5 1 0 2z"/>
<path fill="#0030c8" d="M682 278l5-5 5 6-5 5 0-6z"/>
<path fill="#0030e0" d="M682 278l5 6 0-6zM787 259l5 2 0-3z"/>
<path fill="#0028a0" d="M687 273l5 1 5 6-5-1 0-3zM772 260l5-1 5 4-5-2 0 0z"/>
<path fill="#0028c0" d="M687 273l5 6 0-3z"/>
<path fill="#0040d0" d="M697 269l5 8-5 3 0-5z"/>
<path fill="#0048e8" d="M697 280l-5-6 5-5 0 6zM797 261l-5-8 5-4 0 7zM802 262l-5-13 5-1 0 7z"/>
<path fill="#0038a8" d="M702 272l5 4-5 1 0-3zM787 259l5 2-5 4 0-6zM797 249l5 13-5-1 0-5zM802 248l5 12-5 2 0-7z"/>
<path fill="#0040c8" d="M702 277l-5-8 5 3 0 2zM787 265l-5-13 5 7 0 0z"/>
<path fill="#0028a8" d="M702 272l5 0 5 2-5 2 0-2z"/>
<path fill="#0038e8" d="M702 272l5 4 0-2z"/>
<path fill="#0038d0" d="M707 272l5-4 5 5-5 1 0-2z"/>
<path fill="#0040e8" d="M707 272l5 2 0-2zM712 268l5 5 0-3z"/>
<path fill="#0030a8" d="M712 268l5-2 5 6-5 1 0-3zM722 265l5 13-5-6 0-2zM727 268l5 8-5 2 0-6z"/>
<path fill="#0038c0" d="M722 272l-5-6 5-1 0 5zM727 278l-5-13 5 3 0 4z"/>
<path fill="#0030d0" d="M767 260l5 0 5 1-5 8 0-7z"/>
<path fill="#0038e0" d="M767 260l5 9 0-7z"/>
<path fill="#0030c0" d="M772 260l5 1 0 0z"/>
<path fill="#0048d0" d="M782 252l5 13-5-2 0-3z"/>
<path fill="#0850e8" d="M782 263l-5-4 5-7 0 8z"/>
<path fill="#0028c8" d="M787 259l5-6 5 8-5 0 0-3z"/>
<path fill="#000880" d="M217 380l5 3 5 5-5-5 0 1zM267 369l5 0 5 4-5 2 0-3zM287 364l5 5 5 5-5-4 0-1zM342 354l5 4 5 0-5 0 0-1zM372 349l5 3 5 0-5 0 0-1zM422 338l5-1 5 5-5 0 0-2zM427 337l5 0 5 4-5 1 0-3zM432 337l5-1 5 3-5 2 0-3zM437 336l5-3 5 11-5-5 0-1zM442 333l5 5 5 0-5 6 0-6zM477 327l5-1 5 5-5 1 0-3zM487 330l5-7 5 11-5-3 0-1zM492 323l5 5 5 5-5 1 0-4zM527 317l5 0 5 4-5 2 0-3zM547 313l5 4 5-1-5 2 0-2zM612 301l5 3 5 5-5-5 0 0zM627 296l5 5 5-1-5 7 0-6zM632 301l5-1 5 1-5-1 0 0z"/>
<path fill="#000898" d="M217 380l5 3 0 1zM272 369l5 4 0-1zM287 364l5 6 0-1zM342 354l5 4 0-1zM372 349l5 3 0-1zM437 336l5 3 0-1zM482 326l5 5 0-1zM492 323l5 11 0-4zM537 314l5 7 0-3zM547 313l5 5 0-2zM597 303l5 5 0-2zM612 301l5 3 0 0z"/>
<path fill="#0008a0" d="M222 383l5-5 5 3-5 7 0-6zM277 372l5-6 5 6-5 0 0-2zM332 356l5 4 0 0zM337 360l5-6 5 4-5 7 0-6zM352 353l5 2 0-1zM362 355l5-1 5-1-5 7 0-4zM367 354l5-5 5 3-5 1 0-1zM412 339l5 4 0 1zM417 344l5-6 5 4-5 7 0-6zM512 325l5-6 5 6-5 0 0-1zM522 323l5-6 5 6-5 1 0-2zM542 319l5-6 5 5-5 1 0-2zM622 296l5 7 0-3zM672 286l5 8 0-3zM742 272l5 5 0-2z"/>
<path fill="#0008b0" d="M222 383l5 5 0-6zM267 369l5 6 0-3zM277 372l5 0 0-2zM312 365l5 0 0-1zM347 358l5-5 5 2-5 3 0-2zM362 355l5 5 0-4zM407 342l5-3 5 4-5 2 0-3zM417 344l5 5 0-6zM427 337l5 5 0-3zM472 328l5 5 0-3zM477 327l5 5 0-3zM512 325l5 0 0-1zM522 323l5 1 0-2zM527 317l5 6 0-3zM542 319l5 0 0-2zM582 306l5 10 0-6zM592 309l5 5 0-6zM632 301l5-1 0 0z"/>
<path fill="#000890" d="M227 378l5-4 5 12-5-5 0-1zM237 373l5-1 5 7-5 2 0-5zM242 372l5 2 5 2-5 3 0-4zM247 374l5 3 5 1-5-2 0 0zM382 344l5-1 5 12-5 1 0-6zM392 342l5 0 5 6-5 1 0-4zM397 342l5-2 5 7-5 1 0-4zM402 340l5 2 5 3-5 2 0-3zM642 291l5 7 5 5-5 1 0-5zM742 272l5 2 5 4-5-1 0-2zM802 262l5-2 5 6-5-2 0-1z"/>
<path fill="#0010c8" d="M227 378l5 3 0-1zM232 374l5 12 0-8zM242 372l5 7 0-4zM382 344l5 12 0-6zM387 343l5 12 0-8zM392 342l5 7 0-4zM397 342l5 6 0-4zM802 262l5 2 0-1z"/>
<path fill="#0010b0" d="M232 374l5-1 5 8-5 5 0-8zM307 358l5 9 0-3zM387 343l5-1 5 7-5 6 0-8z"/>
<path fill="#0008c0" d="M237 373l5 8 0-5zM292 369l5 5 0-6zM297 361l5 6 0-3zM322 358l5 4 0-2zM327 356l5 6 0-4zM347 358l5 0 0-2zM377 352l5 0 0-1zM407 342l5 3 0-3zM617 304l5 5 0-6zM667 288l5 5 0-3z"/>
<path fill="#0008a8" d="M247 374l5 2 0 0zM292 369l5-8 5 6-5 7 0-6zM317 364l5-6 5 4-5 2 0-2zM402 340l5 7 0-3zM502 327l5-7 5 11-5 1 0-4zM602 307l5-7 5 5-5 3 0-3zM617 304l5-8 5 7-5 6 0-6zM647 298l5-7 5 11-5 1 0-5z"/>
<path fill="#000098" d="M252 377l5-5 5 5-5 1 0-2zM457 331l5-1 5 5-5 6 0-7zM517 319l5 6 0-2zM552 317l5-1 0 2zM557 316l5-6 5 10-5 1 0-4zM562 310l5-1 5 5-5 6 0-7z"/>
<path fill="#0000a8" d="M252 377l5 1 0-2zM447 338l5 0 0 0zM452 333l5 9 0-5zM557 316l5 5 0-4zM567 309l5 5 0-2z"/>
<path fill="#000080" d="M257 372l5-1 5 4-5 2 0-3zM262 371l5-2 5 6-5 0 0-3zM272 369l5 3 5 0-5 1 0-1zM312 365l5-1 5 0-5 1 0-1zM472 328l5-1 5 5-5 1 0-3zM482 326l5 4 5 1-5 0 0-1zM517 319l5 4 5 1-5 1 0-2zM552 317l5-1 5 5-5-5 0 2zM572 309l5-2 5 10-5-3 0-2zM577 307l5-1 5 10-5 1 0-5zM597 303l5 4 5 1-5 0 0-2z"/>
<path fill="#0000b0" d="M257 372l5 5 0-3zM262 371l5 4 0-3zM457 331l5 10 0-7zM562 310l5 10 0-7zM577 307l5 10 0-5z"/>
<path fill="#000888" d="M282 366l5-2 5 6-5 2 0-4zM297 361l5 1 5 4-5 1 0-3zM322 358l5-2 5 6-5 0 0-2zM327 356l5 0 5 4-5 2 0-4zM332 356l5 4 5 5-5-5 0 0zM352 353l5-1 5 5-5-2 0-1zM377 352l5-8 5 12-5-4 0-1zM412 339l5 5 5 5-5-6 0 1zM462 330l5-1 5 4-5 2 0-3zM467 329l5-1 5 5-5 0 0-2zM507 320l5 5 5 0-5 6 0-6zM532 317l5-3 5 7-5 0 0-3zM537 314l5 5 5 0-5 2 0-3zM607 300l5 1 5 3-5 1 0-3zM622 296l5 0 5 11-5-4 0-3zM667 288l5-2 5 8-5-1 0-3zM672 286l5 6 5 0-5 2 0-3z"/>
<path fill="#0008b8" d="M282 366l5 6 0-4zM317 364l5 0 0-2zM337 360l5 5 0-6zM367 354l5-1 0-1zM422 338l5 4 0-2zM432 337l5 4 0-3zM442 333l5 11 0-6zM462 330l5 5 0-3zM467 329l5 4 0-2zM487 330l5 1 0-1zM502 327l5 5 0-4zM507 320l5 11 0-6zM532 317l5 4 0-3zM602 307l5 1 0-3zM607 300l5 5 0-3zM627 296l5 11 0-6zM647 298l5 5 0-5z"/>
<path fill="#001098" d="M302 362l5-4 5 9-5-1 0-3zM307 358l5 7 5 0-5 2 0-3zM662 286l5 2 5 5-5 0 0-3zM727 278l5-2 5 1-5 1 0-1zM767 268l5 1 5 0-5 5 0-4zM782 263l5 2 5 1-5 6 0-6z"/>
<path fill="#0018d0" d="M302 362l5 4 0-3zM727 278l5 0 0-1zM757 276l5 1 0-4zM767 268l5 6 0-4zM782 263l5 9 0-6z"/>
<path fill="#000078" d="M357 352l5 3 5 5-5-3 0-1zM447 338l5-5 5 9-5-4 0 0zM452 333l5-2 5 10-5 1 0-5zM567 309l5 0 5 5-5 0 0-2zM587 305l5 4 5 5-5-3 0-1z"/>
<path fill="#000088" d="M357 352l5 5 0-1z"/>
<path fill="#000090" d="M572 309l5 5 0-2zM587 305l5 6 0-1z"/>
<path fill="#0000a0" d="M582 306l5-1 5 6-5 5 0-6zM592 309l5-6 5 5-5 6 0-6z"/>
<path fill="#0010b8" d="M637 300l5-9 5 13-5-3 0-2zM652 291l5-3 5 8-5 6 0-8z"/>
<path fill="#0010d0" d="M637 300l5 1 0-2zM652 291l5 11 0-8z"/>
<path fill="#0010a8" d="M642 291l5 13 0-5z"/>
<path fill="#001898" d="M657 288l5-2 5 7-5 3 0-5zM682 281l5 3 5 11-5-4 0-3zM697 280l5-3 5 11-5-2 0-3zM737 270l5 2 5 5-5 1 0-4zM752 267l5 9 5 1-5-2 0-1zM762 266l5 2 5 6-5-2 0-2zM792 261l5 0 5 2-5 1 0-2zM797 261l5 1 5 2-5-1 0-1z"/>
<path fill="#0020d0" d="M657 288l5 8 0-5z"/>
<path fill="#0018b0" d="M662 286l5 7 0-3zM762 266l5 6 0-2z"/>
<path fill="#0020c0" d="M677 292l5-11 5 10-5 1 0-3zM687 284l5-5 5 10-5 6 0-8zM732 276l5-6 5 8-5-1 0-2zM747 274l5-7 5 8-5 3 0-4zM787 265l5-4 5 3-5 2 0-2z"/>
<path fill="#0020d8" d="M677 292l5 0 0-3zM687 284l5 11 0-8zM697 280l5 6 0-3zM747 274l5 4 0-4zM787 265l5 1 0-2z"/>
<path fill="#0020b8" d="M682 281l5 10 0-3zM737 270l5 8 0-4zM752 267l5 8 0-1zM797 261l5 2 0-1z"/>
<path fill="#0018a0" d="M692 279l5 1 5 6-5 3 0-5zM702 277l5-1 5 10-5 2 0-6z"/>
<path fill="#0028d8" d="M692 279l5 10 0-5zM702 277l5 11 0-6zM732 276l5 1 0-2zM792 261l5 3 0-2z"/>
<path fill="#0028a8" d="M707 276l5-2 5 12-5 0 0-6zM712 274l5-1 5 11-5 2 0-7z"/>
<path fill="#0038e0" d="M707 276l5 10 0-6zM772 269l5 0 0 0zM777 261l5 16 0-9z"/>
<path fill="#0038e8" d="M712 274l5 12 0-7zM717 273l5 11 0-7z"/>
<path fill="#0030d0" d="M717 273l5-1 5 6-5 6 0-7z"/>
<path fill="#0028a0" d="M722 272l5 6 5 0-5 0 0-2zM772 269l5-8 5 16-5-8 0 0zM777 261l5 2 5 9-5 5 0-9z"/>
<path fill="#0030c0" d="M722 272l5 6 0-2z"/>
<path fill="#0018c0" d="M757 276l5-10 5 6-5 5 0-4z"/>
<path fill="#000880" d="M222 383l5 5 5 5-5-4 0-1zM232 381l5 5 5 5-5-5 0 0zM242 381l5-2 5 5-5 0 0-2zM317 365l5-1 5 10-5-4 0-2zM347 358l5 0 5 5-5 2 0-4zM377 352l5 0 5 10-5-4 0-2zM427 342l5 0 5 5-5 1 0-3zM432 342l5-1 5 5-5 1 0-3zM437 341l5-2 5 11-5-4 0-2zM617 304l5 5 5 4-5-3 0-1zM637 300l5 1 5 8-5-2 0-3z"/>
<path fill="#000898" d="M222 383l5 6 0-1zM232 381l5 5 0 0zM272 375l5 5 0-2zM317 365l5 5 0-2zM327 362l5 6 0-2zM377 352l5 6 0-2zM437 341l5 5 0-2zM442 339l5 11 0-4zM617 304l5 6 0-1zM637 300l5 7 0-3zM677 294l5 3 0-1z"/>
<path fill="#0008a0" d="M227 388l5-7 5 5-5 7 0-6zM237 386l5-5 5 3-5 7 0-5zM262 377l5 3 0-1zM277 373l5-1 5 6-5 5 0-7zM297 374l5-7 5 11-5 1 0-5zM307 366l5 7 0-3zM312 367l5-2 5 5-5 6 0-6zM337 360l5 6 0-1zM342 365l5-7 5 7-5 5 0-6zM357 355l5 12 0-6zM367 360l5-7 5 11-5 1 0-5zM372 353l5-1 5 6-5 6 0-7zM417 343l5 7 0-2zM422 349l5-7 5 6-5 0 0-1zM632 307l5-7 5 7-5 4 0-5zM687 291l5 3 0 1z"/>
<path fill="#0008b8" d="M227 388l5 5 0-6zM237 386l5 5 0-5zM242 381l5 3 0-2zM257 378l5 3 0-2zM297 374l5 5 0-5zM302 367l5 11 0-7zM322 364l5 10 0-7zM332 362l5 10 0-7zM347 358l5 7 0-4zM372 353l5 11 0-7zM407 347l5 6 0-4zM422 349l5-1 0-1zM427 342l5 6 0-3zM467 335l5 10 0-7zM472 333l5 7 0-4zM607 308l5 4 0-3zM612 305l5 6 0-3zM647 304l5 4 0-4zM652 303l5-2 0 1z"/>
<path fill="#000890" d="M247 379l5-3 5 12-5-4 0-2zM667 293l5 0 5 3-5 2 0-3zM672 293l5 1 5 3-5-1 0-1zM702 286l5 2 5 5-5 1 0-4zM762 277l5-5 5 12-5-5 0-1zM807 264l5 2 5 5-5-1 0-2z"/>
<path fill="#0010c8" d="M247 379l5 5 0-2zM252 376l5 12 0-7zM667 293l5 5 0-3zM697 289l5 9 0-6z"/>
<path fill="#0008b0" d="M252 376l5 2 5 3-5 7 0-7zM277 373l5 10 0-7zM312 367l5 9 0-6zM342 365l5 5 0-6zM367 360l5 5 0-5zM402 348l5 5 0-3zM432 342l5 5 0-3zM477 333l5 5 0-3zM542 321l5 4 0-3zM552 318l5 10 0-6zM632 307l5 4 0-5zM657 302l5 0 0-1zM682 292l5-1 5 3-5 7 0-7zM697 289l5-3 5 8-5 4 0-6zM757 275l5 2 5 2-5 7 0-7z"/>
<path fill="#000888" d="M257 378l5-1 5 3-5 1 0-2zM262 377l5-2 5 10-5-5 0-1zM307 366l5 1 5 9-5-3 0-3zM327 362l5 0 5 10-5-4 0-2zM337 360l5 5 5 5-5-4 0-1zM352 358l5-3 5 12-5-4 0-2zM357 355l5 2 5 9-5 1 0-6zM407 347l5-2 5 6-5 2 0-4zM412 345l5-2 5 7-5 1 0-4zM417 343l5 6 5-1-5 2 0-2zM472 333l5 0 5 5-5 2 0-4zM612 305l5-1 5 6-5 1 0-3zM652 303l5-1 5 0-5-1 0 1zM687 291l5 4 5 4-5-5 0 1z"/>
<path fill="#0000a0" d="M267 375l5 0 5 5-5 5 0-6zM587 316l5 4 0-4zM602 308l5 0 5 4-5 5 0-6z"/>
<path fill="#0000b0" d="M267 375l5 10 0-6zM287 372l5 9 0-5zM392 355l5 5 0-6zM397 349l5 5 0-3zM482 332l5 5 0-3zM487 331l5 5 0-3zM512 331l5 0 0-1zM532 323l5 5 0-4zM537 321l5 5 0-3zM602 308l5 9 0-6z"/>
<path fill="#000080" d="M272 375l5-2 5 10-5-3 0-2zM282 372l5 0 5 9-5-3 0-2zM287 372l5-2 5 10-5 1 0-5zM292 370l5 4 5 5-5 1 0-4zM382 352l5 4 5 5-5 1 0-4zM397 349l5-1 5 5-5 1 0-3zM402 348l5-1 5 6-5 0 0-3zM442 339l5 5 5 5-5 1 0-4zM452 338l5 4 5 1-5 0 0-1zM477 333l5-1 5 5-5 1 0-3zM482 332l5-1 5 5-5 1 0-3zM487 331l5 0 5 4-5 1 0-3zM492 331l5 3 5 1-5 0 0-1zM512 331l5-6 5 10-5-4 0-1zM532 323l5-2 5 5-5 2 0-4zM537 321l5 0 5 4-5 1 0-3zM542 321l5-2 5 6-5 0 0-3zM547 319l5-1 5 10-5-3 0-3zM552 318l5-2 5 11-5 1 0-6zM557 316l5 5 5 5-5 1 0-5zM657 302l5-6 5 9-5-3 0-1zM677 294l5-2 5 9-5-4 0-1z"/>
<path fill="#000090" d="M282 372l5 6 0-2zM292 370l5 10 0-4zM382 352l5 10 0-4zM452 338l5 5 0-1zM492 331l5 4 0-1zM547 319l5 6 0-3zM572 314l5 6 0-2zM587 316l5-5 5 8-5 1 0-4zM627 303l5 6 0-1z"/>
<path fill="#0008a8" d="M302 367l5-1 5 7-5 5 0-7zM322 364l5-2 5 6-5 6 0-7zM332 362l5-2 5 6-5 6 0-7zM467 335l5-2 5 7-5 5 0-7zM607 308l5-3 5 6-5 1 0-3zM647 304l5-1 5-2-5 7 0-4zM662 296l5-3 5 5-5 7 0-7zM702 286l5 8 0-4zM762 277l5 2 0-1zM807 264l5 6 0-2z"/>
<path fill="#0008c0" d="M352 358l5 5 0-2zM412 345l5 6 0-4zM662 296l5 9 0-7zM682 292l5 9 0-7z"/>
<path fill="#000078" d="M362 357l5 3 5 5-5 1 0-4zM457 342l5-1 5 5-5-3 0 0zM497 334l5-1 5 0-5 2 0-1zM502 333l5-1 5 5-5-4 0 1zM517 325l5 0 5 9-5 1 0-5zM522 325l5-1 5 9-5 1 0-5zM572 314l5 0 5 8-5-2 0-2zM577 314l5 3 5 4-5 1 0-4zM592 311l5 3 5 4-5 1 0-3zM627 303l5 4 5 4-5-2 0-1zM642 301l5 3 5 4-5 1 0-3zM707 288l5-2 5 5-5 2 0-3z"/>
<path fill="#000088" d="M362 357l5 9 0-4zM457 342l5 1 0 0zM502 333l5 0 0 1zM577 314l5 8 0-4zM592 311l5 8 0-3zM642 301l5 8 0-3z"/>
<path fill="#000098" d="M392 355l5-6 5 5-5 6 0-6zM447 344l5-6 5 5-5 6 0-5zM462 341l5-6 5 10-5 1 0-4zM507 332l5-1 5 0-5 6 0-4zM527 324l5-1 5 5-5 5 0-6zM557 316l5 11 0-5zM567 320l5-6 5 6-5 5 0-5zM597 314l5-6 5 9-5 1 0-4zM622 309l5-6 5 6-5 4 0-5zM692 295l5-6 5 9-5 1 0-4zM782 277l5-5 5 4-5 1 0-1z"/>
<path fill="#0000a8" d="M447 344l5 5 0-5zM462 341l5 5 0-4zM497 334l5 1 0-1zM507 332l5 5 0-4zM517 325l5 10 0-5zM522 325l5 9 0-5zM527 324l5 9 0-6zM567 320l5 5 0-5zM597 314l5 4 0-4zM622 309l5 4 0-5zM692 295l5 4 0-4zM707 288l5 5 0-3zM782 277l5 0 0-1z"/>
<path fill="#0010a8" d="M672 293l5 3 0-1z"/>
<path fill="#0010b8" d="M712 286l5 0 5 0-5 5 0-4zM742 278l5-1 5 3-5 9 0-8zM767 272l5 2 5 2-5 8 0-8z"/>
<path fill="#0018d0" d="M712 286l5 5 0-4zM772 274l5 2 0-2zM787 272l5 4 0-4z"/>
<path fill="#001098" d="M717 286l5-2 5 9-5-7 0 1zM737 277l5 1 5 11-5-3 0-4zM752 278l5-3 5 11-5-7 0 1zM772 274l5-5 5 9-5-2 0-2zM777 269l5 8 5 0-5 1 0-3z"/>
<path fill="#0010b0" d="M717 286l5 0 0 1zM777 269l5 9 0-3z"/>
<path fill="#0018c0" d="M722 284l5-6 5 9-5 6 0-7zM787 272l5-6 5 7-5 3 0-4z"/>
<path fill="#0020d8" d="M722 284l5 9 0-7zM727 278l5 9 0-5zM792 266l5 7 0-4z"/>
<path fill="#001898" d="M727 278l5 0 5 8-5 1 0-5zM732 278l5-1 5 9-5 0 0-4zM747 277l5 1 5 1-5 1 0-2zM792 266l5-2 5 9-5 0 0-4zM802 263l5 1 5 6-5-1 0-3z"/>
<path fill="#0020d0" d="M732 278l5 8 0-4zM747 277l5 3 0-2z"/>
<path fill="#0018b0" d="M737 277l5 9 0-4zM752 278l5 1 0 1z"/>
<path fill="#0010d0" d="M742 278l5 11 0-8zM767 272l5 12 0-8z"/>
<path fill="#0010c0" d="M757 275l5 11 0-7z"/>
<path fill="#0020c0" d="M797 264l5-1 5 6-5 4 0-6z"/>
<path fill="#0028d8" d="M797 264l5 9 0-6z"/>
<path fill="#0020b8" d="M802 263l5 6 0-3z"/>
<path fill="#000078" d="M227 389l5 4 5 0-5 6 0-5zM287 378l5 3 5 0-5 1 0-2zM292 381l5-1 5 1-5 0 0 0zM297 380l5-1 5 5-5-3 0 0zM312 373l5 3 5 0-5 6 0-5zM317 376l5-6 5 10-5-4 0 0zM322 370l5 4 5 5-5 1 0-4zM357 363l5 4 5 0-5 1 0-2zM362 367l5-1 5 4-5-3 0 1zM377 364l5-6 5 9-5-3 0-1zM382 358l5 4 5 4-5 1 0-4zM407 353l5 0 5 4-5 2 0-3zM437 347l5-1 5 9-5 1 0-5zM442 346l5 4 5 4-5 1 0-4zM457 343l5 0 5 8-5-3 0-2zM502 335l5-2 5 6-5 1 0-3zM507 333l5 4 5 4-5-2 0-1zM522 335l5-1 5 1-5 1 0-1zM527 334l5-1 5 4-5-2 0 0zM567 326l5-1 5 0-5 2 0-1zM587 321l5-1 5 5-5-3 0 0zM622 310l5 3 5 5-5 1 0-4zM642 307l5 2 5 5-5-3 0-1zM787 277l5-1 5 9-5 1 0-5z"/>
<path fill="#0000a8" d="M227 389l5 10 0-5zM282 383l5 5 0-5zM292 381l5 0 0 0zM312 373l5 9 0-5zM317 376l5 0 0 0zM377 364l5 0 0-1zM397 360l5 4 0-4zM407 353l5 6 0-3zM437 347l5 9 0-5zM447 350l5 4 0-4zM452 349l5 0 0-2zM472 345l5 4 0-5zM502 335l5 5 0-3zM532 333l5 4 0-4zM567 326l5 1 0-1zM637 311l5 5 0-5zM647 309l5 5 0-4zM787 277l5 9 0-5z"/>
<path fill="#0008a0" d="M232 393l5-7 5 6-5 1 0-2zM242 391l5-7 5 11-5 1 0-4zM262 381l5 5 0-2zM302 379l5-1 5-1-5 7 0-4zM347 370l5-5 5 3-5 3 0-3zM367 366l5-1 5-1-5 6 0-4zM572 325l5-5 5 3-5 2 0-2zM607 317l5-5 5 4-5 1 0-1zM692 294l5 7 0-3zM767 279l5 8 0-2zM782 278l5 3 0-1zM797 273l5 5 0-2zM812 270l5 6 0-2z"/>
<path fill="#0008b8" d="M232 393l5 0 0-2zM247 384l5 11 0-6zM252 384l5 10 0-6zM257 388l5-1 0-1zM347 370l5 1 0-3zM352 365l5 3 0-2zM367 366l5 4 0-4zM372 365l5-1 0 0zM422 350l5 9 0-7zM427 348l5 5 0-3zM607 317l5 0 0-1zM652 308l5 1 0-3zM657 301l5 7 0-4zM667 305l5 5 0-6zM727 293l5-1 0-1zM732 287l5 5 0-3z"/>
<path fill="#000880" d="M237 386l5 5 5 5-5-4 0-1zM247 384l5 0 5 10-5 1 0-6zM252 384l5 4 5-1-5 7 0-6zM352 365l5-2 5 5-5 0 0-2zM372 365l5-1 5 0-5 0 0 0zM432 348l5-1 5 9-5-4 0-1zM612 312l5-1 5 9-5-4 0-1zM662 302l5 3 5 5-5-4 0 0zM702 298l5-4 5 8-5-4 0 0zM732 287l5-1 5 6-5 0 0-3zM737 286l5 0 5 9-5-3 0-2z"/>
<path fill="#000898" d="M237 386l5 6 0-1zM267 380l5 11 0-5zM432 348l5 4 0-1zM612 312l5 4 0-1zM662 302l5 4 0 0zM737 286l5 6 0-2z"/>
<path fill="#0008b0" d="M242 391l5 5 0-4zM302 379l5 5 0-4zM307 378l5-1 0 1zM327 374l5 5 0-6zM462 343l5 8 0-5zM492 336l5 5 0-3zM497 335l5 5 0-2zM547 325l5 5 0-3zM572 325l5 0 0-2zM602 318l5 5 0-4zM687 301l5-7 5 7-5 5 0-6zM702 298l5 0 0 0zM712 293l5-2 5 3-5 2 0-2zM792 276l5-3 5 5-5 7 0-7z"/>
<path fill="#0008a8" d="M257 388l5-7 5 5-5 1 0-1zM422 350l5-2 5 5-5 6 0-7zM652 308l5-7 5 7-5 1 0-3zM667 305l5-7 5 6-5 6 0-6zM727 293l5-6 5 5-5 0 0-1zM762 286l5-7 5 8-5-1 0-2z"/>
<path fill="#000888" d="M262 381l5-1 5 11-5-5 0-2zM267 380l5 5 5 5-5 1 0-5zM427 348l5 0 5 4-5 1 0-3zM657 301l5 1 5 4-5 2 0-4zM692 294l5 5 5-1-5 3 0-3zM697 299l5-1 5 0-5 0 0 0zM767 279l5 5 5 5-5-2 0-2zM782 278l5-1 5 9-5-5 0-1zM812 270l5 1 5 9-5-4 0-2z"/>
<path fill="#0000a0" d="M272 385l5-5 5 4-5 6 0-5zM327 374l5-6 5 4-5 7 0-6zM337 372l5-6 5 5-5 1 0-2zM522 335l5 1 0-1zM562 327l5 4 0-3zM602 318l5-1 5 0-5 6 0-4zM627 313l5-4 5 3-5 6 0-5zM707 294l5-1 5 3-5 6 0-6z"/>
<path fill="#0000b0" d="M272 385l5 5 0-5zM337 372l5 0 0-2zM402 354l5 9 0-6zM412 353l5 4 0-3zM477 340l5 4 0-3zM482 338l5 5 0-3zM487 337l5 5 0-3zM512 337l5 4 0-5zM537 328l5 5 0-3zM542 326l5 5 0-3zM582 322l5 0 0 0zM617 311l5 9 0-5zM627 313l5 5 0-5zM707 294l5 8 0-6z"/>
<path fill="#000080" d="M277 380l5 3 5 5-5-4 0 0zM307 378l5-5 5 9-5-5 0 1zM332 368l5 4 5 0-5 0 0-1zM342 366l5 4 5 1-5 0 0-1zM412 353l5-2 5 6-5 0 0-3zM417 351l5-1 5 9-5-2 0-3zM462 343l5 3 5-1-5 6 0-5zM467 346l5-1 5 4-5-4 0 1zM477 340l5-2 5 5-5 1 0-3zM482 338l5-1 5 5-5 1 0-3zM487 337l5-1 5 5-5 1 0-3zM492 336l5-1 5 5-5 1 0-3zM497 335l5 0 5 5-5 0 0-2zM517 331l5 4 5 1-5 1 0-2zM537 328l5-2 5 5-5 2 0-3zM542 326l5-1 5 5-5 1 0-3zM547 325l5 0 5 4-5 1 0-3zM552 325l5 3 5 4-5-3 0-1zM577 320l5 2 5 0-5 1 0-1zM582 322l5-1 5 1-5 0 0 0zM617 311l5-1 5 9-5 1 0-5zM632 309l5 2 5 5-5-4 0 0zM682 297l5 4 5 5-5 1 0-4zM742 286l5 3 5 5-5 1 0-4z"/>
<path fill="#000090" d="M277 380l5 4 0 0zM287 378l5 4 0-2zM322 370l5 10 0-4zM342 366l5 5 0-1zM357 363l5 5 0-2zM362 367l5 0 0 1zM382 358l5 9 0-4zM417 351l5 6 0-3zM457 343l5 5 0-2zM467 346l5-1 0 1zM507 333l5 6 0-1zM517 331l5 6 0-2zM552 325l5 4 0-1zM562 327l5-1 5 1-5 4 0-3zM587 321l5 1 0 0zM632 309l5 3 0 0zM682 297l5 10 0-4zM742 286l5 9 0-4z"/>
<path fill="#000098" d="M282 383l5-5 5 4-5 6 0-5zM332 368l5 4 0-1zM397 360l5-6 5 9-5 1 0-4zM402 354l5-1 5 6-5 4 0-6zM447 350l5-1 5 0-5 5 0-4zM452 349l5-6 5 5-5 1 0-2zM472 345l5-5 5 4-5 5 0-5zM512 337l5-6 5 6-5 4 0-5zM532 333l5-5 5 5-5 4 0-4zM577 320l5 3 0-1zM637 311l5-4 5 4-5 5 0-5zM647 309l5-1 5 1-5 5 0-4z"/>
<path fill="#000088" d="M297 380l5 1 0 0zM442 346l5 9 0-4zM527 334l5 1 0 0zM622 310l5 9 0-4zM642 307l5 4 0-1z"/>
<path fill="#000890" d="M672 298l5-2 5 7-5 1 0-4zM677 296l5 1 5 10-5-4 0-2zM797 273l5 0 5 6-5-1 0-2z"/>
<path fill="#0010c8" d="M672 298l5 6 0-4zM772 284l5 5 0-5z"/>
<path fill="#0010a8" d="M677 296l5 7 0-2z"/>
<path fill="#0008c0" d="M687 301l5 5 0-6zM697 299l5-1 0 0zM712 293l5 3 0-2zM762 286l5 0 0-2zM792 276l5 9 0-7z"/>
<path fill="#0010b8" d="M717 291l5-5 5 8-5 0 0-3zM747 289l5-9 5 9-5 5 0-6zM772 284l5-8 5 12-5 1 0-5zM777 276l5 2 5 3-5 7 0-7z"/>
<path fill="#0018d0" d="M717 291l5 3 0-3zM752 280l5 9 0-5z"/>
<path fill="#001098" d="M722 286l5 7 5-1-5 2 0-3zM752 280l5-1 5 9-5 1 0-5zM757 279l5 7 5 0-5 2 0-3z"/>
<path fill="#0010b0" d="M722 286l5 8 0-3z"/>
<path fill="#0010d0" d="M747 289l5 5 0-6zM777 276l5 12 0-7z"/>
<path fill="#0018b0" d="M757 279l5 9 0-3zM807 269l5 8 0-4z"/>
<path fill="#0018c0" d="M802 273l5-4 5 8-5 2 0-5z"/>
<path fill="#0020d0" d="M802 273l5 6 0-5z"/>
<path fill="#001898" d="M807 269l5 1 5 6-5 1 0-4z"/>
<path fill="#000098" d="M232 399l5-6 4 9-5 1 0-4zM287 388l5-6 4 6-5 4 1-4zM312 377l4 10 0-4zM317 382l5-6 4 9-5 1 1-4zM402 364l5-1 4 1-5 5 0-4zM412 359l5-2 4 5-5 5 0-6zM452 354l5-5 4 5-5 5 0-5zM477 349l5-5 4 5-5 5 1-5zM517 341l5-4 4 5-5 0 1-2zM537 337l5-4 4 4-5 1 1-2zM652 314l5-5 4 6-5 4 0-5z"/>
<path fill="#0000a8" d="M232 399l4 4 0-4zM237 393l4 9 1-5zM242 392l4 9 0-5zM287 388l4 4 1-4zM297 381l4 9 1-5zM317 382l4 4 1-4zM342 372l4 9 0-5zM347 371l4 9 1-5zM402 364l4 5 0-4zM407 363l4 1 1-1zM452 354l4 5 0-5zM462 348l4 9 0-5zM477 349l4 5 1-5zM492 342l4 9 0-5zM507 340l4 8 1-4zM512 339l4 8 0-5zM517 341l4 1 1-2zM522 337l4 5 0-3zM532 335l4 8 0-5zM537 337l4 1 1-2zM547 331l4 9 1-5zM572 327l4 8 0-5zM642 316l4 1 0-1zM652 314l4 5 0-5z"/>
<path fill="#000078" d="M237 393l5-1 4 9-5 1 1-5zM242 392l5 4 4 0-5 5 0-5zM247 396l5-1 4 4-5-3 1 0zM292 382l5-1 4 9-5-2 0-3zM297 381l5 0 4 8-5 1 1-5zM302 381l5 3 4 4-5 1 0-3zM322 376l5 4 4 4-5 1 0-4zM342 372l5-1 4 9-5 1 0-5zM347 371l5 0 4 8-5 1 1-5zM382 364l5 3 4 5-5 1 0-4zM407 363l5-4 4 8-5-3 1-1zM422 357l5 2 4 5-5 1 0-4zM457 349l5-1 4 9-5-3 1-2zM462 348l5 3 4 2-5 4 0-5zM492 342l5-1 4 9-5 1 0-5zM507 340l5-1 4 8-5 1 1-4zM512 339l5 2 4 1-5 5 0-5zM522 337l5-1 4 4-5 2 0-3zM527 336l5-1 4 8-5-3 1-2zM532 335l5 2 4 1-5 5 0-5zM542 333l5-2 4 9-5-3 0-2zM547 331l5-1 4 9-5 1 1-5zM557 329l5 3 4 5-5 1 1-4zM572 327l5-2 4 9-5 1 0-5zM592 322l5 3 4 1-5 2 0-3zM597 325l5-1 4 5-5-3 1 0zM642 316l5-5 4 9-5-3 0-1zM647 311l5 3 4 5-5 1 1-4zM772 287l5 2 4 5-5-3 0-1z"/>
<path fill="#000090" d="M247 396l4 0 1 0zM272 391l5-1 4 1-5 4 0-3zM282 384l4 5 0-1zM292 382l4 6 0-3zM322 376l4 9 0-4zM362 368l4 4 0-1zM382 364l4 9 0-4zM417 357l4 5 1-2zM457 349l4 5 1-2zM472 345l4 6 0-1zM487 343l4 5 1-2zM502 340l4 6 0-2zM527 336l4 4 1-2zM542 333l4 4 0-2zM557 329l4 9 1-4zM567 331l5-4 4 8-5 1 1-4zM592 322l4 6 0-3zM657 309l4 6 1-3zM737 292l4 6 1-2zM747 295l4 0 1 1zM772 287l4 4 0-1z"/>
<path fill="#0008a0" d="M257 394l5-7 4 10-5 1 1-4zM307 384l5-7 4 10-5 1 1-4zM352 371l5-3 4 6-5 5 0-6zM427 359l5-6 4 10-5 1 1-4zM467 351l5-6 4 6-5 2 1-3zM612 317l5-1 4 7-5 4 0-6zM692 306l5-5 4 4-5 6 0-5zM702 298l4 7 0-3zM752 294l5-5 4 3-5 7 0-5zM762 288l4 3 0-1zM767 286l5 1 4 4-5 5 1-6zM787 281l4 11 1-4zM792 286l5-1 4-1-5 7 0-5zM802 278l4 6 0-2zM817 276l4 5 1-2z"/>
<path fill="#0008b8" d="M257 394l4 4 1-4zM262 387l4 10 0-5zM352 371l4 8 0-6zM357 368l4 6 1-4zM372 370l4 0 0-2zM427 359l4 5 1-4zM432 353l4 10 0-5zM677 304l4 10 1-6zM727 294l4 6 1-4zM732 292l4 6 0-3zM752 294l4 5 0-5zM767 286l4 10 1-6zM792 286l4 5 0-5z"/>
<path fill="#000880" d="M262 387l5-1 4 10-5 1 0-5zM267 386l5 5 4 4-5 1 1-4zM357 368l5 0 4 4-5 2 1-4zM432 353l5-1 4 10-5 1 0-5zM437 352l5 4 4 5-5 1 1-4zM662 308l5-2 4 10-5 1 0-5zM667 306l5 4 4 1-5 5 1-5zM677 304l5-1 4 10-5 1 1-6zM682 303l5 4 4 5-5 1 0-4zM812 277l5-1 4 5-5 1 0-3z"/>
<path fill="#000898" d="M267 386l4 10 1-4zM377 364l4 6 1-2zM437 352l4 10 1-4zM617 316l4 7 1-2zM682 303l4 10 0-4zM707 298l4 10 1-4z"/>
<path fill="#0000a0" d="M272 391l4 4 0-3zM277 390l5-6 4 5-5 2 1-3zM332 379l5-7 4 10-5 1 0-4zM497 341l5-1 4 6-5 4 1-6zM567 331l4 5 1-4zM587 322l5 0 4 6-5 4 1-6zM607 323l5-6 4 10-5 1 1-4zM632 318l5-6 4 10-5 1 0-4zM712 302l5-6 4 6-5 5 0-5zM777 289l5-1 4 0-5 6 1-4zM807 279l5-2 4 5-5 6 1-6z"/>
<path fill="#0008b0" d="M277 390l4 1 1-3zM307 384l4 4 1-4zM337 372l4 10 1-5zM367 367l4 9 1-5zM467 351l4 2 1-3zM577 325l4 9 1-5zM582 323l4 10 0-5zM587 322l4 10 1-6zM607 323l4 5 1-4zM612 317l4 10 0-6zM662 308l4 9 0-5zM667 306l4 10 1-5zM672 310l4 1 0-1zM692 306l4 5 0-5zM742 292l4 9 0-5zM777 289l4 5 1-4zM797 285l5-7 4 6-5 0 1-1zM807 279l4 9 1-6zM812 277l4 5 0-3z"/>
<path fill="#000080" d="M282 384l5 4 4 4-5-3 0-1zM312 377l5 5 4 4-5 1 0-4zM337 372l5 0 4 9-5 1 1-5zM362 368l5-1 4 9-5-4 0-1zM367 367l5 3 4 0-5 6 1-5zM417 357l5 0 4 8-5-3 1-2zM472 345l5 4 4 5-5-3 0-1zM482 344l5-1 4 5-5 1 0-3zM487 343l5-1 4 9-5-3 1-2zM502 340l5 0 4 8-5-2 0-2zM552 330l5-1 4 9-5 1 0-5zM577 325l5-2 4 10-5 1 1-5zM582 323l5-1 4 10-5 1 0-5zM617 316l5 4 4 5-5-2 1-2zM637 312l5 4 4 1-5 5 1-5zM657 309l5-1 4 9-5-2 1-3zM672 310l5-6 4 10-5-3 0-1zM707 298l5 4 4 5-5 1 1-4zM737 292l5 0 4 9-5-3 1-2zM742 292l5 3 4 0-5 6 0-5zM747 295l5-1 4 5-5-4 1 1z"/>
<path fill="#000088" d="M302 381l4 8 0-3zM422 357l4 8 0-4zM597 325l4 1 1 0zM647 311l4 9 1-4z"/>
<path fill="#0000b0" d="M332 379l4 4 0-4zM412 359l4 8 0-6zM482 344l4 5 0-3zM497 341l4 9 1-6zM552 330l4 9 0-5zM632 318l4 5 0-4zM637 312l4 10 1-5zM712 302l4 5 0-5z"/>
<path fill="#0008a8" d="M372 370l5-6 4 6-5 0 0-2zM722 294l5 0 4 6-5 5 0-7z"/>
<path fill="#000888" d="M377 364l5 0 4 9-5-3 1-2zM697 301l5-3 4 7-5 0 1-3zM702 298l5 0 4 10-5-3 0-3zM717 296l5-2 4 11-5-3 1-3zM727 294l5-2 4 6-5 2 1-4zM732 292l5 0 4 6-5 0 0-3zM757 289l5-1 4 3-5 1 1-2zM762 288l5-2 4 10-5-5 0-1zM782 288l5-7 4 11-5-4 0-1zM787 281l5 5 4 5-5 1 1-4zM802 278l5 1 4 9-5-4 0-2zM817 276l5 4 4-1-5 2 1-2z"/>
<path fill="#0008c0" d="M697 301l4 4 1-3zM717 296l4 6 1-3zM722 294l4 11 0-7zM757 289l4 3 1-2zM782 288l4 0 0-1zM797 285l4-1 1-1z"/>
<path fill="#000098" d="M236 403l5-1 5 1-5 5 0-4zM246 401l5-5 5 5-5 5 0-5zM266 397l5-1 5 1-5 5 0-4zM356 379l5-5 5 9-5 1 0-4zM406 369l5-5 5 5-5 5 0-5zM416 367l5-5 5 5-5 5 0-5zM456 359l5-5 5 5-5 5 0-5zM471 353l5-2 5 4-5 6 0-6zM481 354l5-5 5 5-5 5 0-5zM516 347l5-5 5 5-5 5 0-5zM641 322l5-5 5 5-5 5 0-5zM666 317l5-1 5 1-5 5 0-4zM681 314l5-1 5 0-5 6 0-4zM731 300l5-2 5 6-5 5 0-6zM786 288l5 5 0-1z"/>
<path fill="#0000a8" d="M236 403l5 5 0-4zM246 401l5 5 0-5zM266 397l5 5 0-4zM296 388l5 8 0-5zM301 390l5 1 0-1zM356 379l5 5 0-4zM406 369l5 5 0-5zM456 359l5 5 0-5zM481 354l5 5 0-5zM516 347l5 5 0-5zM521 342l5 5 0-3zM526 342l5 4 0-3zM536 343l5 2 0-2zM541 338l5 9 0-5zM546 337l5 9 0-5zM576 335l5 5 0-4zM591 332l5 5 0-5zM641 322l5 5 0-5zM666 317l5 5 0-4zM671 316l5 1 0-1zM681 314l5 5 0-4zM686 313l5 0 0-1zM716 307l5 0 0 0zM726 305l5 5 0-4z"/>
<path fill="#000078" d="M241 402l5-1 5 5-5-3 0 0zM251 396l5 3 5 5-5-3 0-1zM261 398l5-1 5 5-5-2 0-1zM271 396l5-1 5 5-5-3 0 0zM286 389l5 3 5 5-5 1 0-4zM296 388l5 2 5 1-5 5 0-5zM301 390l5-1 5 2-5 0 0-1zM306 389l5-1 5 5-5-2 0-1zM381 370l5 3 5 5-5 1 0-4zM391 372l5-1 5 5-5-2 0-1zM401 370l5-1 5 5-5-3 0 0zM411 364l5 3 5 5-5-3 0-1zM421 362l5 3 5 5-5-3 0-1zM431 364l5-1 5 5-5-3 0 0zM461 354l5 3 5 5-5-3 0-1zM476 351l5 3 5 5-5-4 0 0zM491 348l5 3 5 5-5 1 0-4zM506 346l5 2 5 5-5 1 0-4zM521 342l5 0 5 4-5 1 0-3zM526 342l5-2 5 5-5 1 0-3zM531 340l5 3 5 2-5 0 0-2zM536 343l5-5 5 9-5-2 0-2zM541 338l5-1 5 9-5 1 0-5zM546 337l5 3 5 1-5 5 0-5zM551 340l5-1 5 5-5-3 0 0zM581 334l5-1 5 5-5-3 0 0zM596 328l5-2 5 9-5-3 0-2zM601 326l5 3 5 5-5 1 0-4zM621 323l5 2 5 5-5 1 0-4zM636 323l5-1 5 5-5-3 0 0zM646 317l5 3 5 1-5 1 0-2zM651 320l5-1 5 5-5-3 0 0zM661 315l5 2 5 5-5 1 0-4zM671 316l5-5 5 9-5-3 0-1zM676 311l5 3 5 5-5 1 0-4zM686 313l5-1 5 0-5 1 0-1zM691 312l5-1 5 5-5-4 0 1zM716 307l5-5 5 9-5-4 0 0zM721 302l5 3 5 5-5 1 0-4zM741 298l5 3 5 5-5-3 0-1zM776 291l5 3 5 5-5 1 0-4z"/>
<path fill="#000090" d="M241 402l5 1 0 0zM251 396l5 5 0-1zM256 399l5-1 5 2-5 4 0-4zM271 396l5 1 0 0zM276 395l5-4 5 8-5 1 0-4zM286 389l5 9 0-4zM291 392l5-4 5 8-5 1 0-4zM366 372l5 10 0-4zM381 370l5 9 0-4zM386 373l5-1 5 2-5 4 0-4zM396 371l5-1 5 1-5 5 0-4zM421 362l5 5 0-1zM426 365l5-1 5 1-5 5 0-4zM461 354l5 5 0-1zM466 357l5-4 5 8-5 1 0-4zM476 351l5 4 0 0zM486 349l5 5 0-2zM491 348l5 9 0-4zM501 350l5-4 5 8-5 1 0-4zM531 340l5 5 0-2zM576 335l5-1 5 1-5 5 0-4zM591 332l5-4 5 4-5 5 0-5zM616 327l5-4 5 8-5 1 0-4zM631 324l5-1 5 1-5 5 0-4zM656 319l5-4 5 8-5 1 0-4zM691 312l5 0 0 1zM726 305l5-5 5 9-5 1 0-4zM741 298l5 5 0-1z"/>
<path fill="#0000a0" d="M256 399l5 5 0-4zM276 395l5 5 0-4zM291 392l5 5 0-4zM371 376l5-6 5 10-5 1 0-4zM386 373l5 5 0-4zM396 371l5 5 0-4zM426 365l5 5 0-4zM466 357l5 5 0-4zM501 350l5 5 0-4zM616 327l5 5 0-4zM631 324l5 5 0-4zM656 319l5 5 0-4zM746 301l5-6 5 6-5 5 0-5z"/>
<path fill="#000088" d="M261 398l5 2 0-1zM306 389l5 2 0-1zM391 372l5 2 0-1zM401 370l5 1 0 0zM411 364l5 5 0-1zM431 364l5 1 0 0zM506 346l5 8 0-4zM551 340l5 1 0 0zM581 334l5 1 0 0zM596 328l5 4 0-2zM601 326l5 9 0-4zM621 323l5 8 0-4zM636 323l5 1 0 0zM646 317l5 5 0-2zM651 320l5 1 0 0zM661 315l5 8 0-4zM676 311l5 9 0-4zM721 302l5 9 0-4zM776 291l5 9 0-4z"/>
<path fill="#000080" d="M281 391l5-2 5 9-5 1 0-5zM361 374l5-2 5 10-5 1 0-5zM366 372l5 4 5 5-5 1 0-4zM376 370l5 0 5 9-5 1 0-5zM486 349l5-1 5 9-5-3 0-2zM701 305l5 0 5 9-5 1 0-5zM706 305l5 3 5 0-5 6 0-5zM711 308l5-1 5 0-5 1 0 0zM736 298l5 0 5 5-5 1 0-3zM771 296l5-5 5 9-5-4 0 0zM786 288l5 4 5 5-5-4 0-1zM806 284l5 4 5 1-5 1 0-2zM811 288l5-6 5 10-5-3 0-1zM816 282l5-1 5 10-5 1 0-6z"/>
<path fill="#0000b0" d="M281 391l5 8 0-5zM361 374l5 9 0-5zM371 376l5 5 0-4zM416 367l5 5 0-5zM471 353l5 8 0-6zM731 300l5 9 0-6zM736 298l5 6 0-3zM771 296l5 0 0 0zM811 288l5 1 0-1zM816 282l5 10 0-6z"/>
<path fill="#0008b0" d="M376 370l5 10 0-5zM696 311l5 5 0-4zM701 305l5 10 0-5zM706 305l5 9 0-5zM711 308l5 0 0 0zM746 301l5 5 0-5zM781 294l5 5 0-5z"/>
<path fill="#0008a0" d="M696 311l5-6 5 10-5 1 0-4zM766 291l5 7 0-3zM781 294l5-6 5 5-5 6 0-5zM796 291l5-7 5 6-5 6 0-6z"/>
<path fill="#000888" d="M751 295l5 4 5-1-5 3 0-3zM761 292l5-1 5 7-5-1 0-3zM766 291l5 5 5 0-5 2 0-3zM801 284l5 0 5 6-5 0 0-3z"/>
<path fill="#000898" d="M751 295l5 6 0-3zM806 284l5 6 0-2z"/>
<path fill="#0008a8" d="M756 299l5-7 5 5-5 1 0-2zM821 281l5-2 5 6-5 6 0-7z"/>
<path fill="#0008b8" d="M756 299l5-1 0-2zM796 291l5 5 0-6zM801 284l5 6 0-3z"/>
<path fill="#0008c0" d="M761 292l5 5 0-3zM821 281l5 10 0-7z"/>
<path fill="#000080" d="M241 408l5-5 5 9-5-4 0 0zM691 313l5-1 5 6-5 0 0-3zM696 312l5 4 5 0-5 2 0-2zM701 316l5-1 5 1-5 0 0 0zM711 314l5-6 5 10-5-4 0 0zM721 307l5 4 5 5-5-4 0 0zM731 310l5-1 5 0-5 2 0-1zM741 304l5-1 5 9-5-4 0-1zM771 298l5-2 5 6-5 1 0-3zM776 296l5 4 5 5-5-3 0-1zM786 299l5-6 5 10-5-4 0-1zM791 293l5 4 5 5-5 1 0-4zM821 292l5-1 5-1-5 2 0-1z"/>
<path fill="#0000b0" d="M241 408l5 0 0 0zM686 319l5 1 0-2zM751 306l5 1 0-2zM771 298l5 5 0-3z"/>
<path fill="#000078" d="M246 403l5 3 5 5-5 1 0-4zM256 401l5 3 5 5-5 1 0-4zM266 400l5 2 5 5-5 1 0-4zM276 397l5 3 5 1-5 1 0-2zM281 400l5-1 5 5-5-3 0 0zM296 397l5-1 5 5-5-3 0 0zM306 391l5 0 5 8-5 1 0-5zM311 391l5 2 5 5-5 1 0-4zM336 389l5-1 5 5-5-3 0 0zM356 385l5-1 5 5-5-3 0 0zM396 374l5 2 5 5-5 1 0-4zM406 371l5 3 5 1-5 5 0-5zM411 374l5-5 5 9-5-3 0-1zM416 369l5 3 5 5-5 1 0-4zM426 367l5 3 5 5-5 1 0-4zM436 365l5 3 5 5-5 1 0-4zM446 367l5-1 5 5-5-3 0 0zM466 359l5 3 5 5-5 1 0-4zM481 355l5 4 5 1-5 5 0-5zM486 359l5-5 5 9-5-3 0-1zM491 354l5 3 5 5-5 1 0-4zM506 355l5-1 5 5-5-3 0 0zM531 346l5-1 5 9-5-3 0-2zM536 345l5 0 5 8-5 1 0-5zM541 345l5 2 5 5-5 1 0-4zM556 341l5 3 5 5-5-3 0-1zM576 341l5-1 5 5-5-3 0 0zM586 335l5 3 5 5-5-3 0-1zM601 332l5 3 5 5-5-3 0-1zM611 334l5-1 5 5-5-3 0 0zM626 331l5-1 5 1-5 1 0-1zM631 330l5-1 5 1-5 1 0-1zM636 329l5-5 5 9-5-3 0-1zM641 324l5 3 5 5-5 1 0-4zM651 322l5-1 5 9-5 1 0-5zM656 321l5 3 5 5-5 1 0-4zM676 317l5 3 5 5-5-3 0-1zM706 315l5-1 5 0-5 2 0-1zM746 303l5 3 5 1-5 5 0-5zM811 290l5-1 5 9-5-4 0-1zM816 289l5 3 5 0-5 6 0-5z"/>
<path fill="#000090" d="M246 403l5 9 0-4zM261 404l5-4 5 8-5 1 0-4zM276 397l5 5 0-2zM291 398l5-1 5 1-5 5 0-4zM336 389l5 1 0 0zM351 386l5-1 5 1-5 5 0-4zM391 378l5-4 5 8-5 1 0-4zM401 376l5-5 5 9-5 1 0-4zM431 370l5-5 5 9-5 1 0-4zM466 359l5 9 0-4zM501 356l5-1 5 1-5 5 0-4zM571 342l5-1 5 1-5 5 0-4zM586 335l5 5 0-1zM601 332l5 5 0-1zM606 335l5-1 5 1-5 5 0-4zM621 332l5-1 5 1-5 5 0-4zM646 327l5-5 5 9-5 1 0-4zM721 307l5 5 0 0zM726 311l5-1 5 1-5 5 0-4zM776 296l5 6 0-1zM791 293l5 10 0-4zM811 290l5 4 0-1z"/>
<path fill="#000098" d="M251 406l5-5 5 9-5 1 0-4zM271 402l5-5 5 5-5 5 0-5zM301 396l5-5 5 9-5 1 0-4zM331 390l5-1 5 1-5 5 0-4zM421 372l5-5 5 9-5 1 0-4zM441 368l5-1 5 1-5 5 0-4zM461 364l5-5 5 9-5 1 0-4zM476 361l5-6 5 10-5 1 0-4zM521 352l5-5 5 9-5 1 0-4zM526 347l5-1 5 5-5 5 0-6zM551 346l5-5 5 5-5 5 0-5zM581 340l5-5 5 5-5 5 0-5zM596 337l5-5 5 5-5 5 0-5zM671 322l5-5 5 5-5 5 0-5zM681 320l5-1 5 1-5 5 0-4zM696 312l5 6 0-2zM781 300l5-1 5 0-5 6 0-4zM796 297l5-1 5 0-5 6 0-4z"/>
<path fill="#0000a8" d="M251 406l5 5 0-4zM271 402l5 5 0-5zM301 396l5 5 0-4zM306 391l5 9 0-5zM331 390l5 5 0-4zM406 371l5 9 0-5zM411 374l5 1 0-1zM421 372l5 5 0-4zM441 368l5 5 0-4zM461 364l5 5 0-4zM476 361l5 5 0-4zM481 355l5 10 0-5zM486 359l5 1 0-1zM521 352l5 5 0-4zM526 347l5 9 0-6zM536 345l5 9 0-5zM551 346l5 5 0-5zM581 340l5 5 0-5zM596 337l5 5 0-5zM646 327l5 5 0-4zM651 322l5 9 0-5zM671 322l5 5 0-5zM681 320l5 5 0-4zM706 315l5 1 0-1zM746 303l5 9 0-5zM781 300l5 5 0-4zM796 297l5 5 0-4zM816 289l5 9 0-5z"/>
<path fill="#000088" d="M256 401l5 9 0-4zM266 400l5 8 0-4zM281 400l5 1 0 0zM296 397l5 1 0 0zM311 391l5 8 0-4zM356 385l5 1 0 0zM396 374l5 8 0-4zM416 369l5 9 0-4zM426 367l5 9 0-4zM436 365l5 9 0-4zM446 367l5 1 0 0zM491 354l5 9 0-4zM506 355l5 1 0 0zM531 346l5 5 0-2zM541 345l5 8 0-4zM556 341l5 5 0-1zM576 341l5 1 0 0zM611 334l5 1 0 0zM641 324l5 9 0-4zM656 321l5 9 0-4zM676 317l5 5 0-1z"/>
<path fill="#0000a0" d="M261 404l5 5 0-4zM291 398l5 5 0-4zM351 386l5 5 0-4zM391 378l5 5 0-4zM401 376l5 5 0-4zM431 370l5 5 0-4zM501 356l5 5 0-4zM571 342l5 5 0-4zM606 335l5 5 0-4zM621 332l5 5 0-4zM626 331l5 1 0-1zM631 330l5 1 0-1zM636 329l5 1 0-1zM686 319l5-6 5 5-5 2 0-2zM726 311l5 5 0-4zM751 306l5-5 5 4-5 2 0-2z"/>
<path fill="#0008b0" d="M691 313l5 5 0-3zM701 316l5 0 0 0zM711 314l5 0 0 0zM716 308l5 10 0-7zM731 310l5 1 0-1zM736 309l5 0 0-1zM786 299l5 0 0-1zM821 292l5 0 0-1zM826 291l5-1 0-1z"/>
<path fill="#0008a0" d="M716 308l5-1 5 5-5 6 0-7zM736 309l5-5 5 4-5 1 0-1zM826 291l5-6 5 6-5-1 0-1z"/>
<path fill="#000898" d="M741 304l5 4 0-1zM756 301l5 4 0-2z"/>
<path fill="#000888" d="M756 301l5-3 5 11-5-4 0-2zM766 297l5 1 5 5-5 1 0-4zM806 290l5 0 5 4-5 0 0-2z"/>
<path fill="#0008a8" d="M761 298l5-1 5 7-5 5 0-7zM801 296l5-6 5 4-5 2 0-2z"/>
<path fill="#0008b8" d="M761 298l5 11 0-7zM766 297l5 7 0-4zM801 296l5 0 0-2zM806 290l5 4 0-2z"/>
<path fill="#000078" d="M246 408l5 4 5 5-5 1 0-4zM256 411l5-1 5 5-5-3 0 0zM281 402l5-1 5 9-5 1 0-5zM286 401l5 3 5 5-5 1 0-4zM301 398l5 3 5 1-5 5 0-5zM306 401l5-1 5 5-5-3 0 0zM341 390l5 3 5 1-5 5 0-5zM346 393l5-1 5 5-5-3 0 0zM361 386l5 3 5 5-5 1 0-4zM371 388l5-1 5 5-5-3 0 0zM391 384l5-1 5 5-5-3 0 0zM416 375l5 3 5 5-5 1 0-4zM451 368l5 3 5 5-5 1 0-4zM491 360l5 3 5 5-5-3 0-1zM511 356l5 3 5 5-5 1 0-4zM536 351l5 3 5 5-5 1 0-4zM561 346l5 3 5 5-5 1 0-4zM581 342l5 3 5 5-5 1 0-4zM591 340l5 3 5 5-5 1 0-4zM601 342l5-5 5 9-5-3 0-1zM606 337l5 3 5 5-5 1 0-4zM616 335l5 3 5 5-5 1 0-4zM631 332l5-1 5 9-5 1 0-5zM636 331l5-1 5 9-5 1 0-5zM641 330l5 3 5 5-5 1 0-4zM661 330l5-1 5 5-5-3 0 0zM671 328l5-1 5 5-5-3 0 0zM681 322l5 3 5 5-5 1 0-4zM711 316l5-2 5 10-5 1 0-5zM716 314l5 4 5 5-5 1 0-4zM731 316l5-5 5 9-5-3 0-1zM761 305l5 4 5 5-5 1 0-4zM771 304l5-1 5 9-5-4 0-1zM781 302l5 3 5 5-5-3 0-1zM791 299l5 4 5 5-5 1 0-4zM801 302l5-6 5 10-5-3 0-1zM816 294l5 4 5 1-5 5 0-5z"/>
<path fill="#000090" d="M246 408l5 10 0-4zM256 411l5 1 0 0zM296 403l5-5 5 9-5 1 0-4zM356 391l5-5 5 9-5 1 0-4zM366 389l5-1 5 1-5 5 0-4zM386 385l5-1 5 1-5 5 0-4zM411 380l5-5 5 9-5 1 0-4zM481 366l5-1 5 1-5 5 0-4zM506 361l5-5 5 9-5 1 0-4zM531 356l5-5 5 9-5 1 0-4zM556 351l5-5 5 9-5 1 0-4zM576 347l5-5 5 9-5 1 0-4zM591 340l5 9 0-4zM596 343l5-1 5 1-5 5 0-4zM606 337l5 9 0-4zM611 340l5-5 5 9-5 1 0-4zM626 337l5-5 5 9-5 1 0-4zM656 331l5-1 5 1-5 5 0-4zM666 329l5-1 5 1-5 5 0-4zM716 314l5 10 0-4zM756 307l5 4 0-1zM761 305l5 10 0-4zM771 304l5 4 0-1zM791 299l5 10 0-4z"/>
<path fill="#000098" d="M251 412l5-1 5 1-5 5 0-4zM276 407l5-5 5 9-5 1 0-4zM336 395l5-5 5 9-5 1 0-4zM446 373l5-5 5 9-5 1 0-4zM486 365l5-5 5 5-5 1 0-2zM586 345l5-5 5 9-5 1 0-4zM676 327l5-5 5 9-5 1 0-4zM686 325l5-5 5 9-5 1 0-4zM701 318l5 4 0-2zM721 318l5-6 5 10-5 1 0-4zM751 312l5-5 5 4-5 6 0-5zM766 309l5-5 5 4-5 6 0-5zM776 303l5-1 5 5-5 5 0-6zM786 305l5-6 5 10-5 1 0-4zM796 303l5-1 5 1-5 5 0-4z"/>
<path fill="#0000a8" d="M251 412l5 5 0-4zM276 407l5 5 0-4zM281 402l5 9 0-5zM301 398l5 9 0-5zM336 395l5 5 0-4zM341 390l5 9 0-5zM446 373l5 5 0-4zM486 365l5 1 0-2zM586 345l5 5 0-4zM601 342l5 1 0-1zM656 331l5 5 0-4zM676 327l5 5 0-4zM686 325l5 5 0-4zM711 316l5 9 0-5zM731 316l5 1 0-1zM766 309l5 5 0-5zM776 303l5 9 0-6zM786 305l5 5 0-4zM796 303l5 5 0-4zM801 302l5 1 0-1zM816 294l5 10 0-5z"/>
<path fill="#000088" d="M286 401l5 9 0-4zM306 401l5 1 0 0zM346 393l5 1 0 0zM361 386l5 9 0-4zM371 388l5 1 0 0zM391 384l5 1 0 0zM416 375l5 9 0-4zM451 368l5 9 0-4zM491 360l5 5 0-1zM511 356l5 9 0-4zM536 351l5 9 0-4zM561 346l5 9 0-4zM581 342l5 9 0-4zM616 335l5 9 0-4zM641 330l5 9 0-4zM661 330l5 1 0 0zM671 328l5 1 0 0zM681 322l5 9 0-4zM781 302l5 5 0-1z"/>
<path fill="#0000a0" d="M296 403l5 5 0-4zM356 391l5 5 0-4zM366 389l5 5 0-4zM386 385l5 5 0-4zM411 380l5 5 0-4zM481 366l5 5 0-4zM506 361l5 5 0-4zM531 356l5 5 0-4zM556 351l5 5 0-4zM576 347l5 5 0-4zM596 343l5 5 0-4zM611 340l5 5 0-4zM626 337l5 5 0-4zM631 332l5 9 0-5zM636 331l5 9 0-5zM666 329l5 5 0-4zM691 320l5-2 5 5-5 6 0-7z"/>
<path fill="#0000b0" d="M691 320l5 9 0-7zM721 318l5 5 0-4zM726 312l5 10 0-5zM751 312l5 5 0-5z"/>
<path fill="#000080" d="M696 318l5 0 5 4-5 1 0-3zM701 318l5-2 5 10-5-4 0-2zM706 316l5 0 5 9-5 1 0-5zM726 312l5 4 5 1-5 5 0-5zM746 308l5 4 5 5-5-3 0-1zM756 307l5-2 5 10-5-4 0-1z"/>
<path fill="#0008b0" d="M696 318l5 5 0-3zM706 316l5 10 0-5zM736 311l5 9 0-6zM821 298l5 1 0-3zM831 290l5 11 0-7z"/>
<path fill="#0008a0" d="M736 311l5-2 5 5-5 6 0-6zM821 298l5-6 5 4-5 3 0-3zM831 290l5 1 5 5-5 5 0-7z"/>
<path fill="#000880" d="M741 309l5-1 5 6-5 0 0-3zM826 292l5-2 5 11-5-5 0-1z"/>
<path fill="#0008b8" d="M741 309l5 5 0-3zM806 296l5 10 0-6zM811 294l5 11 0-6z"/>
<path fill="#000898" d="M746 308l5 6 0-1zM826 292l5 4 0-1z"/>
<path fill="#000888" d="M806 296l5-2 5 11-5 1 0-6zM811 294l5 0 5 10-5 1 0-6z"/>
<path fill="#000098" d="M256 417l5-5 5 9-5 1 0-4zM346 399l5-5 5 9-5 1 0-4zM551 358l5-1 5 1-5 5 0-4zM636 341l5-1 5 1-5 5 0-4zM771 314l5-6 5 5-5 6 0-5zM801 308l5-5 5 4-5 6 0-5zM821 304l5-5 5 5-5 5 0-5z"/>
<path fill="#0000a8" d="M256 417l5 5 0-4zM261 412l5 9 0-5zM266 415l5 1 0-1zM301 408l5 5 0-4zM306 407l5 1 0-1zM316 405l5 5 0-4zM321 404l5 1 0-1zM346 399l5 5 0-4zM491 366l5 9 0-5zM551 358l5 5 0-4zM636 341l5 5 0-4zM646 339l5 5 0-4zM651 338l5 1 0-1zM661 336l5 5 0-4zM696 329l5 1 0-1zM731 322l5 5 0-4zM736 317l5 9 0-5zM741 320l5 1 0-1zM746 314l5 10 0-5zM751 314l5 9 0-5zM771 314l5 5 0-5zM801 308l5 5 0-5zM821 304l5 5 0-5zM836 301l5 0 0-1z"/>
<path fill="#000078" d="M261 412l5 3 5 1-5 5 0-5zM266 415l5-1 5 1-5 1 0-1zM271 414l5-1 5 5-5-3 0 0zM306 407l5-5 5 9-5-3 0-1zM311 402l5 3 5 5-5 1 0-4zM321 404l5-1 5 1-5 1 0-1zM326 403l5-1 5 5-5-3 0 0zM351 394l5 3 5 5-5 1 0-4zM376 389l5 3 5 5-5 1 0-4zM391 390l5-5 5 9-5-3 0-1zM396 385l5 3 5 5-5 1 0-4zM406 387l5-1 5 5-5-3 0 0zM416 385l5-1 5 5-5-3 0 0zM441 380l5-1 5 5-5-3 0 0zM491 366l5-1 5 9-5 1 0-5zM496 365l5 3 5 5-5 1 0-4zM511 366l5-1 5 5-5-3 0 0zM556 357l5-1 5 5-5-3 0 0zM606 343l5 3 5 5-5 1 0-4zM641 340l5-1 5 5-5-3 0 0zM651 338l5-1 5 1-5 1 0-1zM656 337l5-1 5 5-5-3 0 0zM666 331l5 3 5 5-5 1 0-4zM676 329l5 3 5 1-5 5 0-5zM681 332l5-1 5 5-5-3 0 0zM696 329l5-6 5 10-5-3 0-1zM736 317l5 3 5 1-5 5 0-5zM741 320l5-6 5 10-5-3 0-1zM746 314l5 0 5 9-5 1 0-5zM751 314l5 3 5 0-5 6 0-5zM766 315l5-1 5 5-5-4 0 1zM776 308l5 4 5 5-5-4 0-1zM786 307l5 3 5 5-5 1 0-4zM806 303l5 3 5 5-5-4 0 0zM836 301l5-5 5 8-5-3 0-1z"/>
<path fill="#000088" d="M271 414l5 1 0 0zM311 402l5 9 0-4zM326 403l5 1 0 0zM351 394l5 9 0-4zM376 389l5 9 0-4zM396 385l5 9 0-4zM406 387l5 1 0 0zM416 385l5 1 0 0zM441 380l5 1 0 0zM496 365l5 9 0-4zM511 366l5 1 0 0zM556 357l5 1 0 0zM606 343l5 9 0-4zM641 340l5 1 0 0zM656 337l5 1 0 0zM666 331l5 9 0-4zM681 332l5 1 0 0zM786 307l5 9 0-4z"/>
<path fill="#000090" d="M301 408l5-1 5 1-5 5 0-4zM316 405l5-1 5 1-5 5 0-4zM371 394l5-5 5 9-5 1 0-4zM386 391l5-1 5 1-5 5 0-4zM401 388l5-1 5 1-5 5 0-4zM411 386l5-1 5 1-5 5 0-4zM436 381l5-1 5 1-5 5 0-4zM486 371l5-5 5 9-5 1 0-4zM506 367l5-1 5 1-5 5 0-4zM601 348l5-5 5 9-5 1 0-4zM646 339l5-1 5 1-5 5 0-4zM661 336l5-5 5 9-5 1 0-4zM671 334l5-5 5 9-5 1 0-4zM691 330l5-1 5 1-5 5 0-4zM706 322l5 10 0-4zM731 322l5-5 5 9-5 1 0-4zM766 315l5 0 0 1zM776 308l5 5 0-1zM781 312l5-5 5 9-5 1 0-4zM806 303l5 4 0 0z"/>
<path fill="#0000a0" d="M371 394l5 5 0-4zM386 391l5 5 0-4zM391 390l5 1 0-1zM401 388l5 5 0-4zM411 386l5 5 0-4zM436 381l5 5 0-4zM486 371l5 5 0-4zM506 367l5 5 0-4zM601 348l5 5 0-4zM671 334l5 5 0-4zM676 329l5 9 0-5zM691 330l5 5 0-4zM781 312l5 5 0-4z"/>
<path fill="#000080" d="M701 323l5-1 5 10-5 1 0-5zM706 322l5 4 5 5-5 1 0-4zM756 317l5-6 5 10-5-4 0-1zM761 311l5 4 5 0-5 6 0-5zM826 299l5-3 5 11-5-3 0-2zM831 296l5 5 5 0-5 6 0-6z"/>
<path fill="#0000b0" d="M701 323l5 10 0-5zM756 317l5 0 0-1zM761 311l5 10 0-5z"/>
<path fill="#000898" d="M826 299l5 5 0-2z"/>
<path fill="#0008b0" d="M831 296l5 11 0-6z"/>
<path fill="#000090" d="M256 423l5-1 5 1-5 5 0-4zM266 421l5-5 5 9-5 1 0-4zM306 413l5-5 5 9-5 1 0-4zM321 410l5-5 5 9-5 1 0-4zM376 399l5-1 5 1-5 5 0-4zM391 396l5-5 5 9-5 1 0-4zM406 393l5-5 5 9-5 1 0-4zM416 391l5-5 5 9-5 1 0-4zM441 386l5-5 5 9-5 1 0-4zM511 372l5-5 5 9-5 1 0-4zM651 344l5-5 5 8-5 1 0-4zM681 338l5-5 5 8-5 1 0-4zM696 335l5-5 5 8-5 1 0-3zM726 329l5-1 5 1-5 4 0-3zM741 326l5-5 5 5-5 4 0-4zM771 315l5 9 0-4zM781 313l5 9 0-4zM811 307l5 6 0-1zM821 310l5 0 0 0zM826 309l5-5 5 8-5 1 0-3zM841 301l5 5 0-1z"/>
<path fill="#0000a0" d="M256 423l5 5 0-4zM266 421l5 5 0-4zM376 399l5 5 0-4zM391 396l5 5 0-4zM406 393l5 5 0-4zM416 391l5 5 0-4zM441 386l5 5 0-4zM511 372l5 5 0-4zM681 338l5 4 0-4zM696 335l5 4 0-3zM726 329l5 4 0-3z"/>
<path fill="#000078" d="M261 422l5-1 5 5-5-3 0 0zM271 416l5-1 5 9-5 1 0-5zM276 415l5 3 5 5-5 1 0-4zM311 408l5 3 5 5-5 1 0-4zM326 405l5-1 5 9-5 1 0-5zM331 404l5 3 5 5-5 1 0-4zM381 398l5-1 5 5-5-3 0 0zM396 391l5 3 5 5-5 1 0-4zM411 388l5 3 5 5-5 1 0-4zM421 386l5 3 5 5-5 1 0-4zM446 381l5 3 5 5-5 1 0-4zM516 367l5 3 5 5-5 1 0-4zM561 358l5 3 5 5-5 1 0-4zM646 341l5 3 5 4-5 1 0-3zM656 339l5-1 5 8-5 1 0-5zM661 338l5 3 5 4-5 1 0-4zM686 333l5 3 5 4-5 1 0-3zM701 330l5 3 5 1-5 4 0-4zM706 333l5-1 5 4-5-2 0 0zM731 328l5-1 5 4-5-2 0 0zM746 321l5 3 5 4-5-2 0-1zM761 317l5 4 5 4-5-2 0-1zM771 315l5 4 5 4-5 1 0-4zM781 313l5 4 5 4-5 1 0-4zM811 307l5 4 5 4-5-2 0-1zM821 310l5-1 5 4-5-3 0 0zM831 304l5 3 5 4-5 1 0-4zM841 301l5 3 5 5-5-3 0-1z"/>
<path fill="#000088" d="M261 422l5 1 0 0zM276 415l5 9 0-4zM311 408l5 9 0-4zM331 404l5 9 0-4zM381 398l5 1 0 0zM396 391l5 9 0-4zM411 388l5 9 0-4zM421 386l5 9 0-4zM446 381l5 9 0-4zM516 367l5 9 0-4zM561 358l5 9 0-4zM646 341l5 8 0-3zM661 338l5 8 0-4zM686 333l5 8 0-3zM706 333l5 1 0 0zM731 328l5 1 0 0zM746 321l5 5 0-1zM761 317l5 6 0-1zM831 304l5 8 0-4z"/>
<path fill="#0000a8" d="M271 416l5 9 0-5zM306 413l5 5 0-4zM321 410l5 5 0-4zM326 405l5 9 0-5zM556 363l5 5 0-4zM641 346l5 4 0-4zM651 344l5 4 0-4zM656 339l5 8 0-5zM701 330l5 8 0-4zM741 326l5 4 0-4zM756 323l5 4 0-5zM766 321l5 4 0-4zM776 319l5 4 0-4zM806 313l5 4 0-5zM816 311l5 4 0-3zM826 309l5 4 0-3zM836 307l5 4 0-5z"/>
<path fill="#000098" d="M556 363l5-5 5 9-5 1 0-4zM641 346l5-5 5 8-5 1 0-4zM756 323l5-6 5 6-5 4 0-5zM766 321l5-6 5 9-5 1 0-4zM776 319l5-6 5 9-5 1 0-4zM806 313l5-6 5 6-5 4 0-5zM816 311l5-1 5 0-5 5 0-3zM836 307l5-6 5 5-5 5 0-5z"/>
<path fill="#000090" d="M261 428l5-5 5 9-5 1 0-4zM381 404l5-5 5 8-5 1 0-4zM666 346l5-1 5 2-5 4 0-4zM706 338l5-4 5 8-5 1 0-4zM716 336l5-1 5 2-5 4 0-4zM731 333l5-4 5 5-5 4 0-4zM746 330l5-4 5 8-5 1 0-4zM761 327l5-4 5 8-5 1 0-4zM811 317l5-4 5 8-5 1 0-4zM826 310l5 9 0-4zM836 312l5-1 5 2-5 4 0-4z"/>
<path fill="#0000a0" d="M261 428l5 5 0-4zM381 404l5 4 0-4zM666 346l5 5 0-4zM706 338l5 5 0-4zM716 336l5 5 0-4zM731 333l5 5 0-4zM746 330l5 5 0-4zM761 327l5 5 0-4zM811 317l5 5 0-4zM836 312l5 5 0-4z"/>
<path fill="#000078" d="M266 423l5 3 5 5-5 1 0-4zM386 399l5 3 5 4-5 1 0-3zM671 345l5-1 5 5-5-2 0-1zM711 334l5 2 5 5-5 1 0-4zM721 335l5-1 5 5-5-2 0-1zM736 329l5 2 5 2-5 1 0-2zM741 331l5-1 5 5-5-2 0-1zM751 326l5 2 5 5-5 1 0-4zM766 323l5 2 5 5-5 1 0-4zM776 324l5-1 5 2-5 0 0-1zM781 323l5-1 5 5-5-2 0-1zM816 313l5 2 5 5-5 1 0-4zM826 310l5 3 5 5-5 1 0-4zM841 311l5-5 5 9-5-2 0-2zM846 306l5 3 5 5-5 1 0-4z"/>
<path fill="#000088" d="M266 423l5 9 0-4zM386 399l5 8 0-3zM671 345l5 2 0-1zM711 334l5 8 0-4zM721 335l5 2 0-1zM736 329l5 5 0-2zM741 331l5 2 0-1zM751 326l5 8 0-4zM766 323l5 8 0-4zM781 323l5 2 0-1zM816 313l5 8 0-4zM846 306l5 9 0-4z"/>
<path fill="#000098" d="M771 325l5-1 5 1-5 5 0-4zM821 315l5-5 5 9-5 1 0-4z"/>
<path fill="#0000a8" d="M771 325l5 5 0-4zM776 324l5 1 0-1zM821 315l5 5 0-4zM841 311l5 2 0-2z"/>
<path fill="#000090" d="M671 351l5-4 4 8-5 1 1-4zM721 341l5-4 4 8-5 1 1-4zM736 338l5-4 4 8-5 1 0-4zM761 333l5-1 4 2-5 4 1-4zM841 317l5-4 4 8-5 1 1-4z"/>
<path fill="#0000a0" d="M671 351l4 5 1-4zM721 341l4 5 1-4zM736 338l4 5 0-4zM741 334l4 8 1-4zM761 333l4 5 1-4zM841 317l4 5 1-4z"/>
<path fill="#000078" d="M676 347l5 2 4 5-5 1 0-4zM726 337l5 2 4 5-5 1 0-4zM741 334l5-1 4 8-5 1 1-4zM746 333l5 2 4 5-5 1 0-4zM766 332l5-1 4 5-5-2 0-1zM781 325l5 0 4 8-5 1 1-5zM786 325l5 2 4 5-5 1 0-4zM846 313l5 2 4 5-5 1 0-4z"/>
<path fill="#000088" d="M676 347l4 8 0-4zM726 337l4 8 0-4zM746 333l4 8 0-4zM766 332l4 2 0-1zM786 325l4 8 0-4zM846 313l4 8 0-4z"/>
<path fill="#000098" d="M776 330l5-5 4 9-5 1 0-4z"/>
<path fill="#0000a8" d="M776 330l4 5 0-4zM781 325l4 9 1-5z"/>
<path fill="#000090" d="M765 338l5-4 5 8-5 1 0-4z"/>
<path fill="#0000a0" d="M765 338l5 5 0-4z"/>
<path fill="#000078" d="M770 334l5 2 5 5-5 1 0-4z"/>
<path fill="#000088" d="M770 334l5 8 0-4z"/>
<path d="M149 316.5h-10M164 331.5h-10M183 350.5h-10M207 374.5h-10M236 403.5h-10M285 452.5h-10M814 362.5h-19l5-4M714 382.5h-19l5-4M614 402.5h-19l5-4M514 422.5h-19l5-4M414 442.5h-19l5-4" stroke="#10281e" fill="none"/>
</g>
<g fill="#10281e" stroke="#10281e" stroke-width=".3" font-family="'DejaVu Sans Light','DejaVu Sans',sans-serif">
<text transform="translate(122.5 145) skewX(-28)" font-size="12.5" textLength="18" lengthAdjust="spacing" text-anchor="start">40</text>
<text transform="translate(122.5 188) skewX(-28)" font-size="12.5" textLength="18" lengthAdjust="spacing" text-anchor="start">30</text>
<text transform="translate(122.5 231) skewX(-28)" font-size="12.5" textLength="18" lengthAdjust="spacing" text-anchor="start">20</text>
<text transform="translate(122.5 274) skewX(-28)" font-size="12.5" textLength="18" lengthAdjust="spacing" text-anchor="start">10</text>
<text transform="translate(121.5 326) skewX(-28)" font-size="12.5" textLength="8" lengthAdjust="spacing" text-anchor="start">0</text>
<text transform="translate(135.5 341) skewX(-28)" font-size="12.5" textLength="8" lengthAdjust="spacing" text-anchor="start">3</text>
<text transform="translate(154.5 360) skewX(-28)" font-size="12.5" textLength="8" lengthAdjust="spacing" text-anchor="start">7</text>
<text transform="translate(171.5 384) skewX(-28)" font-size="12.5" textLength="16" lengthAdjust="spacing" text-anchor="start">12</text>
<text transform="translate(204.5 413) skewX(-28)" font-size="12.5" textLength="17" lengthAdjust="spacing" text-anchor="start">18</text>
<text transform="translate(247.5 462) skewX(-28)" font-size="12.5" textLength="18" lengthAdjust="spacing" text-anchor="start">28</text>
<svg x="830" y="358" width="84" height="9" viewBox="0 0 84 9" overflow="hidden"><text transform="translate(10 10.5) skewX(-28)" font-size="12.5" textLength="66" lengthAdjust="spacing" text-anchor="start">00:00:20</text></svg>
<svg x="730" y="378" width="84" height="9" viewBox="0 0 84 9" overflow="hidden"><text transform="translate(10 10.5) skewX(-28)" font-size="12.5" textLength="66" lengthAdjust="spacing" text-anchor="start">00:00:40</text></svg>
<svg x="630" y="398" width="84" height="9" viewBox="0 0 84 9" overflow="hidden"><text transform="translate(10 10.5) skewX(-28)" font-size="12.5" textLength="66" lengthAdjust="spacing" text-anchor="start">00:01:00</text></svg>
<svg x="530" y="418" width="84" height="9" viewBox="0 0 84 9" overflow="hidden"><text transform="translate(10 10.5) skewX(-28)" font-size="12.5" textLength="66" lengthAdjust="spacing" text-anchor="start">00:01:20</text></svg>
<svg x="430" y="438" width="84" height="9" viewBox="0 0 84 9" overflow="hidden"><text transform="translate(10 10.5) skewX(-28)" font-size="12.5" textLength="66" lengthAdjust="spacing" text-anchor="start">00:01:40</text></svg>
<text transform="translate(979 452) skewX(-28)" font-size="12.5" textLength="7" lengthAdjust="spacing" text-anchor="start">S</text><text transform="translate(997 452) skewX(-28)" font-size="12.5" textLength="64" lengthAdjust="spacing" text-anchor="start">13:53:36</text>
<text transform="translate(979 464) skewX(-28)" font-size="12.5" textLength="7" lengthAdjust="spacing" text-anchor="start">C</text><text transform="translate(997 464) skewX(-28)" font-size="12.5" textLength="64" lengthAdjust="spacing" text-anchor="start">13:55:35</text>
</g></svg></div>
<div class="abs" style="left:1074px;top:29px;width:3px;height:364px;background:#f0f0f0"></div>
<div class="pane" style="left:1077px;top:29px;width:509px;height:245px;border-right:2px solid #fff;border-bottom:2px solid #fff"><div class="bars">
<div class="bar" style="top:40px;width:155px;background:#d8821c;border-color:#d06a08"></div>
<div class="bar" style="top:71px;width:190px;background:#044a94;border-color:#023c80"></div>
<div class="bar" style="top:102px;width:99px;background:#0660c0;border-color:#0454b0"></div>
<div class="bar" style="top:133px;width:36px;background:#0c7cf0;border-color:#0870e0"></div>
<div class="bar" style="top:164px;width:8px;background:#3490ec;border-color:#2c88e4"></div>
<div class="bar" style="top:196px;width:1px;height:24px;background:#68a8ec;border:0"></div>
<div class="bar" style="top:227px;width:1px;height:14px;background:#888888;border:0"></div>
<div class="lab" style="top:20px;left:455px;color:#5a98dc">mV</div>
<div class="lab" style="top:42px;left:425px;color:#d07010">Eye  :22.59</div>
<div class="lab" style="top:73px;left:425px;color:#043870">Delta:27.50</div>
<div class="lab" style="top:104px;left:425px;color:#0450a0">Theta:14.77</div>
<div class="lab" style="top:135px;left:425px;color:#0c68c8">Alpha:5.27</div>
<div class="lab" style="top:166px;left:425px;color:#3088d8">BetaL:1.61</div>
<div class="lab" style="top:197px;left:425px;color:#6aa4dc">BetaH:0.68</div>
<div class="lab" style="top:228px;left:425px;color:#909090">A C  :0.16</div>
</div>
</div>
<div class="abs" style="left:1077px;top:274px;width:509px;height:3px;background:#f0f0f0"></div>
<div class="pane" style="left:1077px;top:277px;width:509px;height:116px;border-right:2px solid #fff;border-bottom:2px solid #fff"><div class="waves"><svg width="505" height="112" viewBox="0 0 505 112">
<polyline points="0,19 2,19.1 4,19.2 6,19.4 8,19.6 10,19.8 12,20 14,20.2 16,20.3 18,20.4 20,20.3 22,20 24,19.7 26,19.3 28,18.9 30,18.6 32,18.2 34,18 36,17.9 38,18 40,18.2 42,18.6 44,18.9 46,19.3 48,19.7 50,20 52,20.3 54,20.3 56,20.3 58,20.1 60,19.9 62,19.5 64,19.2 66,18.9 68,18.7 70,18.5 72,18.4 74,18.4 76,18.5 78,18.5 80,18.6 82,18.6 84,18.7 86,18.7 88,18.8 90,18.8 92,18.8 94,18.9 96,19.1 98,19.3 100,19.5 102,19.7 104,19.8 106,19.9 108,20 110,19.9 112,19.8 114,19.7 116,19.5 118,19.3 120,19.1 122,18.9 124,18.8 126,18.7 128,18.7 130,18.8 132,18.8 134,18.9 136,19 138,19 140,19.1 142,19.1 144,19.1 146,19.1 148,19 150,18.7 152,18.5 154,18.2 156,18 158,17.8 160,17.6 162,17.6 164,17.7 166,17.9 168,18.1 170,18.5 172,18.9 174,19.2 176,19.5 178,19.7 180,19.8 182,19.7 184,19.7 186,19.6 188,19.5 190,19.4 192,19.3 194,19.2 196,19.1 198,19.1 200,19.1 202,19 204,19 206,18.9 208,18.7 210,18.7 212,18.6 214,18.5 216,18.5 218,18.5 220,18.7 222,18.8 224,19.1 226,19.3 228,19.5 230,19.7 232,19.8 234,19.9 236,19.8 238,19.7 240,19.5 242,19.3 244,19 246,18.8 248,18.6 250,18.5 252,18.4 254,18.4 256,18.5 258,18.5 260,18.6 262,18.7 264,18.7 266,18.8 268,18.8 270,18.9 272,18.8 274,18.7 276,18.6 278,18.5 280,18.3 282,18.2 284,18 286,17.9 288,17.9 290,17.9 292,18 294,18.1 296,18.2 298,18.4 300,18.5 302,18.6 304,18.7 306,18.7 308,18.7 310,18.6 312,18.6 314,18.5 316,18.4 318,18.3 320,18.2 322,18.1 324,18.1 326,18.1 328,18.1 330,18.2 332,18.2 334,18.2 336,18.2 338,18.3 340,18.3 342,18.3 344,18.3 346,18.5 348,18.7 350,18.9 352,19.1 354,19.4 356,19.6 358,19.7 360,19.8 362,19.7 364,19.6 366,19.4 368,19.2 370,18.9 372,18.7 374,18.5 376,18.4 378,18.3 380,18.4 382,18.4 384,18.5 386,18.6 388,18.7 390,18.7 392,18.8 394,18.8 396,18.7 398,18.7 400,18.7 402,18.7 404,18.8 406,18.7 408,18.6 410,18.4 412,18 414,17.5 416,16.8 418,16 420,15.2 422,14.3 424,13.4 426,12.4 428,11.5 430,10.7 432,10 434,9.3 436,8.8 438,8.5 440,8.3 442,8.4 444,8.7 446,9.2 448,9.9 450,10.8 452,11.8 454,12.9 456,14.1 458,15.3 460,16.5 462,17.7 464,18.9 466,20 468,21.2 470,22.4 472,23.4 474,24.4 476,25.4 478,26.2 480,27.1 482,27.9 484,28.7 486,29.4 488,30.1 490,30.7 492,31.2 494,31.6 496,31.9 498,32 500,32 502,31.9 504,31.7" fill="none" stroke="#2038e0" stroke-width="1.1"/>
<polyline points="0,73.4 2,73.4 4,73.1 6,72.7 8,72.2 10,71.6 12,70.8 14,70 16,69.1 18,68.1 20,67.1 22,66.2 24,65.3 26,64.5 28,63.8 30,63.1 32,62.4 34,61.7 36,61 38,60.3 40,59.6 42,58.8 44,58.1 46,57.5 48,56.9 50,56.4 52,56 54,55.7 56,55.6 58,55.6 60,55.7 62,55.8 64,55.9 66,56.1 68,56.2 70,56.3 72,56.3 74,56.3 76,56.3 78,56.3 80,56.4 82,56.4 84,56.5 86,56.5 88,56.5 90,56.6 92,56.5 94,56.4 96,56.2 98,56 100,55.8 102,55.6 104,55.4 106,55.3 108,55.3 110,55.2 112,55.2 114,55.2 116,55.1 118,55.1 120,55 122,55 124,54.9 126,54.9 128,54.9 130,55 132,55.1 134,55.1 136,55.2 138,55.3 140,55.4 142,55.4 144,55.4 146,55.4 148,55.5 150,55.6 152,55.7 154,55.8 156,55.8 158,55.9 160,55.9 162,55.7 164,55.6 166,55.3 168,55.1 170,54.7 172,54.3 174,53.9 176,53.4 178,52.9 180,52.3 182,51.7 184,51 186,50.1 188,49.3 190,48.4 192,47.5 194,46.6 196,45.8 198,45.2 200,44.6 202,44.2 204,43.9 206,43.7 208,43.6 210,43.7 212,43.8 214,44.1 216,44.4 218,44.8 220,45.4 222,46.1 224,46.9 226,47.7 228,48.6 230,49.6 232,50.5 234,51.5 236,52.4 238,53.4 240,54.3 242,55.3 244,56.3 246,57.3 248,58.4 250,59.5 252,60.7 254,61.9 256,63.1 258,64.2 260,65.3 262,66.2 264,67 266,67.6 268,68 270,68.1 272,68.1 274,67.9 276,67.5 278,67 280,66.4 282,65.7 284,64.9 286,64 288,63.1 290,62.1 292,61.2 294,60.3 296,59.5 298,58.8 300,58.1 302,57.6 304,57.1 306,56.7 308,56.5 310,56.2 312,55.9 314,55.6 316,55.3 318,55.1 320,54.9 322,54.7 324,54.6 326,54.4 328,54.3 330,54.1 332,53.9 334,53.7 336,53.5 338,53.2 340,53.1 342,52.9 344,52.8 346,52.6 348,52.5 350,52.4 352,52.3 354,52.2 356,52.1 358,51.9 360,51.8 362,51.6 364,51.5 366,51.4 368,51.3 370,51.2 372,51.1 374,51 376,50.9 378,50.8 380,50.7 382,50.7 384,50.7 386,50.7 388,50.8 390,50.9 392,50.9 394,51 396,51 398,50.9 400,50.9 402,50.9 404,50.8 406,50.8 408,50.8 410,50.9 412,50.9 414,51 416,51 418,51 420,51 422,51 424,50.9 426,50.9 428,50.9 430,50.9 432,51 434,51.3 436,51.6 438,51.9 440,52.3 442,52.7 444,53.1 446,53.5 448,53.8 450,54 452,54.1 454,54.2 456,54.2 458,54.2 460,54.2 462,54.1 464,54.1 466,54.2 468,54.3 470,54.4 472,54.6 474,54.8 476,54.9 478,55.1 480,55.3 482,55.5 484,55.6 486,55.7 488,55.7 490,55.7 492,55.5 494,55.4 496,55.2 498,55 500,54.9 502,54.8 504,54.8" fill="none" stroke="#2038e0" stroke-width="1.1"/>
<polyline points="0,89.7 2,89.8 4,89.8 6,89.9 8,89.9 10,90 12,90 14,90.1 16,90.1 18,90 20,90 22,90.1 24,90.2 26,90.4 28,90.5 30,90.6 32,90.6 34,90.6 36,90.3 38,90 40,89.6 42,89.2 44,88.7 46,88.2 48,87.6 50,87.1 52,86.7 54,86.3 56,85.9 58,85.5 60,85.1 62,84.7 64,84.4 66,84.2 68,84.1 70,84.1 72,84.3 74,84.6 76,85 78,85.5 80,86.1 82,86.8 84,87.4 86,88 88,88.6 90,89.1 92,89.7 94,90.2 96,90.8 98,91.4 100,92 102,92.7 104,93.4 106,94.2 108,95 110,95.8 112,96.6 114,97.5 116,98.3 118,99.1 120,99.9 122,100.7 124,101.5 126,102.3 128,103 130,103.6 132,104.2 134,104.7 136,105 138,105.1 140,104.9 142,104.6 144,104 146,103.2 148,102.2 150,101 152,99.7 154,98.5 156,97.2 158,96.1 160,95.1 162,94.2 164,93.5 166,93 168,92.5 170,92.2 172,91.9 174,91.7 176,91.5 178,91.4 180,91.2 182,91.1 184,91 186,91 188,91 190,91 192,91 194,91.1 196,91.1 198,91.1 200,91 202,91 204,91 206,90.9 208,90.9 210,90.8 212,90.8 214,90.7 216,90.7 218,90.7 220,90.7 222,90.7 224,90.7 226,90.7 228,90.7 230,90.7 232,90.6 234,90.5 236,90.4 238,90.4 240,90.3 242,90.2 244,90.1 246,90 248,89.9 250,89.8 252,89.6 254,89.5 256,89.4 258,89.3 260,89.3 262,89.3 264,89.3 266,89.3 268,89.4 270,89.4 272,89.3 274,89.2 276,89 278,88.7 280,88.5 282,88.3 284,88.2 286,88.2 288,88.3 290,88.5 292,88.7 294,89.1 296,89.4 298,89.7 300,90.1 302,90.3 304,90.6 306,90.7 308,90.8 310,91 312,91.1 314,91.2 316,91.2 318,91.3 320,91.4 322,91.4 324,91.5 326,91.5 328,91.4 330,91.2 332,91 334,90.9 336,90.7 338,90.5 340,90.4 342,90.4 344,90.3 346,90.3 348,90.1 350,90 352,89.9 354,89.7 356,89.6 358,89.5 360,89.5 362,89.6 364,89.9 366,90.3 368,90.7 370,91.2 372,91.7 374,92.1 376,92.3 378,92.4 380,92.4 382,92.2 384,91.9 386,91.6 388,91.2 390,90.9 392,90.7 394,90.5 396,90.4 398,90.4 400,90.4 402,90.4 404,90.4 406,90.4 408,90.4 410,90.4 412,90.4 414,90.4 416,90.5 418,90.7 420,90.9 422,91.2 424,91.5 426,91.7 428,92 430,92.1 432,92.2 434,92.1 436,92.1 438,91.9 440,91.8 442,91.6 444,91.5 446,91.4 448,91.3 450,91.3 452,91.2 454,91.2 456,91.2 458,91.1 460,91.1 462,91 464,91 466,90.9 468,90.9 470,90.9 472,91 474,91.1 476,91.3 478,91.4 480,91.6 482,91.7 484,91.8 486,91.8 488,91.7 490,91.5 492,91.2 494,90.9 496,90.5 498,90.2 500,89.9 502,89.7 504,89.6" fill="none" stroke="#2038e0" stroke-width="1.1"/>
</svg></div></div>
</div>
<div class="child" style="top:476px;height:402px;background:#d7e4f2;border-color:#555">
<div class="cap" style="background:linear-gradient(#bccbdc,#dbe7f4);border-top:1px solid #fff"><span style="color:#444">2017 - 우뇌1</span></div>
<div class="pane" style="left:6px;top:29px;width:1068px;height:364px;border-right:2px solid #fff;border-bottom:2px solid #fff"><svg class="ch" viewBox="12 106 1064 360" width="1064" height="360">
<defs><pattern id="fl" x="144" y="317" width="30" height="6" patternUnits="userSpaceOnUse"><rect width="30" height="6" fill="#000072"/><path d="M1.5 -3l3.5-2.5v5zM1.5 3l3.5-2.5v5zM1.5 9l3.5-2.5v5zM6.5 2l3.5-2.5v5zM6.5 8l3.5-2.5v5zM6.5 14l3.5-2.5v5zM11.5 1l3.5-2.5v5zM11.5 7l3.5-2.5v5zM11.5 13l3.5-2.5v5zM16.5 0l3.5-2.5v5zM16.5 6l3.5-2.5v5zM16.5 12l3.5-2.5v5zM21.5 -1l3.5-2.5v5zM21.5 5l3.5-2.5v5zM21.5 11l3.5-2.5v5zM26.5 -2l3.5-2.5v5zM26.5 4l3.5-2.5v5zM26.5 10l3.5-2.5v5z" fill="#0000a8" shape-rendering="crispEdges"/></pattern></defs>
<g shape-rendering="crispEdges">
<rect x="138.5" y="307.8" width="5" height="3.4" fill="none" stroke="#0008b9" stroke-width="1"/><rect x="138.5" y="303.4" width="5" height="3.4" fill="none" stroke="#0028da" stroke-width="1"/><rect x="138.5" y="299.1" width="5" height="3.4" fill="none" stroke="#0858ec" stroke-width="1"/><rect x="138.5" y="294.8" width="5" height="3.4" fill="none" stroke="#1888f4" stroke-width="1"/><rect x="138.5" y="290.4" width="5" height="3.4" fill="none" stroke="#20b6f4" stroke-width="1"/><rect x="138.5" y="286.1" width="5" height="3.4" fill="none" stroke="#20dce8" stroke-width="1"/><rect x="138.5" y="281.7" width="5" height="3.4" fill="none" stroke="#20e8c8" stroke-width="1"/><rect x="138.5" y="277.4" width="5" height="3.4" fill="none" stroke="#20e2a0" stroke-width="1"/><rect x="138.5" y="259.9" width="5" height="3.4" fill="none" stroke="#3cdb30" stroke-width="1"/><rect x="138.5" y="255.6" width="5" height="3.4" fill="none" stroke="#68df24" stroke-width="1"/><rect x="138.5" y="251.2" width="5" height="3.4" fill="none" stroke="#94e020" stroke-width="1"/><rect x="138.5" y="246.9" width="5" height="3.4" fill="none" stroke="#b8e020" stroke-width="1"/><rect x="138.5" y="242.6" width="5" height="3.4" fill="none" stroke="#d4e020" stroke-width="1"/><rect x="138.5" y="238.2" width="5" height="3.4" fill="none" stroke="#e8e024" stroke-width="1"/><rect x="138.5" y="233.9" width="5" height="3.4" fill="none" stroke="#f1df2d" stroke-width="1"/><rect x="138.5" y="216.4" width="5" height="3.4" fill="none" stroke="#fcc8ee" stroke-width="1"/><rect x="138.5" y="212.1" width="5" height="3.4" fill="none" stroke="#fcb8ea" stroke-width="1"/><rect x="138.5" y="207.8" width="5" height="3.4" fill="none" stroke="#fba8e6" stroke-width="1"/><rect x="138.5" y="203.4" width="5" height="3.4" fill="none" stroke="#f998e2" stroke-width="1"/><rect x="138.5" y="199.1" width="5" height="3.4" fill="none" stroke="#f88fe0" stroke-width="1"/><rect x="138.5" y="194.7" width="5" height="3.4" fill="none" stroke="#f78dde" stroke-width="1"/><rect x="138.5" y="190.4" width="5" height="3.4" fill="none" stroke="#f68bde" stroke-width="1"/><rect x="138.5" y="173.0" width="5" height="3.4" fill="none" stroke="#f484da" stroke-width="1"/><rect x="138.5" y="168.6" width="5" height="3.4" fill="none" stroke="#f484da" stroke-width="1"/><rect x="138.5" y="164.2" width="5" height="3.4" fill="none" stroke="#f484da" stroke-width="1"/><rect x="138.5" y="159.9" width="5" height="3.4" fill="none" stroke="#f484da" stroke-width="1"/><rect x="138.5" y="155.6" width="5" height="3.4" fill="none" stroke="#f383da" stroke-width="1"/><rect x="138.5" y="151.2" width="5" height="3.4" fill="none" stroke="#f383da" stroke-width="1"/><rect x="138.5" y="146.9" width="5" height="3.4" fill="none" stroke="#f383da" stroke-width="1"/><rect x="138.5" y="129.5" width="5" height="3.4" fill="none" stroke="#f282d9" stroke-width="1"/><rect x="138.5" y="125.1" width="5" height="3.4" fill="none" stroke="#f282d9" stroke-width="1"/><rect x="138.5" y="120.8" width="5" height="3.4" fill="none" stroke="#f282d9" stroke-width="1"/><rect x="138.5" y="116.4" width="5" height="3.4" fill="none" stroke="#f282d9" stroke-width="1"/><rect x="138.5" y="112.1" width="5" height="3.4" fill="none" stroke="#f282d9" stroke-width="1"/><rect x="138.5" y="107.7" width="5" height="3.4" fill="none" stroke="#f282d9" stroke-width="1"/><rect x="138.5" y="103.4" width="5" height="3.4" fill="none" stroke="#f282d9" stroke-width="1"/><rect x="138.5" y="99.0" width="5" height="3.4" fill="none" stroke="#f282d9" stroke-width="1"/>
<path d="M149.5 316L152.9 319.4" stroke="#f09020" stroke-width=".8" fill="none"/>
<path d="M152.9 319.4L183.5 350" stroke="#103088" stroke-width=".8" fill="none"/>
<path d="M183.5 350L207.8 374.3" stroke="#e040e0" stroke-width=".8" fill="none"/>
<path d="M207.8 374.3L236.9 403.4" stroke="#a8d820" stroke-width=".8" fill="none"/>
<path d="M236.9 403.4L285.5 452" stroke="#205878" stroke-width=".8" fill="none"/>
<path d="M152.8 315.3L156.2 318.7" stroke="#f09020" stroke-width=".8" fill="none"/>
<path d="M156.2 318.7L186.8 349.3" stroke="#103088" stroke-width=".8" fill="none"/>
<path d="M186.8 349.3L211.1 373.6" stroke="#e040e0" stroke-width=".8" fill="none"/>
<path d="M211.1 373.6L240.2 402.8" stroke="#a8d820" stroke-width=".8" fill="none"/>
<path d="M240.2 402.8L288.8 451.3" stroke="#205878" stroke-width=".8" fill="none"/>
<path d="M156.1 314.7L159.5 318.1" stroke="#f09020" stroke-width=".8" fill="none"/>
<path d="M159.5 318.1L190.1 348.7" stroke="#103088" stroke-width=".8" fill="none"/>
<path d="M190.1 348.7L214.4 373" stroke="#e040e0" stroke-width=".8" fill="none"/>
<path d="M214.4 373L243.5 402.1" stroke="#a8d820" stroke-width=".8" fill="none"/>
<path d="M243.5 402.1L292.1 450.7" stroke="#205878" stroke-width=".8" fill="none"/>
<path d="M159.4 314L162.8 317.4" stroke="#f09020" stroke-width=".8" fill="none"/>
<path d="M162.8 317.4L193.4 348" stroke="#103088" stroke-width=".8" fill="none"/>
<path d="M193.4 348L217.7 372.3" stroke="#e040e0" stroke-width=".8" fill="none"/>
<path d="M217.7 372.3L246.8 401.4" stroke="#a8d820" stroke-width=".8" fill="none"/>
<path d="M246.8 401.4L295.4 450" stroke="#205878" stroke-width=".8" fill="none"/>
<path d="M162.7 313.4L166.1 316.8" stroke="#f09020" stroke-width=".8" fill="none"/>
<path d="M166.1 316.8L196.7 347.4" stroke="#103088" stroke-width=".8" fill="none"/>
<path d="M196.7 347.4L221 371.6" stroke="#e040e0" stroke-width=".8" fill="none"/>
<path d="M221 371.6L250.1 400.8" stroke="#a8d820" stroke-width=".8" fill="none"/>
<path d="M250.1 400.8L298.7 449.4" stroke="#205878" stroke-width=".8" fill="none"/>
<path d="M166 312.7L169.4 316.1" stroke="#f09020" stroke-width=".8" fill="none"/>
<path d="M169.4 316.1L200 346.7" stroke="#103088" stroke-width=".8" fill="none"/>
<path d="M200 346.7L224.3 371" stroke="#e040e0" stroke-width=".8" fill="none"/>
<path d="M224.3 371L253.4 400.1" stroke="#a8d820" stroke-width=".8" fill="none"/>
<path d="M253.4 400.1L302 448.7" stroke="#205878" stroke-width=".8" fill="none"/>
<path d="M169.3 312L172.7 315.4" stroke="#f09020" stroke-width=".8" fill="none"/>
<path d="M172.7 315.4L203.3 346" stroke="#103088" stroke-width=".8" fill="none"/>
<path d="M203.3 346L227.6 370.3" stroke="#e040e0" stroke-width=".8" fill="none"/>
<path d="M227.6 370.3L256.7 399.5" stroke="#a8d820" stroke-width=".8" fill="none"/>
<path d="M256.7 399.5L305.3 448" stroke="#205878" stroke-width=".8" fill="none"/>
<path d="M172.6 311.4L176 314.8" stroke="#f09020" stroke-width=".8" fill="none"/>
<path d="M176 314.8L206.6 345.4" stroke="#103088" stroke-width=".8" fill="none"/>
<path d="M206.6 345.4L230.9 369.7" stroke="#e040e0" stroke-width=".8" fill="none"/>
<path d="M230.9 369.7L260 398.8" stroke="#a8d820" stroke-width=".8" fill="none"/>
<path d="M260 398.8L308.6 447.4" stroke="#205878" stroke-width=".8" fill="none"/>
<path fill="url(#fl)" d="M739 198L875 334L285 452L280 447L275 442L270 437L266 433L261 428L256 423L251 418L246 413L241 408L236 403L232 399L227 394L222 389L217 384L222 377L217 372L217 366L218 361L218 355L223 348L218 343L223 336L213 332L213 326L214 321L209 316L209 310L204 305z"/>
<path fill="#c078b0" d="M149 235l5-220-5 61 0 74zM154 225l5-215-5 5 0 106zM174 274l5-182-5 66 0 42zM179 227l5-197-5 62 0 64zM274 279l5-112-5 110 0-27zM279 257l5-186-5 96 0 27zM284 214l5-191-5 48 0 70zM289 203l5-203-5 23 0 87zM319 239l5-99-5 80 0-9zM324 243l5-112-5 9 0 48zM329 209l5-169-5 91 0 25zM559 207l5-121-5 128 0-36zM564 172l5-142-5 56 0 38zM599 204l5-129-5 95 0-9zM604 167l5-158-5 66 0 39zM609 154l5-164-5 19 0 71zM629 198l5-123-5 88 0-5zM634 162l5-132-5 45 0 41zM664 169l5-68-5 52 0 1zM669 160l5-120-5 61 0 17zM684 189l5-126-5 96 0-9zM689 151l5-140-5 52 0 41zM694 139l5-159-5 31 0 59zM719 175l5-88-5 31 0 16zM724 170l5-155-5 72 0 25zM729 141l5-167-5 41 0 60zM734 131l5-161-5 4 0 80z"/>
<path fill="#f080d8" d="M149 76l-5 199 5-40 0-85zM154 15l-5 220 5-10 0-104zM174 158l-5 117 5-1 0-74zM179 92l-5 182 5-47 0-71zM239 222l-5 63 5-20 0-23zM274 277l-5 2 5 0 0-29zM279 167l-5 112 5-22 0-63zM284 71l-5 186 5-43 0-73zM289 23l-5 191 5-11 0-93zM319 220l-5 24 5-5 0-28zM324 140l-5 99 5 4 0-55zM329 131l-5 112 5-34 0-53zM559 214l-5-10 5 3 0-29zM564 86l-5 121 5-35 0-48zM599 170l-5 26 5 8 0-43zM604 75l-5 129 5-37 0-53zM609 9l-5 158 5-13 0-74zM629 163l-5 35 5 0 0-40zM634 75l-5 123 5-36 0-46zM654 160l-5 26 5-4 0-23zM664 153l-5 40 5-24 0-15zM669 101l-5 68 5-9 0-42zM684 159l-5 30 5 0 0-39zM689 63l-5 126 5-38 0-47zM694 11l-5 140 5-12 0-69zM719 118l-5 38 5 19 0-41zM724 87l-5 88 5-5 0-58zM729 15l-5 155 5-29 0-66zM734-26l-5 167 5-10 0-77z"/>
<path fill="#b070a0" d="M159 231l5-193-5-28 0 116zM164 271l5-187-5-46 0 118zM169 275l5-117-5-74 0 113zM184 272l5-187-5-55 0 124zM189 286l5-7-5-194 0 145zM294 210l5-197-5-13 0 106zM299 252l5-187-5-52 0 122zM304 249l5-95-5-89 0 115zM334 256l5-131-5-85 0 118zM569 205l5-121-5-54 0 93zM614 165l5-158-5-17 0 89zM619 180l5-124-5-49 0 95zM639 196l5-124-5-42 0 85zM699 149l5-151-5-18 0 86zM704 192l5-128-5-66 0 103zM739 140l5-160-5-10 0 85z"/>
<path fill="#c878b8" d="M159 10l-5 215 5 6 0-105zM164 38l-5 193 5 40 0-115zM169 84l-5 187 5 4 0-78zM184 30l-5 197 5 45 0-118zM189 85l-5 187 5 14 0-56zM244 197l-5 68 5 10 0-36zM294 0l-5 203 5 7 0-104zM299 13l-5 197 5 42 0-117zM304 65l-5 187 5-3 0-69zM309 154l-5 95 5 6 0-43zM334 40l-5 169 5 47 0-98zM339 125l-5 131 5-9 0-46zM344 175l-5 72 5-10 0-23zM569 30l-5 142 5 33 0-82zM574 84l-5 121 5 4 0-31zM614-10l-5 164 5 11 0-86zM619 7l-5 158 5 15 0-78zM624 56l-5 124 5 18 0-49zM639 30l-5 132 5 34 0-81zM644 72l-5 124 5-22 0-16zM659 108l-5 74 5 11 0-34zM674 40l-5 120 5 7 0-49zM679 103l-5 64 5 22 0-35zM699-20l-5 159 5 10 0-83zM704-2l-5 151 5 43 0-91zM709 64l-5 128 5-9 0-32zM739-30l-5 161 5 9 0-85z"/>
<path fill="#20c880" d="M194 277l5 7-5-5 0 3zM449 227l5-1-5 1 0 3z"/>
<path fill="#20e090" d="M194 279l-5 7 5-9 0 5z"/>
<path fill="#20c868" d="M199 268l5 18-5-2 0-5z"/>
<path fill="#20e070" d="M199 284l-5-7 5-9 0 11z"/>
<path fill="#18a050" d="M204 281l5 0-5 5 0-7z"/>
<path fill="#18b860" d="M204 286l-5-18 5 13 0-2z"/>
<path fill="#20c038" d="M209 259l5 22-5 0 0-5zM214 261l5 12-5 8 0-13zM264 248l5 27-5-2 0-10zM549 193l5 2-5 11 0-6z"/>
<path fill="#28d840" d="M209 281l-5 0 5-22 0 17zM214 281l-5-22 5 2 0 7zM264 273l-5-18 5-7 0 15zM549 206l-5-2 5-11 0 7z"/>
<path fill="#18a040" d="M219 275l5-8-5 6 0-4zM354 260l5-22-5 12 0-2zM359 258l5-17-5-3 0 11zM444 240l5-13-5 11 0-8zM464 232l5 4-5-20 0 13zM484 222l5-10-5 12 0-7zM489 227l5 0-5-15 0 10z"/>
<path fill="#20b848" d="M219 273l-5-12 5 14 0-6zM444 238l-5-23 5 25 0-10zM464 216l-5 17 5-1 0-3zM489 212l-5 10 5 5 0-5z"/>
<path fill="#40c828" d="M224 259l5-2-5 10 0-3z"/>
<path fill="#48e028" d="M224 267l-5 8 5-16 0 5z"/>
<path fill="#30a020" d="M229 277l5 6-5-26 0 12z"/>
<path fill="#38b828" d="M229 257l-5 2 5 18 0-8z"/>
<path fill="#c898b8" d="M234 285l5-63-5 61 0-16z"/>
<path fill="#f8b0e8" d="M234 283l-5-6 5 8 0-18z"/>
<path fill="#c878b0" d="M239 265l5-68-5 25 0 20zM654 182l5-74-5 52 0-1z"/>
<path fill="#b078a0" d="M244 275l5-55-5-23 0 42zM309 255l5-66-5-35 0 58zM314 244l5-24-5-31 0 38zM339 247l5-72-5-50 0 76zM344 237l5-38-5-24 0 39zM424 230l5-21-5-29 0 34zM539 209l5-24-5-32 0 34zM574 209l5 4-5-129 0 94zM624 198l5-35-5-107 0 93zM644 174l5 18-5-120 0 86zM659 193l5-40-5-45 0 51zM674 167l5-64-5-63 0 78zM679 189l5-30-5-56 0 51zM709 183l5-17-5-102 0 87z"/>
<path fill="#b088a8" d="M249 281l5-35-5-26 0 36zM349 244l5 6-5-51 0 33z"/>
<path fill="#c890c0" d="M249 220l-5 55 5 6 0-25zM349 199l-5 38 5 7 0-12z"/>
<path fill="#70a018" d="M254 276l5-24-5-6 0 18z"/>
<path fill="#88c018" d="M254 246l-5 35 5-5 0-12z"/>
<path fill="#28a020" d="M259 255l5 18-5-21 0 12zM504 229l5-28-5 21 0-7z"/>
<path fill="#38d830" d="M259 252l-5 24 5-21 0 9z"/>
<path fill="#18a030" d="M269 279l5-2-5-2 0-5zM434 237l5-3-5-14 0 7z"/>
<path fill="#20b840" d="M269 275l-5-27 5 31 0-9z"/>
<path fill="#c880b8" d="M314 189l-5 66 5-11 0-17zM419 237l5-57-5 33 0 2zM424 180l-5 57 5-7 0-16zM534 200l5-47-5 35 0-1zM539 153l-5 47 5 9 0-22zM714 156l5-38-5 48 0-10z"/>
<path fill="#20b850" d="M354 250l-5-6 5 16 0-12zM359 238l-5 22 5-2 0-9zM374 256l-5-25 5 20 0-3zM404 231l-5-4 5 14 0-6z"/>
<path fill="#20c030" d="M364 247l5-16-5 10 0 3z"/>
<path fill="#28d838" d="M364 241l-5 17 5-11 0-3zM409 242l-5-1 5-1 0-4z"/>
<path fill="#209828" d="M369 231l5 25-5-25 0 10z"/>
<path fill="#20b830" d="M369 231l-5 16 5-16 0 10z"/>
<path fill="#18a048" d="M374 251l5 2-5 3 0-8zM404 241l5 1-5-11 0 4zM499 207l5 15-5-10 0 3z"/>
<path fill="#20c870" d="M379 236l5 2-5 15 0-9zM389 235l5 1-5 6 0-2z"/>
<path fill="#20e078" d="M379 253l-5-2 5-15 0 8z"/>
<path fill="#18a058" d="M384 248l5-6-5-4 0 3zM394 238l5 10-5-12 0 3z"/>
<path fill="#18b868" d="M384 238l-5-2 5 12 0-7zM394 236l-5-1 5 3 0 1z"/>
<path fill="#20e080" d="M389 242l-5 6 5-13 0 5z"/>
<path fill="#20c858" d="M399 227l5 4-5 17 0-12z"/>
<path fill="#20d860" d="M399 248l-5-10 5-11 0 9zM499 212l-5 8 5-13 0 8z"/>
<path fill="#28c030" d="M409 240l5-19-5 21 0-6z"/>
<path fill="#98c820" d="M414 230l5-17-5 8 0 5z"/>
<path fill="#a8e020" d="M414 221l-5 19 5-10 0-4z"/>
<path fill="#f890e0" d="M419 213l-5 17 5 7 0-22zM534 188l-5 19 5-7 0-13zM714 166l-5 17 5-27 0 0z"/>
<path fill="#90a018" d="M429 217l5 3-5-11 0 10zM544 204l5 2-5-21 0 16zM589 187l5 10-5-21 0 13z"/>
<path fill="#c8e020" d="M429 209l-5 21 5-13 0 2zM584 210l-5-2 5-12 0 2z"/>
<path fill="#20b838" d="M434 220l-5-3 5 20 0-10zM554 195l-5-2 5 11 0-2z"/>
<path fill="#20c850" d="M439 215l5 23-5-4 0-3zM459 233l5-17-5 22 0-10z"/>
<path fill="#20d858" d="M439 234l-5 3 5-22 0 16zM459 238l-5-13 5 8 0-5zM484 224l-5-13 5 11 0-5z"/>
<path fill="#20e088" d="M449 227l-5 13 5-13 0 3z"/>
<path fill="#18a060" d="M454 225l5 13-5-12 0 3z"/>
<path fill="#18b878" d="M454 226l-5 1 5-2 0 4z"/>
<path fill="#78c820" d="M469 231l5-27-5 32 0-10z"/>
<path fill="#80e020" d="M469 236l-5-4 5-1 0-5z"/>
<path fill="#60a018" d="M474 235l5-28-5-3 0 15z"/>
<path fill="#70c018" d="M474 204l-5 27 5 4 0-16z"/>
<path fill="#38c828" d="M479 211l5 13-5-17 0 12z"/>
<path fill="#40d830" d="M479 207l-5 28 5-24 0 8z"/>
<path fill="#20c860" d="M494 220l5-8-5 15 0-5z"/>
<path fill="#20d868" d="M494 227l-5 0 5-7 0 2z"/>
<path fill="#30b828" d="M504 222l-5-15 5 22 0-14z"/>
<path fill="#28a028" d="M509 220l5 8-5-27 0 19z"/>
<path fill="#28b828" d="M509 201l-5 28 5-9 0 0z"/>
<path fill="#20d8c8" d="M514 222l5-1-5 7 0-5z"/>
<path fill="#20e8e0" d="M514 228l-5-8 5 2 0 1z"/>
<path fill="#58c820" d="M519 209l5-13-5 25 0-9z"/>
<path fill="#68e028" d="M519 221l-5 1 5-13 0 3z"/>
<path fill="#48a018" d="M524 214l5 3-5-21 0 13z"/>
<path fill="#58b820" d="M524 196l-5 13 5 5 0-5z"/>
<path fill="#a0c820" d="M529 207l5-19-5 29 0-11z"/>
<path fill="#b8e020" d="M529 217l-5-3 5-7 0-1z"/>
<path fill="#a0c018" d="M544 185l-5 24 5-5 0-3z"/>
<path fill="#209830" d="M554 204l5 10-5-19 0 7z"/>
<path fill="#20c0d0" d="M579 208l5 2-5 3 0-3z"/>
<path fill="#20d8e8" d="M579 213l-5-4 5-1 0 2z"/>
<path fill="#b0c820" d="M584 196l5-20-5 34 0-12z"/>
<path fill="#a8c018" d="M589 176l-5 20 5-9 0 2z"/>
<path fill="#d0c820" d="M594 196l5-26-5 27 0-9z"/>
<path fill="#e8e020" d="M594 197l-5-10 5 9 0-8z"/>
<path fill="#c8c820" d="M649 186l5-26-5 32 0-14z"/>
<path fill="#e0e020" d="M649 192l-5-18 5 12 0-8z"/>
<path fill="#c078b0" d="M154 15l5 311-5 1 0-141zM159 10l5 315-5 1 0-157zM179 92l5 173-5 31 0-93zM184 30l5 209-5 26 0-109zM279 167l5 115-5-32 0-6zM284 71l5 158-5 53 0-95zM289 23l5 152-5 54 0-105zM294 0l5 160-5 15 0-85zM324 140l5 83-5 40 0-51zM334 40l5 135-5 54 0-85zM564 86l5 102-5 38 0-48zM569 30l5 115-5 43 0-76zM604 75l5 116-5-6 0-30zM609 9l5 133-5 49 0-87zM614-10l5 132-5 20 0-76zM634 75l5 104-5 23 0-47zM639 30l5 108-5 41 0-73zM669 101l5 77-5-18 0-12zM674 40l5 98-5 40 0-64zM689 63l5 98-5 1 0-26zM694 11l5 118-5 32 0-70zM699-20l5 128-5 21 0-72zM724 87l5 80-5 3 0-34zM729 15l5 133-5 19 0-63zM734-26l5 135-5 39 0-86zM739-30l5 129-5 10 0-71z"/>
<path fill="#f080d8" d="M154 327l-5-251 5-61 0 171zM159 326l-5-311 5-5 0 159zM179 296l-5-138 5-66 0 111zM184 265l-5-173 5-62 0 126zM244 283l-5-61 5-25 0 43zM279 250l-5 27 5-110 0 77zM284 282l-5-115 5-96 0 116zM289 229l-5-158 5-48 0 101zM294 175l-5-152 5-23 0 90zM324 263l-5-43 5-80 0 72zM329 223l-5-83 5-9 0 50zM334 229l-5-98 5-91 0 104zM564 226l-5-12 5-128 0 92zM569 188l-5-102 5-56 0 82zM604 185l-5-15 5-95 0 80zM609 191l-5-116 5-66 0 95zM614 142l-5-133 5-19 0 76zM634 202l-5-39 5-88 0 80zM639 179l-5-104 5-45 0 76zM659 175l-5-15 5-52 0 46zM669 160l-5-7 5-52 0 47zM674 178l-5-77 5-61 0 74zM689 162l-5-3 5-96 0 73zM694 161l-5-98 5-52 0 80zM699 129l-5-118 5-31 0 77zM724 170l-5-52 5-31 0 49zM729 167l-5-80 5-72 0 89zM734 148l-5-133 5-41 0 88zM739 109l-5-135 5-4 0 68z"/>
<path fill="#b070a0" d="M164 38l5 286-5 1 0-151zM169 84l5 239-5 1 0-132zM174 158l5 138-5 27 0-108zM189 85l5 192-5-38 0-81zM194 279l5 17-5-19 0-43zM299 13l5 163-5-16 0-73zM304 65l5 160-5-49 0-56zM309 154l5 91-5-20 0-53zM339 125l5 124-5-74 0-28zM574 84l5 104-5-43 0-33zM619 7l5 125-5-10 0-59zM624 56l5 124-5-48 0-38zM644 72l5 96-5-30 0-36zM704-2l5 126-5-16 0-56zM709 64l5 112-5-52 0-34zM744-20l5 129-5-10 0-59z"/>
<path fill="#c878b8" d="M164 325l-5-315 5 28 0 136zM169 324l-5-286 5 46 0 108zM174 323l-5-239 5 74 0 57zM189 239l-5-209 5 55 0 73zM194 277l-5-192 5 194 0-45zM249 258l-5-61 5 23 0 12zM299 160l-5-160 5 13 0 74zM304 176l-5-163 5 52 0 55zM309 225l-5-160 5 89 0 18zM314 245l-5-91 5 35 0 20zM339 175l-5-135 5 85 0 22zM344 249l-5-124 5 50 0 21zM349 237l-5-62 5 24 0 18zM574 145l-5-115 5 54 0 28zM579 188l-5-104 5 129 0-43zM619 122l-5-132 5 17 0 56zM624 132l-5-125 5 49 0 38zM629 180l-5-124 5 107 0-13zM644 138l-5-108 5 42 0 30zM649 168l-5-96 5 120 0-38zM664 172l-5-64 5 45 0-5zM679 138l-5-98 5 63 0 13zM684 185l-5-82 5 56 0-7zM704 108l-5-128 5 18 0 54zM709 124l-5-126 5 66 0 26zM714 176l-5-112 5 102 0-23zM744 99l-5-129 5 10 0 60z"/>
<path fill="#40c828" d="M199 284l5-17-5 29 0-14z"/>
<path fill="#48e028" d="M199 296l-5-17 5 5 0-2zM454 243l-5-16 5-1 0 2z"/>
<path fill="#38a020" d="M204 286l5 1-5-20 0 14z"/>
<path fill="#40b820" d="M204 267l-5 17 5 2 0-5z"/>
<path fill="#20c880" d="M209 281l5-1-5 7 0-3z"/>
<path fill="#20e088" d="M209 287l-5-1 5-5 0 3z"/>
<path fill="#18a068" d="M214 281l5 16-5-17 0 5zM449 227l5 16-5-8 0 1z"/>
<path fill="#18b878" d="M214 280l-5 1 5 0 0 4z"/>
<path fill="#20c870" d="M219 273l5 3-5 21 0-15zM394 236l5 17-5 9 0-14z"/>
<path fill="#20e080" d="M219 297l-5-16 5-8 0 9zM379 265l-5-9 5-3 0 1zM394 262l-5-20 5-6 0 12z"/>
<path fill="#38c828" d="M224 267l5-3-5 12 0-6zM509 201l5 28-5-2 0-7z"/>
<path fill="#40d830" d="M224 276l-5-3 5-6 0 3z"/>
<path fill="#48c828" d="M229 257l5 12-5-5 0 0zM454 226l5-10-5 27 0-15z"/>
<path fill="#50e028" d="M229 264l-5 3 5-10 0 7z"/>
<path fill="#30a020" d="M234 283l5-7-5-7 0 2zM484 224l5 6-5-1 0-7z"/>
<path fill="#38b828" d="M234 269l-5-12 5 26 0-12zM484 229l-5-22 5 17 0-2z"/>
<path fill="#c890b8" d="M239 222l5 61-5-7 0-10z"/>
<path fill="#f8a8e8" d="M239 276l-5 7 5-61 0 44z"/>
<path fill="#c878b0" d="M244 197l5 61-5 25 0-43zM659 108l5 64-5 3 0-21z"/>
<path fill="#b078a0" d="M249 220l5 35-5 3 0-26zM314 189l5 58-5-2 0-36zM319 220l5 43-5-16 0-17zM329 131l5 98-5-6 0-42zM344 175l5 62-5 12 0-53zM349 199l5 57-5-19 0-20zM429 209l5 3-5 19 0-23zM544 185l5 9-5 4 0-16zM579 213l5-20-5-5 0-18zM629 163l5 39-5-22 0-30zM649 192l5-8-5-16 0-14zM664 153l5 7-5 12 0-24zM679 103l5 82-5-47 0-22zM684 159l5 3-5 23 0-33zM714 166l5 1-5 9 0-33z"/>
<path fill="#b080a8" d="M254 246l5-10-5 19 0-16z"/>
<path fill="#c888b8" d="M254 255l-5-35 5 26 0-7z"/>
<path fill="#b0a0a8" d="M259 252l5 0-5-16 0 10z"/>
<path fill="#d0b0c0" d="M259 236l-5 10 5 6 0-6z"/>
<path fill="#60a018" d="M264 273l5 9-5-30 0 13z"/>
<path fill="#68c018" d="M264 252l-5 0 5 21 0-8zM459 216l-5 10 5 12 0-15zM504 204l-5 8 5 10 0-6z"/>
<path fill="#20d0c0" d="M269 275l5 0-5 7 0-6z"/>
<path fill="#20e8d8" d="M269 282l-5-9 5 2 0 1z"/>
<path fill="#60c820" d="M274 277l5-27-5 25 0-6zM584 210l5-21-5 4 0 8z"/>
<path fill="#68e020" d="M274 275l-5 0 5 2 0-8zM584 193l-5 20 5-3 0-9z"/>
<path fill="#c880b8" d="M319 247l-5-58 5 31 0 10zM424 180l5 51-5 0 0-17zM429 231l-5-51 5 29 0-1zM539 153l5 45-5-1 0-13zM544 198l-5-45 5 32 0-3zM719 118l5 52-5-3 0-12z"/>
<path fill="#b088a8" d="M354 250l5 14-5-8 0-14z"/>
<path fill="#c890c0" d="M354 256l-5-57 5 51 0-8z"/>
<path fill="#20c850" d="M359 238l5 19-5 7 0-12zM489 212l5 11-5 7 0-8z"/>
<path fill="#20d858" d="M359 264l-5-14 5-12 0 14zM489 230l-5-6 5-12 0 10z"/>
<path fill="#18a040" d="M364 241l5 15-5 1 0-9zM469 236l5 8-5-9 0-2zM494 227l5 11-5-15 0 2z"/>
<path fill="#20b848" d="M364 257l-5-19 5 3 0 7zM469 235l-5-19 5 20 0-3zM494 223l-5-11 5 15 0-2z"/>
<path fill="#28c030" d="M369 231l5 30-5-5 0-9z"/>
<path fill="#28d838" d="M369 256l-5-15 5-10 0 16z"/>
<path fill="#209828" d="M374 256l5 9-5-4 0-8zM559 214l5 12-5-27 0 9z"/>
<path fill="#20b830" d="M374 261l-5-30 5 25 0-3zM559 199l-5-4 5 19 0-6z"/>
<path fill="#20c878" d="M379 253l5-9-5 21 0-11z"/>
<path fill="#18a058" d="M384 238l5 18-5-12 0 4zM389 242l5 20-5-6 0-6z"/>
<path fill="#20e078" d="M384 244l-5 9 5-15 0 10z"/>
<path fill="#18b868" d="M389 256l-5-18 5 4 0 8zM399 253l-5-17 5 12 0-2z"/>
<path fill="#18a060" d="M399 248l5-1-5 6 0-7z"/>
<path fill="#20c858" d="M404 231l5 18-5-2 0-3z"/>
<path fill="#20d868" d="M404 247l-5 1 5-17 0 13z"/>
<path fill="#18a048" d="M409 242l5 2-5 5 0-7z"/>
<path fill="#20b858" d="M409 249l-5-18 5 11 0 0z"/>
<path fill="#30c830" d="M414 221l5 6-5 17 0-10z"/>
<path fill="#38d830" d="M414 244l-5-2 5-21 0 13zM509 227l-5-5 5-21 0 19z"/>
<path fill="#a0c820" d="M419 213l5 18-5-4 0-4z"/>
<path fill="#b8e020" d="M419 227l-5-6 5-8 0 10zM554 191l-5 15 5-11 0 3z"/>
<path fill="#f890e0" d="M424 231l-5-18 5-33 0 34zM719 167l-5-1 5-48 0 37z"/>
<path fill="#a0a018" d="M434 220l5 22-5-30 0 9z"/>
<path fill="#b8c018" d="M434 212l-5-3 5 11 0 1z"/>
<path fill="#18a030" d="M439 234l5 12-5-4 0-6z"/>
<path fill="#20b838" d="M439 242l-5-22 5 14 0 2z"/>
<path fill="#20c890" d="M444 238l5-3-5 11 0-8z"/>
<path fill="#20e0a0" d="M444 246l-5-12 5 4 0 0z"/>
<path fill="#20e090" d="M449 235l-5 3 5-11 0 9z"/>
<path fill="#58a018" d="M459 238l5-25-5 3 0 7zM464 216l5 19-5-22 0 13zM504 222l5 5-5-23 0 12z"/>
<path fill="#60b820" d="M464 213l-5 25 5-22 0 10z"/>
<path fill="#78c820" d="M474 204l5 32-5 8 0-14z"/>
<path fill="#80e020" d="M474 244l-5-8 5-32 0 26z"/>
<path fill="#68a018" d="M479 207l5 22-5 7 0-17z"/>
<path fill="#90e020" d="M479 236l-5-32 5 3 0 12z"/>
<path fill="#70c820" d="M499 212l5-8-5 34 0-18z"/>
<path fill="#78e020" d="M499 238l-5-11 5-15 0 8z"/>
<path fill="#28a028" d="M514 228l5 1-5 0 0-7z"/>
<path fill="#30b828" d="M514 229l-5-28 5 27 0-6z"/>
<path fill="#20d0c8" d="M519 221l5 10-5-2 0-2z"/>
<path fill="#20e8e0" d="M519 229l-5-1 5-7 0 6z"/>
<path fill="#58c820" d="M524 196l5 39-5-4 0-10z"/>
<path fill="#60e028" d="M524 231l-5-10 5-25 0 25z"/>
<path fill="#48a018" d="M529 217l5-1-5 19 0-19z"/>
<path fill="#58b820" d="M529 235l-5-39 5 21 0-1z"/>
<path fill="#a8c820" d="M534 188l5 9-5 19 0-12z"/>
<path fill="#c0e020" d="M534 216l-5 1 5-29 0 16z"/>
<path fill="#f888e0" d="M539 197l-5-9 5-35 0 31z"/>
<path fill="#98a018" d="M549 206l5-15-5 3 0 0z"/>
<path fill="#b0c018" d="M549 194l-5-9 5 21 0-12z"/>
<path fill="#88a018" d="M554 195l5 4-5-8 0 7z"/>
<path fill="#90a018" d="M589 176l5 45-5-32 0 10zM594 197l5 1-5 23 0-23z"/>
<path fill="#c8e020" d="M589 189l-5 21 5-34 0 23zM594 221l-5-45 5 21 0 1z"/>
<path fill="#d0c820" d="M599 170l5 15-5 13 0-10zM654 160l5 15-5 9 0-6z"/>
<path fill="#e8e028" d="M599 198l-5-1 5-27 0 18z"/>
<path fill="#e0e020" d="M654 184l-5 8 5-32 0 18z"/>
<path fill="#98c820" d="M184 265l5 38-5 3 0-14z"/>
<path fill="#a8e020" d="M184 306l-5-10 5-31 0 27z"/>
<path fill="#c898b8" d="M189 239l5 42-5 22 0-31z"/>
<path fill="#f8a8e8" d="M189 303l-5-38 5-26 0 33z"/>
<path fill="#b088a8" d="M194 277l5 13-5-9 0-9zM684 185l5 17-5 4 0-23z"/>
<path fill="#d098c0" d="M194 281l-5-42 5 38 0-5z"/>
<path fill="#18a040" d="M199 296l5-10-5 4 0-3z"/>
<path fill="#20b848" d="M199 290l-5-13 5 19 0-9z"/>
<path fill="#48c828" d="M204 267l5 23-5-4 0-1z"/>
<path fill="#50e028" d="M204 286l-5 10 5-29 0 18zM249 297l-5-14 5-25 0 20z"/>
<path fill="#38a020" d="M209 287l5 8-5-5 0-5z"/>
<path fill="#40b820" d="M209 290l-5-23 5 20 0-2z"/>
<path fill="#20c878" d="M214 280l5 7-5 8 0-8zM384 244l5 19-5 1 0-5zM454 243l5-8-5 20 0-13z"/>
<path fill="#20e088" d="M214 295l-5-8 5-7 0 7zM454 255l-5-20 5 8 0-1z"/>
<path fill="#18a048" d="M219 297l5-19-5 9 0-1zM224 276l5 25-5-23 0 10zM239 276l5 16-5 7 0-15zM444 246l5-13-5 5 0 2zM449 235l5 20-5-22 0 9zM529 235l5 3-5-22 0 14z"/>
<path fill="#20b850" d="M219 287l-5-7 5 17 0-11zM224 278l-5 19 5-21 0 12zM449 233l-5 13 5-11 0 7zM529 216l-5 15 5 4 0-5z"/>
<path fill="#30c030" d="M229 264l5 26-5 11 0-18z"/>
<path fill="#30d830" d="M229 301l-5-25 5-12 0 19z"/>
<path fill="#28a028" d="M234 269l5 30-5-9 0-10z"/>
<path fill="#30b828" d="M234 290l-5-26 5 5 0 11z"/>
<path fill="#20d860" d="M239 299l-5-30 5 7 0 8zM444 238l-5 4 5 4 0-6zM524 243l-5-14 5 2 0-1z"/>
<path fill="#18a070" d="M244 283l5 14-5-5 0-5z"/>
<path fill="#18c080" d="M244 292l-5-16 5 7 0 4zM519 225l-5 4 5 0 0 3z"/>
<path fill="#48c820" d="M249 258l5 14-5 25 0-19z"/>
<path fill="#60a018" d="M254 255l5 35-5-18 0-3z"/>
<path fill="#70c018" d="M254 272l-5-14 5-3 0 14z"/>
<path fill="#c8b0c0" d="M259 236l5 53-5 1 0-22zM289 229l5 40-5-4 0-4z"/>
<path fill="#ffd0f0" d="M259 290l-5-35 5-19 0 32zM289 265l-5 17 5-53 0 32z"/>
<path fill="#b0a0a8" d="M264 252l5 37-5 0 0-23zM314 245l5 18-5 6 0-19zM334 229l5 48-5-24 0-7z"/>
<path fill="#d0b0c0" d="M264 289l-5-53 5 16 0 14zM314 269l-5-44 5 20 0 5zM334 253l-5-30 5 6 0 17z"/>
<path fill="#50a018" d="M269 282l5 8-5-1 0-11zM659 175l5 29-5-8 0-6z"/>
<path fill="#60b820" d="M269 289l-5-37 5 30 0-4zM509 238l-5-34 5 23 0 0z"/>
<path fill="#20c880" d="M274 275l5-2-5 17 0-10zM514 229l5-4-5 13 0-8z"/>
<path fill="#20e090" d="M274 290l-5-8 5-7 0 5zM514 238l-5-11 5 2 0 1z"/>
<path fill="#70c820" d="M279 250l5 12-5 11 0-8zM504 204l5 34-5-19 0 6zM539 197l5 34-5 0 0-12zM604 185l5 23-5 4 0-11z"/>
<path fill="#78e020" d="M279 273l-5 2 5-25 0 15zM504 219l-5 19 5-34 0 21zM589 203l-5-10 5-4 0 9z"/>
<path fill="#58a018" d="M284 282l5-17-5-3 0 3zM469 235l5 3-5-12 0 2zM509 227l5 11-5 0 0-11zM589 189l5 16-5-2 0-5zM609 191l5 26-5-9 0-8z"/>
<path fill="#68b818" d="M284 262l-5-12 5 32 0-17zM469 226l-5-13 5 22 0-7zM609 208l-5-23 5 6 0 9z"/>
<path fill="#c078b0" d="M294 175l5 97-5-3 0-33z"/>
<path fill="#f080d8" d="M294 269l-5-40 5-54 0 61zM304 288l-5-128 5 16 0 48zM339 277l-5-48 5-54 0 65zM619 197l-5-55 5-20 0 45zM704 182l-5-53 5-21 0 45z"/>
<path fill="#b078a0" d="M299 160l5 128-5-16 0-48zM304 176l5 95-5 17 0-64zM309 225l5 44-5 2 0-36zM344 249l5 20-5 11 0-37zM579 188l5 18-5-2 0-18zM624 132l5 84-5-9 0-38zM629 180l5 37-5-1 0-30zM649 168l5 36-5-13 0-16zM709 124l5 67-5 1 0-38zM714 176l5 17-5-2 0-20zM744 99l5 94-5-23 0-27zM749 109l5 78-5 6 0-46z"/>
<path fill="#c878b8" d="M299 272l-5-97 5-15 0 64zM309 271l-5-95 5 49 0 10zM344 280l-5-105 5 74 0-6zM624 207l-5-85 5 10 0 37zM709 192l-5-84 5 16 0 30zM744 170l-5-61 5-10 0 44zM749 193l-5-94 5 10 0 38z"/>
<path fill="#58c820" d="M319 247l5 9-5 7 0-10zM349 237l5 26-5 6 0-15z"/>
<path fill="#60e028" d="M319 263l-5-18 5 2 0 6zM349 269l-5-20 5-12 0 17z"/>
<path fill="#209828" d="M324 263l5 10-5-17 0 4zM724 170l5 21-5-15 0 0z"/>
<path fill="#28b830" d="M324 256l-5-9 5 16 0-3z"/>
<path fill="#c8b848" d="M329 223l5 30-5 20 0-20z"/>
<path fill="#f0e038" d="M329 273l-5-10 5-40 0 30z"/>
<path fill="#c878b0" d="M339 175l5 105-5-3 0-37zM619 122l5 85-5-10 0-30zM704 108l5 84-5-10 0-29zM739 109l5 61-5 13 0-31z"/>
<path fill="#40a018" d="M354 256l5 21-5-14 0-5z"/>
<path fill="#48b820" d="M354 263l-5-26 5 19 0 2z"/>
<path fill="#18a880" d="M359 264l5 11-5 2 0-9z"/>
<path fill="#18c098" d="M359 277l-5-21 5 8 0 4z"/>
<path fill="#20d0c0" d="M364 257l5 13-5 5 0-9z"/>
<path fill="#20e8d8" d="M364 275l-5-11 5-7 0 9z"/>
<path fill="#20c860" d="M369 256l5-7-5 21 0-12zM599 198l5 14-5 15 0-13z"/>
<path fill="#20d870" d="M369 270l-5-13 5-1 0 2z"/>
<path fill="#18a050" d="M374 261l5-6-5-6 0 6z"/>
<path fill="#18b858" d="M374 249l-5 7 5 5 0-6z"/>
<path fill="#18a078" d="M379 265l5-1-5-9 0 6zM489 230l5 16-5-13 0 1z"/>
<path fill="#18c090" d="M379 255l-5 6 5 4 0-4z"/>
<path fill="#20e080" d="M384 264l-5 1 5-21 0 15zM494 246l-5-16 5-7 0 9z"/>
<path fill="#18a060" d="M389 256l5 13-5-6 0-5z"/>
<path fill="#18b870" d="M389 263l-5-19 5 12 0 2z"/>
<path fill="#1898a8" d="M394 262l5 2-5 5 0-6z"/>
<path fill="#18b0c8" d="M394 269l-5-13 5 6 0 1z"/>
<path fill="#20c8d0" d="M399 253l5 4-5 7 0-5z"/>
<path fill="#20e0e8" d="M399 264l-5-2 5-9 0 6z"/>
<path fill="#18a890" d="M404 247l5 14-5-4 0-3zM409 249l5 18-5-6 0-5z"/>
<path fill="#20e8c8" d="M404 257l-5-4 5-6 0 7z"/>
<path fill="#18c0a8" d="M409 261l-5-14 5 2 0 7z"/>
<path fill="#20d0a0" d="M414 244l5 7-5 16 0-14z"/>
<path fill="#20e8b8" d="M414 267l-5-18 5-5 0 9z"/>
<path fill="#20c038" d="M419 227l5 30-5-6 0-6zM474 244l5-22-5 16 0-3z"/>
<path fill="#28d838" d="M419 251l-5-7 5-17 0 18zM424 257l-5-30 5 4 0 9zM719 193l-5-17 5-9 0 11z"/>
<path fill="#20c030" d="M424 231l5 15-5 11 0-17zM719 167l5 9-5 17 0-15z"/>
<path fill="#20c048" d="M429 231l5 3-5 12 0-10z"/>
<path fill="#28d850" d="M429 246l-5-15 5 0 0 5z"/>
<path fill="#c0c820" d="M434 212l5 30-5-8 0-4z"/>
<path fill="#d8e020" d="M434 234l-5-3 5-19 0 18z"/>
<path fill="#98a018" d="M439 242l5-4-5 4 0-8z"/>
<path fill="#b0c018" d="M439 242l-5-30 5 30 0-8z"/>
<path fill="#40c828" d="M459 216l5 26-5-7 0-1z"/>
<path fill="#48e028" d="M459 235l-5 8 5-27 0 18z"/>
<path fill="#78c820" d="M464 213l5 13-5 16 0-18zM664 172l5 28-5 4 0-16z"/>
<path fill="#80e020" d="M464 242l-5-26 5-3 0 11zM539 231l-5-15 5-19 0 22zM604 212l-5-14 5-13 0 16z"/>
<path fill="#28d840" d="M474 238l-5-3 5 9 0-9z"/>
<path fill="#18a030" d="M479 236l5 0-5-14 0 12zM564 226l5 9-5-12 0-2zM729 167l5 28-5-4 0-10z"/>
<path fill="#20b838" d="M479 222l-5 22 5-8 0-2zM564 223l-5-24 5 27 0-5z"/>
<path fill="#20c890" d="M484 229l5 4-5 3 0-2z"/>
<path fill="#20e0a0" d="M484 236l-5 0 5-7 0 5z"/>
<path fill="#18c088" d="M489 233l-5-4 5 1 0 4z"/>
<path fill="#20c870" d="M494 223l5 4-5 19 0-14z"/>
<path fill="#18a038" d="M499 238l5-19-5 8 0 0z"/>
<path fill="#20b840" d="M499 227l-5-4 5 15 0-11z"/>
<path fill="#18a068" d="M519 229l5 14-5-18 0 7z"/>
<path fill="#20c858" d="M524 231l5-15-5 27 0-13z"/>
<path fill="#20c888" d="M534 216l5 15-5 7 0-8z"/>
<path fill="#20e098" d="M534 238l-5-3 5-19 0 14z"/>
<path fill="#80c820" d="M544 198l5 7-5 26 0-23z"/>
<path fill="#90e020" d="M544 231l-5-34 5 1 0 10z"/>
<path fill="#78a018" d="M549 194l5 22-5-11 0-2z"/>
<path fill="#88c018" d="M549 205l-5-7 5-4 0 9z"/>
<path fill="#80a018" d="M554 191l5 40-5-15 0-8zM559 199l5 24-5 8 0-20z"/>
<path fill="#98c018" d="M554 216l-5-22 5-3 0 17z"/>
<path fill="#90c018" d="M559 231l-5-40 5 8 0 12z"/>
<path fill="#90c820" d="M569 188l5 42-5 5 0-15z"/>
<path fill="#98e020" d="M569 235l-5-9 5-38 0 32z"/>
<path fill="#c880b8" d="M574 145l5 59-5 26 0-38zM579 204l-5-59 5 43 0-2zM614 142l5 55-5 20 0-30zM629 216l-5-84 5 48 0 6zM644 138l5 53-5 10 0-24zM649 191l-5-53 5 30 0 7zM699 129l5 53-5 9 0-25zM714 191l-5-67 5 52 0-5z"/>
<path fill="#f888d8" d="M574 230l-5-42 5-43 0 47zM739 183l-5-35 5-39 0 43z"/>
<path fill="#70a018" d="M584 193l5 10-5 3 0-8z"/>
<path fill="#80c018" d="M584 206l-5-18 5 5 0 5z"/>
<path fill="#48a018" d="M594 221l5 6-5-22 0 5zM634 202l5 2-5 13 0-16z"/>
<path fill="#50b820" d="M594 205l-5-16 5 32 0-11z"/>
<path fill="#20d868" d="M599 227l-5-6 5-23 0 16z"/>
<path fill="#f888e0" d="M614 217l-5-26 5-49 0 45z"/>
<path fill="#58b820" d="M634 217l-5-37 5 22 0-1z"/>
<path fill="#50c820" d="M639 179l5 22-5 3 0-8z"/>
<path fill="#58e028" d="M639 204l-5-2 5-23 0 17z"/>
<path fill="#f890e0" d="M644 201l-5-22 5-41 0 39zM699 191l-5-30 5-32 0 37z"/>
<path fill="#a0a018" d="M654 184l5 12-5 8 0-16z"/>
<path fill="#b8c018" d="M654 204l-5-36 5 16 0 4z"/>
<path fill="#70e020" d="M659 196l-5-12 5-9 0 15z"/>
<path fill="#88e020" d="M664 204l-5-29 5-3 0 16z"/>
<path fill="#d8c828" d="M669 160l5 38-5 2 0-18z"/>
<path fill="#f0e028" d="M669 200l-5-28 5-12 0 22z"/>
<path fill="#b0a020" d="M674 178l5 13-5 7 0-16z"/>
<path fill="#c8c020" d="M674 198l-5-38 5 18 0 4z"/>
<path fill="#c890b8" d="M679 138l5 68-5-15 0-13z"/>
<path fill="#f8a0e0" d="M679 191l-5-13 5-40 0 40z"/>
<path fill="#c890c0" d="M684 206l-5-68 5 47 0-2z"/>
<path fill="#b0c820" d="M689 162l5 35-5 5 0-16z"/>
<path fill="#c8e020" d="M689 202l-5-17 5-23 0 24z"/>
<path fill="#b8c820" d="M694 161l5 30-5 6 0-19z"/>
<path fill="#d0e020" d="M694 197l-5-35 5-1 0 17z"/>
<path fill="#20b830" d="M724 176l-5-9 5 3 0 6z"/>
<path fill="#28d848" d="M729 191l-5-21 5-3 0 14z"/>
<path fill="#d0c820" d="M734 148l5 35-5 12 0-22z"/>
<path fill="#e8e028" d="M734 195l-5-28 5-19 0 25z"/>
<path fill="#20c858" d="M189 303l4-13-5 7 0 2zM204 286l4 1-5 15 1-11zM224 278l4 30-5 3 1-15zM254 272l4 4-5 9 1-3zM399 264l4-17-5 24 0-8zM449 233l4 9-5 15 0-15z"/>
<path fill="#20d868" d="M188 297l-4 9 5-3-1-4zM223 311l-4-24 5-9 0 18zM398 271l-4-2 5-5-1-1z"/>
<path fill="#18a038" d="M194 281l4 29-5-20 1 6zM199 290l4 12-5 8 0-14zM339 277l4-19-5 25 0-15zM509 238l4-4-5 2 0-4zM584 206l4 30-5 0 1-16zM624 207l4 0-5 12 1-11zM694 197l4 12-5-22 1 12zM744 170l4 32-5-13 1-3zM749 193l4 6-5 3 0-11z"/>
<path fill="#28d848" d="M193 290l-4 13 5-22 0 15zM283 281l-4-8 5-11 0 14zM473 251l-4-25 5 12 0-2zM743 189l-4-6 5-13 0 16z"/>
<path fill="#20b840" d="M198 310l-4-29 5 9-1 6zM338 283l-4-30 5 24-1-9zM508 236l-4-17 5 19-1-6zM748 202l-4-32 5 23-1-2z"/>
<path fill="#20d860" d="M203 302l-4-12 5-4 0 5zM253 285l-4 12 5-25 0 10zM448 257l-4-19 5-5-1 9z"/>
<path fill="#18a048" d="M209 290l4 10-5-13 0 4zM229 301l4-15-5 22 0-15zM259 290l4 9-5-23 0 8zM294 269l4 18-5 1 1-11zM404 257l4 17-5-27 1 13zM534 238l4 5-5-7 1-3zM704 182l4 28-5-10 1-4zM709 192l4 11-5 7 0-13z"/>
<path fill="#20b850" d="M208 287l-4-1 5 4-1 1zM218 284l-4 11 5-8-1 7zM228 308l-4-30 5 23-1-8zM258 276l-4-4 5 18-1-6zM293 288l-4-23 5 4 0 8zM343 258l-4 19 5 3 0-10zM383 251l-4 4 5 9 0-3zM403 247l-4 17 5-7 0 3zM533 236l-4-20 5 22 0-5zM728 212l-4-36 5 15-1 7z"/>
<path fill="#20c850" d="M214 295l4-11-5 16 1-8zM379 255l4-4-5 25 0-18zM434 234l4 27-5 7 1-16zM514 238l4-15-5 11 1-1zM529 216l4 20-5-15 0 8zM579 204l4 32-5 1 0-10zM619 197l4 22-5 6 0-11zM654 204l4 1-5 17 1-16z"/>
<path fill="#20d858" d="M213 300l-4-10 5 5 0-3zM378 276l-4-27 5 6-1 3zM433 268l-4-22 5-12 0 18zM513 234l-4 4 5 0 0-5zM523 243l-4-18 5 18 0-10zM528 221l-4 22 5-27-1 13zM578 237l-4-7 5-26-1 23zM588 236l-4-30 5-3-1 12zM618 225l-4-8 5-20-1 17zM653 222l-4-31 5 13 0 2z"/>
<path fill="#18a040" d="M219 287l4 24-5-27 0 10zM324 256l4 20-5-10 1-1zM329 273l4 4-5-1 0-6zM344 280l4-14-5-8 1 12zM384 264l4 10-5-23 1 10zM439 242l4 20-5-1 0-11zM519 225l4 18-5-20 0 9zM524 243l4-22-5 22 1-10zM594 205l4 30-5-19 1-1zM649 191l4 31-5-18 0 0zM724 176l4 36-5-24 1 4zM729 191l4 20-5 1 0-14z"/>
<path fill="#18a060" d="M234 290l4 15-5-19 1 10zM299 272l4 11-5 4 0-9zM354 263l4 12-5-13 1 5zM359 277l4-17-5 15 0-6zM364 275l4 2-5-17 1 12zM464 242l4 16-5-1 1-9zM559 231l4-2-5 10 0-10zM629 216l4 5-5-14 0 6zM659 196l4 18-5-9 0 0zM664 204l4 7-5 3 1-8z"/>
<path fill="#18b870" d="M233 286l-4 15 5-11 0 6zM353 262l-4 7 5-6 0 4zM363 260l-4 17 5-2 0-3zM463 257l-4-22 5 7 0 6zM558 239l-4-23 5 15-1-2zM628 207l-4 0 5 9-1-3zM658 205l-4-1 5-8-1 9z"/>
<path fill="#18a8a0" d="M239 299l4 3-5 3 0-6z"/>
<path fill="#18c0c0" d="M238 305l-4-15 5 9-1 0zM393 264l-4-1 5 6 0-2z"/>
<path fill="#20c868" d="M244 292l4-11-5 21 1-8zM609 208l4 0-5 13 0-9zM679 191l4 4-5 7 0-6z"/>
<path fill="#20e078" d="M243 302l-4-3 5-7 0 2zM668 211l-4-7 5-4-1 3zM678 202l-4-4 5-7-1 5z"/>
<path fill="#18a050" d="M249 297l4-12-5-4 0 8zM574 230l4 7-5-22 1 14zM599 227l4-10-5 18 0-14zM614 217l4 8-5-17 1 6z"/>
<path fill="#18b860" d="M248 281l-4 11 5 5-1-8zM573 215l-4 20 5-5 0-1zM613 208l-4 0 5 9 0-3zM673 197l-4 3 5-2 0 1z"/>
<path fill="#1888b0" d="M264 289l4 10-5 0 1-5zM634 217l4 11-5-7 1-1z"/>
<path fill="#20b8f0" d="M263 299l-4-9 5-1 0 5z"/>
<path fill="#20c890" d="M269 289l4-7-5 17 0-9zM419 251l4 0-5 15 0-7zM699 191l4 9-5 9 0-10z"/>
<path fill="#20e0a8" d="M268 299l-4-10 5 0-1 1zM428 259l-4-2 5-11-1 12zM603 217l-4 10 5-15 0 7zM738 207l-4-12 5-12-1 11z"/>
<path fill="#18a078" d="M274 290l4 8-5-16 1 8zM314 269l4 20-5-9 1-3zM429 246l4 22-5-9 0-1zM489 233l4 21-5-8 0-4z"/>
<path fill="#18c088" d="M273 282l-4 7 5 1 0 0zM488 246l-4-10 5-3-1 9z"/>
<path fill="#20c880" d="M279 273l4 8-5 17 0-12zM494 246l4-12-5 20 1-12zM644 201l4 3-5 20 1-16z"/>
<path fill="#20e090" d="M278 298l-4-8 5-17-1 13zM643 224l-4-20 5-3 0 7z"/>
<path fill="#20c040" d="M284 262l4 24-5-5 1-5z"/>
<path fill="#18a030" d="M289 265l4 23-5-2 0-11zM454 255l4-23-5 10 1-2zM459 235l4 22-5-25 0 13z"/>
<path fill="#20b838" d="M288 286l-4-24 5 3-1 10zM453 242l-4-9 5 22 0-15zM458 232l-4 23 5-20-1 10zM483 240l-4-18 5 14 0 0z"/>
<path fill="#20e088" d="M298 287l-4-18 5 3-1 6zM348 266l-4 14 5-11-1 0zM443 262l-4-20 5-4 0 12zM493 254l-4-21 5 13 0-4z"/>
<path fill="#18a880" d="M304 288l4 3-5-8 1 1z"/>
<path fill="#18c098" d="M303 283l-4-11 5 16 0-4z"/>
<path fill="#20d0a8" d="M309 271l4 9-5 11 0-9zM539 231l4-1-5 13 0-7z"/>
<path fill="#20e8b8" d="M308 291l-4-3 5-17-1 11zM538 243l-4-5 5-7-1 5z"/>
<path fill="#18c090" d="M313 280l-4-9 5-2 0 8z"/>
<path fill="#20c860" d="M319 263l4 3-5 23 0-17zM374 249l4 27-5-7 1-3zM569 235l4-20-5 20 0-8z"/>
<path fill="#20d870" d="M318 289l-4-20 5-6-1 9zM568 235l-4-12 5 12-1-8z"/>
<path fill="#20b848" d="M323 266l-4-3 5-7 0 9zM328 276l-4-20 5 17-1-3zM438 261l-4-27 5 8-1 8zM518 223l-4 15 5-13-1 7zM583 236l-4-32 5 2 0 14zM593 216l-4-13 5 2 0 10zM648 204l-4-3 5-10-1 13zM693 187l-4 15 5-5 0 2zM723 188l-4 5 5-17 0 16z"/>
<path fill="#20c848" d="M334 253l4 30-5-6 1-5zM469 226l4 25-5 7 0-14zM504 219l4 17-5 11 1-15zM589 203l4 13-5 20 0-21zM689 202l4-15-5 15 0-3z"/>
<path fill="#28d850" d="M333 277l-4-4 5-20 0 19zM468 258l-4-16 5-16-1 18zM503 247l-4-20 5-8 0 13zM543 230l-4 1 5 0 0-4zM623 219l-4-22 5 10 0 1zM688 202l-4 4 5-4-1-3z"/>
<path fill="#20c878" d="M349 269l4-7-5 4 0 3zM444 238l4 19-5 5 1-12zM499 227l4 20-5-13 0 4zM719 193l4-5-5 20 0-13z"/>
<path fill="#20e080" d="M358 275l-4-12 5 14-1-8zM498 234l-4 12 5-19-1 11zM718 208l-4-17 5 2-1 2z"/>
<path fill="#20c8d0" d="M369 270l4-1-5 8 0-4zM409 261l4 3-5 10 0-10zM754 187l4 12-5 0 1-5z"/>
<path fill="#20e0e8" d="M368 277l-4-2 5-5-1 3zM388 274l-4-10 5-1-1 3zM408 274l-4-17 5 4-1 3zM733 211l-4-20 5 4 0 6zM753 199l-4-6 5-6 0 7z"/>
<path fill="#20e070" d="M373 269l-4 1 5-21 0 17zM608 221l-4-9 5-4-1 4z"/>
<path fill="#20d0d0" d="M389 263l4 1-5 10 0-8z"/>
<path fill="#18a0a8" d="M394 269l4 2-5-7 1 3zM734 195l4 12-5 4 1-10z"/>
<path fill="#1890b0" d="M414 267l4-1-5-2 1 0z"/>
<path fill="#18a0c8" d="M413 264l-4-3 5 6 0-3z"/>
<path fill="#20e0a0" d="M418 266l-4 1 5-16-1 8zM698 209l-4-12 5-6-1 8z"/>
<path fill="#18a070" d="M424 257l4 2-5-8 1 3z"/>
<path fill="#18c080" d="M423 251l-4 0 5 6 0-3z"/>
<path fill="#20c048" d="M474 238l4-7-5 20 1-15zM544 231l4-15-5 14 1-3z"/>
<path fill="#20c038" d="M479 222l4 18-5-9 0 2z"/>
<path fill="#28d838" d="M478 231l-4 7 5-16-1 11z"/>
<path fill="#209830" d="M484 236l4 10-5-6 1-4z"/>
<path fill="#48c828" d="M549 205l4 14-5-3 0 2z"/>
<path fill="#50e028" d="M548 216l-4 15 5-26-1 13z"/>
<path fill="#38a020" d="M554 216l4 23-5-20 1 1z"/>
<path fill="#40b828" d="M553 219l-4-14 5 11 0 4z"/>
<path fill="#18a898" d="M564 223l4 12-5-6 1 1z"/>
<path fill="#20e8d8" d="M563 229l-4 2 5-8 0 7z"/>
<path fill="#18b858" d="M598 235l-4-30 5 22-1-6zM703 200l-4-9 5-9 0 14zM708 210l-4-28 5 10-1 5z"/>
<path fill="#20d098" d="M604 212l4 9-5-4 1 2z"/>
<path fill="#18a0d0" d="M633 221l-4-5 5 1 0 3z"/>
<path fill="#20d0a0" d="M639 204l4 20-5 4 0-10z"/>
<path fill="#20e8b0" d="M638 228l-4-11 5-13-1 14z"/>
<path fill="#18b878" d="M663 214l-4-18 5 8 0 2z"/>
<path fill="#20c870" d="M669 200l4-3-5 14 0-8z"/>
<path fill="#18a058" d="M674 198l4 4-5-5 1 2zM684 206l4-4-5-7 1 3z"/>
<path fill="#18b868" d="M683 195l-4-4 5 15 0-8z"/>
<path fill="#18a888" d="M714 191l4 17-5-5 1-5z"/>
<path fill="#18c0a0" d="M713 203l-4-11 5-1 0 7z"/>
<path fill="#20c898" d="M739 183l4 6-5 18 0-13z"/>
<path fill="#20c858" d="M193 290l5 11-5 21 0-20zM208 287l5 14-5-2 0-2zM338 283l5-17-5 16 0-5zM403 247l5 35-5-17 0 1z"/>
<path fill="#20d860" d="M193 322l-5-25 5-7 0 12zM208 299l-5 3 5-15 0 10zM218 312l-5-12 5-16 0 16zM338 282l-5-5 5 6 0-6zM383 267l-5 9 5-25 0 15zM403 265l-5 6 5-24 0 19z"/>
<path fill="#18a048" d="M198 310l5-13-5 4 0-1zM213 300l5 12-5-11 0-1zM258 276l5 31-5-11 0-5zM263 299l5 9-5-1 0-9zM328 276l5-8-5 5 0-2zM333 277l5 5-5-14 0 8zM388 274l5 5-5-10 0-1zM408 274l5-6-5 14 0-14z"/>
<path fill="#20b850" d="M198 301l-5-11 5 20 0-10zM223 306l-5-22 5 27 0-9zM258 296l-5-11 5-9 0 15zM293 275l-5 11 5 2 0-2zM328 273l-5-7 5 10 0-5zM348 288l-5-30 5 8 0 9zM388 269l-5-18 5 23 0-6z"/>
<path fill="#20c870" d="M203 302l5-3-5-2 0 5zM243 302l5-14-5 8 0 2zM453 242l5 6-5 3 0-1zM508 236l5-1-5 16 0-9zM613 208l5 31-5 1 0-13zM673 197l5 23-5-3 0-6z"/>
<path fill="#20e078" d="M203 297l-5 13 5-8 0 0zM613 240l-5-19 5-13 0 19z"/>
<path fill="#20b858" d="M213 301l-5-14 5 13 0 0zM333 268l-5 8 5 1 0-1zM408 282l-5-35 5 27 0-6z"/>
<path fill="#20c850" d="M218 284l5 22-5 6 0-12zM288 286l5-11-5 17 0-8zM383 251l5 18-5-2 0-1zM478 231l5 9-5 12 0-8zM518 223l5 7-5 23 0-18zM528 221l5 31-5-8 0-4z"/>
<path fill="#18a040" d="M223 311l5-4-5-1 0-4zM293 288l5 9-5-22 0 11zM343 258l5 30-5-22 0 8zM348 266l5 23-5-1 0-13zM468 258l5-8-5-11 0 12zM483 240l5 20-5-20 0 3zM523 243l5 1-5-14 0 5zM533 236l5 12-5 4 0-13z"/>
<path fill="#1888b0" d="M228 308l5 4-5-5 0 3zM418 266l5 9-5 0 0-5z"/>
<path fill="#18a0c8" d="M228 307l-5 4 5-3 0 2zM418 275l-5-11 5 2 0 4z"/>
<path fill="#20c878" d="M233 286l5 13-5 13 0-11zM363 260l5 16-5 11 0-13zM538 243l5-14-5 19 0-9zM628 207l5 8-5 3 0-3zM723 188l5 23-5 1 0-7z"/>
<path fill="#20e088" d="M233 312l-5-4 5-22 0 15zM353 289l-5-23 5-4 0 14zM498 251l-5 3 5-20 0 12zM628 218l-5 1 5-12 0 8zM723 212l-5-4 5-20 0 17z"/>
<path fill="#18a060" d="M238 305l5-9-5 3 0-3zM353 262l5 27-5 0 0-13zM358 275l5 12-5 2 0-11zM373 269l5-1-5-4 0 6zM503 247l5 4-5-7 0 0zM633 221l5 14-5-20 0 5zM683 195l5 32-5-4 0-11zM688 202l5 17-5 8 0-16zM728 212l5-16-5 15 0-9z"/>
<path fill="#18b870" d="M238 299l-5-13 5 19 0-9zM358 289l-5-27 5 13 0 3zM633 215l-5-8 5 14 0-1zM728 211l-5-23 5 24 0-10z"/>
<path fill="#20e080" d="M243 296l-5 9 5-3 0-4zM363 287l-5-12 5-15 0 14zM373 264l-5 13 5-8 0 1zM453 251l-5 6 5-15 0 8zM508 251l-5-4 5-11 0 6zM538 248l-5-12 5 7 0-4zM673 217l-5-6 5-14 0 14zM683 223l-5-21 5-7 0 17zM688 227l-5-32 5 7 0 9z"/>
<path fill="#18a050" d="M248 281l5 26-5-19 0 6zM558 239l5-1-5-3 0-2zM578 237l5 7-5 3 0-11z"/>
<path fill="#20e070" d="M248 288l-5 14 5-21 0 13zM253 307l-5-26 5 4 0 7zM543 229l-5 14 5-13 0 2z"/>
<path fill="#20c868" d="M253 285l5 11-5 11 0-15zM543 230l5-3-5 2 0 3z"/>
<path fill="#18b858" d="M263 307l-5-31 5 23 0-1zM558 235l-5-16 5 20 0-6z"/>
<path fill="#1890e0" d="M268 299l5 2-5 7 0-6z"/>
<path fill="#20a0f8" d="M268 308l-5-9 5 0 0 3z"/>
<path fill="#20c890" d="M273 282l5 11-5 8 0-7zM303 283l5-3-5 17 0-10zM423 251l5 8-5 16 0-12zM743 189l5 3-5 10 0-4zM758 199l5-10-5 14 0-5z"/>
<path fill="#20e0a0" d="M273 301l-5-2 5-17 0 12zM303 297l-5-10 5-4 0 4zM423 275l-5-9 5-15 0 12zM743 202l-5 5 5-18 0 9zM758 203l-5-4 5 0 0-1z"/>
<path fill="#18a078" d="M278 298l5 2-5-7 0 0zM318 289l5-11-5 12 0-6zM378 276l5-9-5 1 0 2zM433 268l5-8-5-4 0 5zM488 246l5 20-5-6 0-7zM663 214l5 12-5-5 0-5z"/>
<path fill="#18c088" d="M278 293l-5-11 5 16 0-5zM308 280l-5 3 5 8 0-7zM433 256l-5 3 5 9 0-7zM753 191l-5 11 5-3 0 0z"/>
<path fill="#20d0a0" d="M283 281l5 11-5 8 0-7z"/>
<path fill="#20e0b0" d="M283 300l-5-2 5-17 0 12zM623 236l-5-11 5-6 0 5z"/>
<path fill="#20d858" d="M288 292l-5-11 5 5 0-2zM343 266l-5 17 5-25 0 16zM478 252l-5-1 5-20 0 13zM518 253l-5-19 5-11 0 12zM528 244l-5-1 5-22 0 19z"/>
<path fill="#1890b0" d="M298 287l5 10-5 0 0-5zM718 208l5 4-5 7 0-9z"/>
<path fill="#20c8f0" d="M298 297l-5-9 5-1 0 5zM713 216l-5-6 5-7 0 9zM718 219l-5-16 5 5 0 2z"/>
<path fill="#18a070" d="M308 291l5-7-5-4 0 4zM428 259l5-3-5 3 0-3zM598 235l5-13-5 20 0-13zM748 202l5-11-5 1 0 2zM753 199l5 4-5-12 0 8z"/>
<path fill="#20d0c0" d="M313 280l5 10-5-6 0 2z"/>
<path fill="#20e8d0" d="M313 284l-5 7 5-11 0 6zM643 218l-5 10 5-4 0-2z"/>
<path fill="#20e0a8" d="M318 290l-5-10 5 9 0-5zM603 222l-5 13 5-18 0 9zM658 221l-5 1 5-17 0 12z"/>
<path fill="#20c860" d="M323 266l5 7-5 5 0-2zM573 215l5 32-5-8 0-5z"/>
<path fill="#20d870" d="M323 278l-5 11 5-23 0 10zM573 239l-5-4 5-20 0 19z"/>
<path fill="#18a058" d="M368 277l5-13-5 12 0-7zM513 234l5 19-5-18 0 5zM618 225l5 11-5 3 0-12zM678 202l5 21-5-3 0-10z"/>
<path fill="#18b868" d="M368 276l-5-16 5 17 0-8zM513 235l-5 1 5-2 0 6zM618 239l-5-31 5 17 0 2zM678 220l-5-23 5 5 0 8z"/>
<path fill="#18c090" d="M378 268l-5 1 5 7 0-6zM488 260l-5-20 5 6 0 7zM608 229l-5-12 5 4 0 6zM663 221l-5-16 5 9 0 2z"/>
<path fill="#20c8d0" d="M393 264l5 14-5 1 0-5zM493 254l5-3-5 15 0-12z"/>
<path fill="#20e0e8" d="M393 279l-5-5 5-10 0 10zM493 266l-5-20 5 8 0 0z"/>
<path fill="#20d0b0" d="M398 271l5-6-5 13 0-8z"/>
<path fill="#20e8c8" d="M398 278l-5-14 5 7 0-1z"/>
<path fill="#1898a8" d="M413 264l5 11-5-7 0 2zM443 262l5-1-5 2 0-1z"/>
<path fill="#20d8e8" d="M413 268l-5 6 5-10 0 6zM443 263l-5-2 5 1 0 0zM668 226l-5-12 5-3 0 6z"/>
<path fill="#18c080" d="M428 259l-5-8 5 8 0-3zM748 192l-5-3 5 13 0-8z"/>
<path fill="#18a8a0" d="M438 261l5 2-5-3 0 3zM568 235l5 4-5-5 0 0z"/>
<path fill="#20e8e0" d="M438 260l-5 8 5-7 0 2zM563 238l-5 1 5-10 0 6z"/>
<path fill="#20c888" d="M448 257l5-6-5 10 0-3zM593 216l5 26-5-1 0-7z"/>
<path fill="#20e098" d="M448 261l-5 1 5-5 0 1zM593 241l-5-5 5-20 0 18zM598 242l-5-26 5 19 0-6z"/>
<path fill="#18a030" d="M458 232l5 24-5-8 0-4zM463 257l5-18-5 17 0-10z"/>
<path fill="#28d840" d="M458 248l-5-6 5-10 0 12z"/>
<path fill="#20b838" d="M463 256l-5-24 5 25 0-11z"/>
<path fill="#20b848" d="M468 239l-5 18 5 1 0-7zM483 240l-5-9 5 9 0 3zM523 230l-5-7 5 20 0-8zM533 252l-5-31 5 15 0 3z"/>
<path fill="#20d0a8" d="M473 251l5 1-5-2 0 3z"/>
<path fill="#20e8b8" d="M473 250l-5 8 5-7 0 2z"/>
<path fill="#20c880" d="M498 234l5 10-5 7 0-5zM648 204l5 21-5-8 0 1z"/>
<path fill="#18b878" d="M503 244l-5-10 5 13 0-3z"/>
<path fill="#18a038" d="M548 216l5 33-5-22 0 3zM698 209l5-5-5-7 0 2z"/>
<path fill="#20b840" d="M548 227l-5 3 5-14 0 14zM698 197l-5-10 5 22 0-10z"/>
<path fill="#20c048" d="M553 219l5 16-5 14 0-19zM693 187l5 10-5 22 0-18z"/>
<path fill="#28d850" d="M553 249l-5-33 5 3 0 11zM693 219l-5-17 5-15 0 14z"/>
<path fill="#20d8c8" d="M563 229l5 5-5 4 0-3z"/>
<path fill="#18c8b8" d="M568 234l-5-5 5 6 0-1z"/>
<path fill="#18b860" d="M578 247l-5-32 5 22 0-1z"/>
<path fill="#1888e0" d="M583 236l5 2-5 6 0-5z"/>
<path fill="#2098f8" d="M583 244l-5-7 5-1 0 3z"/>
<path fill="#1870b0" d="M588 236l5 5-5-3 0 0z"/>
<path fill="#1880d0" d="M588 238l-5-2 5 0 0 2z"/>
<path fill="#20d098" d="M603 217l5 12-5-7 0 4zM623 219l5-1-5 18 0-12zM658 205l5 16-5 0 0-4z"/>
<path fill="#18a080" d="M608 221l5 19-5-11 0-2z"/>
<path fill="#20d0c8" d="M638 228l5-10-5 17 0-9z"/>
<path fill="#20e8d8" d="M638 235l-5-14 5 7 0-2z"/>
<path fill="#20d0b8" d="M643 224l5-7-5 1 0 4z"/>
<path fill="#20e090" d="M648 217l-5 7 5-20 0 14z"/>
<path fill="#18a068" d="M653 222l5-1-5 4 0-7z"/>
<path fill="#18c078" d="M653 225l-5-21 5 18 0-4z"/>
<path fill="#20c0d0" d="M668 211l5 6-5 9 0-9z"/>
<path fill="#18a888" d="M703 200l5 13-5-9 0 2z"/>
<path fill="#20e8c0" d="M703 204l-5 5 5-9 0 6z"/>
<path fill="#18a898" d="M708 210l5 6-5-3 0-3z"/>
<path fill="#18c8b0" d="M708 213l-5-13 5 10 0 0z"/>
<path fill="#20b0d8" d="M713 203l5 16-5-3 0-4z"/>
<path fill="#18a880" d="M733 211l5 6-5-21 0 13z"/>
<path fill="#18c098" d="M733 196l-5 16 5-1 0-2z"/>
<path fill="#20c0d8" d="M738 207l5-5-5 15 0-8z"/>
<path fill="#20d0f0" d="M738 217l-5-6 5-4 0 2z"/>
<path fill="#18a070" d="M193 322l5-6-5-8 0 6zM313 284l5 15-5 2 0-10zM403 265l5 14-5-13 0 6zM453 251l5 27-5-9 0-4zM638 235l5 2-5-17 0 7zM753 191l5 25-5-4 0-9zM758 203l5 0-5 13 0-13zM763 189l5 27-5-13 0 0z"/>
<path fill="#18c080" d="M193 308l-5 3 5 11 0-8zM638 220l-5-5 5 20 0-8z"/>
<path fill="#20c888" d="M198 301l5 21-5-6 0-1zM398 278l5-12-5 22 0-10zM633 215l5 5-5 11 0-10z"/>
<path fill="#20e098" d="M198 316l-5 6 5-21 0 14zM398 288l-5-9 5-1 0 0zM403 266l-5 12 5-13 0 7zM633 231l-5-13 5-3 0 6z"/>
<path fill="#18a058" d="M203 297l5 25-5 0 0-12zM208 299l5 23-5 0 0-12zM253 307l5-14-5 1 0 2zM483 240l5 30-5-21 0 4zM488 260l5 4-5 6 0-12zM548 227l5 30-5-2 0-13zM553 249l5 8-5 0 0-9zM703 204l5 15-5-2 0-8z"/>
<path fill="#20e078" d="M203 322l-5-21 5-4 0 13zM248 309l-5-13 5-8 0 9zM288 306l-5-6 5-8 0 4zM513 244l-5 7 5-16 0 8zM698 210l-5 9 5-22 0 14z"/>
<path fill="#18b868" d="M208 322l-5-25 5 2 0 11zM253 294l-5-6 5 19 0-11zM488 270l-5-30 5 20 0-2zM518 241l-5-6 5 18 0-6zM553 257l-5-30 5 22 0-1zM703 217l-5-20 5 7 0 5z"/>
<path fill="#20c870" d="M213 301l5 0-5 21 0-16zM248 288l5 6-5 15 0-12zM288 292l5-8-5 22 0-10zM513 235l5 6-5 3 0-1zM698 197l5 20-5-7 0 1z"/>
<path fill="#20e080" d="M213 322l-5-23 5 2 0 5zM378 284l-5-20 5 4 0 5zM543 255l-5-7 5-19 0 18z"/>
<path fill="#18a050" d="M218 312l5-14-5 3 0 2zM223 306l5 3-5-11 0 8z"/>
<path fill="#18b860" d="M218 301l-5 0 5 11 0-9zM223 298l-5 14 5-6 0 0zM483 249l-5 3 5-12 0 13zM548 255l-5-26 5-2 0 15z"/>
<path fill="#18a0a8" d="M228 307l5 17-5-15 0 3zM283 300l5 6-5-6 0 0zM418 275l5 1-5-3 0 0zM588 238l5 11-5-12 0 5zM623 236l5-3-5-3 0 4z"/>
<path fill="#18c0c0" d="M228 309l-5-3 5 1 0 5zM283 300l-5-7 5 7 0 0zM588 237l-5 7 5-6 0 4zM668 220l-5 1 5 5 0-2z"/>
<path fill="#1888b0" d="M233 312l5 3-5 9 0-10zM713 216l5 1-5-1 0 0zM718 219l5-5-5 3 0-1zM723 212l5 8-5-6 0 2z"/>
<path fill="#20c0f0" d="M233 324l-5-17 5 5 0 2zM718 217l-5-1 5 3 0-3zM723 214l-5 5 5-7 0 4z"/>
<path fill="#20d0c0" d="M238 299l5 8-5 8 0-7zM353 289l5-8-5 6 0-1zM643 218l5 5-5 14 0-9z"/>
<path fill="#20e8d8" d="M238 315l-5-3 5-13 0 9zM353 287l-5 1 5 1 0-3z"/>
<path fill="#18a880" d="M243 296l5 13-5-2 0-4zM613 240l5-5-5-8 0 6zM738 217l5-4-5 8 0-9z"/>
<path fill="#20e8b0" d="M243 307l-5-8 5-3 0 7zM423 276l-5-1 5 0 0-3z"/>
<path fill="#20c878" d="M258 296l5 2-5-5 0 5zM328 273l5 27-5 0 0-12zM373 264l5 20-5-1 0-6zM543 229l5 26-5 0 0-8z"/>
<path fill="#20e088" d="M258 293l-5 14 5-11 0 2zM328 300l-5-22 5-5 0 15zM373 283l-5-7 5-12 0 13z"/>
<path fill="#18a888" d="M263 307l5-3-5-6 0 3zM578 247l5-13-5 1 0 4zM583 244l5-7-5-3 0 6zM708 213l5 3-5 3 0-6z"/>
<path fill="#18c0a0" d="M263 298l-5-2 5 11 0-6zM578 235l-5 4 5 8 0-8zM583 234l-5 13 5-3 0-4zM708 219l-5-15 5 9 0 0z"/>
<path fill="#20c880" d="M268 308l5-17-5 13 0-2zM458 248l5 20-5 10 0-17zM478 252l5-3-5 20 0-14z"/>
<path fill="#20e090" d="M268 304l-5 3 5 1 0-6zM458 278l-5-27 5-3 0 13zM478 269l-5-19 5 2 0 3z"/>
<path fill="#18a068" d="M273 301l5 2-5-12 0 10zM463 256l5 13-5-1 0-8zM508 251l5-7-5 3 0-1z"/>
<path fill="#18c078" d="M273 291l-5 17 5-7 0 0zM463 268l-5-20 5 8 0 4zM508 247l-5-3 5 7 0-5z"/>
<path fill="#20d0d0" d="M278 293l5 7-5 3 0-4z"/>
<path fill="#20e8e0" d="M278 303l-5-2 5-8 0 6zM443 279l-5-19 5 3 0 6zM568 257l-5-19 5-4 0 12zM663 225l-5-4 5 0 0 1z"/>
<path fill="#18a040" d="M293 275l5 32-5-23 0 6zM473 250l5 19-5-12 0-3z"/>
<path fill="#20b850" d="M293 284l-5 8 5-17 0 15zM298 307l-5-32 5 22 0-5zM348 280l-5-14 5 22 0-8z"/>
<path fill="#18a048" d="M298 297l5-6-5 16 0-15zM338 282l5 15-5-1 0-10zM348 288l5-1-5-7 0 0zM528 244l5 16-5-1 0-11z"/>
<path fill="#18a890" d="M303 297l5 4-5-10 0 5zM408 282l5-9-5 6 0-4zM563 238l5 19-5-18 0 3zM648 217l5 20-5-14 0 1z"/>
<path fill="#18c0a8" d="M303 291l-5 6 5 0 0-1zM408 279l-5-14 5 17 0-7zM563 239l-5-4 5 3 0 4zM648 223l-5-5 5-1 0 7z"/>
<path fill="#20c890" d="M308 280l5 21-5 0 0-6zM503 244l5 3-5 0 0 0zM748 192l5 20-5-4 0-4z"/>
<path fill="#20e0a0" d="M308 301l-5-4 5-17 0 15zM453 269l-5-8 5-10 0 14zM503 247l-5 4 5-7 0 3zM748 208l-5-6 5-10 0 12zM758 216l-5-25 5 12 0 0zM763 203l-5 0 5-14 0 14z"/>
<path fill="#18c088" d="M313 301l-5-21 5 4 0 7zM433 266l-5-7 5-3 0 8zM753 212l-5-20 5-1 0 12z"/>
<path fill="#20d0a8" d="M318 290l5-4-5 13 0-9z"/>
<path fill="#20e8b8" d="M318 299l-5-15 5 6 0 0zM693 225l-5 2 5-8 0 1z"/>
<path fill="#18a078" d="M323 278l5 22-5-14 0 2zM383 267l5 10-5-1 0-4zM388 269l5 20-5-12 0-1zM433 256l5 19-5-9 0-2zM438 260l5 19-5-4 0-7zM733 196l5 25-5-16 0 3z"/>
<path fill="#18c090" d="M323 286l-5 4 5-12 0 10zM388 277l-5-10 5 2 0 7zM438 275l-5-19 5 4 0 8zM733 205l-5 6 5-15 0 12zM738 221l-5-25 5 21 0-5z"/>
<path fill="#20c860" d="M333 268l5 28-5 4 0-16zM523 230l5 29-5-1 0-8z"/>
<path fill="#20d868" d="M333 300l-5-27 5-5 0 16zM523 258l-5-5 5-23 0 20z"/>
<path fill="#18b858" d="M338 296l-5-28 5 14 0 4zM528 259l-5-29 5 14 0 4z"/>
<path fill="#20c858" d="M343 266l5 14-5 17 0-16z"/>
<path fill="#20d860" d="M343 297l-5-15 5-16 0 15z"/>
<path fill="#18a8a0" d="M358 289l5 5-5-13 0 7zM443 263l5 12-5 4 0-10zM568 234l5 23-5 0 0-11zM663 221l5-1-5 5 0-3zM668 226l5 4-5-10 0 4z"/>
<path fill="#18c8b8" d="M358 281l-5 8 5 0 0-1z"/>
<path fill="#0850b0" d="M363 287l5 7-5 0 0-3zM598 242l5 5-5 4 0-6z"/>
<path fill="#1068f0" d="M363 294l-5-5 5-2 0 4zM598 251l-5-10 5 1 0 3z"/>
<path fill="#20c8d0" d="M368 276l5 7-5 11 0-9zM413 268l5 5-5 0 0 1zM618 239l5-9-5 5 0 1z"/>
<path fill="#20d8e8" d="M368 294l-5-7 5-11 0 9zM743 213l-5 4 5-15 0 8z"/>
<path fill="#18a060" d="M378 268l5 8-5 8 0-11zM518 253l5 5-5-17 0 6z"/>
<path fill="#20e0a8" d="M383 276l-5-8 5-1 0 5zM498 270l-5-4 5-15 0 7zM608 246l-5-24 5 7 0 2z"/>
<path fill="#18a898" d="M393 279l5 9-5 1 0-8zM653 225l5 4-5 8 0-10z"/>
<path fill="#18c8b0" d="M393 289l-5-20 5 10 0 2z"/>
<path fill="#20e0e8" d="M413 273l-5 9 5-14 0 6zM618 235l-5 5 5-1 0-3zM623 230l-5 9 5-3 0-2z"/>
<path fill="#18b8c8" d="M418 273l-5-5 5 7 0-2zM533 260l-5-16 5 8 0 2z"/>
<path fill="#20d0a0" d="M423 275l5-11-5 12 0-4zM428 259l5 7-5-2 0 2zM603 222l5 24-5 1 0-8zM693 219l5-9-5 15 0-5z"/>
<path fill="#20e0b0" d="M428 264l-5 11 5-16 0 7zM603 247l-5-5 5-20 0 17zM628 233l-5 3 5-18 0 12z"/>
<path fill="#20c0d8" d="M448 261l5 8-5 6 0-8zM743 202l5 6-5 5 0-3z"/>
<path fill="#20d8f0" d="M448 275l-5-12 5-2 0 6z"/>
<path fill="#20c850" d="M468 239l5 18-5 12 0-14z"/>
<path fill="#20d858" d="M468 269l-5-13 5-17 0 16z"/>
<path fill="#20b848" d="M473 257l-5-18 5 11 0 4z"/>
<path fill="#1060b0" d="M493 266l5 4-5-6 0 1zM688 227l5-2-5 6 0-5z"/>
<path fill="#1878d0" d="M493 264l-5-4 5 6 0-1z"/>
<path fill="#20d098" d="M498 251l5-4-5 23 0-12zM608 229l5-2-5 19 0-15zM628 218l5 13-5 2 0-3z"/>
<path fill="#1898a8" d="M533 252l5 8-5 0 0-6z"/>
<path fill="#1888e0" d="M538 248l5 7-5 5 0-6z"/>
<path fill="#2098f8" d="M538 260l-5-8 5-4 0 6zM683 235l-5-15 5 3 0 4z"/>
<path fill="#20d0b0" d="M558 235l5 4-5 18 0-12zM573 239l5-4-5 22 0-16z"/>
<path fill="#20e8c8" d="M558 257l-5-8 5-14 0 10zM728 220l-5-8 5-1 0 1z"/>
<path fill="#20e8c0" d="M573 257l-5-23 5 5 0 2z"/>
<path fill="#1870b0" d="M593 241l5 10-5-2 0-4z"/>
<path fill="#1880d0" d="M593 249l-5-11 5 3 0 4z"/>
<path fill="#18c098" d="M613 227l-5 2 5 11 0-7z"/>
<path fill="#20e8d0" d="M643 237l-5-2 5-17 0 10zM653 237l-5-20 5 8 0 2z"/>
<path fill="#20b8d8" d="M658 221l5 4-5 4 0-4z"/>
<path fill="#20c8f0" d="M658 229l-5-4 5-4 0 4zM673 230l-5-4 5-9 0 9z"/>
<path fill="#20b0d8" d="M673 217l5 15-5-2 0-4z"/>
<path fill="#1890b0" d="M678 220l5 15-5-3 0-6z"/>
<path fill="#18a8c8" d="M678 232l-5-15 5 3 0 6z"/>
<path fill="#1868b0" d="M683 223l5 8-5 4 0-8z"/>
<path fill="#1880f0" d="M688 231l-5-8 5 4 0-1z"/>
<path fill="#18a0d0" d="M713 216l-5-3 5 3 0 0z"/>
<path fill="#20d0b8" d="M728 211l5-6-5 15 0-8z"/>
<path fill="#18a070" d="M198 316l5 7-5 6 0-10zM408 279l5-1-5 11 0-11z"/>
<path fill="#18c080" d="M198 329l-5-21 5 8 0 3zM408 289l-5-23 5 13 0-1z"/>
<path fill="#18a0a8" d="M203 322l5 1-5 0 0-2zM368 294l5 5-5-11 0 6zM413 273l5 20-5-15 0 3zM558 257l5-9-5 1 0 4zM593 249l5 1-5-6 0 1z"/>
<path fill="#18b8c0" d="M203 323l-5-7 5 6 0-1zM368 288l-5 6 5 0 0 0z"/>
<path fill="#20d0d0" d="M208 322l5-4-5 5 0-2z"/>
<path fill="#20e8e0" d="M208 323l-5-1 5 0 0-1zM533 261l-5-2 5 1 0-2z"/>
<path fill="#18a8a0" d="M213 322l5 3-5-7 0 4zM438 275l5 13-5 0 0-9zM538 260l5 7-5-15 0 8zM653 237l5 9-5-2 0-6zM668 220l5 16-5-8 0-1zM673 230l5 6-5 0 0-6z"/>
<path fill="#18c0c0" d="M213 318l-5 4 5 0 0 0zM413 278l-5 1 5-6 0 8zM538 252l-5 8 5 0 0 0zM593 244l-5-7 5 12 0-4zM668 228l-5-3 5-5 0 7zM673 236l-5-16 5 10 0 0z"/>
<path fill="#20c878" d="M218 301l5 7-5 17 0-11z"/>
<path fill="#20e080" d="M218 325l-5-3 5-21 0 13zM253 307l-5 2 5-15 0 8z"/>
<path fill="#18a050" d="M223 298l5 29-5-19 0 0z"/>
<path fill="#18b860" d="M223 308l-5-7 5-3 0 10z"/>
<path fill="#20c868" d="M228 309l5-4-5 22 0-17z"/>
<path fill="#20e070" d="M228 327l-5-29 5 11 0 1z"/>
<path fill="#18a068" d="M233 324l5 5-5-24 0 12zM278 303l5 4-5 9 0-12zM288 306l5-8-5-4 0 6zM388 277l5 1-5-4 0 2zM488 270l5-4-5-2 0-2z"/>
<path fill="#18c078" d="M233 305l-5 4 5 15 0-7zM288 294l-5 6 5 6 0-6zM388 274l-5 2 5 1 0-1zM488 264l-5-15 5 21 0-8z"/>
<path fill="#1880d8" d="M238 315l5 13-5 1 0-5z"/>
<path fill="#1888f8" d="M238 329l-5-5 5-9 0 9z"/>
<path fill="#20c8d0" d="M243 307l5 19-5 2 0-9zM418 273l5 12-5 8 0-12z"/>
<path fill="#20d8e8" d="M243 328l-5-13 5-8 0 12zM663 233l-5-4 5-4 0 4z"/>
<path fill="#20d0b0" d="M248 309l5-2-5 19 0-14zM578 235l5 11-5 17 0-13z"/>
<path fill="#20e8c8" d="M248 326l-5-19 5 2 0 3zM473 275l-5-6 5-12 0 11zM563 248l-5 9 5-18 0 13zM578 263l-5-6 5-22 0 15z"/>
<path fill="#20c870" d="M253 294l5 4-5 9 0-5zM293 284l5 27-5-13 0 2z"/>
<path fill="#18a058" d="M258 293l5 13-5-8 0 0zM298 307l5-15-5 19 0-13z"/>
<path fill="#18b868" d="M258 298l-5-4 5-1 0 5zM298 311l-5-27 5 23 0-9z"/>
<path fill="#18a060" d="M263 298l5 22-5-14 0-2zM518 241l5 20-5-10 0-2zM523 258l5-7-5 10 0-8z"/>
<path fill="#18b870" d="M263 306l-5-13 5 5 0 6zM518 251l-5-7 5-3 0 8zM523 261l-5-20 5 17 0-5z"/>
<path fill="#18a888" d="M268 304l5 14-5 2 0-10zM328 300l5 1-5 8 0-10zM363 294l5-6-5-4 0 3zM393 289l5-6-5-5 0 4zM528 259l5 2-5-10 0 6zM553 257l5-8-5-3 0 6zM583 234l5 23-5-11 0-3zM618 235l5 7-5 7 0-11z"/>
<path fill="#18c0a0" d="M268 320l-5-22 5 6 0 6zM328 309l-5-23 5 14 0-1zM363 284l-5-3 5 13 0-7zM393 278l-5-1 5 12 0-7zM528 251l-5 7 5 1 0-2zM553 246l-5 9 5 2 0-5zM583 246l-5-11 5-1 0 9z"/>
<path fill="#20c880" d="M273 291l5 25-5 2 0-11zM283 300l5-6-5 13 0-6zM483 249l5 15-5 14 0-13zM513 244l5 7-5 2 0-4z"/>
<path fill="#20e090" d="M273 318l-5-14 5-13 0 16zM283 307l-5-4 5-3 0 1zM383 288l-5-4 5-8 0 4zM483 278l-5-9 5-20 0 16zM513 253l-5-6 5-3 0 5z"/>
<path fill="#18b878" d="M278 316l-5-25 5 12 0 1z"/>
<path fill="#20e078" d="M293 298l-5 8 5-22 0 16z"/>
<path fill="#20c888" d="M303 291l5 6-5-5 0 5zM383 276l5-2-5 14 0-8z"/>
<path fill="#20e098" d="M303 292l-5 15 5-16 0 6z"/>
<path fill="#18a890" d="M308 301l5 8-5-12 0 3zM478 269l5 9-5-5 0-4zM563 239l5 24-5-15 0 4z"/>
<path fill="#18c0a8" d="M308 297l-5-6 5 10 0-1zM478 273l-5-16 5 12 0 0z"/>
<path fill="#20d0b8" d="M313 301l5-7-5 15 0-8zM473 257l5 16-5 2 0-7zM623 230l5 3-5 9 0-7zM733 205l5 23-5-1 0-7z"/>
<path fill="#20e8d0" d="M313 309l-5-8 5 0 0 0zM623 242l-5-7 5-5 0 5zM733 227l-5-7 5-15 0 15z"/>
<path fill="#20d0a0" d="M318 299l5-8-5 3 0 2zM348 280l5 21-5-5 0-2zM428 264l5 19-5 5 0-10zM698 210l5 21-5 4 0-10z"/>
<path fill="#20e0b0" d="M318 294l-5 7 5-2 0-3zM353 301l-5-21 5 7 0 3z"/>
<path fill="#18a880" d="M323 286l5 23-5-18 0 5zM353 287l5 6-5 8 0-11zM433 266l5 22-5-5 0-8zM703 217l5 14-5 0 0-9z"/>
<path fill="#18c098" d="M323 291l-5 8 5-13 0 10zM433 283l-5-19 5 2 0 9zM618 249l-5-22 5 8 0 3zM703 231l-5-21 5 7 0 5z"/>
<path fill="#1870b0" d="M333 300l5 5-5-4 0 1zM758 216l5 4-5-4 0 0z"/>
<path fill="#1880d0" d="M333 301l-5-1 5 0 0 2zM758 216l-5-4 5 4 0 0z"/>
<path fill="#2090e0" d="M338 296l5 2-5 7 0-5z"/>
<path fill="#20a0f8" d="M338 305l-5-5 5-4 0 4z"/>
<path fill="#1880b0" d="M343 297l5-1-5 2 0-1zM598 251l5-6-5 5 0-1zM603 247l5 3-5-5 0 3z"/>
<path fill="#20b8f0" d="M343 298l-5-2 5 1 0 0zM493 266l-5 4 5-6 0 4z"/>
<path fill="#20e8b0" d="M348 296l-5 1 5-17 0 14zM428 288l-5-12 5-12 0 14z"/>
<path fill="#20d0a8" d="M358 281l5 3-5 9 0-7zM548 255l5-9-5 7 0-1zM588 237l5 7-5 13 0-14zM613 227l5 22-5 2 0-8z"/>
<path fill="#20e8b8" d="M358 293l-5-6 5-6 0 5zM548 253l-5 2 5 0 0-3zM698 235l-5-10 5-15 0 15z"/>
<path fill="#20b8d8" d="M373 283l5 10-5 6 0-7zM378 284l5 4-5 5 0-6zM443 279l5-6-5 15 0-9zM633 231l5 17-5 3 0-10zM708 219l5 3-5 9 0-9zM718 217l5 2-5 15 0-12z"/>
<path fill="#20d0f0" d="M373 299l-5-5 5-11 0 9zM378 293l-5-10 5 1 0 3zM443 288l-5-13 5 4 0 0zM463 270l-5 8 5-10 0 5zM543 267l-5-7 5-5 0 4zM708 231l-5-14 5 2 0 3zM763 220l-5-4 5-13 0 12z"/>
<path fill="#1898a8" d="M398 288l5 8-5-13 0 6zM423 276l5 12-5-3 0-5zM458 278l5-8-5 8 0-4zM463 268l5 9-5-7 0 3zM768 216l5-2-5 7 0-7z"/>
<path fill="#18b0c8" d="M398 283l-5 6 5-1 0 1zM423 285l-5-12 5 3 0 4zM448 273l-5 6 5-4 0 2zM458 278l-5-9 5 9 0-4zM768 221l-5-18 5 13 0-2z"/>
<path fill="#20c890" d="M403 266l5 23-5 7 0-11zM508 247l5 6-5 7 0-8z"/>
<path fill="#20e0a0" d="M403 296l-5-8 5-22 0 19zM508 260l-5-13 5 0 0 5z"/>
<path fill="#20e0e8" d="M418 293l-5-20 5 0 0 8zM558 249l-5 8 5 0 0-4z"/>
<path fill="#18c8b8" d="M438 288l-5-22 5 9 0 4zM653 244l-5-21 5 14 0 1z"/>
<path fill="#1890b0" d="M448 275l5 6-5-8 0 4zM723 214l5 14-5-9 0 1zM753 212l5 4-5-2 0-2z"/>
<path fill="#20a0e0" d="M453 269l5 9-5 3 0-5zM658 229l5 4-5 13 0-10z"/>
<path fill="#20b0f8" d="M453 281l-5-6 5-6 0 7zM468 277l-5-9 5 1 0 3zM598 250l-5-1 5 2 0-2zM658 246l-5-9 5-8 0 7z"/>
<path fill="#1878b0" d="M468 269l5 6-5 2 0-5zM498 270l5-4-5 4 0-2z"/>
<path fill="#1888b0" d="M493 264l5 6-5-4 0 2zM683 235l5-8-5 6 0-1zM688 231l5 3-5-7 0 5zM713 216l5 18-5-12 0 1zM728 220l5 7-5 1 0-6z"/>
<path fill="#1888d0" d="M498 270l-5-6 5 6 0-2z"/>
<path fill="#20c898" d="M503 247l5 13-5 6 0-5z"/>
<path fill="#20e0a8" d="M503 266l-5 4 5-23 0 14zM638 248l-5-17 5-11 0 16z"/>
<path fill="#20d0c8" d="M533 260l5-8-5 9 0-3z"/>
<path fill="#20c0d8" d="M543 255l5-2-5 14 0-8zM763 203l5 18-5-1 0-5z"/>
<path fill="#18a898" d="M568 257l5-1-5 7 0-9zM628 233l5 18-5-18 0 4zM738 221l5 4-5 3 0-8z"/>
<path fill="#18c0b0" d="M568 263l-5-24 5 18 0-3z"/>
<path fill="#0850b0" d="M573 257l5 6-5-7 0 2zM608 246l5 5-5-1 0-2z"/>
<path fill="#1058c8" d="M573 256l-5 1 5 0 0 1z"/>
<path fill="#20e8c0" d="M588 257l-5-23 5 3 0 6zM613 251l-5-5 5-19 0 16z"/>
<path fill="#1898d0" d="M603 245l-5 6 5-4 0 1z"/>
<path fill="#1060c8" d="M608 250l-5-3 5-1 0 2z"/>
<path fill="#18c8b0" d="M628 233l-5-3 5 3 0 4zM738 228l-5-23 5 16 0-1z"/>
<path fill="#20c8f0" d="M633 251l-5-18 5-2 0 10zM718 234l-5-18 5 1 0 5zM748 227l-5-14 5-5 0 8z"/>
<path fill="#20d098" d="M638 220l5 24-5 4 0-12z"/>
<path fill="#18a078" d="M643 237l5-2-5 9 0-10z"/>
<path fill="#18c088" d="M643 244l-5-24 5 17 0-3z"/>
<path fill="#20d0c0" d="M648 223l5 21-5-9 0 0z"/>
<path fill="#20e8d8" d="M648 235l-5 2 5-14 0 12z"/>
<path fill="#20c0d0" d="M663 225l5 3-5 5 0-4z"/>
<path fill="#1060b0" d="M678 232l5 1-5 3 0-3z"/>
<path fill="#1880f0" d="M678 236l-5-6 5 2 0 1zM693 234l-5-3 5-6 0 6z"/>
<path fill="#20c0f0" d="M683 233l-5-1 5 3 0-3z"/>
<path fill="#18a0d0" d="M688 227l-5 8 5-4 0 1zM713 222l-5-3 5-3 0 7z"/>
<path fill="#1070d8" d="M693 225l5 10-5-1 0-3z"/>
<path fill="#18a8c8" d="M723 219l-5-2 5-3 0 6zM753 214l-5-6 5 4 0 0z"/>
<path fill="#18a0c8" d="M728 228l-5-14 5 6 0 2z"/>
<path fill="#1888e0" d="M743 213l5 14-5-2 0-3z"/>
<path fill="#2098f8" d="M743 225l-5-4 5-8 0 9z"/>
<path fill="#20b0d8" d="M748 208l5 6-5 13 0-11z"/>
<path fill="#1868b0" d="M198 329l5 11-5-4 0 0zM763 220l5 10-5-2 0-4z"/>
<path fill="#1890f8" d="M198 336l-5 1 5-8 0 7zM423 290l-5 3 5-8 0 6z"/>
<path fill="#20d0a0" d="M203 323l5-4-5 21 0-12zM213 318l5 0-5 21 0-15zM518 251l5 19-5 6 0-14z"/>
<path fill="#20e0b0" d="M203 340l-5-11 5-6 0 5zM213 339l-5-16 5-5 0 6zM518 276l-5-23 5-2 0 11z"/>
<path fill="#18a080" d="M208 323l5 16-5-20 0 7zM513 253l5 23-5-16 0 2z"/>
<path fill="#18c090" d="M208 319l-5 4 5 0 0 3zM218 318l-5 0 5 7 0-2zM323 307l-5-13 5-3 0 10zM513 260l-5 0 5-7 0 9zM523 270l-5-19 5 10 0 3z"/>
<path fill="#18a880" d="M218 325l5 6-5-13 0 5zM323 291l5 22-5-6 0-6zM328 309l5 3-5 1 0-7zM383 288l5 1-5-4 0 4zM523 261l5 14-5-5 0-6z"/>
<path fill="#20c888" d="M223 308l5 15-5 8 0-9zM388 274l5 21-5-6 0-3z"/>
<path fill="#20e098" d="M223 331l-5-6 5-17 0 14z"/>
<path fill="#18a070" d="M228 327l5 3-5-7 0-1z"/>
<path fill="#18c080" d="M228 323l-5-15 5 19 0-5z"/>
<path fill="#20c880" d="M233 305l5 10-5 15 0-11zM288 294l5 16-5 1 0-5zM303 292l5 4-5 22 0-14zM338 305l5-17-5 9 0 1z"/>
<path fill="#20e090" d="M233 330l-5-3 5-22 0 14zM288 311l-5-4 5-13 0 12zM303 318l-5-7 5-19 0 12zM388 289l-5-1 5-14 0 12zM393 295l-5-21 5 4 0 6z"/>
<path fill="#18a068" d="M238 329l5-7-5-7 0 3zM293 298l5 18-5-6 0-6zM343 298l5 2-5-12 0 10zM393 278l5 12-5 5 0-11z"/>
<path fill="#18b878" d="M238 315l-5-10 5 24 0-11zM343 288l-5 17 5-7 0 0z"/>
<path fill="#1888b0" d="M243 328l5-5-5-1 0 4zM478 273l5 3-5-1 0 0zM648 235l5 19-5-5 0-3zM693 234l5-2-5 2 0-2zM713 222l5 15-5-7 0 0zM758 216l5 12-5-6 0-2z"/>
<path fill="#18a0c8" d="M243 322l-5 7 5-1 0-2zM693 234l-5-7 5 7 0-2z"/>
<path fill="#1878b0" d="M248 326l5 5-5-8 0 4zM483 278l5 3-5-5 0 1zM503 266l5 12-5 0 0-5zM623 242l5 12-5-4 0-1zM698 235l5 6-5-9 0 4z"/>
<path fill="#1888d0" d="M248 323l-5 5 5-2 0 1zM483 276l-5-3 5 5 0-1z"/>
<path fill="#20d0b8" d="M253 307l5 14-5 10 0-10zM318 294l5 13-5 3 0-5z"/>
<path fill="#20e8c8" d="M253 331l-5-5 5-19 0 14z"/>
<path fill="#20c870" d="M258 298l5 10-5 13 0-13z"/>
<path fill="#20e080" d="M258 321l-5-14 5-9 0 10z"/>
<path fill="#18a058" d="M263 306l5 5-5-3 0-2z"/>
<path fill="#18b868" d="M263 308l-5-10 5 8 0 0z"/>
<path fill="#18a898" d="M268 320l5 5-5-14 0 5zM313 309l5 1-5-7 0 2zM403 296l5 1-5-14 0 7z"/>
<path fill="#18c8b0" d="M268 311l-5-5 5 14 0-4zM313 303l-5-6 5 12 0-4zM403 283l-5 0 5 13 0-6z"/>
<path fill="#20d0a8" d="M273 318l5-12-5 19 0-8zM363 284l5 6-5 5 0-5zM378 293l5-8-5 11 0-3zM528 251l5 17-5 7 0-11zM558 249l5 11-5 12 0-15z"/>
<path fill="#20e8c0" d="M273 325l-5-5 5-2 0-1zM508 278l-5-12 5-6 0 6zM528 275l-5-14 5-10 0 13zM558 272l-5-26 5 3 0 8z"/>
<path fill="#18a888" d="M278 316l5 2-5-12 0 8zM298 311l5 7-5-2 0-5zM368 288l5 10-5-8 0 0zM398 283l5 0-5 7 0-6zM533 261l5 14-5-7 0-4zM553 246l5 26-5-14 0-1z"/>
<path fill="#18c0a0" d="M278 306l-5 12 5-2 0-2zM298 316l-5-18 5 13 0 0zM533 268l-5-17 5 10 0 3zM553 258l-5-5 5-7 0 11z"/>
<path fill="#20c0d8" d="M283 307l5 4-5 7 0-5zM488 264l5 10-5 7 0-7zM548 253l5 5-5 2 0 0z"/>
<path fill="#20d0f0" d="M283 318l-5-2 5-9 0 6zM598 260l-5-16 5 6 0 2z"/>
<path fill="#18c078" d="M293 310l-5-16 5 4 0 6z"/>
<path fill="#18a060" d="M308 297l5 6-5-7 0 1z"/>
<path fill="#18b870" d="M308 296l-5-4 5 5 0 0z"/>
<path fill="#20e8d0" d="M318 310l-5-1 5-15 0 11z"/>
<path fill="#18c098" d="M328 313l-5-22 5 18 0-3zM368 290l-5-6 5 4 0 2z"/>
<path fill="#20d0c0" d="M333 301l5-4-5 15 0-7zM628 233l5 22-5-1 0-8z"/>
<path fill="#20e8d8" d="M333 312l-5-3 5-8 0 4zM628 254l-5-12 5-9 0 13z"/>
<path fill="#20e088" d="M338 297l-5 4 5 4 0-7z"/>
<path fill="#1890b0" d="M348 296l5 12-5-8 0 0zM453 281l5 8-5-3 0-4zM578 263l5-10-5 7 0-2zM598 250l5 3-5 7 0-8zM613 251l5-1-5-3 0 3zM728 228l5 2-5 7 0-9z"/>
<path fill="#18a8c8" d="M348 300l-5-2 5-2 0 4zM453 286l-5-13 5 8 0 1zM613 247l-5 3 5 1 0-1zM728 237l-5-18 5 9 0 0z"/>
<path fill="#1880b0" d="M353 301l5 8-5-1 0-4zM603 245l5 18-5-10 0 0zM653 244l5 7-5 3 0-8zM718 234l5 5-5-2 0-4z"/>
<path fill="#1898d0" d="M353 308l-5-12 5 5 0 3zM603 253l-5-3 5-5 0 8zM653 254l-5-19 5 9 0 2zM718 237l-5-15 5 12 0-1z"/>
<path fill="#20c0d0" d="M358 293l5 2-5 14 0-9z"/>
<path fill="#20d8e8" d="M358 309l-5-8 5-8 0 7zM493 274l-5-10 5 2 0 2z"/>
<path fill="#20e8b8" d="M363 295l-5-2 5-9 0 6zM378 296l-5 3 5-6 0 0zM398 290l-5-12 5 5 0 1z"/>
<path fill="#18a0a8" d="M373 299l5-3-5 2 0-3zM418 293l5-3-5-4 0 1zM438 288l5 5-5-14 0 7zM468 277l5 9-5-13 0 3zM493 266l5 3-5 5 0-6zM568 263l5 1-5-7 0 1zM588 257l5 9-5-17 0 5z"/>
<path fill="#18b8c0" d="M373 298l-5-10 5 11 0-4zM438 279l-5 4 5 5 0-2zM468 273l-5-3 5 7 0-1zM568 257l-5-9 5 15 0-5zM588 249l-5-3 5 11 0-3z"/>
<path fill="#20e8b0" d="M383 285l-5 8 5-5 0 1z"/>
<path fill="#2090e0" d="M408 289l5 1-5 7 0-4zM458 278l5 2-5 9 0-7zM708 231l5-1-5 4 0-2z"/>
<path fill="#20a0f8" d="M408 297l-5-1 5-7 0 4zM458 289l-5-8 5-3 0 4zM623 250l-5-1 5-7 0 7zM643 244l-5 4 5-4 0 2zM708 234l-5-3 5 0 0 1z"/>
<path fill="#20c8d0" d="M413 278l5 8-5 4 0-4zM433 283l5-4-5 15 0-8zM463 270l5 3-5 7 0-5zM583 246l5 3-5 4 0 0z"/>
<path fill="#20e0e8" d="M413 290l-5-1 5-11 0 8zM433 294l-5-6 5-5 0 3zM463 280l-5-2 5-8 0 5zM563 260l-5-11 5-1 0 6zM583 253l-5 10 5-17 0 7z"/>
<path fill="#18c0c0" d="M418 286l-5-8 5 15 0-6zM543 264l-5-12 5 15 0-6z"/>
<path fill="#1068b0" d="M423 285l5 10-5-5 0 1zM678 236l5 11-5-8 0 1z"/>
<path fill="#1058b0" d="M428 288l5 6-5 1 0-5z"/>
<path fill="#1068c8" d="M428 295l-5-10 5 3 0 2z"/>
<path fill="#0030a8" d="M438 288l5 0 5 4-5 1 0-3zM653 244l5 2 5 2-5 3 0-4z"/>
<path fill="#0040e8" d="M438 288l5 5 0-3zM653 244l5 7 0-4z"/>
<path fill="#20b8d8" d="M448 273l5 13-5 6 0-7zM593 244l5 16-5 6 0-9z"/>
<path fill="#20c8f0" d="M448 292l-5-4 5-15 0 12zM578 260l-5-4 5 7 0-5zM593 266l-5-9 5-13 0 13zM608 263l-5-18 5 5 0 1z"/>
<path fill="#20a8d8" d="M473 275l5 0-5 11 0-8zM753 214l5 8-5 5 0-5z"/>
<path fill="#20b8f0" d="M473 286l-5-9 5-2 0 3zM648 249l-5-5 5-9 0 11zM713 230l-5 1 5-9 0 8zM753 227l-5 0 5-13 0 8z"/>
<path fill="#20c0f0" d="M478 275l-5 0 5-2 0 2zM688 239l-5-6 5-6 0 6zM723 239l-5-5 5-15 0 13z"/>
<path fill="#20d8f0" d="M488 281l-5-3 5-14 0 10zM548 260l-5 7 5-14 0 7zM668 248l-5-15 5-5 0 12zM673 249l-5-21 5 8 0 2z"/>
<path fill="#1898a8" d="M498 270l5 8-5-9 0 2zM668 228l5 21-5-1 0-8zM673 236l5 3-5 10 0-11z"/>
<path fill="#18b0c8" d="M498 269l-5-3 5 4 0 1z"/>
<path fill="#20a8f8" d="M503 278l-5-8 5-4 0 7z"/>
<path fill="#20d0b0" d="M508 260l5 0-5 18 0-12z"/>
<path fill="#20d0c8" d="M538 252l5 12-5 11 0-12z"/>
<path fill="#20e8e0" d="M538 275l-5-14 5-9 0 11z"/>
<path fill="#18a8a0" d="M543 267l5-7-5 4 0-3zM633 251l5 5-5-1 0-6z"/>
<path fill="#20d0d0" d="M563 248l5 9-5 3 0-6z"/>
<path fill="#1078d8" d="M573 256l5 4-5 4 0-3z"/>
<path fill="#1880f0" d="M573 264l-5-1 5-7 0 5zM683 247l-5-11 5-3 0 6z"/>
<path fill="#20b0d8" d="M608 250l5-3-5 16 0-12zM688 227l5 7-5 5 0-6zM723 219l5 18-5 2 0-7z"/>
<path fill="#1870b0" d="M618 249l5 1-5 0 0 0zM643 244l5 5-5-5 0 2zM748 227l5 0-5-3 0 2z"/>
<path fill="#2098f8" d="M618 250l-5 1 5-2 0 1zM638 256l-5-5 5-3 0 2zM743 233l-5-5 5-3 0 3z"/>
<path fill="#18c8b8" d="M633 255l-5-22 5 18 0-2z"/>
<path fill="#1888e0" d="M638 248l5-4-5 12 0-6zM743 225l5-1-5 9 0-5z"/>
<path fill="#20a0e0" d="M663 233l5 15-5 0 0-4z"/>
<path fill="#20b0f8" d="M663 248l-5-2 5-13 0 11z"/>
<path fill="#1878d0" d="M678 239l-5-3 5 0 0 4z"/>
<path fill="#1070d8" d="M683 233l5 6-5 8 0-8zM703 231l5 3-5 7 0-6z"/>
<path fill="#1890d0" d="M698 232l-5 2 5 1 0 1z"/>
<path fill="#1078f0" d="M703 241l-5-6 5-4 0 4z"/>
<path fill="#0850b0" d="M733 227l5 7-5-4 0 0z"/>
<path fill="#1060c8" d="M733 230l-5-2 5-1 0 3z"/>
<path fill="#0038a8" d="M738 228l5 5-5 1 0-4z"/>
<path fill="#0850e8" d="M738 234l-5-7 5 1 0 2z"/>
<path fill="#1880d0" d="M748 224l-5 1 5 2 0-1zM763 228l-5-12 5 4 0 4z"/>
<path fill="#18a0d0" d="M758 222l-5-8 5 2 0 4z"/>
<path fill="#0850d8" d="M768 221l5 4-5 5 0-6z"/>
<path fill="#0858e8" d="M768 230l-5-10 5 1 0 3z"/>
<path fill="#1878d8" d="M773 214l5 11-5 0 0-4z"/>
<path fill="#1888f8" d="M773 225l-5-4 5-7 0 7z"/>
<path fill="#20c890" d="M203 340l5-17-5 20 0-7zM218 318l5 9-5-5 0 4zM318 310l5-10-5 19 0-11z"/>
<path fill="#20e098" d="M203 343l-5-7 5 4 0-4z"/>
<path fill="#18a070" d="M208 319l5 25-5-21 0 9z"/>
<path fill="#18c080" d="M208 323l-5 17 5-21 0 13z"/>
<path fill="#18a078" d="M213 339l5-17-5 22 0-13zM268 311l5 12-5 4 0-10zM273 325l5-14-5 12 0-5zM293 310l5 3-5-5 0 2z"/>
<path fill="#20e0a0" d="M213 344l-5-25 5 20 0-8zM218 322l-5 17 5-21 0 8zM318 319l-5-16 5 7 0-2z"/>
<path fill="#18a880" d="M223 331l5 5-5-9 0 1zM283 318l5-8-5 15 0-10z"/>
<path fill="#18c090" d="M223 327l-5-9 5 13 0-3zM273 323l-5-12 5 14 0-7zM293 308l-5 3 5-1 0 0z"/>
<path fill="#20d0c8" d="M228 323l5 1-5 12 0-8z"/>
<path fill="#20e8d8" d="M228 336l-5-5 5-8 0 5zM338 314l-5-2 5-15 0 12z"/>
<path fill="#18a898" d="M233 330l5-6-5 0 0 1zM408 297l5-4-5 10 0-9z"/>
<path fill="#18c8b8" d="M233 324l-5-1 5 7 0-5z"/>
<path fill="#20d0a8" d="M238 315l5 19-5-10 0 2zM243 322l5 0-5 12 0-11zM383 285l5 24-5-6 0-5z"/>
<path fill="#20e8b8" d="M238 324l-5 6 5-15 0 11zM243 334l-5-19 5 7 0 1zM383 303l-5-7 5-11 0 13z"/>
<path fill="#18a8a0" d="M248 323l5 6-5-7 0 2z"/>
<path fill="#18c0c0" d="M248 322l-5 0 5 1 0 1zM298 313l-5-3 5 6 0-3zM303 312l-5 4 5 2 0-2zM503 272l-5-3 5 9 0-4z"/>
<path fill="#1878b0" d="M253 331l5 0-5-2 0-1zM463 280l5 13-5-7 0 1zM698 232l5 18-5-4 0-6zM703 241l5 10-5-1 0-6z"/>
<path fill="#1890d0" d="M253 329l-5-6 5 8 0-3zM698 246l-5-12 5-2 0 8z"/>
<path fill="#20d0d0" d="M258 321l5-2-5 12 0-5z"/>
<path fill="#20e8e0" d="M258 331l-5 0 5-10 0 5zM508 277l-5 1 5 0 0-3z"/>
<path fill="#20d098" d="M263 308l5 19-5-8 0 0zM278 306l5 19-5-14 0 6zM288 311l5-3-5 2 0 2z"/>
<path fill="#20e0a8" d="M263 319l-5 2 5-13 0 11zM268 327l-5-19 5 3 0 6zM278 311l-5 14 5-19 0 11zM288 310l-5 8 5-7 0 1z"/>
<path fill="#20e0b0" d="M283 325l-5-19 5 12 0-3z"/>
<path fill="#18a8a8" d="M298 316l5-4-5 1 0 0z"/>
<path fill="#18a0a8" d="M303 318l5 2-5-8 0 4zM443 293l5-8-5 9 0-6zM473 286l5 8-5-7 0-2zM503 278l5-1-5-5 0 2zM593 266l5 5-5-2 0-5z"/>
<path fill="#20c880" d="M308 296l5 9-5 15 0-10zM323 307l5-10-5 3 0 4zM343 288l5 19-5 7 0-12z"/>
<path fill="#20e090" d="M308 320l-5-2 5-22 0 14zM323 300l-5 10 5-3 0-3z"/>
<path fill="#18a068" d="M313 303l5 16-5-14 0 1zM328 313l5 4-5-20 0 11zM348 300l5 12-5-5 0-5z"/>
<path fill="#18b878" d="M313 305l-5-9 5 7 0 3zM348 307l-5-19 5 12 0 2z"/>
<path fill="#18c078" d="M328 297l-5 10 5 6 0-5z"/>
<path fill="#1058b0" d="M333 312l5 2-5 3 0-3zM768 230l5-3-5 4 0-2zM773 225l5 3-5-1 0 1z"/>
<path fill="#1880f0" d="M333 317l-5-4 5-1 0 2zM578 276l-5-12 5-4 0 8z"/>
<path fill="#20d0c0" d="M338 297l5 17-5 0 0-5zM403 283l5 20-5 0 0-8z"/>
<path fill="#20e088" d="M343 314l-5-17 5-9 0 14z"/>
<path fill="#1890b0" d="M353 308l5 8-5-4 0-3zM398 290l5 13-5-7 0 0zM413 290l5 16-5-13 0 3zM423 290l5 12-5 0 0-7zM448 292l5 9-5-16 0 8zM483 276l5 5-5-2 0-1zM488 281l5-4-5 4 0-2zM493 274l5 14-5-11 0 3zM548 260l5 19-5-6 0-4zM558 272l5 7-5-1 0-6zM618 250l5 15-5 1 0-9z"/>
<path fill="#18a0c8" d="M353 312l-5-12 5 8 0 1zM458 285l-5 1 5 3 0-3z"/>
<path fill="#0840a8" d="M358 309l5 5-5 2 0-4zM653 254l5-1-5 2 0-2zM658 251l5 3-5-1 0 0z"/>
<path fill="#0860f0" d="M358 316l-5-8 5 1 0 3zM778 228l-5-3 5 0 0 1z"/>
<path fill="#20c0d8" d="M363 295l5 14-5 5 0-7z"/>
<path fill="#20d0f0" d="M363 314l-5-5 5-14 0 12zM433 298l-5-3 5-1 0 0zM553 279l-5-19 5-2 0 11z"/>
<path fill="#20d0b0" d="M368 290l5 10-5 9 0-11zM513 260l5 11-5-3 0 1z"/>
<path fill="#20e8c8" d="M368 309l-5-14 5-5 0 8z"/>
<path fill="#18a890" d="M373 298l5 7-5-5 0-2z"/>
<path fill="#18c0a8" d="M373 300l-5-10 5 8 0 0z"/>
<path fill="#1880b0" d="M378 296l5 7-5 2 0-5z"/>
<path fill="#20b8f8" d="M378 305l-5-7 5-2 0 4z"/>
<path fill="#18a888" d="M388 289l5 21-5-1 0-11zM518 276l5-5-5 0 0-1z"/>
<path fill="#18c0a0" d="M388 309l-5-24 5 4 0 9zM518 271l-5-11 5 16 0-6z"/>
<path fill="#20c8d0" d="M393 295l5 1-5 14 0-12zM438 279l5 15-5-7 0 1zM468 273l5 14-5 6 0-10zM498 269l5 3-5 16 0-12zM588 249l5 20-5 1 0-10z"/>
<path fill="#20e0e8" d="M393 310l-5-21 5 6 0 3zM438 287l-5 7 5-15 0 9zM468 293l-5-13 5-7 0 10zM498 288l-5-14 5-5 0 7zM588 270l-5-17 5-4 0 11z"/>
<path fill="#18a8c8" d="M398 296l-5-1 5-5 0 6zM413 293l-5 4 5-7 0 6zM423 302l-5-16 5 4 0 5zM448 285l-5 8 5-1 0 1zM483 279l-5-4 5 1 0 2zM488 281l-5-5 5 5 0-2zM493 277l-5 4 5-7 0 6zM548 273l-5-9 5-4 0 9zM558 278l-5-20 5 14 0 0zM618 266l-5-19 5 3 0 7z"/>
<path fill="#20e8d0" d="M403 303l-5-13 5-7 0 12z"/>
<path fill="#18c8b0" d="M408 303l-5-20 5 14 0-3z"/>
<path fill="#20b0d8" d="M418 286l5 16-5 4 0-10zM478 275l5 4-5 15 0-10zM583 253l5 17-5 4 0-10zM613 247l5 19-5 1 0-6z"/>
<path fill="#20c8f0" d="M418 306l-5-16 5-4 0 10zM583 274l-5-14 5-7 0 11z"/>
<path fill="#1068b0" d="M428 295l5 3-5 4 0-6zM608 263l5 4-5 4 0-7zM628 254l5 4-5 5 0-7zM683 247l5-1-5 3 0-4zM758 222l5 15-5-6 0-2zM763 228l5 3-5 6 0-7z"/>
<path fill="#1890f8" d="M428 302l-5-12 5 5 0 1zM603 266l-5-6 5-7 0 9zM673 257l-5-9 5 1 0 1zM763 237l-5-15 5 6 0 2z"/>
<path fill="#20b8d8" d="M433 294l5-7-5 11 0-4z"/>
<path fill="#18b8c0" d="M443 294l-5-15 5 14 0-5zM473 287l-5-14 5 13 0-1z"/>
<path fill="#20a8d8" d="M453 286l5-1-5 16 0-10z"/>
<path fill="#20b8f0" d="M453 301l-5-9 5-6 0 5zM568 273l-5-13 5-3 0 9z"/>
<path fill="#1888b0" d="M458 289l5-3-5-1 0 1zM523 270l5 6-5-5 0 2zM568 257l5 18-5-2 0-7zM573 264l5 12-5-1 0-7z"/>
<path fill="#20a8f8" d="M463 286l-5 3 5-9 0 7z"/>
<path fill="#20c0f0" d="M478 294l-5-8 5-11 0 9zM523 271l-5 5 5-6 0 3zM613 267l-5-4 5-16 0 14z"/>
<path fill="#20d8c8" d="M508 278l5-10-5 9 0-2z"/>
<path fill="#20e8c0" d="M513 268l-5 10 5-18 0 9z"/>
<path fill="#1060b0" d="M528 275l5 8-5-7 0 0zM538 275l5 6-5 2 0-6z"/>
<path fill="#1070d0" d="M528 276l-5-6 5 5 0 1zM538 283l-5-15 5 7 0 2z"/>
<path fill="#1878d8" d="M533 268l5 15-5 0 0-6z"/>
<path fill="#1888f0" d="M533 283l-5-8 5-7 0 9z"/>
<path fill="#2090e0" d="M543 264l5 9-5 8 0-8zM693 234l5 12-5 5 0-9zM713 230l5 11-5 6 0-9z"/>
<path fill="#20a0f8" d="M543 281l-5-6 5-11 0 9zM693 251l-5-12 5-5 0 8zM713 247l-5-13 5-4 0 8z"/>
<path fill="#1898b0" d="M553 258l5 20-5 1 0-10z"/>
<path fill="#1888e0" d="M563 260l5 13-5 6 0-8zM643 244l5 17-5-7 0 0zM673 249l5-5-5 13 0-7zM678 239l5 10-5-5 0 1zM748 224l5 17-5 1 0-7zM753 227l5 4-5 10 0-10z"/>
<path fill="#2098f8" d="M563 279l-5-7 5-12 0 11zM623 265l-5-15 5 0 0 7zM643 254l-5 2 5-12 0 10zM648 261l-5-17 5 5 0 3zM678 244l-5 5 5-10 0 6zM748 242l-5-9 5-9 0 11zM753 241l-5-17 5 3 0 4z"/>
<path fill="#1898d0" d="M573 275l-5-18 5 7 0 4z"/>
<path fill="#1070d8" d="M578 260l5 14-5 2 0-8z"/>
<path fill="#18b8c8" d="M593 269l-5-20 5 17 0-2z"/>
<path fill="#0848d0" d="M598 260l5 6-5 5 0-5zM728 237l5 1-5 3 0-2z"/>
<path fill="#0850e8" d="M598 271l-5-5 5-6 0 6zM728 241l-5-2 5-2 0 2z"/>
<path fill="#1868b0" d="M603 253l5 18-5-5 0-4zM623 250l5 13-5 2 0-8z"/>
<path fill="#1878d0" d="M608 271l-5-18 5 10 0 1zM683 249l-5-10 5 8 0-2zM758 231l-5-4 5-5 0 7z"/>
<path fill="#1888f8" d="M628 263l-5-13 5 4 0 2z"/>
<path fill="#0850b0" d="M633 255l5 0-5 3 0-2zM638 256l5-2-5 1 0 0zM738 234l5 5-5 0 0-3z"/>
<path fill="#1070f0" d="M633 258l-5-4 5 1 0 1zM638 255l-5 0 5 1 0-1zM688 246l-5 1 5-8 0 7zM733 238l-5-1 5-7 0 6z"/>
<path fill="#1870b0" d="M648 249l5 6-5 6 0-9zM718 237l5 5-5-1 0-3z"/>
<path fill="#0850c8" d="M653 255l-5-6 5 5 0-1z"/>
<path fill="#0858e8" d="M658 253l-5 1 5-3 0 2z"/>
<path fill="#0030a8" d="M658 251l5-3 5 10-5-4 0-1zM663 248l5 0 5 9-5 1 0-5zM723 239l5 2-5 1 0-2z"/>
<path fill="#0038c0" d="M658 251l5 3 0-1zM723 242l-5-5 5 2 0 1z"/>
<path fill="#0040e8" d="M663 248l5 10 0-5z"/>
<path fill="#1050b0" d="M688 239l5 12-5-5 0 0z"/>
<path fill="#1888d0" d="M703 250l-5-18 5 9 0 3zM718 241l-5-11 5 7 0 1z"/>
<path fill="#1068d8" d="M708 234l5 13-5 4 0-8zM733 230l5 9-5-1 0-2z"/>
<path fill="#1078f0" d="M708 251l-5-10 5-7 0 9zM768 231l-5-3 5 2 0-1zM773 227l-5 3 5-5 0 3z"/>
<path fill="#1060c8" d="M738 239l-5-9 5 4 0 2z"/>
<path fill="#0028a0" d="M738 234l5-1 5 9-5-3 0-2z"/>
<path fill="#0030c0" d="M738 234l5 5 0-2z"/>
<path fill="#0848a8" d="M778 225l5 3-5 0 0-2z"/>
<path fill="#18a880" d="M203 343l5-12-5 14 0-7zM233 324l5 20-5-17 0 6z"/>
<path fill="#20e0b0" d="M203 345l-5-14 5 12 0-5z"/>
<path fill="#20c888" d="M208 323l5 13-5-5 0 2z"/>
<path fill="#20e098" d="M208 331l-5 12 5-20 0 10z"/>
<path fill="#18a070" d="M213 344l5 1-5-9 0 1zM223 327l5 21-5-7 0-7z"/>
<path fill="#18c080" d="M213 336l-5-13 5 21 0-7z"/>
<path fill="#20c890" d="M218 322l5 19-5 4 0-7zM323 300l5 23-5 2 0-8z"/>
<path fill="#20e0a0" d="M218 345l-5-1 5-22 0 16zM323 325l-5-6 5-19 0 17z"/>
<path fill="#18c088" d="M223 341l-5-19 5 5 0 7z"/>
<path fill="#20d0a0" d="M228 336l5-9-5 21 0-14zM288 310l5 10-5 10 0-9z"/>
<path fill="#20e8b8" d="M228 348l-5-21 5 9 0-2z"/>
<path fill="#18c098" d="M233 327l-5 9 5-12 0 9z"/>
<path fill="#20d0c8" d="M238 324l5 15-5 5 0-11z"/>
<path fill="#20e8d8" d="M238 344l-5-20 5 0 0 9z"/>
<path fill="#18a8a0" d="M243 334l5 5-5 0 0-5zM268 327l5 8-5-7 0-1zM518 271l5 14-5-3 0-6z"/>
<path fill="#18c0c0" d="M243 339l-5-15 5 10 0 0zM253 336l-5-14 5 7 0 3zM268 328l-5-9 5 8 0 0zM303 323l-5-10 5-1 0 7zM308 328l-5-16 5 8 0 2z"/>
<path fill="#20d0d0" d="M248 322l5 14-5 3 0-6zM263 319l5 9-5 12 0-10z"/>
<path fill="#20e0e8" d="M248 339l-5-5 5-12 0 11zM503 285l-5 3 5-16 0 13z"/>
<path fill="#18a0a8" d="M253 329l5 13-5-6 0-4zM303 312l5 16-5-5 0-4zM308 320l5 9-5-1 0-6zM508 277l5 18-5 0 0-10z"/>
<path fill="#1868b0" d="M258 331l5 9-5 2 0-6zM613 267l5 3-5-7 0 5z"/>
<path fill="#1880d0" d="M258 342l-5-13 5 2 0 5zM388 311l-5-8 5 6 0 0zM613 263l-5 8 5-4 0 1zM683 252l-5-8 5 5 0 2z"/>
<path fill="#20e8e0" d="M263 340l-5-9 5-12 0 11zM513 295l-5-18 5-9 0 12z"/>
<path fill="#20b0d8" d="M273 323l5 3-5 9 0-7zM348 307l5 11-5-1 0-3zM398 296l5 13-5-4 0 0zM483 279l5 7-5 8 0-6zM493 277l5 18-5 3 0-10z"/>
<path fill="#20c8f0" d="M273 335l-5-8 5-4 0 5zM413 310l-5-7 5-10 0 9zM448 304l-5-10 5-9 0 12zM493 298l-5-17 5-4 0 11z"/>
<path fill="#20d098" d="M278 311l5 10-5 5 0-6zM293 308l5 6-5 6 0-7z"/>
<path fill="#20e0a8" d="M278 326l-5-3 5-12 0 9zM293 320l-5-10 5-2 0 5z"/>
<path fill="#18a078" d="M283 325l5 5-5-9 0 1zM298 313l5 10-5-9 0 0z"/>
<path fill="#18c090" d="M283 321l-5-10 5 14 0-3zM298 314l-5-6 5 5 0 1z"/>
<path fill="#20e8b0" d="M288 330l-5-5 5-15 0 11z"/>
<path fill="#20d0a8" d="M313 305l5 18-5 6 0-10z"/>
<path fill="#20e8c0" d="M313 329l-5-9 5-15 0 14z"/>
<path fill="#18a888" d="M318 319l5 6-5-2 0-5z"/>
<path fill="#18c0a0" d="M318 323l-5-18 5 14 0-1z"/>
<path fill="#20c880" d="M328 297l5 19-5 7 0-14z"/>
<path fill="#20e090" d="M328 323l-5-23 5-3 0 12z"/>
<path fill="#18a068" d="M333 317l5-5-5 4 0-6z"/>
<path fill="#18c078" d="M333 316l-5-19 5 20 0-7z"/>
<path fill="#1898a8" d="M338 314l5 3-5-5 0 3zM378 305l5 9-5-3 0-3zM438 287l5 18-5-10 0 1z"/>
<path fill="#18b0c8" d="M338 312l-5 5 5-3 0 1zM378 311l-5-11 5 5 0 3zM438 295l-5 3 5-11 0 9zM443 305l-5-18 5 7 0 4z"/>
<path fill="#1870b0" d="M343 314l5 3-5 0 0-1zM388 309l5 3-5-1 0-2zM683 249l5 10-5-7 0-1z"/>
<path fill="#20a0f8" d="M343 317l-5-3 5 0 0 2zM393 312l-5-3 5 1 0-1z"/>
<path fill="#20c0f0" d="M348 317l-5-3 5-7 0 7zM398 305l-5 5 5-14 0 9zM483 294l-5 0 5-15 0 9z"/>
<path fill="#20d0b8" d="M353 312l5-9-5 15 0-8z"/>
<path fill="#20e8c8" d="M353 318l-5-11 5 5 0-2z"/>
<path fill="#18a890" d="M358 316l5-7-5-6 0 7z"/>
<path fill="#18c0a8" d="M358 303l-5 9 5 4 0-6z"/>
<path fill="#1890b0" d="M363 314l5 8-5-13 0 6zM418 306l5-2-5-2 0-1zM443 294l5 10-5 1 0-7zM453 301l5 4-5-1 0-5zM488 281l5 17-5-12 0 0zM498 288l5-3-5 10 0-9z"/>
<path fill="#18a8c8" d="M363 309l-5 7 5-2 0 1zM418 302l-5-9 5 13 0-5zM453 304l-5-19 5 16 0-2zM488 286l-5-7 5 2 0 5zM498 295l-5-18 5 11 0-2z"/>
<path fill="#1078d8" d="M368 309l5 4-5 9 0-8z"/>
<path fill="#1880f0" d="M368 322l-5-8 5-5 0 5z"/>
<path fill="#20c0d8" d="M373 300l5 11-5 2 0-5zM523 271l5 9-5 5 0-8z"/>
<path fill="#20d0f0" d="M373 313l-5-4 5-9 0 8zM523 285l-5-14 5 0 0 6z"/>
<path fill="#1888e0" d="M383 303l5 8-5 3 0-6zM608 271l5-8-5 11 0-6zM618 266l5-5-5 9 0-4zM678 244l5 8-5 10 0-8z"/>
<path fill="#2098f8" d="M383 314l-5-9 5-2 0 5z"/>
<path fill="#2090e0" d="M393 310l5-5-5 7 0-3z"/>
<path fill="#1888b0" d="M403 303l5 9-5-3 0-4zM463 286l5 17-5 1 0-10zM528 276l5 6-5-2 0-3z"/>
<path fill="#18a0c8" d="M403 309l-5-13 5 7 0 2zM528 280l-5-9 5 5 0 1z"/>
<path fill="#0848a8" d="M408 303l5 7-5 2 0-5zM658 253l5 12-5-7 0 0zM783 228l5 6-5 4 0-6z"/>
<path fill="#1068f0" d="M408 312l-5-9 5 0 0 4zM633 264l-5-1 5-5 0 4zM758 245l-5-4 5-10 0 7z"/>
<path fill="#20b8d8" d="M413 293l5 9-5 8 0-8zM448 285l5 19-5 0 0-7z"/>
<path fill="#1880e0" d="M423 302l5-2-5 4 0-1z"/>
<path fill="#1890f8" d="M423 304l-5 2 5-4 0 1zM608 274l-5-8 5 5 0-3zM618 270l-5-3 5-1 0 0zM678 262l-5-5 5-13 0 10z"/>
<path fill="#1068b0" d="M428 302l5 0-5-2 0 2zM623 265l5 4-5-8 0 4z"/>
<path fill="#1878d0" d="M428 300l-5 2 5 0 0 0zM623 261l-5 5 5-1 0 0z"/>
<path fill="#20a8d8" d="M433 298l5-3-5 7 0-3zM458 285l5 19-5 1 0-6z"/>
<path fill="#20b8f0" d="M433 302l-5 0 5-4 0 1zM458 305l-5-4 5-16 0 14zM463 304l-5-19 5 1 0 8z"/>
<path fill="#1878b0" d="M468 293l5 1-5 9 0-9z"/>
<path fill="#20a8f8" d="M468 303l-5-17 5 7 0 1z"/>
<path fill="#1878d8" d="M473 287l5 6-5 1 0-2zM718 241l5 1-5 10 0-6z"/>
<path fill="#1888f0" d="M473 294l-5-1 5-6 0 5zM718 252l-5-5 5-6 0 5z"/>
<path fill="#1060b0" d="M478 294l5 0-5-1 0-1zM533 283l5 5-5-6 0 0zM553 279l5-4-5 5 0-3zM558 278l5 6-5-9 0 4zM723 242l5 8-5-8 0 2z"/>
<path fill="#1070d0" d="M478 293l-5-6 5 7 0-2zM553 280l-5-7 5 6 0-2zM558 275l-5 4 5-1 0 1zM723 242l-5-1 5 1 0 2z"/>
<path fill="#20c8d0" d="M503 272l5 23-5-10 0 0z"/>
<path fill="#18b8c0" d="M508 295l-5-23 5 5 0 8z"/>
<path fill="#20d8c8" d="M513 268l5 14-5 13 0-15z"/>
<path fill="#18c8b8" d="M518 282l-5-14 5 3 0 5z"/>
<path fill="#1070c8" d="M533 282l-5-6 5 7 0-1z"/>
<path fill="#001098" d="M533 283l5 0 5 5-5 0 0-2zM538 283l5-2 5 6-5 1 0-3zM748 242l5-1 5 4-5 0 0-2z"/>
<path fill="#0018d0" d="M533 283l5 5 0-2zM538 283l5 5 0-3zM748 242l5 3 0-2z"/>
<path fill="#1060d8" d="M548 273l5 7-5 7 0-7zM758 231l5 6-5 8 0-7z"/>
<path fill="#1070f0" d="M548 287l-5-6 5-8 0 7zM593 274l-5-4 5-1 0 1zM638 262l-5-4 5-3 0 4zM703 254l-5-8 5 4 0-1z"/>
<path fill="#0020a0" d="M558 278l5 1 5 1-5 4 0-4zM743 239l5 3 5 3-5-1 0-2z"/>
<path fill="#0030e0" d="M558 278l5 6 0-4z"/>
<path fill="#0048d0" d="M568 273l5 4-5 3 0-3z"/>
<path fill="#0048e8" d="M568 280l-5-1 5-6 0 4z"/>
<path fill="#0038a8" d="M573 275l5 3-5-1 0-1zM673 257l5 5-5-6 0 2z"/>
<path fill="#0040c8" d="M573 277l-5-4 5 2 0 1z"/>
<path fill="#0030a8" d="M573 275l5 1 5 0-5 2 0-2zM728 241l5 6-5 3 0-5zM738 239l5 0 5 5-5 4 0-6z"/>
<path fill="#0040e8" d="M573 275l5 3 0-2zM728 250l-5-8 5-1 0 4zM738 239l5 9 0-6z"/>
<path fill="#0028a8" d="M578 276l5-2 5 5-5-3 0 0z"/>
<path fill="#0030c0" d="M578 276l5 0 0 0z"/>
<path fill="#0030d0" d="M583 274l5-4 5 4-5 5 0-5z"/>
<path fill="#0038e0" d="M583 274l5 5 0-5z"/>
<path fill="#1068d8" d="M593 269l5 0-5 5 0-4zM773 227l5 11-5 5 0-8z"/>
<path fill="#0850b0" d="M598 271l5-1-5-1 0 1zM638 255l5 7-5 0 0-3zM643 254l5 10-5-2 0-3zM648 261l5 5-5-2 0-3zM703 250l5-3-5 7 0-5zM708 251l5 4-5-8 0 4zM763 237l5 5-5-5 0 0z"/>
<path fill="#1060c8" d="M598 269l-5 0 5 2 0-1zM643 262l-5-7 5-1 0 5zM698 248l-5 3 5-5 0 4z"/>
<path fill="#0840a8" d="M603 266l5 8-5-4 0 0zM663 254l5 11-5 0 0-6zM733 238l5 10-5-1 0-3z"/>
<path fill="#0858f0" d="M603 270l-5 1 5-5 0 4zM628 269l-5-4 5-2 0 2z"/>
<path fill="#0850d8" d="M628 263l5 1-5 5 0-4zM653 255l5 3-5 8 0-6zM768 231l5 12-5-1 0-4z"/>
<path fill="#0858d8" d="M633 258l5 4-5 2 0-2zM688 246l5 7-5 6 0-7z"/>
<path fill="#1058c8" d="M648 264l-5-10 5 7 0 0zM763 237l-5-6 5 6 0 0z"/>
<path fill="#0860f0" d="M653 266l-5-5 5-6 0 5zM688 259l-5-10 5-3 0 6zM783 238l-5-10 5 0 0 4z"/>
<path fill="#0850c8" d="M658 258l-5-3 5-2 0 5z"/>
<path fill="#0848c8" d="M663 265l-5-12 5 1 0 5zM738 248l-5-10 5 1 0 4z"/>
<path fill="#0848d0" d="M668 258l5-2-5 9 0-7z"/>
<path fill="#0850e8" d="M668 265l-5-11 5 4 0 0zM733 247l-5-6 5-3 0 6z"/>
<path fill="#0840c8" d="M673 256l-5 2 5-1 0 1z"/>
<path fill="#1058b0" d="M693 251l5-3-5 5 0-3zM698 246l5 8-5-6 0 2zM778 228l5 10-5 0 0-5z"/>
<path fill="#1068c8" d="M693 253l-5-7 5 5 0-1zM778 238l-5-11 5 1 0 5z"/>
<path fill="#0858c8" d="M708 247l-5 3 5 1 0 0z"/>
<path fill="#0018c0" d="M708 251l5-4 5 5-5 3 0-4z"/>
<path fill="#0020d8" d="M708 251l5 4 0-4z"/>
<path fill="#0838a8" d="M738 239l5 9-5 0 0-5z"/>
<path fill="#0028b8" d="M743 239l5 5 0-2z"/>
<path fill="#0858e8" d="M768 242l-5-5 5-6 0 7z"/>
<path fill="#1078f0" d="M773 243l-5-12 5-4 0 8z"/>
<path fill="#20d0a0" d="M208 331l4 11-5 15 1-13z"/>
<path fill="#20e8b0" d="M207 357l-4-12 5-14 0 13z"/>
<path fill="#18a080" d="M213 336l4 6-5 0 0-4z"/>
<path fill="#18c090" d="M212 342l-4-11 5 5-1 2z"/>
<path fill="#18a0a8" d="M218 345l4-3-5 0 1-1zM248 339l4-1-5-3 1 3zM288 330l4 1-5 9 1-10z"/>
<path fill="#18c0c0" d="M217 342l-4-6 5 9 0-4zM332 317l-4 6 5-7-1 4z"/>
<path fill="#1898a8" d="M223 341l4 12-5-11 0 3zM343 317l4 11-5-9 0 0z"/>
<path fill="#18b0c8" d="M222 342l-4 3 5-4-1 4z"/>
<path fill="#1868b0" d="M228 348l4-3-5 8 1-6zM628 269l4 5-5-6 1 0z"/>
<path fill="#2098f8" d="M227 353l-4-12 5 7 0-1zM347 328l-4-11 5 0 0 5zM427 317l-4-13 5-4 0 6zM517 293l-4 2 5-13 0 8zM527 289l-4-4 5-5 0 7zM612 277l-4-3 5-11-1 9zM622 276l-4-6 5-9-1 8z"/>
<path fill="#20d0a8" d="M233 327l4 11-5 7 0-5z"/>
<path fill="#20e8b8" d="M232 345l-4 3 5-21-1 13z"/>
<path fill="#18a880" d="M238 344l4-1-5-5 1 0z"/>
<path fill="#18c098" d="M237 338l-4-11 5 17 0-6zM297 325l-4-5 5-6 0 9z"/>
<path fill="#20c8d0" d="M243 339l4-4-5 8 0-3zM283 321l4 19-5 2 0-10zM293 320l4 5-5 6 0-5zM328 323l4-6-5 19 1-11z"/>
<path fill="#20e0e8" d="M242 343l-4 1 5-5-1 1zM282 342l-4-16 5-5-1 11zM287 340l-4-19 5 9 0 0zM292 331l-4-1 5-10-1 6zM327 336l-4-11 5-2 0 2z"/>
<path fill="#18b8c0" d="M247 335l-4 4 5 0 0-1z"/>
<path fill="#1888b0" d="M253 336l4 2-5 0 0 0zM373 313l4 12-5-11 0 4zM443 305l4 7-5-6 0-2z"/>
<path fill="#20b8f0" d="M252 338l-4 1 5-3-1 2zM387 313l-4 1 5-3 0 1z"/>
<path fill="#1878b0" d="M258 342l4 2-5-6 1 2zM403 309l4 6-5-5 0 0z"/>
<path fill="#1890d0" d="M257 338l-4-2 5 6 0-2zM492 305l-4-19 5 12-1-2z"/>
<path fill="#0840a8" d="M263 340l4 5-5-1 0-1zM513 295l4-2-5 1 0 0zM608 274l4 3-5 5 1-6zM633 264l4 13-5-3 0-3zM648 264l4 5-5-2 1-1z"/>
<path fill="#0858e8" d="M262 344l-4-2 5-2-1 3zM512 294l-4 1 5 0-1-1z"/>
<path fill="#20b0d8" d="M268 328l4 9-5 8 1-7zM278 326l4 16-5 0 1-6zM318 323l4 0-5 11 1-7z"/>
<path fill="#20c0f0" d="M267 345l-4-5 5-12 0 10zM277 342l-4-7 5-9 0 10zM437 308l-4-6 5-7 0 8z"/>
<path fill="#1890b0" d="M273 335l4 7-5-5 0-1zM323 325l4 11-5-13 0 4zM368 322l4-8-5 2 1-1z"/>
<path fill="#18a0c8" d="M272 337l-4-9 5 7-1 1zM322 323l-4 0 5 2-1 2z"/>
<path fill="#18a888" d="M298 314l4 19-5-8 1-2zM303 323l4 13-5-3 0-7z"/>
<path fill="#18c0a0" d="M302 333l-4-19 5 9-1 3z"/>
<path fill="#1880b0" d="M308 328l4 3-5 5 1-6zM393 312l4 3-5-5 0 2zM488 286l4 19-5-8 1-1zM493 298l4-5-5 12 0-9z"/>
<path fill="#20b0f8" d="M307 336l-4-13 5 5 0 2zM487 297l-4-3 5-8 0 10z"/>
<path fill="#1058b0" d="M313 329l4 5-5-3 0-1zM703 254l4 7-5-3 0-3z"/>
<path fill="#1068c8" d="M312 331l-4-3 5 1-1 1zM497 293l-4 5 5-3 0 1z"/>
<path fill="#20c8f0" d="M317 334l-4-5 5-6 0 4z"/>
<path fill="#18a8a8" d="M333 316l4 9-5-8 0 3z"/>
<path fill="#20c0d0" d="M338 312l4 7-5 6 1-7z"/>
<path fill="#20d8e8" d="M337 325l-4-9 5-4 0 6z"/>
<path fill="#18b8c8" d="M342 319l-4-7 5 5-1 2z"/>
<path fill="#1870b0" d="M348 317l4 10-5 1 1-6zM433 302l4 6-5-3 0-1zM523 285l4 4-5 0 0-3zM528 280l4 14-5-5 1-2zM533 282l4 11-5 1 0-7zM543 288l4 1-5-7 0 5zM618 270l4 6-5-4 1-2z"/>
<path fill="#1068b0" d="M353 318l4 8-5 1 0-5zM418 302l4 13-5-6 1 0zM423 304l4 13-5-2 0-5zM508 295l4-1-5 6 1-6z"/>
<path fill="#1888f8" d="M352 327l-4-10 5 1-1 4zM377 325l-4-12 5-2 0 7zM457 313l-4-9 5 1 0 0zM557 282l-4-2 5-5 0 5z"/>
<path fill="#20d0b8" d="M358 303l4 9-5 14 1-11z"/>
<path fill="#20e8c8" d="M357 326l-4-8 5-15 0 12z"/>
<path fill="#18a890" d="M363 309l4 7-5-4 0-2z"/>
<path fill="#18c0a8" d="M362 312l-4-9 5 6-1 1z"/>
<path fill="#18a8c8" d="M367 316l-4-7 5 13 0-7z"/>
<path fill="#1898d0" d="M372 314l-4 8 5-9-1 5zM392 310l-4 1 5 1-1 0z"/>
<path fill="#1060b0" d="M378 311l4 12-5 2 1-7zM463 304l4 5-5-10 0 5zM498 295l4 4-5-6 1 3zM563 284l4-3-5 0 0-1zM728 250l4 7-5 1 1-6z"/>
<path fill="#2098e0" d="M383 314l4-1-5 10 0-8zM398 305l4 5-5 5 1-5z"/>
<path fill="#20a8f8" d="M382 323l-4-12 5 3-1 1zM397 315l-4-3 5-7 0 5z"/>
<path fill="#20a8d8" d="M388 311l4-1-5 3 1-1zM438 295l4 11-5 2 1-5z"/>
<path fill="#1888d0" d="M402 310l-4-5 5 4-1 1zM542 282l-4 6 5 0-1-1z"/>
<path fill="#0848a8" d="M408 312l4 7-5-4 1-1zM663 265l4 0-5-2 0 0zM768 242l4 4-5 3 1-5z"/>
<path fill="#0850c8" d="M407 315l-4-6 5 3 0 2zM662 263l-4-5 5 7-1-2zM767 249l-4-12 5 5 0 2z"/>
<path fill="#1070d8" d="M413 310l4-1-5 10 0-7z"/>
<path fill="#1880f0" d="M412 319l-4-7 5-2-1 2z"/>
<path fill="#1890f8" d="M417 309l-4 1 5-8 0 7zM502 299l-4-4 5-10-1 10z"/>
<path fill="#1878d0" d="M422 315l-4-13 5 2-1 6zM507 300l-4-15 5 10 0-1z"/>
<path fill="#1888e0" d="M428 300l4 5-5 12 1-11zM518 282l4 7-5 4 1-3zM613 263l4 9-5 5 0-5zM623 261l4 7-5 8 0-7z"/>
<path fill="#1880d0" d="M432 305l-4-5 5 2-1 2zM522 289l-4-7 5 3-1 1zM532 294l-4-14 5 2-1 5zM617 272l-4-9 5 7 0 0zM627 268l-4-7 5 8 0-1z"/>
<path fill="#18a0d0" d="M442 306l-4-11 5 10-1-1z"/>
<path fill="#0038d0" d="M443 305l5-1 4 4-5 4 1-5zM718 252l4 1-5 7 1-5zM733 247l5 1 4 2-5 5 1-5z"/>
<path fill="#0040e8" d="M443 305l4 7 1-5zM652 269l-4-5 5 2-1 0zM717 260l-4-5 5-3 0 3zM733 247l4 8 1-5z"/>
<path fill="#0030a8" d="M448 304l5 0 4 9-5-5 0-1zM588 279l4 0-5 6 1-5zM593 274l4 6-5-1 0-1zM653 266l4 1-5 2 0-3zM738 248l5 0 4 2-5 0 0-1z"/>
<path fill="#0038c0" d="M448 304l4 4 0-1z"/>
<path fill="#1878d8" d="M458 305l4-6-5 14 1-8zM558 275l4 6-5 1 1-2zM723 242l4 16-5-5 0-2z"/>
<path fill="#1870d0" d="M462 299l-4 6 5-1-1 0z"/>
<path fill="#0030c8" d="M463 304l5-1 4 2-5 4 1-4zM773 243l5-5 4 7-5 3 1-4z"/>
<path fill="#0038e0" d="M463 304l4 5 1-4zM663 265l4 0 1 0z"/>
<path fill="#1060d8" d="M473 294l4 9-5 2 0-4zM578 278l4 0-5 10 1-8zM683 252l4 16-5 1 0-6zM708 247l4 13-5 1 1-5z"/>
<path fill="#1068f0" d="M472 305l-4-2 5-9-1 7zM642 274l-4-12 5 0-1 4zM682 269l-4-7 5-10-1 11zM707 261l-4-7 5-7 0 9z"/>
<path fill="#0850b0" d="M478 293l4 15-5-5 1-3zM568 280l4 9-5-8 1 3zM583 276l4 9-5-7 0 1zM603 270l4 12-5-4 0-3zM688 259l4 5-5 4 1-7zM713 255l4 5-5 0 0-4z"/>
<path fill="#1058c8" d="M477 303l-4-9 5-1 0 7zM582 278l-4 0 5-2-1 3z"/>
<path fill="#1068d8" d="M483 294l4 3-5 11 0-10zM553 280l4 2-5 3 0-1zM598 269l4 9-5 2 1-5zM698 248l4 10-5 5 1-7z"/>
<path fill="#1070f0" d="M482 308l-4-15 5 1-1 4zM577 288l-4-11 5 1 0 2zM597 280l-4-6 5-5 0 6z"/>
<path fill="#1880e0" d="M503 285l4 15-5-1 0-4z"/>
<path fill="#2090e0" d="M538 288l4-6-5 11 1-7z"/>
<path fill="#20a0f8" d="M537 293l-4-11 5 6 0-2z"/>
<path fill="#0858d8" d="M548 287l4-2-5 4 1-2zM638 262l4 12-5 3 1-8zM643 262l4 5-5 7 0-8zM658 258l4 5-5 4 1-3zM763 237l4 12-5 1 0-5z"/>
<path fill="#0860f0" d="M547 289l-4-1 5-1 0 0zM637 277l-4-13 5-2 0 7zM657 267l-4-1 5-8 0 6zM762 250l-4-5 5-8-1 8z"/>
<path fill="#1078f0" d="M552 285l-4 2 5-7-1 4zM697 263l-4-10 5-5 0 8z"/>
<path fill="#1070d0" d="M562 281l-4-6 5 9-1-4zM727 258l-4-16 5 8 0 2z"/>
<path fill="#1060c8" d="M567 281l-4 3 5-4 0 4zM602 278l-4-9 5 1-1 5zM702 258l-4-10 5 6-1 1z"/>
<path fill="#0040d0" d="M573 277l4 11-5 1 0-5zM693 253l4 10-5 1 0-4zM788 234l4 8-5 3 1-5z"/>
<path fill="#0048e8" d="M572 289l-4-9 5-3-1 7zM587 285l-4-9 5 3 0 1zM592 279l-4 0 5-5-1 4zM692 264l-4-5 5-6-1 7zM787 245l-4-7 5-4 0 6z"/>
<path fill="#0848c8" d="M607 282l-4-12 5 4 0 2zM647 267l-4-5 5 2 0 2z"/>
<path fill="#0858f0" d="M632 274l-4-5 5-5-1 7z"/>
<path fill="#0028a0" d="M663 265l5 0 4 0-5 0 1 0zM778 238l5 0 4 7-5 0 0-3z"/>
<path fill="#0038a8" d="M673 256l4 18-5-9 0 0zM678 262l4 7-5 5 1-9zM758 245l4 5-5-5 1 1z"/>
<path fill="#0040c8" d="M672 265l-4 0 5-9-1 9zM677 274l-4-18 5 6 0 3zM757 245l-4 0 5 0 0 1z"/>
<path fill="#0858c8" d="M687 268l-4-16 5 7 0 2zM712 260l-4-13 5 8-1 1z"/>
<path fill="#1888f0" d="M722 253l-4-1 5-10-1 9z"/>
<path fill="#0028c8" d="M728 250l5-3 4 8-5 2 0-5z"/>
<path fill="#0030e0" d="M728 250l4 7 0-5zM743 248l4 2 1-2zM773 243l4 5 1-4zM778 238l4 7 0-3z"/>
<path fill="#0030c0" d="M738 248l4 2 0-1z"/>
<path fill="#0020a0" d="M743 248l5-4 4 8-5-2 1-2z"/>
<path fill="#0848d0" d="M753 245l4 0-5 7 0-6z"/>
<path fill="#0850e8" d="M752 252l-4-8 5 1-1 1z"/>
<path fill="#001098" d="M768 242l5 1 4 5-5-2 0-1z"/>
<path fill="#0018b0" d="M768 242l4 4 0-1z"/>
<path fill="#20b0d8" d="M207 357l5-6-5 14 0-10zM267 345l5-6-5 7 0-2zM322 323l5 11-5 5 0-7zM342 319l5 11-5 8 0-10z"/>
<path fill="#20c0f0" d="M207 365l-5-17 5 9 0-2zM322 339l-5-5 5-11 0 9zM342 338l-5-13 5-6 0 9zM372 327l-5-11 5-2 0 8z"/>
<path fill="#20c8d0" d="M212 342l5 12-5-3 0 0zM247 335l5 11-5-3 0-1zM332 317l5 15-5 9 0-9zM362 312l5 20-5 2 0-8z"/>
<path fill="#20d8e8" d="M212 351l-5 6 5-15 0 9zM242 359l-5-21 5 5 0 3zM297 347l-5-16 5-6 0 13zM362 334l-5-8 5-14 0 14z"/>
<path fill="#18a0a8" d="M217 342l5 10-5 2 0-6zM222 342l5 17-5-7 0-3zM252 338l5 12-5-4 0-4zM337 325l5 13-5-6 0-4zM367 316l5 11-5 5 0-10z"/>
<path fill="#20e0e8" d="M217 354l-5-12 5 0 0 6zM247 343l-5 0 5-8 0 7zM332 341l-5-5 5-19 0 15zM367 332l-5-20 5 4 0 6z"/>
<path fill="#18b8c0" d="M222 352l-5-10 5 0 0 7zM252 346l-5-11 5 3 0 4z"/>
<path fill="#1898b0" d="M227 353l5-3-5 9 0-8z"/>
<path fill="#18b0c8" d="M227 359l-5-17 5 11 0-2z"/>
<path fill="#1870b0" d="M232 345l5 14-5-9 0 2zM317 334l5 5-5-6 0 1zM407 315l5 6-5 6 0-9z"/>
<path fill="#1888d0" d="M232 350l-5 3 5-8 0 7zM402 318l-5-3 5-5 0 8zM547 293l-5-11 5 7 0 0z"/>
<path fill="#20c0d8" d="M237 338l5 21-5 0 0-9zM242 343l5 0-5 16 0-13z"/>
<path fill="#20d0f0" d="M237 359l-5-14 5-7 0 12z"/>
<path fill="#20a8d8" d="M257 338l5 6-5 6 0-8zM392 310l5 10-5 3 0-7z"/>
<path fill="#20b8f0" d="M257 350l-5-12 5 0 0 4zM392 323l-5-10 5-3 0 6z"/>
<path fill="#1878b0" d="M262 344l5 2-5-2 0-1zM402 310l5 17-5-9 0 0zM547 289l5 3-5 1 0-4z"/>
<path fill="#1890d0" d="M262 344l-5-6 5 6 0-1z"/>
<path fill="#20c8f0" d="M267 346l-5-2 5 1 0-1zM272 339l-5 6 5-8 0 4z"/>
<path fill="#1890b0" d="M272 337l5 7-5-5 0 2z"/>
<path fill="#1068b0" d="M277 342l5 3-5-1 0-2zM467 309l5 2-5-3 0-1z"/>
<path fill="#1878d0" d="M277 344l-5-7 5 5 0 0zM467 308l-5-9 5 10 0-2z"/>
<path fill="#0848a8" d="M282 342l5 3-5 0 0-1zM447 312l5 6-5-3 0-2zM667 265l5 6-5 5 0-7z"/>
<path fill="#0860f0" d="M282 345l-5-3 5 0 0 2zM662 277l-5-10 5-4 0 8zM667 276l-5-13 5 2 0 4z"/>
<path fill="#0840a8" d="M287 340l5 10-5-5 0-1zM512 294l5 10-5-3 0-1zM517 293l5 9-5 2 0-6zM607 282l5 5-5-6 0 1zM622 276l5 4-5 1 0-4z"/>
<path fill="#0848c8" d="M287 345l-5-3 5-2 0 4zM607 281l-5-3 5 4 0 0zM622 281l-5-9 5 4 0 1z"/>
<path fill="#2098e0" d="M292 331l5 16-5 3 0-8z"/>
<path fill="#20a8f8" d="M292 350l-5-10 5-9 0 11z"/>
<path fill="#20c0d0" d="M297 325l5 22-5 0 0-9z"/>
<path fill="#1898a8" d="M302 333l5 9-5 5 0-10z"/>
<path fill="#18b8c8" d="M302 347l-5-22 5 8 0 4z"/>
<path fill="#1058b0" d="M307 336l5 4-5 2 0-4zM357 326l5 8-5-6 0 1zM412 319l5-3-5 5 0-3zM557 282l5 6-5 1 0-3zM562 281l5 10-5-3 0-2zM567 281l5 8-5 2 0-5zM632 274l5 2-5 6 0-7z"/>
<path fill="#1068c8" d="M307 342l-5-9 5 3 0 2zM357 328l-5-1 5-1 0 3zM562 288l-5-6 5-1 0 5zM632 282l-5-14 5 6 0 1z"/>
<path fill="#1888e0" d="M312 331l5 2-5 7 0-5zM432 305l5 11-5-2 0-1z"/>
<path fill="#2098f8" d="M312 340l-5-4 5-5 0 4z"/>
<path fill="#1880d0" d="M317 333l-5-2 5 3 0 0zM437 316l-5-11 5 3 0 4z"/>
<path fill="#1888b0" d="M327 336l5 5-5-7 0 0zM347 328l5 9-5-7 0-2zM372 314l5 15-5-2 0-5zM397 315l5 3-5 2 0-4z"/>
<path fill="#18a0c8" d="M327 334l-5-11 5 13 0-2zM347 330l-5-11 5 9 0 0z"/>
<path fill="#18c0c0" d="M337 332l-5-15 5 8 0 3z"/>
<path fill="#1070d8" d="M352 327l5 1-5 9 0-7zM627 268l5 14-5-2 0-4z"/>
<path fill="#1880f0" d="M352 337l-5-9 5-1 0 3zM417 316l-5 3 5-10 0 6zM497 307l-5-2 5-12 0 9z"/>
<path fill="#1880b0" d="M377 325l5 6-5-2 0-4z"/>
<path fill="#1898d0" d="M377 329l-5-15 5 11 0 0zM397 320l-5-10 5 5 0 1z"/>
<path fill="#0850d8" d="M382 323l5 2-5 6 0-5zM602 278l5 3-5 5 0-5zM617 272l5 9-5 5 0-7z"/>
<path fill="#0858e8" d="M382 331l-5-6 5-2 0 3zM512 301l-5-1 5-6 0 6zM517 304l-5-10 5-1 0 5zM602 286l-5-6 5-2 0 3z"/>
<path fill="#2090e0" d="M387 313l5 10-5 2 0-4zM542 282l5 11-5 7 0-8z"/>
<path fill="#20a0f8" d="M387 325l-5-2 5-10 0 8zM407 327l-5-17 5 5 0 3zM542 300l-5-7 5-11 0 10z"/>
<path fill="#1078f0" d="M412 321l-5-6 5 4 0-1zM527 306l-5-17 5 0 0 6zM557 289l-5-4 5-3 0 4zM567 291l-5-10 5 0 0 5zM627 280l-5-4 5-8 0 8z"/>
<path fill="#1078d8" d="M417 309l5 8-5-1 0-1zM497 293l5 8-5 6 0-5z"/>
<path fill="#1060b0" d="M422 315l5 5-5-3 0-2zM502 299l5 4-5-2 0-2z"/>
<path fill="#1070d0" d="M422 317l-5-8 5 6 0 0zM502 301l-5-8 5 6 0 0z"/>
<path fill="#1060d8" d="M427 317l5-3-5 6 0-4zM442 306l5 9-5 4 0-7zM487 297l5 12-5 2 0-5zM552 285l5 4-5 3 0-3zM582 278l5 15-5-5 0-1z"/>
<path fill="#1068f0" d="M427 320l-5-5 5 2 0-1zM442 319l-5-11 5-2 0 6zM582 288l-5 0 5-10 0 9z"/>
<path fill="#1890f8" d="M432 314l-5 3 5-12 0 8z"/>
<path fill="#1868b0" d="M437 308l5 11-5-3 0-4z"/>
<path fill="#0858c8" d="M447 315l-5-9 5 6 0 1zM532 297l-5-8 5 5 0 2z"/>
<path fill="#0028a8" d="M447 312l5-4 5 11-5-1 0-4zM452 308l5 5 5 3-5 3 0-5zM572 289l5-1 5 0-5 1 0-1zM667 265l5 0 5 7-5-1 0-3zM737 255l5-5 5 10-5-3 0-1zM742 250l5 0 5 9-5 1 0-5z"/>
<path fill="#0040e8" d="M447 312l5 6 0-4zM572 289l5 0 0-1zM652 269l5 7 0-4zM697 263l5 5 0-5zM717 260l5 5 0-5zM737 255l5 2 0-1zM742 250l5 10 0-5z"/>
<path fill="#0030c0" d="M452 308l5 11 0-5zM472 305l5 6 0-3zM477 303l5 10 0-4zM667 265l5 6 0-3z"/>
<path fill="#1878d8" d="M462 299l5 9-5 8 0-7z"/>
<path fill="#1888f8" d="M462 316l-5-3 5-14 0 10z"/>
<path fill="#0028a0" d="M467 309l5-4 5 6-5 0 0-2zM472 305l5-2 5 10-5-2 0-3zM477 303l5 5 5 3-5 2 0-4z"/>
<path fill="#0038e0" d="M467 309l5 2 0-2z"/>
<path fill="#1070f0" d="M487 311l-5-3 5-11 0 9zM552 292l-5-3 5-4 0 4z"/>
<path fill="#0850b0" d="M492 305l5 2-5 2 0-5zM532 294l5 9-5-6 0-1zM572 289l5 0-5 0 0-2zM587 285l5 1-5 7 0-7z"/>
<path fill="#1058c8" d="M492 309l-5-12 5 8 0-1zM587 293l-5-15 5 7 0 1z"/>
<path fill="#0038a8" d="M507 300l5 1-5 2 0-2zM762 250l5 2-5 1 0-3z"/>
<path fill="#0048e8" d="M507 303l-5-4 5 1 0 1zM592 286l-5-1 5-6 0 5z"/>
<path fill="#1050b0" d="M522 289l5 17-5-4 0-4z"/>
<path fill="#1060c8" d="M522 302l-5-9 5-4 0 9zM572 289l-5-8 5 8 0-2z"/>
<path fill="#1068d8" d="M527 289l5 8-5 9 0-11z"/>
<path fill="#001898" d="M532 294l5-1 5 7-5 3 0-5zM707 261l5-1 5 4-5 0 0-2z"/>
<path fill="#0020d8" d="M532 294l5 9 0-5zM707 261l5 3 0-2z"/>
<path fill="#0040d0" d="M592 279l5 7-5 0 0-2z"/>
<path fill="#0030a8" d="M597 280l5 6-5 0 0-3zM637 277l5 5-5-6 0 1zM652 269l5-2 5 10-5-1 0-4zM707 261l5 3-5-1 0-1zM722 253l5 5 5 7-5-2 0-3z"/>
<path fill="#0038c0" d="M597 286l-5-7 5 1 0 3zM637 276l-5-2 5 3 0 0zM707 263l-5-5 5 3 0 1zM722 253l5 10 0-3z"/>
<path fill="#0028c8" d="M607 282l5-5 5 9-5 1 0-4zM732 257l5-2 5 2-5 5 0-4z"/>
<path fill="#0028d8" d="M607 282l5 5 0-4z"/>
<path fill="#0858f0" d="M617 286l-5-9 5-5 0 7z"/>
<path fill="#000890" d="M637 277l5-3 5 12-5-4 0-2zM712 260l5 0 5 5-5-1 0-2zM777 248l5-3 5 9-5-1 0-3z"/>
<path fill="#0008a0" d="M637 277l5 5 0-2z"/>
<path fill="#0848d0" d="M647 267l5 14-5 5 0-9zM757 245l5 8-5 2 0-4z"/>
<path fill="#0850e8" d="M647 286l-5-12 5-7 0 10zM652 281l-5-14 5 2 0 4zM757 255l-5-3 5-7 0 6z"/>
<path fill="#0838a8" d="M652 269l5 7-5 5 0-8z"/>
<path fill="#0858d8" d="M662 263l5 13-5 1 0-6z"/>
<path fill="#0020a0" d="M672 265l5 9 5 5-5-7 0 0zM747 250l5 2 5 3-5 4 0-5zM762 250l5-1 5 8-5-5 0 0z"/>
<path fill="#0028b8" d="M672 265l5 7 0 0z"/>
<path fill="#000098" d="M677 274l5-5 5 5-5 5 0-5z"/>
<path fill="#0000a8" d="M677 274l5 5 0-5z"/>
<path fill="#0010b8" d="M682 269l5-1 5 1-5 5 0-4zM692 264l5-1 5 5-5 8 0-8z"/>
<path fill="#0010d0" d="M682 269l5 5 0-4zM777 248l5 5 0-3z"/>
<path fill="#001098" d="M687 268l5-4 5 12-5-7 0 0zM772 246l5 2 5 5-5-2 0-1z"/>
<path fill="#0010b0" d="M687 268l5 1 0 0zM712 260l5 4 0-2z"/>
<path fill="#0010c8" d="M692 264l5 12 0-8z"/>
<path fill="#0038d0" d="M697 263l5-5 5 5-5 5 0-5zM717 260l5-7 5 10-5 2 0-5z"/>
<path fill="#0008b0" d="M727 258l5-1 5 5-5 3 0-5z"/>
<path fill="#0008c0" d="M727 258l5 7 0-5z"/>
<path fill="#0028e0" d="M732 257l5 5 0-4z"/>
<path fill="#0030e0" d="M747 250l5 9 0-5z"/>
<path fill="#0840c8" d="M762 253l-5-8 5 5 0 0z"/>
<path fill="#0020b8" d="M762 250l5 2 0 0zM787 245l5 4 0-2z"/>
<path fill="#0018c0" d="M767 249l5-3 5 5-5 6 0-6zM782 245l5 0 5 4-5 5 0-6z"/>
<path fill="#0018d0" d="M767 249l5 8 0-6zM782 245l5 9 0-6z"/>
<path fill="#0018b0" d="M772 246l5 5 0-1z"/>
<path fill="#0018a0" d="M787 245l5-3 5 10-5-3 0-2z"/>
<path fill="#20b0d8" d="M212 351l5 21-5-9 0 0z"/>
<path fill="#20c0f0" d="M212 363l-5 2 5-14 0 12zM217 372l-5-21 5 3 0 7zM272 353l-5-7 5-7 0 10z"/>
<path fill="#1888b0" d="M217 354l5 12-5 6 0-11zM277 344l5 10-5 4 0-9z"/>
<path fill="#1878b0" d="M222 352l5 19-5-5 0-5zM267 346l5 7-5 6 0-9z"/>
<path fill="#1888d0" d="M222 366l-5-12 5-2 0 9zM227 371l-5-19 5 7 0 4zM237 361l-5-11 5 9 0-2zM257 362l-5-16 5 4 0 6z"/>
<path fill="#1870b0" d="M227 359l5 10-5 2 0-8zM237 359l5 0-5 2 0-4zM257 350l5 14-5-2 0-6zM317 333l5 17-5-6 0-2zM322 339l5 6-5 5 0-8z"/>
<path fill="#1890e0" d="M232 350l5 11-5 8 0-9z"/>
<path fill="#20a0f8" d="M232 369l-5-10 5-9 0 10zM262 364l-5-14 5-6 0 10zM267 359l-5-15 5 2 0 4z"/>
<path fill="#0840a8" d="M242 359l5 2-5-2 0 1zM427 320l5 6-5 5 0-7zM472 311l5 6-5 4 0-7zM607 281l5 11-5-2 0-3z"/>
<path fill="#0850c8" d="M242 359l-5 0 5 0 0 1zM382 331l-5-2 5 2 0 1zM507 308l-5-7 5 2 0 2z"/>
<path fill="#20b8d8" d="M247 343l5 16-5 2 0-5z"/>
<path fill="#20d0f0" d="M247 361l-5-2 5-16 0 13z"/>
<path fill="#1898b0" d="M252 346l5 16-5-3 0-7z"/>
<path fill="#18b0c8" d="M252 359l-5-16 5 3 0 6z"/>
<path fill="#2090e0" d="M262 344l5 15-5 5 0-10z"/>
<path fill="#1890b0" d="M272 339l5 19-5-5 0-4z"/>
<path fill="#18a0c8" d="M277 358l-5-19 5 5 0 5z"/>
<path fill="#1058b0" d="M282 345l5 14-5-5 0-4zM327 334l5 12-5-1 0-4zM332 341l5 3-5 2 0-5zM342 338l5 3-5 3 0-5zM362 334l5 8-5-8 0 0zM402 318l5 17-5-1 0-7zM407 327l5 8-5 0 0-6zM417 316l5 17-5-5 0-4zM422 317l5 14-5 2 0-9z"/>
<path fill="#1068c8" d="M282 354l-5-10 5 1 0 5zM332 346l-5-12 5 7 0 0zM342 344l-5-12 5 6 0 1zM362 334l-5-6 5 6 0 0zM407 335l-5-17 5 9 0 2z"/>
<path fill="#0858d8" d="M287 345l5 9-5 5 0-8zM377 329l5 2-5 7 0-7zM502 301l5 7-5 8 0-8z"/>
<path fill="#0860f0" d="M287 359l-5-14 5 0 0 6zM392 337l-5-12 5-2 0 8zM427 331l-5-14 5 3 0 4zM472 321l-5-13 5 3 0 3zM502 316l-5-9 5-6 0 7z"/>
<path fill="#0838a8" d="M292 350l5 3-5 1 0-4zM547 293l5 14-5-6 0-1zM612 287l5 4-5 1 0-4z"/>
<path fill="#0848c8" d="M292 354l-5-9 5 5 0 0zM612 292l-5-11 5 6 0 1z"/>
<path fill="#0018a0" d="M292 350l5-3 5 10-5-4 0-1zM297 347l5 0 5 5-5 5 0-6zM492 309l5-2 5 9-5-1 0-3zM767 252l5 5 5 5-5 0 0-4z"/>
<path fill="#0020b8" d="M292 350l5 3 0-1zM452 318l5 3 0-1zM522 302l5 7 0-3zM742 257l5 9 0-4zM767 252l5 10 0-4z"/>
<path fill="#0028d8" d="M297 347l5 10 0-6zM492 309l5 6 0-3zM667 276l5 11 0-7zM672 271l5 15 0-9zM737 262l5 11 0-9z"/>
<path fill="#0040d0" d="M307 342l5 9-5 1 0-4zM412 321l5 7-5 7 0-7zM487 311l5-1-5 10 0-6zM537 303l5 0-5 11 0-10zM572 289l5 7-5 6 0-8zM637 276l5 11-5 0 0-4z"/>
<path fill="#0048e8" d="M307 352l-5-5 5-5 0 6zM412 335l-5-8 5-6 0 7zM487 320l-5-7 5-2 0 3zM517 313l-5-12 5 3 0 2zM537 314l-5-17 5 6 0 1zM572 302l-5-11 5-2 0 5zM577 296l-5-7 5 0 0 3z"/>
<path fill="#0850d8" d="M312 340l5 4-5 7 0-7zM467 308l5 13-5-2 0-3z"/>
<path fill="#0858f0" d="M312 351l-5-9 5-2 0 4zM467 319l-5-3 5-8 0 8z"/>
<path fill="#2098f8" d="M317 344l-5-4 5-7 0 9zM322 350l-5-17 5 6 0 3z"/>
<path fill="#1078f0" d="M327 345l-5-6 5-5 0 7zM337 344l-5-3 5-9 0 8zM417 328l-5-7 5-5 0 8zM422 333l-5-17 5 1 0 7z"/>
<path fill="#1070d8" d="M337 332l5 12-5 0 0-4zM357 328l5 6-5 6 0-5z"/>
<path fill="#1068d8" d="M347 330l5 8-5 3 0-4zM397 320l5 14-5 4 0-9z"/>
<path fill="#1070f0" d="M347 341l-5-3 5-8 0 7zM367 342l-5-8 5-2 0 3zM397 338l-5-15 5-3 0 9z"/>
<path fill="#1050b0" d="M352 337l5 3-5-2 0-2z"/>
<path fill="#1060c8" d="M352 338l-5-8 5 7 0-1zM372 332l-5 0 5-5 0 5z"/>
<path fill="#1880f0" d="M357 340l-5-3 5-9 0 7zM402 334l-5-14 5-2 0 9z"/>
<path fill="#1060d8" d="M367 332l5 0-5 10 0-7zM557 289l5 9-5 3 0-6z"/>
<path fill="#0850b0" d="M372 327l5 11-5-6 0 0zM432 314l5 14-5-2 0-4zM437 316l5 12-5 0 0-6zM562 288l5 14-5-4 0-4z"/>
<path fill="#1068f0" d="M377 338l-5-11 5 2 0 2zM432 326l-5-6 5-6 0 8zM557 301l-5-9 5-3 0 6z"/>
<path fill="#0848a8" d="M382 331l5 7-5-7 0 1zM392 323l5 15-5-1 0-6zM507 303l5 4-5 1 0-3zM567 291l5 11-5 0 0-6z"/>
<path fill="#0850d0" d="M387 325l5 12-5 1 0-5z"/>
<path fill="#0858e8" d="M387 338l-5-7 5-6 0 8zM607 290l-5-4 5-5 0 6z"/>
<path fill="#0858c8" d="M437 328l-5-14 5 2 0 6zM567 302l-5-14 5 3 0 5z"/>
<path fill="#0030a8" d="M442 319l5 7-5 2 0-6zM452 318l5 3-5-2 0-1zM532 297l5 17-5-6 0-2zM577 289l5 7-5 0 0-4zM597 286l5 0 5 4-5-1 0-1zM642 282l5 4-5 1 0-4z"/>
<path fill="#0038c0" d="M442 328l-5-12 5 3 0 3zM452 319l-5-4 5 3 0 0zM597 286l5 3 0-1zM642 287l-5-11 5 6 0 1z"/>
<path fill="#0038d0" d="M447 315l5 4-5 7 0-6zM592 286l5 0 5 3-5 6 0-6z"/>
<path fill="#0040e8" d="M447 326l-5-7 5-4 0 5zM532 308l-5-2 5-9 0 9zM592 286l5 9 0-6zM637 287l-5-5 5-6 0 7z"/>
<path fill="#001898" d="M452 318l5 1 5 3-5-1 0-1zM477 311l5 2 5 7-5-2 0-2zM522 302l5 4 5 2-5 1 0-3z"/>
<path fill="#0018c0" d="M457 319l5-3 5 3-5 3 0-3zM752 259l5-4 5 5-5 3 0-4zM772 257l5-6 5 9-5 2 0-4z"/>
<path fill="#0018d0" d="M457 319l5 3 0-3zM647 286l5-3 0 1zM652 281l5 4 0-4zM712 264l5 9 0-5zM717 264l5 7 0-4zM772 257l5 5 0-4zM787 254l5 5 0-4zM792 249l5 9 0-5z"/>
<path fill="#0020a0" d="M472 311l5 0 5 7-5-1 0-3zM627 280l5 2 5 5-5-1 0-2zM742 257l5 3 5 6-5 0 0-4zM757 255l5-2 5 8-5-1 0-3zM762 253l5-1 5 10-5-1 0-4z"/>
<path fill="#0028b8" d="M472 311l5 6 0-3zM627 280l5 6 0-2zM762 253l5 8 0-4z"/>
<path fill="#0018b0" d="M477 311l5 7 0-2zM722 265l5 2 0-1z"/>
<path fill="#0038a8" d="M492 309l5 6-5-5 0 1zM512 301l5 12-5-6 0-1zM517 304l5 2-5 7 0-7z"/>
<path fill="#0040c8" d="M492 310l-5 1 5-2 0 2zM512 307l-5-4 5-2 0 5z"/>
<path fill="#0028a0" d="M517 304l5-2 5 7-5-3 0-1zM582 288l5 5 5 6-5 1 0-5zM707 263l5 1 5 9-5 2 0-6z"/>
<path fill="#0030c0" d="M517 304l5 2 0-1zM577 289l5 7 0-3zM582 288l5 12 0-5zM617 286l5 0 0 0z"/>
<path fill="#0030c8" d="M537 303l5-3 5 1-5 2 0-1zM587 293l5-7 5 9-5 4 0-6zM702 268l5-5 5 12-5 5 0-8z"/>
<path fill="#0030e0" d="M537 303l5 0 0-1zM702 268l5 12 0-8zM707 263l5 12 0-6zM757 255l5 5 0-3z"/>
<path fill="#0850e8" d="M547 301l-5-1 5-7 0 7zM552 307l-5-14 5-1 0 6z"/>
<path fill="#0848d0" d="M552 292l5 9-5 6 0-9z"/>
<path fill="#1058c8" d="M562 298l-5-9 5-1 0 6z"/>
<path fill="#0028a8" d="M577 289l5-1 5 12-5-4 0-3zM617 286l5-5 5 11-5-6 0 0z"/>
<path fill="#0038e0" d="M587 293l5 6 0-6z"/>
<path fill="#0030d0" d="M612 287l5-1 5 0-5 5 0-3z"/>
<path fill="#0038e8" d="M612 287l5 4 0-3z"/>
<path fill="#0028c8" d="M622 281l5-1 5 6-5 6 0-7zM672 271l5 1 5 6-5 8 0-9zM737 262l5-5 5 9-5 7 0-9z"/>
<path fill="#0028e0" d="M622 281l5 11 0-7z"/>
<path fill="#001098" d="M642 282l5 4 5-3-5 3 0-2zM647 286l5-5 5 4-5-2 0 1zM657 276l5 1 5 5-5 0 0-3zM677 272l5 7 5 1-5-2 0-1zM692 269l5 7 5 1-5 1 0-3zM712 264l5 0 5 7-5 2 0-5zM717 264l5 1 5 2-5 4 0-4zM722 265l5-2 5 6-5-2 0-1zM777 251l5 2 5 11-5-4 0-3zM792 249l5 3 5 1-5 5 0-5z"/>
<path fill="#0010b0" d="M642 282l5 4 0-2zM657 276l5 6 0-3zM677 272l5 6 0-1zM692 269l5 9 0-3zM777 251l5 9 0-3z"/>
<path fill="#0010b8" d="M652 281l5-5 5 6-5 3 0-4zM687 274l5-5 5 9-5 5 0-7zM747 260l5-1 5 4-5 3 0-4zM787 254l5-5 5 9-5 1 0-4z"/>
<path fill="#000888" d="M662 277l5-1 5 11-5-5 0-2zM727 263l5 2 5 9-5-5 0-1zM732 265l5-3 5 11-5 1 0-6zM782 253l5 1 5 5-5 5 0-6z"/>
<path fill="#0008a0" d="M662 277l5 5 0-2zM727 263l5 6 0-1z"/>
<path fill="#0020c0" d="M667 276l5-5 5 15-5 1 0-7z"/>
<path fill="#000078" d="M682 279l5-5 5 9-5-3 0-1z"/>
<path fill="#0000a8" d="M682 279l5 1 0-1z"/>
<path fill="#0010d0" d="M687 274l5 9 0-7z"/>
<path fill="#0008b0" d="M697 276l5-8 5 12-5-3 0-2z"/>
<path fill="#0008c0" d="M697 276l5 1 0-2z"/>
<path fill="#0008b8" d="M732 265l5 9 0-6zM782 253l5 11 0-6z"/>
<path fill="#0010c8" d="M747 260l5 6 0-4z"/>
<path fill="#0020d8" d="M752 259l5 4 0-4z"/>
<path fill="#0850b0" d="M217 372l5 1-5 4 0-6zM377 338l5 7-5-4 0-2z"/>
<path fill="#1060c8" d="M217 377l-5-14 5 9 0-1zM377 341l-5-9 5 6 0 1z"/>
<path fill="#0030d0" d="M217 372l5-6 5 8-5-1 0-2zM262 364l5-5 5 3-5 4 0-3z"/>
<path fill="#0038e0" d="M217 372l5 1 0-2zM262 364l5 2 0-3zM277 358l5 4 0-2z"/>
<path fill="#0028a0" d="M222 366l5 5 5-1-5 4 0-4zM227 371l5-2 5 6-5-5 0 1zM277 358l5-4 5 11-5-3 0-2zM282 354l5 5 5 2-5 4 0-5zM387 338l5-1 5 6-5-5 0 1zM517 313l5-7 5 12-5-3 0-2zM522 306l5 3 5 6-5 3 0-6zM622 286l5 6 5 4-5 2 0-5z"/>
<path fill="#0030c0" d="M222 366l5 8 0-4zM257 362l5 2 0 0zM387 338l5 0 0 1zM562 298l5 6 0-1zM602 289l5 9 0-4zM622 286l5 12 0-5z"/>
<path fill="#0028c0" d="M227 371l5-1 0 1zM282 354l5 11 0-5z"/>
<path fill="#0850d8" d="M237 361l5 8-5 6 0-7zM247 361l5 3-5 8 0-8zM317 344l5 7-5 4 0-5z"/>
<path fill="#0858e8" d="M237 375l-5-6 5-8 0 7z"/>
<path fill="#0840a8" d="M242 359l5 13-5-3 0-4zM272 353l5 11-5-2 0-2zM277 358l5 4-5 2 0-5zM322 350l5 0-5 1 0-2zM357 340l5 5-5 0 0-3z"/>
<path fill="#0850c8" d="M242 369l-5-8 5-2 0 6zM277 364l-5-11 5 5 0 1z"/>
<path fill="#0858f0" d="M247 372l-5-13 5 2 0 3zM272 362l-5-3 5-6 0 7zM317 355l-5-4 5-7 0 6z"/>
<path fill="#0838a8" d="M252 359l5 4-5 1 0-2z"/>
<path fill="#0850e8" d="M252 364l-5-3 5-2 0 3zM352 351l-5-10 5-3 0 6z"/>
<path fill="#0038a8" d="M257 362l5 2-5-1 0-1zM497 315l5 7-5-1 0-4z"/>
<path fill="#0840c8" d="M257 363l-5-4 5 3 0 0z"/>
<path fill="#0028a8" d="M257 362l5 2 5 2-5-2 0 0zM562 298l5 4 5 5-5-3 0-1zM617 291l5-5 5 12-5-2 0-3z"/>
<path fill="#0020c0" d="M287 359l5-5 5 8-5-1 0-2zM412 335l5-7 5 11-5 1 0-4zM437 328l5 0 5 0-5 6 0-4zM472 321l5-4 5 9-5 1 0-4zM537 314l5-11 5 11-5-1 0-2zM552 307l5-6 5 6-5 2 0-3zM627 292l5-6 5 9-5 1 0-4z"/>
<path fill="#0028d8" d="M287 359l5 2 0-2zM292 354l5 8 0-5zM332 346l5 7 0-5zM412 335l5 5 0-4zM417 328l5 11 0-5zM437 328l5 6 0-4zM552 307l5 2 0-3z"/>
<path fill="#0018a0" d="M292 354l5-1 5 7-5 2 0-5zM607 290l5 2 5 8-5-1 0-4z"/>
<path fill="#001898" d="M297 353l5 4 5 4-5-1 0-2zM307 352l5-1 5 4-5 3 0-4zM427 331l5-5 5 10-5-4 0-1zM432 326l5 2 5 6-5 2 0-5zM477 317l5 1 5 7-5 1 0-4zM482 318l5 2 5 0-5 5 0-4zM582 296l5 4 5 0-5 5 0-5zM587 300l5-1 5 0-5 1 0 0zM592 299l5-4 5 8-5-4 0 0zM632 286l5 1 5 7-5 1 0-5zM757 263l5-3 5 8-5 0 0-3zM762 260l5 1 5 6-5 1 0-4z"/>
<path fill="#0020b8" d="M297 353l5 7 0-2zM337 344l5 6 0-2zM457 321l5 4 0 1zM477 317l5 9 0-4zM577 296l5 6 0-2zM607 290l5 9 0-4zM632 286l5 9 0-5z"/>
<path fill="#0010b8" d="M302 357l5-5 5 6-5 3 0-4zM397 338l5-4 5 5-5 2 0-3zM612 292l5-1 5 5-5 4 0-5zM742 273l5-7 5 3-5 4 0-3zM752 266l5-3 5 5-5 2 0-3zM797 258l5-5 5 8-5 0 0-3z"/>
<path fill="#0010d0" d="M302 357l5 4 0-4zM797 258l5 3 0-3z"/>
<path fill="#0020d8" d="M307 352l5 6 0-4zM427 331l5 1 0-1zM472 321l5 6 0-4zM482 318l5 7 0-4zM537 314l5-1 0-2zM567 302l5 5 0-3zM582 296l5 9 0-5zM587 300l5 0 0 0zM592 299l5 0 0 0zM627 292l5 4 0-4zM757 263l5 5 0-3zM762 260l5 8 0-4z"/>
<path fill="#0848c8" d="M322 351l-5-7 5 6 0-1zM357 345l-5-7 5 2 0 2z"/>
<path fill="#0030a8" d="M327 345l5 12-5-7 0 0zM327 345l5 1 5 7-5 4 0-7zM447 326l5-7 5 17-5-9 0 0zM517 313l5 2-5-1 0-2zM602 289l5 1 5 9-5-1 0-4z"/>
<path fill="#0040c8" d="M327 350l-5 0 5-5 0 5zM497 321l-5-11 5 5 0 2z"/>
<path fill="#0040e8" d="M327 345l5 12 0-7zM457 336l-5-17 5 2 0 4zM502 316l5 6 0-6zM597 295l5 8 0-7z"/>
<path fill="#0028c8" d="M332 346l5-2 5 6-5 3 0-5zM572 302l5-6 5 6-5 1 0-2z"/>
<path fill="#0020a0" d="M337 344l5 0 5 9-5-3 0-2zM417 328l5 5 5 1-5 5 0-5zM442 328l5-2 5 1-5 1 0-1zM457 321l5 1 5 12-5-9 0 1zM547 301l5 6 5 2-5 1 0-3zM577 296l5 0 5 9-5-3 0-2z"/>
<path fill="#0038d0" d="M342 344l5-3 5 10-5 2 0-6zM457 321l5 4-5 11 0-11zM502 316l5-8 5 12-5 2 0-6zM557 301l5-3 5 6-5 3 0-5zM597 295l5-6 5 9-5 5 0-7z"/>
<path fill="#0038e8" d="M342 344l5 9 0-6zM557 301l5 6 0-5zM617 291l5 5 0-3z"/>
<path fill="#0848d0" d="M352 338l5 7-5 6 0-7z"/>
<path fill="#0848a8" d="M362 334l5 14-5-3 0-3zM367 342l5-2-5 8 0-7zM387 338l5 0-5 7 0-7z"/>
<path fill="#0860f0" d="M362 345l-5-5 5-6 0 8zM367 348l-5-14 5 8 0-1zM382 345l-5-7 5-7 0 9zM387 345l-5-14 5 7 0 0z"/>
<path fill="#1068d8" d="M372 332l5 9-5-1 0-1z"/>
<path fill="#1070f0" d="M372 340l-5 2 5-10 0 7z"/>
<path fill="#0858d8" d="M382 331l5 14-5 0 0-5z"/>
<path fill="#000888" d="M392 337l5 1 5 3-5 2 0-3zM667 282l5 5 5 5-5 1 0-5z"/>
<path fill="#0008c0" d="M392 337l5 6 0-3zM712 275l5 5 0-4z"/>
<path fill="#0010c8" d="M397 338l5 3 0-3zM532 308l5 12 0-6zM612 292l5 8 0-5zM637 287l5 7 0-4zM657 285l5 5 0-3zM677 286l5 0 0-2zM697 278l5 4 0-3zM742 273l5 0 0-3zM752 266l5 4 0-3z"/>
<path fill="#000890" d="M402 334l5 1 5 6-5-2 0-2zM497 315l5 1 5 6-5 0 0-3zM527 309l5-1 5 12-5-5 0-2zM532 308l5 6 5-1-5 7 0-6zM637 287l5 0 5 5-5 2 0-4zM642 287l5-1 5 4-5 2 0-3zM657 285l5-3 5 8-5 0 0-3zM662 282l5 0 5 11-5-3 0-3zM682 278l5 2 5 3-5 1 0-3zM697 278l5-1 5 2-5 3 0-3zM702 277l5 3 5-2-5 1 0-1zM707 280l5-5 5 5-5-2 0 0zM717 273l5-2 5 5-5 0 0-2zM747 266l5 0 5 4-5-1 0-1zM767 261l5 1 5 6-5-1 0-3z"/>
<path fill="#0010a8" d="M402 334l5 5 0-2zM682 278l5 6 0-3zM747 266l5 3 0-1z"/>
<path fill="#000080" d="M407 335l5 0 5 5-5 1 0-3zM687 280l5 3 5 0-5 0 0-1zM772 262l5 0 5 9-5-3 0-2z"/>
<path fill="#0008b0" d="M407 335l5 6 0-3zM672 287l5 5 0-4zM712 275l5-2 5 3-5 4 0-4z"/>
<path fill="#001098" d="M422 333l5-2 5 1-5 2 0-2zM467 319l5 2 5 6-5-2 0-2zM647 286l5-3 5 7-5 0 0-3zM652 283l5 2 5 5-5 0 0-3zM727 267l5 2 5 6-5-2 0-2z"/>
<path fill="#0018d0" d="M422 333l5 1 0-2zM462 322l5 12 0-9zM647 286l5 4 0-3zM722 271l5 5 0-4z"/>
<path fill="#0018b0" d="M432 326l5 10 0-5zM467 319l5 6 0-2z"/>
<path fill="#0028e0" d="M442 328l5 0 0-1zM572 302l5 1 0-2z"/>
<path fill="#0038c0" d="M447 326l5 1 0 0zM517 314l-5-7 5 6 0-1z"/>
<path fill="#0018c0" d="M462 322l5-3 5 6-5 9 0-9zM567 302l5 0 5 1-5 4 0-3zM722 271l5-4 5 6-5 3 0-4z"/>
<path fill="#0040d0" d="M492 310l5 11-5-1 0-2zM512 307l5 7-5 6 0-8z"/>
<path fill="#0048e8" d="M492 320l-5 0 5-10 0 8zM512 320l-5-12 5-1 0 5z"/>
<path fill="#0008a0" d="M497 315l5 7 0-3z"/>
<path fill="#0030e0" d="M517 313l5 2 0-2zM522 306l5 12 0-6zM542 303l5 11 0-7z"/>
<path fill="#0008a8" d="M527 309l5 6 0-2zM662 282l5 8 0-3zM702 277l5 2 0-1zM767 261l5 6 0-3z"/>
<path fill="#0030c8" d="M542 303l5-2 5 9-5 4 0-7z"/>
<path fill="#0028b8" d="M547 301l5 9 0-3z"/>
<path fill="#0010c0" d="M642 287l5 5 0-3zM707 280l5-2 0 0zM717 273l5 3 0-2z"/>
<path fill="#0010b0" d="M652 283l5 7 0-3zM677 286l5-8 5 6-5 2 0-2zM727 267l5 6 0-2z"/>
<path fill="#000898" d="M667 282l5 11 0-5zM687 280l5 3 0-1zM732 269l5 6 0-2z"/>
<path fill="#0000a0" d="M672 287l5-1 5 0-5 6 0-4z"/>
<path fill="#000098" d="M692 283l5-5 5 4-5 1 0-1zM787 264l5-5 5 4-5 6 0-5z"/>
<path fill="#0000a8" d="M692 283l5 0 0-1zM737 274l5 1 0-1zM777 262l5 9 0-5z"/>
<path fill="#000880" d="M732 269l5 5 5 1-5 0 0-2zM792 259l5-1 5 3-5 2 0-3z"/>
<path fill="#000078" d="M737 274l5-1 5 0-5 2 0-1zM777 262l5-2 5 10-5 1 0-5zM782 260l5 4 5 5-5 1 0-4z"/>
<path fill="#000090" d="M772 262l5 6 0-2zM782 260l5 10 0-4z"/>
<path fill="#0000b0" d="M787 264l5 5 0-5z"/>
<path fill="#0008b8" d="M792 259l5 4 0-3z"/>
<path fill="#0020a0" d="M217 377l5-4 5 11-5-3 0-2zM232 370l5 5 5 10-5 1 0-7zM242 369l5 3 5 7-5-5 0 0zM447 328l5-1 5 11-5-2 0-4zM452 327l5 9 5-2-5 4 0-4zM462 325l5 9 5 0-5 1 0-3zM517 314l5 1 5 6-5 2 0-5z"/>
<path fill="#0028d8" d="M217 377l5 4 0-2zM237 375l5 10 0-9zM277 364l5 4 0-2zM442 334l5 2 0-2zM457 336l5-2 0-2zM512 320l5 4 0-4zM517 314l5 9 0-5z"/>
<path fill="#001898" d="M222 373l5 1 5 13-5-3 0-4zM277 364l5-2 5 6-5 0 0-2zM282 362l5 3 5 5-5-2 0-2zM337 353l5-3 5 10-5-4 0-1zM342 350l5 3 5 2-5 5 0-6zM402 341l5-2 5 4-5 0 0-1zM492 320l5 1 5 7-5 0 0-4zM562 307l5-3 5 10-5 1 0-5zM567 304l5 3 5 4-5 3 0-5zM572 307l5-4 5 9-5-1 0-3zM577 303l5-1 5 10-5 0 0-5zM592 300l5-1 5 10-5 0 0-5zM597 299l5 4 5 3-5 3 0-5z"/>
<path fill="#0020b8" d="M222 373l5 11 0-4zM242 369l5 5 0 0zM282 362l5 6 0-2zM362 345l5 8 0-4zM447 328l5 8 0-4zM452 327l5 11 0-4zM462 325l5 10 0-3z"/>
<path fill="#0028c8" d="M227 374l5-4 5 16-5 1 0-8z"/>
<path fill="#0030e0" d="M227 374l5 13 0-8z"/>
<path fill="#0028b8" d="M232 370l5 16 0-7z"/>
<path fill="#0020c0" d="M237 375l5-6 5 5-5 11 0-9zM312 358l5-3 5 6-5 2 0-4zM397 343l5-2 5 2-5 4 0-3zM442 334l5-6 5 8-5 0 0-2zM487 325l5-5 5 8-5 2 0-4z"/>
<path fill="#0040d0" d="M252 364l5 10-5 5 0-7zM372 340l5 14-5-3 0-3z"/>
<path fill="#0048e8" d="M252 379l-5-7 5-8 0 8zM372 351l-5-3 5-8 0 8zM377 354l-5-14 5 1 0 6z"/>
<path fill="#0038a8" d="M257 363l5 13-5-2 0-5zM262 364l5 8-5 4 0-7zM377 341l5 11-5 2 0-7z"/>
<path fill="#0840c8" d="M257 374l-5-10 5-1 0 6z"/>
<path fill="#0850e8" d="M262 376l-5-13 5 1 0 5z"/>
<path fill="#0028a8" d="M262 364l5 2 5 3-5 3 0-4zM357 345l5 0 5 8-5 2 0-5z"/>
<path fill="#0040e8" d="M262 364l5 8 0-4zM317 355l5 6 0-3z"/>
<path fill="#0028a0" d="M267 366l5-4 5 11-5-4 0-1zM272 362l5 2 5 4-5 5 0-6zM377 341l5 4 5 7-5 0 0-4zM392 338l5 5 5 4-5-2 0-2z"/>
<path fill="#0038e0" d="M267 366l5 3 0-1zM272 362l5 11 0-6zM387 345l5 6 0-6z"/>
<path fill="#000890" d="M287 365l5-4 5 13-5-4 0-2zM297 362l5-2 5 6-5 1 0-3zM302 360l5 1 5 5-5 0 0-3zM347 353l5-2 5 7-5-3 0-1zM407 339l5 2 5 5-5-3 0-1zM472 325l5 2 5 10-5-7 0 0zM497 321l5 1 5 4-5 2 0-4zM522 315l5 3 5 2-5 1 0-3zM552 310l5-1 5 6-5 0 0-3zM607 298l5 1 5 11-5-6 0-1zM622 296l5 2 5 5-5-2 0-1zM647 292l5-2 5 12-5-7 0 0zM702 282l5-3 5 7-5-1 0-2zM707 279l5-1 5 8-5 0 0-4zM712 278l5 2 5 1-5 5 0-5zM717 280l5-4 5 8-5-3 0-1zM722 276l5 0 5 5-5 3 0-5zM727 276l5-3 5 13-5-5 0-2zM732 273l5 2 5 5-5 6 0-8zM752 269l5 1 5 5-5 2 0-4z"/>
<path fill="#0010c8" d="M287 365l5 5 0-2zM292 361l5 13 0-8zM297 362l5 5 0-3zM307 361l5 5 0-4zM497 321l5 7 0-4zM552 310l5 5 0-3zM602 303l5 3 0-3zM617 300l5 3 0-3zM642 294l5 5 0-4zM697 283l5 5 0-4zM702 282l5 3 0-2zM707 279l5 7 0-4zM732 273l5 13 0-8zM747 273l5 10 0-7z"/>
<path fill="#0010b8" d="M292 361l5 1 5 5-5 7 0-8zM417 340l5-1 5 1-5 9 0-7zM437 336l5-2 5 2-5 2 0-2zM467 334l5-9 5 5-5 4 0-3zM477 327l5-1 5 2-5 9 0-7zM602 303l5-5 5 6-5 2 0-3zM747 273l5-4 5 8-5 6 0-7z"/>
<path fill="#0008a8" d="M302 360l5 6 0-3zM537 320l5-7 5 5-5 2 0-2zM612 299l5 1 5 3-5 7 0-7zM622 296l5 5 0-1zM647 292l5 3 0 0zM662 290l5 0 5 2-5 8 0-7zM682 286l5-2 5 7-5 5 0-7zM767 268l5-1 5 5-5 7 0-7z"/>
<path fill="#0010b0" d="M307 361l5-3 5 5-5 3 0-4zM482 326l5 2 0-1zM522 315l5 6 0-3zM617 300l5-4 5 5-5 2 0-3zM642 294l5-2 5 3-5 4 0-4z"/>
<path fill="#0020d8" d="M312 358l5 5 0-4zM337 353l5 3 0-1zM342 350l5 10 0-6zM397 343l5 4 0-3zM402 341l5 2 0-1zM487 325l5 5 0-4zM562 307l5 8 0-5zM567 304l5 10 0-5zM572 307l5 4 0-3zM577 303l5 9 0-5zM587 305l5 5 0-4zM592 300l5 9 0-5z"/>
<path fill="#0030a8" d="M317 355l5-4 5 13-5-3 0-3zM327 350l5 17-5-3 0-6zM332 357l5 3-5 7 0-9z"/>
<path fill="#0038c0" d="M327 364l-5-13 5-1 0 8zM332 367l-5-17 5 7 0 1z"/>
<path fill="#0018c0" d="M332 357l5-4 5 3-5 4 0-4zM587 305l5-5 5 9-5 1 0-4z"/>
<path fill="#0018d0" d="M332 357l5 3 0-4zM427 334l5 8 0-4zM557 309l5 6 0-3z"/>
<path fill="#0010a8" d="M347 353l5 2 0-1zM407 339l5 4 0-1zM472 325l5 5 0 0zM607 298l5 6 0-1zM727 276l5 5 0-2z"/>
<path fill="#0030d0" d="M352 351l5-6 5 10-5 3 0-6zM387 345l5-7 5 7-5 6 0-6z"/>
<path fill="#0038e8" d="M352 351l5 7 0-6zM357 345l5 10 0-5z"/>
<path fill="#0018a0" d="M362 345l5 3 5 3-5 2 0-4z"/>
<path fill="#0028c0" d="M377 341l5 11 0-4z"/>
<path fill="#000888" d="M382 345l5 0 5 6-5 1 0-4zM502 322l5 0 5 3-5 1 0-2zM507 322l5-2 5 4-5 1 0-2zM527 318l5-3 5 6-5-1 0-2zM532 315l5 5 5 0-5 1 0-2zM542 313l5 1 5 9-5-5 0-1zM667 290l5 3 5 0-5-1 0 0zM687 284l5-1 5 6-5 2 0-4zM757 270l5-2 5 12-5-5 0-2zM762 268l5 0 5 11-5 1 0-6zM772 267l5 1 5 5-5-1 0-2z"/>
<path fill="#0008c0" d="M382 345l5 7 0-4zM527 318l5 2 0-2zM537 320l5 0 0-2zM547 314l5 9 0-7zM652 290l5 12 0-8zM662 290l5 10 0-7zM687 284l5 7 0-4zM762 268l5 12 0-6z"/>
<path fill="#0030c0" d="M392 338l5 7 0-2z"/>
<path fill="#000078" d="M412 341l5-1 5 9-5-3 0-2zM742 275l5-2 5 10-5-3 0-2zM777 268l5 3 5 5-5-3 0-1zM787 270l5-1 5 5-5-4 0 1z"/>
<path fill="#000088" d="M412 341l5 5 0-2zM777 268l5 5 0-1z"/>
<path fill="#0010d0" d="M417 340l5 9 0-7zM422 339l5 1 0-1zM437 336l5 2 0-2zM467 334l5 0 0-3zM477 327l5 10 0-7zM712 278l5 8 0-5zM717 280l5 1 0-1zM752 269l5 8 0-4z"/>
<path fill="#001098" d="M422 339l5-5 5 8-5-2 0-1zM427 334l5-2 5 10-5 0 0-4zM432 332l5 4 5 2-5 4 0-5zM482 326l5-1 5 5-5-2 0-1zM557 309l5-2 5 8-5 0 0-3zM582 302l5 3 5 5-5 2 0-5z"/>
<path fill="#0018b0" d="M432 332l5 10 0-5zM582 302l5 10 0-5zM597 299l5 10 0-5z"/>
<path fill="#0020c8" d="M457 336l5-11 5 10-5-1 0-2zM512 320l5-6 5 9-5 1 0-4z"/>
<path fill="#0018b8" d="M492 320l5 8 0-4z"/>
<path fill="#0008b8" d="M502 322l5 4 0-2zM507 322l5 3 0-2zM612 299l5 11 0-7zM682 286l5 10 0-7zM767 268l5 11 0-7zM797 263l5 10 0-7zM802 261l5 7 0-4z"/>
<path fill="#0008a0" d="M532 315l5 6 0-2zM542 313l5 5 0-1zM667 290l5 2 0 0zM757 270l5 5 0-2zM772 267l5 5 0-2zM797 263l5-2 5 7-5 5 0-7z"/>
<path fill="#0008b0" d="M547 314l5-4 5 5-5 8 0-7zM637 295l5 10 0-7zM652 290l5 0 5 5-5 7 0-8zM672 293l5 0 0-1zM677 292l5-1 0 0zM692 283l5 6 0-3zM697 283l5-1 5 3-5 3 0-4z"/>
<path fill="#000080" d="M627 298l5-2 5 10-5-3 0-2zM632 296l5-1 5 10-5 1 0-6zM672 293l5-1 5-1-5 2 0-1zM677 292l5-6 5 10-5-5 0 0zM737 275l5 0 5 5-5 0 0-2z"/>
<path fill="#000090" d="M627 298l5 5 0-2zM742 275l5 5 0-2zM787 270l5 0 0 1z"/>
<path fill="#0000b0" d="M632 296l5 10 0-6zM737 275l5 5 0-2z"/>
<path fill="#0000a0" d="M637 295l5-1 5 5-5 6 0-7z"/>
<path fill="#000880" d="M657 290l5 0 5 10-5-5 0-1zM692 283l5 0 5 5-5 1 0-3zM802 261l5 0 5 5-5 2 0-4z"/>
<path fill="#000898" d="M657 290l5 5 0-1z"/>
<path fill="#0010c0" d="M722 276l5 8 0-5z"/>
<path fill="#000098" d="M782 271l5-1 5 0-5 6 0-4zM792 269l5-6 5 10-5 1 0-4z"/>
<path fill="#0000a8" d="M782 271l5 5 0-4zM792 269l5 5 0-4z"/>
<path fill="#001098" d="M222 381l5 3 5 3-5 0 0-2zM252 379l5-5 5 13-5-4 0-2zM257 374l5 2 5 6-5 5 0-7zM277 373l5-5 5 8-5 0 0-3zM282 368l5 0 5 8-5 0 0-4zM287 368l5 2 5 10-5-4 0-2zM302 367l5-1 5 11-5-7 0 0zM317 363l5-2 5 8-5 0 0-3zM342 356l5 4 5 9-5-5 0-2zM392 351l5-6 5 14-5-3 0-3zM397 345l5 2 5 11-5 1 0-7zM427 340l5 2 5 2-5 2 0-3zM442 338l5-2 5 8-5 0 0-4zM447 336l5 0 5 5-5 3 0-5zM487 328l5 2 5 2-5 2 0-3zM492 330l5-2 5 5-5-1 0-1z"/>
<path fill="#0010b0" d="M222 381l5 6 0-2zM287 368l5 8 0-2zM302 367l5 3 0 0zM397 345l5 14 0-7zM427 340l5 6 0-3zM452 336l5 5 0-3zM487 328l5 6 0-3z"/>
<path fill="#000888" d="M227 384l5 3 5 5-5-5 0 1zM362 355l5-2 5 12-5-6 0-1zM417 346l5 3 5 1-5-1 0-1zM497 328l5 0 5 4-5 1 0-3zM517 324l5-1 5 11-5 1 0-6zM532 320l5 1 5 4-5 2 0-4zM537 321l5-1 5 5-5 0 0-2zM547 318l5 5 5-2-5 8 0-6zM557 315l5 0 5 11-5-3 0-3zM567 315l5-1 5 10-5-6 0 0zM577 311l5 1 5 9-5 1 0-6zM587 312l5-2 5 9-5-4 0-1zM632 303l5 3 5 4-5-4 0 0zM642 305l5-6 5 6-5-1 0-1zM662 295l5 5 5-1-5 0 0-1zM672 292l5 1 5 9-5-4 0-2zM692 291l5-2 5 6-5-2 0-1zM727 284l5-3 5 6-5 0 0-2zM742 280l5 0 5 3-5 2 0-3zM747 280l5 3 5 0-5 0 0-1zM762 275l5 5 5 0-5-1 0-1z"/>
<path fill="#0008a0" d="M227 384l5 3 0 1zM362 355l5 4 0-1zM557 315l5 8 0-3zM567 315l5 3 0 0zM577 311l5 11 0-6zM627 301l5 5 0-2zM662 295l5 4 0-1zM672 292l5 6 0-2zM677 293l5-2 5 5-5 6 0-6zM737 286l5-6 5 5-5 0 0-1zM762 275l5 4 0-1zM772 279l5-7 5 6-5 0 0-1z"/>
<path fill="#000090" d="M232 387l5-1 5 1-5 5 0-4zM292 370l5 10 0-4zM712 286l5 6 0-2z"/>
<path fill="#0000a0" d="M232 387l5 5 0-4z"/>
<path fill="#000080" d="M237 386l5-1 5-1-5 3 0-1zM292 370l5 4 5 5-5 1 0-4zM377 354l5-2 5 5-5 1 0-3zM382 352l5 0 5 4-5 1 0-3zM387 352l5-1 5 5-5 0 0-2zM682 291l5 5 5-1-5 1 0-2zM697 289l5-1 5 5-5 2 0-4zM752 283l5-6 5 9-5-3 0-1zM767 280l5-1 5-1-5 2 0-1zM782 273l5 3 5-1-5 6 0-5zM787 276l5-6 5 9-5-4 0 0z"/>
<path fill="#0008b0" d="M237 386l5 1 0-1zM357 358l5-3 5 4-5 3 0-4zM377 354l5 4 0-3zM382 352l5 5 0-3zM437 342l5-4 5 6-5 1 0-3zM462 334l5 1 5 3-5 8 0-8zM522 323l5-2 5 4-5 9 0-8zM552 323l5-8 5 8-5-2 0-1zM562 315l5 0 5 3-5 8 0-8zM572 314l5-3 5 11-5 2 0-6zM617 310l5-7 5 6-5-1 0 0zM622 303l5-2 5 5-5 3 0-4zM647 299l5-4 5 7-5 3 0-5zM677 293l5 9 0-6zM697 289l5 6 0-4zM737 286l5-1 0-1zM767 280l5 0 0-1zM772 279l5-1 0-1zM802 273l5-5 5 1-5 8 0-5z"/>
<path fill="#0020c0" d="M242 385l5-11 5 11-5-1 0-2z"/>
<path fill="#0020d8" d="M242 385l5-1 0-2zM402 347l5 11 0-9z"/>
<path fill="#0018a0" d="M247 374l5 5 5 4-5 2 0-5zM272 369l5 4 5 3-5 1 0-3z"/>
<path fill="#0020b8" d="M247 374l5 11 0-5zM272 369l5 8 0-3z"/>
<path fill="#0010d0" d="M252 379l5 4 0-2zM257 374l5 13 0-7zM262 376l5 6 0-5zM297 374l5 5 0-7zM317 363l5 6 0-3zM367 353l5 12 0-8zM422 349l5 1 0-4zM482 337l5 5 0-7zM492 330l5 2 0-1z"/>
<path fill="#0010b8" d="M262 376l5-4 5 6-5 4 0-5zM297 374l5-7 5 3-5 9 0-7zM347 360l5-5 5 9-5 5 0-7zM367 353l5-2 5 9-5 5 0-8zM422 349l5-9 5 6-5 4 0-4zM472 334l5-4 5 8-5 2 0-4zM482 337l5-9 5 6-5 8 0-7zM607 306l5-2 5 4-5 3 0-4zM717 286l5-5 5 7-5 6 0-7z"/>
<path fill="#0020a0" d="M267 372l5-3 5 8-5 1 0-4z"/>
<path fill="#0028d8" d="M267 372l5 6 0-4z"/>
<path fill="#0018d0" d="M277 373l5 3 0-3zM282 368l5 8 0-4zM337 360l5 6 0-4zM392 351l5 5 0-3zM442 338l5 6 0-4zM447 336l5 8 0-5z"/>
<path fill="#0008a8" d="M307 366l5 0 5 6-5 5 0-7zM312 366l5-3 5 6-5 3 0-4zM327 364l5 3 5-2-5 8 0-6zM332 367l5-7 5 6-5-1 0-1zM467 335l5 3 0-1zM477 330l5 8 0-1zM527 321l5 4 0-2zM582 312l5 0 5 3-5 6 0-6zM602 309l5-3 5 5-5 6 0-6zM637 306l5-1 5-1-5 6 0-4zM652 295l5 7 0-1zM657 302l5-7 5 4-5 7 0-6zM667 300l5-8 5 6-5 1 0-2zM687 296l5-5 5 2-5 2 0-1zM757 277l5-2 5 4-5 7 0-7z"/>
<path fill="#0008b8" d="M307 366l5 11 0-7zM327 364l5 9 0-6zM497 328l5 5 0-3zM517 324l5 11 0-6zM537 321l5 4 0-2zM582 312l5 9 0-6zM602 309l5 8 0-6zM637 306l5 4 0-4zM642 305l5-1 0-1zM727 284l5 3 0-2zM742 280l5 5 0-3z"/>
<path fill="#0008c0" d="M312 366l5 6 0-4zM332 367l5-2 0-1zM357 358l5 4 0-4zM437 342l5 3 0-3zM532 320l5 7 0-4zM547 318l5 11 0-6zM552 323l5-2 0-1zM562 315l5 11 0-8zM572 314l5 10 0-6zM617 310l5-2 0 0zM622 303l5 6 0-4zM657 302l5 4 0-6zM667 300l5-1 0-2zM687 296l5-1 0-1zM692 291l5 2 0-1zM757 277l5 9 0-7zM802 273l5 4 0-5z"/>
<path fill="#000890" d="M322 361l5 3 5 9-5-4 0-2zM352 355l5 3 5 4-5 2 0-4zM372 351l5 3 5 4-5 2 0-4zM412 343l5 3 5 3-5 2 0-4zM432 342l5 0 5 3-5-1 0-1zM452 336l5 2 5 1-5 2 0-3zM457 338l5-4 5 12-5-7 0 0zM467 335l5-1 5 6-5-2 0-1zM477 330l5 7 5 5-5-4 0-1zM502 328l5-2 5 4-5 2 0-3zM507 326l5-1 5 3-5 2 0-3zM512 325l5-1 5 11-5-7 0 0zM527 321l5-1 5 7-5-2 0-2zM612 304l5 6 5-2-5 0 0 0zM627 301l5 2 5 3-5 0 0-2zM652 295l5 7 5 4-5-4 0-1zM702 288l5-3 5 11-5-3 0-3zM707 285l5 1 5 6-5 4 0-6zM722 281l5 3 5 3-5 1 0-3zM807 268l5-2 5 4-5-1 0-1z"/>
<path fill="#0010a8" d="M322 361l5 8 0-2zM352 355l5 9 0-4zM372 351l5 9 0-4zM412 343l5 8 0-4zM457 338l5 1 0 0zM512 325l5 3 0 0zM612 304l5 4 0 0zM722 281l5 7 0-3z"/>
<path fill="#0018c0" d="M337 360l5-4 5 8-5 2 0-4zM402 347l5-4 5 6-5 9 0-9z"/>
<path fill="#0018b0" d="M342 356l5 8 0-2z"/>
<path fill="#0010c8" d="M347 360l5 9 0-7zM432 342l5 2 0-1zM462 334l5 12 0-8zM472 334l5 6 0-4zM502 328l5 4 0-3zM507 326l5 4 0-3zM522 323l5 11 0-8zM607 306l5 5 0-4zM647 299l5 6 0-5zM717 286l5 8 0-7zM807 268l5 1 0-1z"/>
<path fill="#0000b0" d="M387 352l5 4 0-2zM752 283l5 0 0-1zM782 273l5 8 0-5zM787 276l5-1 0 0z"/>
<path fill="#001898" d="M407 343l5 0 5 8-5-2 0-3z"/>
<path fill="#0018b8" d="M407 343l5 6 0-3z"/>
<path fill="#000898" d="M417 346l5 3 0-1zM542 320l5 5 0-2zM587 312l5 3 0-1zM632 303l5 3 0 0zM682 291l5 5 0-2zM732 281l5 6 0-2zM747 280l5 3 0-1zM777 272l5 6 0-2z"/>
<path fill="#000880" d="M542 320l5-2 5 11-5-4 0-2zM732 281l5 5 5-1-5 2 0-2zM777 272l5 1 5 8-5-3 0-2z"/>
<path fill="#000078" d="M592 310l5-1 5 9-5 1 0-5zM597 309l5 0 5 8-5 1 0-5zM712 286l5 0 5 8-5-2 0-2zM792 270l5 4 5 1-5 4 0-5zM797 274l5-1 5 4-5-2 0 0z"/>
<path fill="#0000a8" d="M592 310l5 9 0-5zM597 309l5 9 0-5zM792 270l5 9 0-5z"/>
<path fill="#0010c0" d="M702 288l5 5 0-3zM707 285l5 11 0-6z"/>
<path fill="#000088" d="M797 274l5 1 0 0z"/>
<path fill="#000888" d="M227 387l5 0 5 6-5-1 0-2zM232 387l5 5 5 5-5-4 0-1zM257 383l5 4 5-1-5 2 0-2zM262 387l5-5 5 9-5-5 0 0zM272 378l5-1 5 12-5-4 0-3zM287 376l5 0 5 3-5 2 0-3zM292 376l5 4 5-2-5 1 0-1zM297 380l5-1 5 5-5-6 0 2zM317 372l5-3 5 6-5-1 0-2zM322 369l5 0 5 3-5 3 0-4zM327 369l5 4 5 0-5-1 0 0zM347 364l5 5 5-2-5 7 0-6zM352 369l5-5 5 5-5-2 0 0zM362 362l5-3 5 6-5 0 0-2zM367 359l5 6 5-1-5 1 0-2zM382 358l5-1 5 4-5 0 0-2zM422 349l5 1 5 4-5-1 0-1zM447 344l5 0 5 3-5 1 0-2zM452 344l5-3 5 11-5-5 0-1zM502 333l5-1 5 7-5 0 0-3zM557 321l5 2 5 4-5 5 0-6zM572 318l5 6 5 4-5-3 0-1zM582 322l5-1 5 1-5-1 0 1zM592 315l5 4 5 1-5 0 0-2zM622 308l5 1 5 9-5 1 0-5zM627 309l5-3 5 11-5 1 0-6zM637 306l5 4 5 5-5-4 0-1zM647 304l5 1 5 4-5 2 0-4zM662 306l5-7 5 11-5-3 0-1zM667 299l5 0 5 10-5 1 0-6zM677 298l5 4 5-1-5 7 0-6zM682 302l5-6 5 10-5-5 0 0zM692 295l5-2 5 7-5 1 0-4zM697 293l5 2 5 8-5-3 0-2zM732 287l5 0 5 9-5-5 0-1zM747 285l5-2 5 6-5-1 0-2zM752 283l5 0 5 5-5 1 0-3zM767 279l5 1 5 9-5-3 0-2zM782 278l5 3 5-1-5 2 0-2z"/>
<path fill="#0008a0" d="M227 387l5 5 0-2zM232 387l5 6 0-1zM247 384l5 1 5 4-5 6 0-7zM257 383l5 5 0-2zM272 378l5 7 0-3zM292 376l5 3 0-1zM297 380l5-2 0 2zM327 369l5 3 0 0zM367 359l5 6 0-2zM402 359l5-1 5-1-5 6 0-4zM422 349l5 4 0-1zM452 344l5 3 0-1zM572 318l5 7 0-1zM687 296l5-1 5 6-5 5 0-6zM697 293l5 7 0-2zM712 296l5-4 5 3-5 1 0-1zM732 287l5 4 0-1zM767 279l5 7 0-2zM777 278l5 0 5 4-5 6 0-6zM782 278l5 4 0-2z"/>
<path fill="#000090" d="M237 392l5-5 5 9-5 1 0-4zM562 323l5 4 0-1zM757 283l5 5 0-2zM802 275l5 5 0-2z"/>
<path fill="#0000a0" d="M237 392l5 5 0-4zM797 279l5-4 5 5-5-1 0-1z"/>
<path fill="#000080" d="M242 387l5-3 5 11-5 1 0-6zM252 385l5-2 5 5-5 1 0-3zM672 299l5-1 5 10-5 1 0-5zM707 293l5 3 5 0-5 6 0-5zM737 287l5-2 5 10-5 1 0-5zM772 280l5-2 5 10-5 1 0-5zM802 275l5 2 5 1-5 2 0-2z"/>
<path fill="#0008b0" d="M242 387l5 9 0-6zM247 384l5 11 0-7zM252 385l5 4 0-3zM267 382l5-4 5 7-5 6 0-7zM277 377l5-1 5 6-5 7 0-8zM312 377l5-5 5 2-5 2 0-1zM372 365l5-5 5 1-5 3 0-2zM427 350l5-4 5 7-5 1 0-3zM467 346l5-8 5 6-5 3 0-3zM477 340l5-2 5 2-5 8 0-6zM487 342l5-8 5 6-5 2 0-2zM507 332l5-2 5 6-5 3 0-5zM527 334l5-9 5 6-5 7 0-6zM552 329l5-8 5 11-5 1 0-4zM567 326l5-8 5 7-5 5 0-5zM607 317l5-6 5 4-5 3 0-3zM657 302l5 10 0-5zM672 299l5 10 0-5zM687 296l5 10 0-6zM707 293l5 9 0-5zM712 296l5 0 0-1zM737 287l5 9 0-5zM772 280l5 9 0-5zM777 278l5 10 0-6zM797 279l5 0 0-1zM807 277l5-8 5 8-5 1 0-3z"/>
<path fill="#000898" d="M262 387l5-1 0 0zM342 366l5 6 0-3zM397 356l5 3 0 0zM542 325l5 6 0-2zM592 315l5 5 0-2zM637 306l5 5 0-1zM717 292l5 3 0-1zM792 275l5 5 0-2z"/>
<path fill="#0008c0" d="M267 382l5 9 0-7zM287 376l5 5 0-3zM312 377l5-1 0-1zM317 372l5 2 0-2zM322 369l5 6 0-4zM347 364l5 10 0-6zM352 369l5-2 0 0zM357 364l5 5 0-4zM362 362l5 3 0-2zM382 358l5 3 0-2zM417 351l5 5 0-4zM447 344l5 4 0-2zM487 342l5 0 0-2zM552 329l5 4 0-4zM557 321l5 11 0-6zM567 326l5 4 0-5zM577 324l5 4 0-4zM582 322l5-1 0 1zM607 317l5 1 0-3zM622 308l5 11 0-5zM627 309l5 9 0-6zM632 306l5 11 0-7zM667 299l5 11 0-6zM677 298l5 10 0-6zM682 302l5-1 0 0zM692 295l5 6 0-4zM727 288l5 7 0-5zM742 285l5 10 0-7zM747 285l5 3 0-2zM787 281l5-1 0-1z"/>
<path fill="#0010c8" d="M277 377l5 12 0-8zM282 376l5 6 0-3zM332 373l5 0 0-3zM372 365l5-1 0-2zM377 360l5 1 0-1zM427 350l5 4 0-3zM432 346l5 7 0-4zM437 344l5 9 0-5zM442 345l5 4 0-3zM457 341l5 11 0-7zM507 332l5 7 0-5zM512 330l5 6 0-3zM527 334l5 4 0-6zM612 311l5 4 0-3zM812 269l5 8 0-4z"/>
<path fill="#000890" d="M282 376l5 0 5 5-5 1 0-3zM337 365l5 1 5 6-5-3 0-1zM377 360l5-2 5 3-5 0 0-1zM432 346l5-2 5 9-5 0 0-4zM437 344l5 1 5 4-5 4 0-5zM442 345l5-1 5 4-5 1 0-3zM462 339l5 7 5 1-5 0 0-2zM472 338l5 2 5 8-5-4 0-2zM482 338l5 4 5 0-5-2 0 0zM512 330l5-2 5 9-5-1 0-3zM517 328l5 7 5 1-5 1 0-3zM532 325l5 2 5 9-5-5 0-1zM612 311l5-3 5 7-5 0 0-3zM617 308l5 0 5 11-5-4 0-3zM812 269l5 1 5 5-5 2 0-4z"/>
<path fill="#0010b8" d="M302 379l5-9 5 8-5 6 0-6zM332 373l5-8 5 4-5 4 0-3zM407 358l5-9 5 6-5 2 0-2zM457 341l5-2 5 8-5 5 0-7z"/>
<path fill="#0010d0" d="M302 379l5 5 0-6zM407 358l5-1 0-2zM492 334l5 6 0-4z"/>
<path fill="#001098" d="M307 370l5 7 5-1-5 2 0-3zM412 349l5 2 5 5-5-1 0-2zM492 334l5-2 5 7-5 1 0-4zM497 332l5 1 5 6-5 0 0-3z"/>
<path fill="#0010b0" d="M307 370l5 8 0-3zM412 349l5 6 0-2zM497 332l5 7 0-3z"/>
<path fill="#0010a8" d="M337 365l5 4 0-1zM462 339l5 8 0-2z"/>
<path fill="#000880" d="M342 366l5-2 5 10-5-2 0-3zM387 357l5-1 5 6-5-1 0-2zM392 356l5 0 5 3-5 3 0-4zM397 356l5 3 5 4-5-4 0 0zM542 325l5 0 5 9-5-3 0-2zM652 305l5-3 5 10-5-3 0-2zM657 302l5 4 5 1-5 5 0-5zM717 292l5 2 5 0-5 1 0-1zM792 275l5 4 5 0-5 1 0-2z"/>
<path fill="#0008a8" d="M357 364l5-2 5 3-5 4 0-4zM417 351l5-2 5 4-5 3 0-4zM472 338l5 6 0-2zM482 338l5 2 0 0zM517 328l5 9 0-3zM532 325l5 6 0-1zM537 327l5-2 5 6-5 5 0-6zM577 324l5-2 5-1-5 7 0-4zM587 321l5-6 5 5-5 2 0-2zM617 308l5 7 0-3zM632 306l5 0 5 5-5 6 0-7zM642 310l5-6 5 7-5 4 0-5zM722 294l5-6 5 7-5-1 0-1zM727 288l5-1 5 4-5 4 0-5zM742 285l5 0 5 3-5 7 0-7zM762 286l5-7 5 7-5 1 0-3zM787 281l5-6 5 5-5 0 0-1z"/>
<path fill="#0008b8" d="M387 357l5 4 0-2zM392 356l5 6 0-4zM402 359l5 4 0-4zM502 333l5 6 0-3zM537 327l5 9 0-6zM587 321l5 1 0-2zM642 310l5 5 0-5zM647 304l5 7 0-4zM652 305l5 4 0-2zM662 306l5 1 0-1zM722 294l5 0 0-1zM752 283l5 6 0-3zM762 286l5 1 0-3z"/>
<path fill="#0010c0" d="M467 346l5 1 0-3zM477 340l5 8 0-6zM807 277l5 1 0-3z"/>
<path fill="#000078" d="M522 335l5-1 5 4-5-2 0 0zM547 325l5 4 5 4-5 1 0-4zM562 323l5 3 5 4-5-3 0-1zM597 319l5-1 5 1-5 1 0-1zM602 318l5-1 5 1-5 1 0-1zM702 295l5-2 5 9-5 1 0-5zM757 283l5 3 5 1-5 1 0-2z"/>
<path fill="#000088" d="M522 335l5 1 0 0zM547 325l5 9 0-4z"/>
<path fill="#0000a8" d="M597 319l5 1 0-1zM602 318l5 1 0-1zM702 295l5 8 0-5z"/>
<path fill="#000888" d="M232 392l5 1 4 9-5 1 0-5zM262 388l5-2 4 5-5 0 0-2zM267 386l5 5 4 4-5-4 1 0zM292 381l5-2 4 7-5 0 0-3zM297 379l5-1 4 7-5 1 1-4zM302 378l5 6 4 0-5 1 0-2zM317 376l5-2 4 11-5 1 1-6zM327 375l5-3 4 11-5-5 1-1zM347 372l5 2 4 0-5 0 1 0zM362 369l5-4 4 11-5-5 0-1zM367 365l5 0 4 10-5 1 1-6zM387 361l5 0 4 10-5 1 1-6zM412 357l5-2 4 11-5-3 0-3zM422 356l5-3 4 8-5-1 0-2zM427 353l5 1 4 9-5-2 1-3zM452 348l5-1 4 7-5 0 0-3zM457 347l5 5 4 2-5 0 1-2zM497 340l5-1 4 6-5-1 1-2zM502 339l5 0 4 3-5 3 0-4zM507 339l5 0 4 8-5-5 1 0zM517 336l5 1 4 2-5 2 1-3zM522 337l5-1 4 4-5-1 0-1zM537 331l5 5 4-2-5 4 1-3zM547 331l5 3 4-1-5 2 1-2zM552 334l5-1 4 5-5-5 0 1zM587 321l5 1 4 9-5-4 1-2zM597 320l5 0 4 3-5 3 1-4zM602 320l5-1 4 5-5-1 0-1zM617 315l5 0 4 5-5 0 1-2zM687 301l5 5 4 0-5 6 1-6zM697 301l5-1 4 5-5-1 1-2zM722 295l5-1 4 6-5 2 0-4zM727 294l5 1 4 4-5 1 1-3zM737 291l5 5 4 1-5 0 1-2zM752 288l5 1 4 5-5 5 0-7zM792 280l5 0 4 10-5-4 0-2z"/>
<path fill="#0008b8" d="M232 392l4 11 0-5zM282 389l4 0 0-2zM287 382l4 6 1-4zM332 372l4 11 0-7zM372 365l4 10 0-7zM387 361l4 11 1-6zM397 362l4 4 1-3zM407 363l4 5 1-5zM502 339l4 6 0-4zM512 339l4 8 0-6zM517 336l4 5 1-3zM577 325l4 9 1-5zM592 322l4 9 0-6zM627 319l4 5 1-4zM632 318l4 0 0 0zM682 308l4 5 0-5zM692 306l4 0 0-2zM722 295l4 7 0-4zM747 295l4 1 1-2zM817 277l4 4 1-3z"/>
<path fill="#000078" d="M237 393l5 4 4 0-5 5 1-5zM242 397l5-1 4 1-5 0 0 0zM247 396l5-1 4 1-5 1 1-1zM307 384l5-6 4 9-5-3 1-1zM462 352l5-5 4 9-5-2 0-2zM527 336l5 2 4 5-5-3 1-1zM567 327l5 3 4 5-5 1 1-4zM657 309l5 3 4 5-5-3 1-1zM702 300l5 3 4 1-5 1 0-2zM707 303l5-1 4 5-5-3 1 0zM742 296l5-1 4 1-5 1 0-1zM757 289l5-1 4 6-5 0 1-3zM762 288l5-1 4 9-5-2 0-3zM767 287l5-1 4 9-5 1 1-5zM772 286l5 3 4 5-5 1 0-4zM807 280l5-2 4 9-5 1 1-5z"/>
<path fill="#0000a8" d="M237 393l4 9 1-5zM242 397l4 0 0 0zM272 391l4 4 0-5zM307 384l4 0 1-1zM462 352l4 2 0-2zM467 347l4 9 1-6zM562 332l4 5 0-4zM652 311l4 8 0-6zM662 312l4 5 0-5zM742 296l4 1 0-1zM757 289l4 5 1-3zM767 287l4 9 1-5zM807 280l4 8 1-5z"/>
<path fill="#0000a0" d="M247 396l4 1 1-1zM437 353l5 0 4 4-5 5 1-6zM647 315l4 5 1-4zM782 288l5-6 4 10-5 1 0-4z"/>
<path fill="#000098" d="M252 395l5-6 4 6-5 1 0-2zM272 391l5-6 4 5-5 5 0-5zM467 347l5 0 4 4-5 5 1-6zM477 344l4 5 1-1zM562 332l5-5 4 9-5 1 0-4zM572 330l5-5 4 9-5 1 0-4zM652 311l5-2 4 5-5 5 0-6zM662 312l5-5 4 5-5 5 0-5zM667 307l4 5 1-2zM677 309l4 0 1 1z"/>
<path fill="#0000b0" d="M252 395l4 1 0-2zM432 354l4 9 0-5zM437 353l4 9 1-6zM572 330l4 5 0-4zM607 319l4 5 1-3zM782 288l4 5 0-4z"/>
<path fill="#0008a8" d="M257 389l5-1 4 3-5 4 1-4zM332 372l5 1 4 5-5 5 0-7zM357 367l4 6 1-3zM372 365l5-1 4 6-5 5 0-7zM382 361l4 6 0-2zM492 342l5-2 4 4-5 7 0-7zM512 339l5-3 4 5-5 6 0-6zM682 308l5-7 4 11-5 1 0-5zM692 306l5-5 4 3-5 2 0-2zM732 295l5-4 4 6-5 2 0-3zM747 295l5-7 4 11-5-3 1-2zM787 282l5-2 4 6-5 6 1-7z"/>
<path fill="#0008c0" d="M257 389l4 6 1-4zM262 388l4 3 0-2zM292 381l4 5 0-3zM297 379l4 7 1-4zM317 376l4 10 1-6zM322 374l4 11 0-7zM352 374l4 0 0-2zM367 365l4 11 1-6zM417 355l4 11 1-7zM422 356l4 4 0-2zM452 348l4 6 0-3zM482 348l4 1 0-2zM492 342l4 9 0-7zM497 340l4 4 1-2zM532 338l4 5 0-5zM542 336l4-2 0 0zM582 328l4 0 0-2zM597 320l4 6 1-4zM602 320l4 3 0-1zM612 318l4 5 0-4zM687 301l4 11 1-6zM732 295l4 4 0-3zM752 288l4 11 0-7zM787 282l4 10 1-7z"/>
<path fill="#000898" d="M267 386l4 5 1 0zM347 372l4 2 1 0zM402 359l4 7 0-2zM457 347l4 7 1-2zM507 339l4 3 1 0zM522 337l4 2 0-1zM642 311l4 10 0-4zM727 294l4 6 1-3z"/>
<path fill="#000080" d="M277 385l5 4 4 0-5 1 1-2zM432 354l5-1 4 9-5 1 0-5zM477 344l5 4 4 1-5 0 1-1zM607 319l5-1 4 5-5 1 1-3zM622 315l5 4 4 5-5-4 0 0zM642 311l5 4 4 5-5 1 0-4zM667 307l5 3 4 0-5 2 1-2zM672 310l5-1 4 0-5 1 0 0zM677 309l5-1 4 5-5-4 1 1zM802 279l5 1 4 8-5-3 0-2z"/>
<path fill="#000090" d="M277 385l4 5 1-2zM567 327l4 9 1-4zM622 315l4 5 0 0zM647 315l5-4 4 8-5 1 1-4zM762 288l4 6 0-3zM802 279l4 6 0-2z"/>
<path fill="#0008a0" d="M282 389l5-7 4 6-5 1 0-2zM302 378l4 7 0-2zM327 375l4 3 1-1zM362 369l4 2 0-1zM392 361l5 1 4 4-5 5 0-6zM407 363l5-6 4 6-5 5 1-5zM412 357l4 6 0-3zM427 353l4 8 1-3zM472 347l5-3 4 5-5 2 0-3zM487 340l4 12 1-6zM537 331l4 7 1-3zM547 331l4 4 1-2zM552 334l4-1 0 1zM587 321l4 6 1-2zM592 322l5-2 4 6-5 5 0-6zM617 315l4 5 1-2zM627 319l5-1 4 0-5 6 1-4zM697 301l4 3 1-2zM712 302l5-6 4 10-5 1 0-4zM717 296l5-1 4 7-5 4 1-6zM737 291l4 6 1-2zM792 280l4 6 0-2zM797 280l5-1 4 6-5 5 1-6zM812 278l5-1 4 4-5 6 0-6z"/>
<path fill="#000880" d="M287 382l5-1 4 5-5 2 1-4zM312 378l5-2 4 10-5 1 0-5zM397 362l5-3 4 7-5 0 1-3zM402 359l5 4 4 5-5-2 0-2zM577 325l5 3 4 0-5 6 1-5zM632 318l5-1 4 0-5 1 0 0zM637 317l5-6 4 10-5-4 1-1zM817 277l5-2 4 5-5 1 1-3z"/>
<path fill="#0008b0" d="M312 378l4 9 0-5zM322 374l5 1 4 3-5 7 0-7zM352 374l5-7 4 6-5 1 0-2zM392 361l4 10 0-6zM417 355l5 1 4 4-5 6 1-7zM442 353l5-4 4 7-5 1 0-3zM472 347l4 4 0-3zM482 348l5-8 4 12-5-3 0-2zM532 338l5-7 4 7-5 5 0-5zM542 336l5-5 4 4-5-1 0 0zM582 328l5-7 4 6-5 1 0-2zM612 318l5-3 4 5-5 3 0-4zM637 317l4 0 1-1zM672 310l4 0 0 0zM712 302l4 5 0-4zM717 296l4 10 1-6zM797 280l4 10 1-6zM812 278l4 9 0-6z"/>
<path fill="#000890" d="M337 373l5-4 4 12-5-3 1-3zM357 367l5 2 4 2-5 2 1-3zM382 361l5 0 4 11-5-5 0-2zM447 349l5-1 4 6-5 2 1-4zM487 340l5 2 4 9-5 1 1-6z"/>
<path fill="#0010c8" d="M337 373l4 5 1-3zM342 369l4 12 0-7zM377 364l4 6 1-4zM447 349l4 7 1-4z"/>
<path fill="#0010b8" d="M342 369l5 3 4 2-5 7 0-7z"/>
<path fill="#0010b0" d="M377 364l5-3 4 6-5 3 1-4z"/>
<path fill="#0010c0" d="M442 353l4 4 0-3z"/>
<path fill="#000088" d="M527 336l4 4 1-1zM657 309l4 5 1-1zM702 300l4 5 0-2zM707 303l4 1 1 0zM772 286l4 9 0-4z"/>
<path fill="#000098" d="M236 403l5-1 5 1-5 5 0-4zM251 397l5-1 5 4-5 5 0-5zM396 371l5-5 5 5-5 5 0-5zM411 368l5-5 5 9-5 1 0-4zM436 363l5-1 5 0-5 6 0-4zM471 356l5-5 5 5-5 1 0-2zM596 331l5-5 5 5-5 5 0-5zM721 306l5-4 5 4-5 5 0-5zM731 300l5-1 5 5-5 5 0-6zM771 296l5-1 5 1-5 5 0-4zM791 292l5-6 5 10-5 1 0-4zM811 288l5-1 5 0-5 6 0-4z"/>
<path fill="#0000a8" d="M236 403l5 5 0-4zM396 371l5 5 0-5zM401 366l5 5 0-3zM411 368l5 5 0-4zM471 356l5 1 0-2zM571 336l5 1 0-1zM576 335l5 1 0-1zM596 331l5 5 0-5zM721 306l5 5 0-5zM731 300l5 9 0-6zM746 297l5 9 0-5zM771 296l5 5 0-4zM776 295l5 1 0-1zM781 294l5 1 0-1z"/>
<path fill="#0008a0" d="M241 402l5-5 5 4-5 2 0-2zM281 390l5 3 0-1zM341 378l5 3 0 0zM376 375l5-5 5 5-5 0 0-1zM386 367l5 11 0-4zM421 366l5-6 5 10-5 1 0-4zM426 360l5 1 5 4-5 5 0-6zM451 356l5-2 5 5-5 6 0-7zM491 352l5-1 5-1-5 7 0-5zM501 344l5 6 0-3zM526 339l5 7 0-4zM556 333l5 7 0-2zM616 323l5 3 0-1zM626 320l5 5 0-2zM651 320l5-1 5 0-5 6 0-4zM656 319l5-5 5 4-5 1 0-1zM666 317l5-5 5 4-5 1 0-1zM691 312l5-6 5 6-5 0 0-2z"/>
<path fill="#0008b0" d="M241 402l5 1 0-2zM291 388l5 5 0-3zM296 386l5 6 0-3zM371 376l5 1 0-1zM376 375l5 0 0-1zM421 366l5 5 0-4zM451 356l5 9 0-7zM476 351l5 5 0-3zM481 349l5 6 0-3zM641 317l5 10 0-5zM651 320l5 5 0-4zM671 312l5 4 0-3zM691 312l5 0 0-2zM706 305l5 4 0-2zM751 296l5 9 0-5zM816 287l5 0 0-1zM821 281l5 10 0-5z"/>
<path fill="#000880" d="M246 397l5 0 5 8-5-4 0-1zM301 386l5-1 5 4-5 3 0-4zM306 385l5-1 5 9-5-4 0-1zM511 342l5 5 5 5-5 1 0-5zM531 340l5 3 5-1-5 3 0-3zM561 338l5-1 5-1-5 3 0-1zM566 337l5-1 5 1-5-1 0 0zM586 328l5-1 5 10-5-4 0-2zM636 318l5-1 5 10-5 1 0-6zM661 314l5 3 5 0-5 1 0-2zM676 310l5-1 5 7-5-1 0-3zM706 305l5-1 5 5-5 0 0-2zM736 299l5-2 5 5-5 2 0-4zM741 297l5 0 5 9-5-4 0-2zM806 285l5 3 5 5-5-5 0 0zM821 281l5-1 5 10-5 1 0-5z"/>
<path fill="#000898" d="M246 397l5 4 0-1zM271 391l5 4 0-1zM306 385l5 4 0-1zM366 371l5 6 0-2zM456 354l5 5 0-1zM466 354l5 2 0 0zM506 345l5 5 0-2zM511 342l5 11 0-5zM586 328l5 5 0-2zM661 314l5 4 0-2zM681 309l5 7 0-4zM741 297l5 5 0-2zM806 285l5 3 0 0z"/>
<path fill="#0000b0" d="M251 397l5 8 0-5zM256 396l5 4 0-2zM286 389l5 9 0-6zM436 363l5 5 0-4zM441 362l5 0 0-1zM791 292l5 5 0-4zM811 288l5 5 0-4z"/>
<path fill="#000080" d="M256 396l5-1 5 4-5 1 0-2zM291 388l5-2 5 6-5 1 0-3zM296 386l5 0 5 6-5 0 0-3zM371 376l5-1 5 0-5 2 0-1zM456 354l5 0 5 9-5-4 0-1zM476 351l5-2 5 6-5 1 0-3zM481 349l5 0 5 5-5 1 0-3zM591 327l5 4 5 5-5 1 0-4zM641 317l5 4 5 1-5 5 0-5zM671 312l5-2 5 5-5 1 0-3zM751 296l5 3 5 0-5 6 0-5zM816 287l5-6 5 10-5-4 0-1z"/>
<path fill="#000888" d="M261 395l5-4 5 11-5-3 0-2zM271 391l5 4 5 1-5-1 0-1zM281 390l5-1 5 9-5-5 0-1zM331 378l5 5 5 1-5 5 0-5zM341 378l5 3 5 2-5-2 0 0zM351 374l5 0 5 6-5 1 0-4zM356 374l5-1 5 5-5 2 0-4zM361 373l5-2 5 6-5 1 0-3zM366 371l5 5 5 1-5 0 0-2zM381 370l5-3 5 11-5-3 0-3zM386 367l5 5 5 5-5 1 0-4zM466 354l5 2 5 1-5-1 0 0zM501 344l5 1 5 5-5 0 0-3zM506 345l5-3 5 11-5-3 0-2zM521 341l5-2 5 7-5-1 0-2zM526 339l5 1 5 5-5 1 0-4zM541 338l5-4 5 12-5-4 0-2zM546 334l5 1 5 10-5 1 0-6zM556 333l5 5 5 1-5 1 0-2zM601 326l5-3 5 11-5-3 0-3zM611 324l5-1 5 3-5 3 0-3zM616 323l5-3 5 11-5-5 0-1zM626 320l5 4 5-1-5 2 0-2zM631 324l5-6 5 10-5-5 0 0zM681 309l5 4 5-1-5 4 0-4zM686 313l5-1 5 0-5 0 0 0zM696 306l5-2 5 7-5 1 0-4zM701 304l5 1 5 4-5 2 0-4zM761 294l5 0 5 3-5 0 0-1z"/>
<path fill="#0008b8" d="M261 395l5 4 0-2zM276 395l5 1 0-2zM301 386l5 6 0-4zM336 383l5 1 0-2zM346 381l5 2 0-3zM351 374l5 7 0-4zM356 374l5 6 0-4zM361 373l5 5 0-3zM426 360l5 10 0-6zM461 354l5 9 0-6zM491 352l5 5 0-5zM516 347l5 5 0-6zM521 341l5 4 0-2zM531 340l5 5 0-3zM536 343l5-1 0-1zM561 338l5 1 0-1zM566 337l5-1 0 0zM581 334l5 1 0-3zM611 324l5 5 0-3zM631 324l5-1 0 0zM636 318l5 10 0-6zM656 319l5 0 0-1zM666 317l5 0 0-1zM676 310l5 5 0-3zM686 313l5-1 0 0zM696 306l5 6 0-4zM701 304l5 7 0-4zM736 299l5 5 0-4zM756 299l5 0 0-2zM761 294l5 3 0-1zM801 290l5 5 0-5z"/>
<path fill="#0008a8" d="M266 391l5 0 5 4-5 7 0-7zM276 395l5-5 5 3-5 3 0-2zM326 385l5-7 5 11-5 1 0-4zM336 383l5-5 5 3-5 3 0-2zM346 381l5-7 5 7-5 2 0-3zM461 354l5 0 5 2-5 7 0-6zM496 351l5-7 5 6-5 0 0-1zM516 347l5-6 5 4-5 7 0-6zM536 343l5-5 5 4-5 0 0-1zM551 335l5-2 5 7-5 5 0-7zM581 334l5-6 5 5-5 2 0-3zM606 323l5 1 5 5-5 5 0-6zM621 320l5 0 5 5-5 6 0-7zM756 299l5-5 5 3-5 2 0-2zM801 290l5-5 5 3-5 7 0-5z"/>
<path fill="#0008c0" d="M266 391l5 11 0-7zM326 385l5 5 0-4zM331 378l5 11 0-5zM381 370l5 5 0-3zM496 351l5-1 0-1zM541 338l5 4 0-2zM546 334l5 12 0-6zM551 335l5 10 0-7zM601 326l5 5 0-3zM606 323l5 11 0-6zM621 320l5 11 0-7z"/>
<path fill="#0000a0" d="M286 389l5-1 5 5-5 5 0-6zM441 362l5-5 5 5-5 0 0-1z"/>
<path fill="#000078" d="M311 384l5 3 5 5-5 1 0-4zM401 366l5 0 5 4-5 1 0-3zM406 366l5 2 5 5-5-3 0-1zM416 363l5 3 5 5-5 1 0-4zM431 361l5 2 5 5-5-3 0-1zM446 357l5-1 5 9-5-3 0-2zM486 349l5 3 5 5-5-3 0-1zM571 336l5-1 5 1-5 1 0-1zM576 335l5-1 5 1-5 1 0-1zM646 321l5-1 5 5-5-3 0 0zM711 304l5 3 5 5-5-3 0-1zM726 302l5-2 5 9-5-3 0-2zM746 297l5-1 5 9-5 1 0-5zM766 294l5 2 5 5-5-4 0 0zM776 295l5-1 5 1-5 1 0-1zM781 294l5-1 5 0-5 2 0-1zM786 293l5-1 5 5-5-4 0 1zM796 286l5 4 5 5-5 1 0-4z"/>
<path fill="#000088" d="M311 384l5 9 0-4zM416 363l5 9 0-4zM646 321l5 1 0 0zM711 304l5 5 0-1z"/>
<path fill="#000090" d="M406 366l5 4 0-1zM431 361l5 4 0-1zM446 357l5 5 0-2zM486 349l5 5 0-1zM591 327l5 10 0-4zM726 302l5 4 0-2zM766 294l5 3 0 0zM786 293l5 0 0 1zM796 286l5 10 0-4z"/>
<path fill="#000098" d="M241 408l5-5 5 9-5 1 0-4zM256 405l5-5 5 9-5 1 0-4zM401 376l5-5 5 9-5 1 0-4zM421 372l5-1 5 1-5 5 0-4zM431 370l5-5 5 9-5 1 0-4zM441 368l5-6 5 10-5 1 0-4zM486 355l5-1 5 5-5 5 0-6zM601 336l5-5 5 9-5 1 0-4zM611 334l5-5 5 4-5 6 0-5zM646 327l5-5 5 9-5 1 0-4zM721 312l5-1 5 1-5 5 0-4zM816 293l5-6 5 10-5 1 0-4z"/>
<path fill="#0000a8" d="M241 408l5 5 0-4zM256 405l5 5 0-4zM356 381l5 9 0-5zM401 376l5 5 0-4zM406 371l5 9 0-5zM421 372l5 5 0-4zM431 370l5 5 0-4zM476 357l5 9 0-5zM481 356l5 9 0-5zM486 355l5 9 0-6zM561 340l5 9 0-5zM576 337l5 9 0-5zM581 336l5 9 0-5zM601 336l5 5 0-4zM611 334l5 5 0-5zM646 327l5 5 0-4zM701 312l5 9 0-5zM721 312l5 5 0-4zM726 311l5 1 0-1zM781 296l5 5 0-3z"/>
<path fill="#000080" d="M246 403l5-2 5 10-5 1 0-5zM251 401l5 4 5 5-5 1 0-4zM261 400l5-1 5 9-5 1 0-5zM266 399l5 3 5 0-5 6 0-5zM296 393l5-1 5 4-5 1 0-3zM301 392l5 0 5 3-5 1 0-2zM311 389l5 4 5 5-5 1 0-4zM321 392l5-1 5 0-5 1 0 0zM326 391l5-1 5 1-5 0 0 0zM331 390l5-1 5 0-5 2 0-1zM336 389l5-5 5 9-5-4 0 0zM446 362l5 0 5 9-5 1 0-5zM461 359l5 4 5 5-5-3 0-1zM516 353l5-1 5 0-5 2 0-1zM546 342l5 4 5 5-5 1 0-4zM556 345l5-5 5 9-5-4 0 0zM591 333l5 4 5 5-5-3 0-1zM676 316l5-1 5 10-5 1 0-6zM696 312l5 0 5 9-5-4 0-1zM706 311l5-2 5 10-5 1 0-5zM711 309l5 0 5 9-5 1 0-5zM746 302l5 4 5 5-5-3 0-1zM756 305l5-6 5 10-5-3 0-1zM771 297l5 4 5-1-5 7 0-6zM786 295l5-2 5 10-5-3 0-2zM791 293l5 4 5 0-5 6 0-5zM796 297l5-1 5 0-5 1 0-1zM801 296l5-1 5 5-5-4 0 1z"/>
<path fill="#0008b0" d="M246 403l5 9 0-5zM266 399l5 9 0-5zM296 393l5 4 0-3zM301 392l5 4 0-2zM316 393l5 5 0-4zM321 392l5 0 0 0zM326 391l5 0 0 0zM331 390l5 1 0-1zM336 389l5 0 0 0zM371 377l5 10 0-6zM451 362l5 9 0-5zM516 353l5 1 0-1zM551 346l5 5 0-4zM556 345l5 0 0 0zM586 335l5 9 0-6zM656 325l5 5 0-4zM681 315l5 10 0-6zM706 311l5 9 0-5zM711 309l5 10 0-5zM736 309l5 5 0-5zM756 305l5 1 0-1zM771 297l5 10 0-6zM776 301l5-1 0 0zM796 297l5 0 0-1z"/>
<path fill="#000898" d="M251 401l5 10 0-4zM306 392l5 3 0-1zM311 389l5 10 0-4zM366 378l5 6 0-2zM381 375l5 5 0-2zM471 356l5 5 0-1zM571 336l5 7 0-3zM621 326l5 6 0-1zM671 317l5 6 0-3zM746 302l5 6 0-1zM811 288l5 11 0-5z"/>
<path fill="#0000b0" d="M261 400l5 9 0-5zM441 368l5 5 0-4zM446 362l5 10 0-5zM676 316l5 10 0-6zM791 293l5 10 0-5zM816 293l5 5 0-4z"/>
<path fill="#0008a8" d="M271 402l5-7 5 7-5 0 0-2zM281 396l5-3 5 6-5 2 0-4zM291 398l5-5 5 4-5 0 0-1zM361 380l5-2 5 6-5 5 0-6zM466 363l5-7 5 5-5 7 0-6zM521 352l5-7 5 7-5 0 0-2zM566 339l5-3 5 7-5 5 0-6zM691 312l5 0 5 5-5 6 0-7z"/>
<path fill="#0008b8" d="M271 402l5 0 0-2zM276 395l5 7 0-4zM291 398l5-1 0-1zM341 384l5 9 0-5zM346 381l5 11 0-6zM361 380l5 9 0-6zM376 377l5 5 0-4zM456 365l5 0 0-1zM466 363l5 5 0-6zM496 357l5 5 0-4zM501 350l5 11 0-6zM506 350l5 10 0-6zM521 352l5 0 0-2zM526 345l5 7 0-4zM536 345l5 9 0-6zM541 342l5 11 0-6zM566 339l5 9 0-6zM616 329l5 4 0-3zM626 331l5 5 0-6zM661 319l5 10 0-7zM666 318l5 6 0-4zM686 316l5 4 0-2zM691 312l5 11 0-7zM741 304l5 4 0-2zM761 299l5 10 0-6zM766 297l5 11 0-6zM806 295l5 5 0-4z"/>
<path fill="#000888" d="M276 395l5 1 5 5-5 1 0-4zM286 393l5 5 5-1-5 2 0-2zM341 384l5-3 5 11-5 1 0-5zM346 381l5 2 5 4-5 5 0-6zM471 356l5 1 5 9-5-5 0-1zM526 345l5 1 5 4-5 2 0-4zM616 329l5-3 5 6-5 1 0-3zM631 325l5-2 5 6-5 1 0-3zM636 323l5 5 5 0-5 1 0-2zM686 316l5-4 5 11-5-3 0-2z"/>
<path fill="#0008c0" d="M281 396l5 5 0-4zM631 325l5 5 0-3z"/>
<path fill="#0008a0" d="M286 393l5 6 0-2zM371 377l5 0 5 5-5 5 0-6zM456 365l5-6 5 6-5 0 0-1zM496 357l5-7 5 11-5 1 0-4zM506 350l5 0 5 5-5 5 0-6zM551 346l5-1 5 0-5 6 0-4zM586 335l5-2 5 6-5 5 0-6zM626 331l5-6 5 5-5 6 0-6zM636 323l5 6 0-2zM656 325l5-6 5 10-5 1 0-4zM661 319l5-1 5 6-5 5 0-7zM776 301l5-5 5 5-5-1 0 0zM806 295l5-7 5 11-5 1 0-4z"/>
<path fill="#000880" d="M306 392l5-3 5 10-5-4 0-1zM366 378l5-1 5 10-5-3 0-2zM376 377l5-2 5 5-5 2 0-4zM381 375l5 0 5 9-5-4 0-2zM451 362l5 3 5 0-5 6 0-5zM501 350l5 0 5 10-5 1 0-6zM536 345l5-3 5 11-5 1 0-6zM541 342l5 0 5 10-5 1 0-6zM571 336l5 1 5 9-5-3 0-3zM621 326l5 5 5 5-5-4 0-1zM666 318l5-1 5 6-5 1 0-4zM671 317l5-1 5 10-5-3 0-3zM741 304l5-2 5 6-5 0 0-2zM761 299l5-2 5 11-5 1 0-6zM766 297l5 0 5 10-5 1 0-6zM811 288l5 5 5 5-5 1 0-5z"/>
<path fill="#0000a0" d="M316 393l5-1 5 0-5 6 0-4zM681 315l5 1 5 4-5 5 0-6zM736 309l5-5 5 4-5 6 0-5zM751 306l5 5 0-4z"/>
<path fill="#000078" d="M351 383l5-2 5 9-5-3 0-2zM356 381l5-1 5 9-5 1 0-5zM386 375l5 3 5 5-5 1 0-4zM406 371l5-1 5 9-5 1 0-5zM411 370l5 3 5 5-5 1 0-4zM426 371l5-1 5 5-5-3 0 0zM436 365l5 3 5 5-5 1 0-4zM476 357l5-1 5 9-5 1 0-5zM481 356l5-1 5 9-5 1 0-5zM491 354l5 3 5 5-5-3 0-1zM511 350l5 3 5 1-5 1 0-2zM531 346l5-1 5 9-5-4 0-1zM561 340l5-1 5 9-5 1 0-5zM576 337l5-1 5 9-5 1 0-5zM581 336l5-1 5 9-5 1 0-5zM606 331l5 3 5 5-5 1 0-4zM641 328l5-1 5 5-5-4 0 1zM651 322l5 3 5 5-5 1 0-4zM701 312l5-1 5 9-5 1 0-5zM716 309l5 3 5 5-5 1 0-4zM726 311l5-5 5 9-5-3 0-1zM731 306l5 3 5 5-5 1 0-4zM781 296l5-1 5 5-5 1 0-3zM821 287l5 4 5 5-5 1 0-4z"/>
<path fill="#000090" d="M351 383l5 4 0-2zM386 375l5 9 0-4zM411 370l5 9 0-4zM436 365l5 9 0-4zM461 359l5 6 0-1zM491 354l5 5 0-1zM511 350l5 5 0-2zM531 346l5 4 0-1zM546 342l5 10 0-4zM591 333l5 6 0-1zM606 331l5 9 0-4zM641 328l5 0 0 1zM696 312l5 5 0-1zM751 306l5-1 5 1-5 5 0-4zM786 295l5 5 0-2zM801 296l5 0 0 1zM821 287l5 10 0-4z"/>
<path fill="#000088" d="M426 371l5 1 0 0zM651 322l5 9 0-4zM716 309l5 9 0-4zM731 306l5 9 0-4z"/>
<path fill="#000090" d="M256 411l5-1 5 1-5 5 0-4zM416 379l5 0 0 1zM486 365l5-1 5 1-5 5 0-4zM501 362l5 0 0 1zM536 350l5 5 0-1zM551 352l5-1 5 1-5 5 0-4zM581 346l5 0 0 1zM606 341l5-1 5 1-5 5 0-4zM626 332l5 10 0-4zM646 328l5 6 0-1zM666 329l5-5 5 5-5 5 0-5zM671 324l5 5 0-2zM701 317l5 5 0 0zM756 311l5-5 5 5-5 5 0-5zM791 300l5 5 0-2z"/>
<path fill="#0000a0" d="M256 411l5 5 0-4zM261 410l5 1 0-1zM436 375l5-1 5 0-5 6 0-4zM506 361l5-1 5 0-5 6 0-4zM531 352l5-2 5 5-5 6 0-7zM606 341l5 5 0-4zM631 336l5-6 5 10-5 1 0-4zM641 329l5-1 5 6-5 5 0-7zM666 329l5 5 0-5zM741 314l5-6 5 5-5 6 0-5zM796 303l5-6 5 5-5 1 0-2z"/>
<path fill="#000078" d="M261 410l5-1 5 1-5 1 0-1zM266 409l5-1 5 1-5 1 0-1zM281 402l5-1 5 9-5 1 0-5zM366 389l5-5 5 9-5-3 0-1zM371 384l5 3 5 5-5 1 0-4zM396 383l5-1 5 5-5-3 0 0zM446 373l5-1 5 1-5 0 0 0zM451 372l5-1 5 1-5 1 0-1zM466 365l5 3 5 5-5 1 0-4zM501 362l5-1 5 5-5-4 0 1zM581 346l5-1 5 5-5-4 0 1zM596 339l5 3 5 5-5-3 0-1zM646 328l5 4 5 5-5-3 0-1zM671 324l5-1 5 9-5-3 0-2zM676 323l5 3 5 5-5 1 0-4zM686 325l5-5 5 9-5-3 0-1zM691 320l5 3 5 5-5 1 0-4zM726 317l5-5 5 9-5-4 0 0zM731 312l5 3 5 5-5 1 0-4zM751 308l5 3 5 5-5 1 0-4zM761 306l5 3 5 1-5 1 0-2zM766 309l5-1 5 5-5-3 0 0zM791 300l5 3 5 0-5 2 0-2z"/>
<path fill="#0000a8" d="M266 409l5 1 0-1zM281 402l5 9 0-5zM366 389l5 1 0-1zM376 387l5 5 0-4zM446 373l5 0 0 0zM451 372l5 1 0-1zM486 365l5 5 0-4zM551 352l5 5 0-4zM571 348l5 5 0-4zM591 344l5 5 0-5zM681 326l5 5 0-4zM686 325l5 1 0-1zM721 318l5 5 0-4zM726 317l5 0 0 0zM756 311l5 5 0-5zM831 296l5 5 0-4z"/>
<path fill="#000080" d="M271 408l5-6 5 10-5-3 0-1zM276 402l5 0 5 9-5 1 0-5zM301 397l5-1 5 6-5 1 0-3zM306 396l5-1 5 10-5-3 0-2zM311 395l5 4 5 0-5 6 0-5zM316 399l5-1 5 0-5 1 0-1zM321 398l5-6 5 10-5-4 0 0zM326 392l5-1 5 10-5 1 0-6zM331 391l5 0 5 9-5 1 0-5zM341 389l5 4 5 5-5-3 0-1zM356 387l5 3 5 0-5 2 0-2zM361 390l5-1 5 1-5 0 0 0zM391 384l5-1 5 1-5 0 0 0zM416 379l5-1 5 5-5-4 0 1zM431 372l5 3 5 5-5-5 0 1zM441 374l5-1 5 0-5 1 0 0zM496 359l5 3 5 0-5 1 0-1zM511 360l5-5 5 9-5-4 0 0zM521 354l5-2 5 10-5-4 0-2zM526 352l5 0 5 9-5 1 0-5zM536 350l5 4 5 5-5-4 0-1zM561 345l5 4 5 5-5-4 0 0zM576 343l5 3 5 0-5 6 0-5zM611 340l5-1 5 0-5 2 0-1zM616 339l5-6 5 10-5-4 0-1zM621 333l5-1 5 10-5 1 0-5zM626 332l5 4 5 5-5 1 0-4zM636 330l5-1 5 10-5 1 0-6zM701 317l5 4 5 5-5-4 0 0zM746 308l5 0 5 9-5-4 0-1zM786 301l5-1 5 5-5 0 0-2zM806 296l5 4 5 5-5-3 0-1z"/>
<path fill="#0008b0" d="M271 408l5 1 0-1zM276 402l5 10 0-5zM286 401l5 9 0-5zM301 397l5 6 0-3zM311 395l5 10 0-5zM316 399l5 0 0-1zM321 398l5 0 0 0zM326 392l5 10 0-6zM331 391l5 10 0-5zM336 391l5 9 0-6zM346 393l5 5 0-4zM351 392l5 0 0-1zM361 390l5 0 0 0zM381 382l5 9 0-5zM391 384l5 0 0 0zM406 381l5 5 0-4zM426 377l5 5 0-6zM436 375l5 5 0-4zM441 374l5 0 0 0zM491 364l5 1 0-2zM511 360l5 0 0 0zM516 355l5 9 0-6zM526 352l5 10 0-5zM531 352l5 9 0-7zM556 351l5 1 0-2zM611 340l5 1 0-1zM616 339l5 0 0-1zM621 333l5 10 0-5zM631 336l5 5 0-4zM636 330l5 10 0-6zM641 329l5 10 0-7zM741 314l5 5 0-5zM776 307l5 5 0-4zM781 300l5 11 0-7zM786 301l5 4 0-2zM796 303l5 0 0-2zM801 297l5 5 0-3z"/>
<path fill="#000880" d="M286 401l5-2 5 10-5 1 0-5zM381 382l5-2 5 10-5 1 0-5zM386 380l5 4 5 0-5 6 0-6zM411 380l5-1 5 0-5 0 0 0zM461 365l5 0 5 9-5-4 0-2zM476 361l5 5 5 5-5-4 0-1zM801 297l5-1 5 6-5 0 0-3z"/>
<path fill="#0008a8" d="M291 399l5-2 5 7-5 5 0-7z"/>
<path fill="#0008b8" d="M291 399l5 10 0-7zM386 380l5 10 0-6zM411 380l5-1 0 0zM456 371l5 1 0-2zM471 368l5 5 0-6z"/>
<path fill="#000888" d="M296 397l5 0 5 6-5 1 0-4z"/>
<path fill="#0008c0" d="M296 397l5 7 0-4z"/>
<path fill="#000898" d="M306 396l5 6 0-2zM341 389l5 6 0-1zM356 387l5 5 0-2zM431 372l5 3 0 1zM461 365l5 5 0-2zM476 361l5 6 0-1zM496 359l5 4 0-1zM561 345l5 5 0 0zM746 308l5 5 0-1zM806 296l5 6 0-1z"/>
<path fill="#0008a0" d="M336 391l5-2 5 6-5 5 0-6zM346 393l5-1 5 0-5 6 0-4zM351 392l5-5 5 5-5 0 0-1zM406 381l5-1 5-1-5 7 0-4zM426 377l5-5 5 3-5 7 0-6zM456 371l5-6 5 5-5 2 0-2zM471 368l5-7 5 6-5 6 0-6zM491 364l5-5 5 4-5 2 0-2zM516 355l5-1 5 4-5 6 0-6zM556 351l5-6 5 5-5 2 0-2zM776 307l5-7 5 11-5 1 0-4zM781 300l5 1 5 4-5 6 0-7z"/>
<path fill="#000088" d="M371 384l5 9 0-4zM396 383l5 1 0 0zM466 365l5 9 0-4zM596 339l5 5 0-1zM676 323l5 9 0-4zM691 320l5 9 0-4zM731 312l5 9 0-4zM751 308l5 9 0-4zM761 306l5 5 0-2zM766 309l5 1 0 0z"/>
<path fill="#000098" d="M376 387l5-5 5 9-5 1 0-4zM521 354l5 4 0-2zM571 348l5-5 5 9-5 1 0-4zM591 344l5-5 5 5-5 5 0-5zM681 326l5-1 5 1-5 5 0-4zM696 323l5-6 5 5-5 6 0-6zM721 318l5-1 5 0-5 6 0-4zM831 296l5-1 5 0-5 6 0-4z"/>
<path fill="#0000b0" d="M506 361l5 5 0-4zM576 343l5 9 0-5zM696 323l5 5 0-6z"/>
<path fill="#000090" d="M251 418l5-1 5 1-5 5 0-4zM261 416l5-5 5 9-5 1 0-4zM271 410l5 4 0-1zM311 402l5 4 0 0zM326 398l5 10 0-4zM346 395l5 4 0 0zM386 391l5 0 0 1zM401 384l5 4 0 0zM451 373l5 5 0-2zM481 367l5 10 0-4zM491 370l5-5 5 9-5 1 0-4zM506 362l5 6 0-1zM516 360l5 10 0-4zM526 358l5 5 0-1zM541 355l5 6 0-2zM556 357l5-5 5 9-5 1 0-4zM566 350l5 10 0-4zM586 346l5 10 0-4zM601 344l5 4 0 0zM611 346l5-5 5 9-5 1 0-4zM631 342l5 0 0 1zM651 334l5 4 0-1zM706 322l5 5 0-1zM716 325l5-1 5 1-5 5 0-4zM731 317l5 10 0-4zM741 320l5-1 5 1-5 5 0-4zM751 313l5 10 0-4zM761 316l5-5 5 9-5 1 0-4zM801 303l5 5 0-2zM811 302l5 4 0-2zM816 305l5 0 0 1zM831 302l5 0 0 1z"/>
<path fill="#0000a0" d="M251 418l5 5 0-4zM261 416l5 5 0-4zM266 411l5-1 5 4-5 6 0-6zM316 405l5-6 5 10-5 1 0-4zM341 400l5-5 5 4-5 6 0-5zM391 390l5-6 5 10-5 1 0-4zM511 366l5-6 5 10-5 1 0-4zM521 364l5-6 5 5-5 6 0-5zM536 361l5-6 5 6-5 5 0-5zM611 346l5 5 0-4zM656 337l5 1 0-1zM661 336l5 1 0-1zM666 335l5 1 0-1zM671 334l5 1 0-1zM716 325l5 5 0-4zM741 320l5 5 0-4zM761 316l5 5 0-4zM786 311l5-6 5 6-5 5 0-5zM806 302l5 0 5 4-5 6 0-6z"/>
<path fill="#000078" d="M256 417l5-1 5 5-5-3 0 0zM336 401l5-1 5 5-5-3 0 0zM371 390l5 3 5 5-5 1 0-4zM386 391l5-1 5 5-5-4 0 1zM401 384l5 3 5 5-5-4 0 0zM426 383l5-1 5 5-5-3 0 0zM456 373l5-1 5 9-5 1 0-5zM471 374l5-1 5 1-5 0 0 0zM476 373l5-6 5 10-5-3 0-1zM481 367l5 4 5 5-5 1 0-4zM506 362l5 4 5 5-5-3 0-1zM546 359l5-1 5 1-5 1 0-1zM551 358l5-1 5 5-5-3 0 0zM561 352l5-2 5 10-5 1 0-5zM566 350l5 4 5 5-5 1 0-4zM586 346l5 4 5 5-5 1 0-4zM601 344l5 3 5 5-5-4 0 0zM626 343l5-1 5 0-5 1 0-1zM631 342l5-1 5 5-5-4 0 1zM651 334l5 3 5 1-5 0 0-1zM656 337l5-1 5 1-5 1 0-1zM661 336l5-1 5 1-5 1 0-1zM666 335l5-1 5 1-5 1 0-1zM671 334l5-5 5 9-5-3 0-1zM676 329l5 3 5 5-5 1 0-4zM691 326l5 3 5 5-5 1 0-4zM706 322l5 4 5 5-5-4 0-1zM721 324l5-1 5 5-5-3 0 0zM731 317l5 4 5 5-5 1 0-4zM746 319l5-6 5 10-5-3 0-1zM751 313l5 4 5 5-5 1 0-4zM766 311l5-1 5 9-5 1 0-5zM771 310l5 3 5 1-5 5 0-5zM776 313l5-1 5 5-5-3 0 0zM811 302l5 3 5 0-5 1 0-2zM816 305l5-1 5 5-5-4 0 1zM826 303l5-1 5 0-5 1 0-1zM831 302l5-1 5 5-5-4 0 1z"/>
<path fill="#000088" d="M256 417l5 1 0 0zM336 401l5 1 0 0zM371 390l5 9 0-4zM426 383l5 1 0 0zM551 358l5 1 0 0zM676 329l5 9 0-4zM691 326l5 9 0-4zM721 324l5 1 0 0zM776 313l5 1 0 0z"/>
<path fill="#0000b0" d="M266 411l5 9 0-6zM316 405l5 5 0-4zM421 379l5 10 0-5zM511 366l5 5 0-4zM536 361l5 5 0-5zM596 349l5 0 0-1zM786 311l5 5 0-5z"/>
<path fill="#000080" d="M271 410l5-1 5 9-5-4 0-1zM281 412l5-1 5 5-5-5 0 1zM306 403l5-1 5 4-5 1 0-3zM311 402l5 3 5 5-5-4 0 0zM321 399l5-1 5 10-5 1 0-5zM326 398l5 4 5 5-5 1 0-4zM346 395l5 3 5 5-5-4 0 0zM361 392l5-2 5 5-5 1 0-3zM366 390l5 0 5 9-5-4 0-1zM421 379l5 4 5 1-5 5 0-5zM436 375l5 5 5 5-5-3 0-2zM451 373l5 0 5 9-5-4 0-2zM516 360l5 4 5 5-5 1 0-4zM526 358l5 4 5 5-5-4 0-1zM541 355l5 4 5 1-5 1 0-2zM616 341l5-2 5 10-5 1 0-5zM621 339l5 4 5 0-5 6 0-5zM791 305l5 0 5 4-5 2 0-3zM796 305l5-2 5 5-5 1 0-3zM801 303l5-1 5 10-5-4 0-2z"/>
<path fill="#000880" d="M276 409l5 3 5-1-5 7 0-6zM291 410l5-1 5 0-5 0 0 0zM301 404l5-1 5 4-5 1 0-2zM356 392l5 0 5 4-5 1 0-3zM416 379l5 0 5 10-5-3 0-3zM446 374l5-1 5 5-5 1 0-3zM466 370l5 4 5 0-5 0 0-1zM501 363l5-1 5 6-5-1 0-2z"/>
<path fill="#0008b0" d="M276 409l5 9 0-6zM286 411l5 5 0-4zM291 410l5-1 0 0zM296 409l5 0 0-1zM301 404l5 4 0-2zM306 403l5 4 0-3zM321 399l5 10 0-5zM341 400l5 5 0-5zM351 398l5 5 0-5zM361 392l5 4 0-3zM391 390l5 5 0-4zM396 384l5 10 0-6zM431 382l5 5 0-5zM441 380l5 5 0-5zM446 374l5 5 0-3zM521 364l5 5 0-5zM616 341l5 9 0-5zM621 339l5 10 0-5zM791 305l5 6 0-3zM796 305l5 4 0-3zM806 302l5 10 0-6z"/>
<path fill="#000898" d="M281 412l5-1 0 1zM366 390l5 5 0-1zM416 379l5 7 0-3zM436 375l5 7 0-2zM466 370l5 4 0-1zM501 363l5 4 0-2z"/>
<path fill="#0008a0" d="M286 411l5-1 5-1-5 7 0-4zM296 409l5-5 5 4-5 1 0-1zM351 398l5-6 5 5-5 6 0-5zM396 384l5 0 5 4-5 6 0-6zM411 386l5-7 5 7-5 0 0-2zM431 382l5-7 5 7-5 5 0-5zM441 380l5-6 5 5-5 6 0-5zM496 365l5-2 5 4-5 7 0-7z"/>
<path fill="#000098" d="M331 402l5-1 5 1-5 5 0-4zM381 392l5-1 5 0-5 6 0-4zM406 387l5-1 5 0-5 6 0-4zM581 352l5-6 5 10-5 1 0-4zM591 350l5-1 5 0-5 6 0-4zM596 349l5-5 5 4-5 1 0-1zM646 339l5-5 5 4-5 6 0-5zM686 331l5-5 5 9-5 1 0-4zM701 328l5-6 5 5-5 6 0-5zM726 323l5-6 5 10-5 1 0-4zM821 304l5-1 5 0-5 6 0-4zM836 301l5-6 5 9-5 2 0-4z"/>
<path fill="#0000a8" d="M331 402l5 5 0-4zM381 392l5 5 0-4zM406 387l5 5 0-4zM456 373l5 9 0-5zM471 374l5 0 0 0zM476 373l5 1 0-1zM491 370l5 5 0-4zM546 359l5 1 0-1zM556 357l5 5 0-4zM561 352l5 9 0-5zM581 352l5 5 0-4zM591 350l5 5 0-4zM626 343l5 0 0-1zM646 339l5 5 0-5zM686 331l5 5 0-4zM701 328l5 5 0-5zM726 323l5 5 0-4zM746 319l5 1 0-1zM766 311l5 9 0-5zM771 310l5 9 0-5zM821 304l5 5 0-4zM826 303l5 0 0-1zM836 301l5 5 0-4z"/>
<path fill="#0008b8" d="M356 392l5 5 0-3zM411 386l5 0 0-2zM461 372l5 9 0-7zM496 365l5 9 0-7z"/>
<path fill="#0008a8" d="M461 372l5-2 5 4-5 7 0-7z"/>
<path fill="#000098" d="M256 423l5-5 5 4-5 1 0-1zM271 420l5-6 5 10-5 1 0-4zM326 409l5-1 5 0-5 6 0-4zM376 399l5-1 5 0-5 6 0-4zM386 397l5-6 5 5-5 2 0-2zM396 395l5-1 5 0-5 6 0-4zM411 392l5-6 5 10-5 1 0-4zM446 385l5-6 5 10-5 1 0-4zM491 376l5-1 5 0-5 6 0-4zM521 370l5-1 5 0-5 6 0-4zM596 355l5-6 5 10-5 1 0-4zM601 349l5-1 5 5-5 6 0-7zM626 349l5-6 5 9-5 1 0-4zM651 344l5-6 5 5-5 5 0-5zM666 337l5-1 5 5-5 4 0-5zM706 333l5-6 5 9-5 1 0-4zM716 331l5-1 5 0-5 5 0-3zM721 330l5-5 5 4-5 1 0-2zM776 319l5-5 5 8-5 1 0-3zM791 316l5-5 5 4-5 5 0-4zM811 312l5-6 5 9-5 1 0-4zM816 306l5-1 5 6-5 4 0-6zM826 309l5-6 5 9-5 1 0-4zM841 306l5-2 5 1-5 5 0-4z"/>
<path fill="#0000b0" d="M256 423l5 0 0-1zM366 396l5 10 0-6zM386 397l5 1 0-2zM446 385l5 5 0-4zM451 379l5 10 0-5zM476 374l5 6 0-4zM601 349l5 10 0-7z"/>
<path fill="#000078" d="M261 418l5 3 5 0-5 1 0-2zM266 421l5-1 5 5-5-4 0 1zM276 414l5 4 5 5-5 1 0-4zM331 408l5-1 5 1-5 0 0 0zM336 407l5-5 5 9-5-3 0-1zM341 402l5 3 5 1-5 5 0-5zM371 395l5 4 5 5-5 1 0-4zM381 398l5-1 5 1-5 0 0 0zM391 391l5 4 5 5-5-4 0 0zM416 386l5 0 5 9-5 1 0-5zM421 386l5 3 5 5-5 1 0-4zM431 384l5 3 5 5-5 1 0-4zM441 382l5 3 5 5-5 1 0-4zM456 378l5 4 5 5-5 1 0-4zM481 374l5 3 5 1-5 0 0-1zM486 377l5-1 5 5-5-3 0 0zM496 375l5-1 5 5-5-4 0 1zM511 368l5 3 5 5-5 1 0-4zM526 369l5-6 5 10-5-4 0-1zM531 363l5 4 5 5-5 1 0-4zM546 361l5-1 5 9-5-3 0-2zM551 360l5-1 5 9-5 1 0-5zM556 359l5 3 5 5-5 1 0-4zM566 361l5-1 5 1-5 1 0-1zM571 360l5-1 5 5-5-3 0 0zM606 348l5 4 5 1-5 0 0-1zM611 352l5-1 5 4-5-2 0 0zM631 343l5-1 5 9-5 1 0-5zM636 342l5 4 5 4-5 1 0-4zM656 338l5 0 5 5-5 0 0-3zM661 338l5-1 5 8-5-2 0-2zM671 336l5-1 5 8-5-2 0-2zM676 335l5 3 5 1-5 4 0-4zM681 338l5-1 5 4-5-2 0 0zM696 335l5-1 5 4-5-2 0 0zM711 327l5 4 5 4-5 1 0-4zM726 325l5 3 5 4-5-3 0-1zM741 326l5-1 5 4-5-2 0 0zM751 320l5 3 5 4-5 1 0-4zM781 314l5 3 5 4-5 1 0-4zM796 311l5-2 5 6-5 0 0-3zM821 305l5 4 5 4-5-2 0-1zM831 303l5-1 5 9-5 1 0-5zM836 302l5 4 5 4-5 1 0-4z"/>
<path fill="#000090" d="M261 418l5 4 0-2zM266 421l5 0 0 1zM276 414l5 10 0-4zM316 406l5 10 0-4zM351 399l5 6 0-1zM371 395l5 10 0-4zM391 391l5 5 0 0zM406 388l5 5 0-1zM426 389l5-5 5 9-5 1 0-4zM436 387l5-5 5 9-5 1 0-4zM456 378l5 10 0-4zM461 382l5-1 5 1-5 5 0-4zM481 374l5 4 0-1zM531 363l5 10 0-4zM541 366l5-5 5 5-5 5 0-5zM561 362l5-1 5 1-5 5 0-4zM606 348l5 5 0-1zM636 342l5 9 0-4zM691 336l5-1 5 1-5 4 0-3zM726 325l5 4 0-1zM736 327l5-1 5 1-5 4 0-3zM746 325l5-5 5 8-5 1 0-3zM806 308l5 6 0-2zM821 305l5 6 0-1zM836 302l5 9 0-4z"/>
<path fill="#0000a8" d="M271 420l5 5 0-4zM326 409l5 5 0-4zM331 408l5 0 0 0zM336 407l5 1 0-1zM341 402l5 9 0-5zM376 399l5 5 0-4zM381 398l5 0 0 0zM396 395l5 5 0-4zM411 392l5 5 0-4zM416 386l5 10 0-5zM426 389l5 5 0-4zM491 376l5 5 0-4zM521 370l5 5 0-4zM526 369l5 0 0-1zM541 366l5 5 0-5zM551 360l5 9 0-5zM566 361l5 1 0-1zM596 355l5 5 0-4zM626 349l5 4 0-4zM631 343l5 9 0-5zM651 344l5 4 0-5zM656 338l5 5 0-3zM666 337l5 8 0-5zM706 333l5 4 0-4zM716 331l5 4 0-3zM721 330l5 0 0-2zM776 319l5 4 0-3zM791 316l5 4 0-4zM796 311l5 4 0-3zM811 312l5 4 0-4zM816 306l5 9 0-6zM826 309l5 4 0-4zM831 303l5 9 0-5zM841 306l5 4 0-4z"/>
<path fill="#0008a0" d="M281 418l5-7 5 11-5 1 0-5zM291 416l5-7 5 11-5 1 0-5zM301 409l5-1 5 6-5 5 0-7zM346 405l5-6 5 6-5 1 0-2zM356 403l5-6 5 5-5 6 0-6zM501 374l5-7 5 11-5 1 0-5z"/>
<path fill="#0008b0" d="M281 418l5 5 0-5zM291 416l5 5 0-5zM296 409l5 11 0-6zM301 409l5 10 0-7zM306 408l5 6 0-4zM346 405l5 1 0-2zM356 403l5 5 0-6zM401 394l5 0 0-2zM501 374l5 5 0-5zM506 367l5 11 0-6zM801 309l5 6 0-3z"/>
<path fill="#000080" d="M286 411l5 5 5 5-5 1 0-4zM311 407l5-1 5 10-5-4 0-2zM316 406l5 4 5 5-5 1 0-4zM351 399l5 4 5 5-5-3 0-1zM361 397l5-1 5 10-5-4 0-2zM366 396l5-1 5 10-5 1 0-6zM406 388l5 4 5 5-5-4 0-1zM451 379l5-1 5 10-5 1 0-5zM476 374l5 0 5 4-5 2 0-4zM801 309l5-1 5 6-5 1 0-3zM806 308l5 4 5 4-5-2 0-2z"/>
<path fill="#000898" d="M286 411l5 11 0-4zM311 407l5 5 0-2zM361 397l5 5 0-2z"/>
<path fill="#000880" d="M296 409l5 0 5 10-5 1 0-6zM306 408l5-1 5 5-5 2 0-4zM466 381l5-7 5 11-5-3 0-2zM506 367l5 1 5 9-5 1 0-6z"/>
<path fill="#0000a0" d="M401 394l5-6 5 5-5 1 0-2zM436 387l5 5 0-4zM461 382l5 5 0-4zM561 362l5 5 0-4zM676 335l5 8 0-4zM691 336l5 4 0-3zM736 327l5 4 0-3zM746 325l5 4 0-3z"/>
<path fill="#000088" d="M421 386l5 9 0-4zM431 384l5 9 0-4zM441 382l5 9 0-4zM486 377l5 1 0 0zM496 375l5 0 0 1zM511 368l5 9 0-4zM546 361l5 5 0-2zM556 359l5 9 0-4zM571 360l5 1 0 0zM611 352l5 1 0 0zM661 338l5 5 0-2zM671 336l5 5 0-2zM681 338l5 1 0 0zM696 335l5 1 0 0zM711 327l5 9 0-4zM741 326l5 1 0 0zM751 320l5 8 0-4zM781 314l5 8 0-4z"/>
<path fill="#0008b8" d="M466 381l5 1 0-2zM471 374l5 11 0-7z"/>
<path fill="#0008a8" d="M471 374l5 0 5 6-5 5 0-7z"/>
<path fill="#000078" d="M261 423l5-1 5 10-5 1 0-5zM266 422l5-1 5 10-5 1 0-6zM271 421l5 4 5 5-5 1 0-4zM311 414l5-2 5 10-5-4 0-2zM316 412l5 4 5 5-5 1 0-4zM336 408l5 0 5 9-5 1 0-5zM341 408l5 3 5 5-5 1 0-4zM351 406l5-1 5 9-5 1 0-5zM356 405l5 3 5 5-5 1 0-4zM366 402l5 4 5 1-5 5 0-5zM371 406l5-1 5 4-5-2 0 0zM386 398l5 0 5 8-5 1 0-5zM391 398l5-2 5 9-5 1 0-5zM396 396l5 4 5 4-5 1 0-4zM421 396l5-1 5 4-5-2 0 0zM471 382l5 3 5 4-5 1 0-4zM481 380l5-2 5 9-5-2 0-3zM491 378l5 3 5 4-5-3 0 0zM501 375l5 4 5 4-5-2 0-1zM531 369l5 4 5 4-5 1 0-4zM546 371l5-5 5 8-5-3 0-1zM551 366l5 3 5 4-5 1 0-4zM571 362l5-1 5 8-5 1 0-4zM576 361l5 3 5 4-5 1 0-3zM591 362l5-1 5 4-5-3 0 0zM611 353l5 0 5 8-5-3 0-2zM616 353l5 2 5 1-5 5 0-5zM621 355l5-1 5 5-5-3 0 0zM641 351l5-1 5 5-5-3 0 0zM651 349l5-1 5 5-5-3 0 0zM661 343l5 0 5 8-5 1 0-5zM666 343l5 2 5 5-5 1 0-4zM676 341l5 2 5 5-5-2 0-2zM686 339l5 2 5 5-5 1 0-4zM701 336l5 2 5 5-5-3 0-1zM716 336l5-1 5 5-5-3 0 0zM726 330l5-1 5 9-5 1 0-5zM731 329l5 3 5 1-5 5 0-5zM736 332l5-1 5 1-5 1 0-1zM741 331l5-4 5 8-5-3 0-1zM746 327l5 2 5 5-5 1 0-4zM771 325l5-1 5 5-5-3 0 0zM801 315l5 0 5 8-5 1 0-5zM806 315l5-1 5 8-5 1 0-5zM811 314l5 2 5 5-5 1 0-4zM826 311l5 2 5 5-5 1 0-4zM841 311l5-1 5 5-5-3 0 0z"/>
<path fill="#0000a8" d="M261 423l5 10 0-5zM266 422l5 10 0-6zM306 419l5 5 0-5zM331 414l5 5 0-4zM336 408l5 10 0-5zM361 408l5 5 0-4zM366 402l5 10 0-5zM381 404l5 4 0-4zM386 398l5 9 0-5zM391 398l5 8 0-5zM401 400l5 4 0-4zM486 378l5 9 0-6zM496 381l5 4 0-5zM526 375l5 4 0-4zM541 372l5 4 0-4zM546 371l5 0 0-1zM571 362l5 8 0-4zM586 363l5 4 0-3zM606 359l5 4 0-5zM616 353l5 8 0-5zM636 352l5 5 0-4zM646 350l5 5 0-4zM656 348l5 5 0-4zM661 343l5 9 0-5zM671 345l5 5 0-4zM696 340l5 5 0-5zM711 337l5 5 0-4zM721 335l5 5 0-4zM726 330l5 9 0-5zM731 329l5 9 0-5zM736 332l5 1 0-1zM741 331l5 1 0-1zM766 326l5 5 0-4zM796 320l5 5 0-4zM801 315l5 9 0-5zM806 315l5 8 0-5zM836 312l5 5 0-4zM846 310l5 5 0-5z"/>
<path fill="#000090" d="M271 421l5 10 0-4zM311 414l5 4 0-2zM316 412l5 10 0-4zM346 411l5-5 5 9-5 1 0-4zM396 396l5 9 0-4zM411 393l5 6 0-1zM416 397l5-1 5 1-5 4 0-3zM466 387l5-5 5 8-5 1 0-3zM476 385l5-5 5 5-5 4 0-4zM481 380l5 5 0-3zM531 369l5 9 0-4zM541 372l5-1 5 0-5 5 0-4zM566 367l5-5 5 8-5 1 0-3zM611 353l5 5 0-2zM681 343l5-4 5 8-5 1 0-4zM821 315l5-4 5 8-5 1 0-4z"/>
<path fill="#000098" d="M306 419l5-5 5 4-5 6 0-5zM331 414l5-6 5 10-5 1 0-4zM361 408l5-6 5 10-5 1 0-4zM381 404l5-6 5 9-5 1 0-4zM401 400l5-6 5 9-5 1 0-4zM486 378l5 0 5 4-5 5 0-6zM496 381l5-6 5 6-5 4 0-5zM526 375l5-6 5 9-5 1 0-4zM586 363l5-1 5 0-5 5 0-3zM606 359l5-6 5 5-5 5 0-5zM636 352l5-1 5 1-5 5 0-4zM646 350l5-1 5 1-5 5 0-4zM656 348l5-5 5 9-5 1 0-4zM671 345l5-4 5 5-5 4 0-4zM696 340l5-4 5 4-5 5 0-5zM711 337l5-1 5 1-5 5 0-4zM721 335l5-5 5 9-5 1 0-4zM766 326l5-1 5 1-5 5 0-4zM796 320l5-5 5 9-5 1 0-4zM836 312l5-1 5 1-5 5 0-4zM846 310l5-5 5 5-5 5 0-5z"/>
<path fill="#000088" d="M341 408l5 9 0-4zM356 405l5 9 0-4zM371 406l5 1 0 0zM421 396l5 1 0 0zM471 382l5 8 0-4zM491 378l5 4 0 0zM501 375l5 6 0-1zM551 366l5 8 0-4zM576 361l5 8 0-3zM591 362l5 0 0 0zM621 355l5 1 0 0zM641 351l5 1 0 0zM651 349l5 1 0 0zM666 343l5 8 0-4zM676 341l5 5 0-2zM686 339l5 8 0-4zM701 336l5 4 0-1zM716 336l5 1 0 0zM746 327l5 8 0-4zM771 325l5 1 0 0zM811 314l5 8 0-4zM826 311l5 8 0-4zM841 311l5 1 0 0z"/>
<path fill="#0000a0" d="M346 411l5 5 0-4zM351 406l5 9 0-5zM406 394l5-1 5 6-5 4 0-6zM416 397l5 4 0-3zM466 387l5 4 0-3zM476 385l5 4 0-4zM566 367l5 4 0-3zM681 343l5 5 0-4zM821 315l5 5 0-4z"/>
<path fill="#0000b0" d="M406 394l5 9 0-6z"/>
<path fill="#000080" d="M411 393l5 4 5 4-5-2 0-1z"/>
<path fill="#000098" d="M311 424l5-6 4 9-5 1 1-4zM371 412l5-5 4 5-5 4 1-4zM491 387l5-5 4 9-5 1 1-4zM591 367l5-5 4 9-5 1 1-4zM611 363l5-5 4 9-5 1 1-4zM621 361l5-5 4 9-5 1 1-4zM641 357l5-5 4 9-5 1 1-4zM651 355l5-5 4 9-5 1 1-4zM701 345l5-5 4 9-5 1 1-4zM716 342l5-5 4 9-5 1 0-4zM736 338l5-5 4 9-5 1 0-4zM741 333l5-1 4 5-5 5 1-6zM771 331l5-5 4 9-5 1 1-4zM841 317l5-5 4 5-5 5 1-5zM851 315l5-5 4 9-5 1 1-4z"/>
<path fill="#0000a8" d="M311 424l4 4 1-4zM371 412l4 4 1-4zM491 387l4 5 1-4zM546 376l4 5 0-4zM591 367l4 5 1-4zM611 363l4 5 1-4zM621 361l4 5 1-4zM641 357l4 5 1-4zM651 355l4 5 1-4zM701 345l4 5 1-4zM716 342l4 5 0-4zM736 338l4 5 0-4zM741 333l4 9 1-6zM771 331l4 5 1-4zM841 317l4 5 1-5zM851 315l4 5 1-4z"/>
<path fill="#000078" d="M316 418l5 4 4 4-5 1 0-4zM351 416l5-1 4 4-5-2 1 0zM376 407l5 2 4 5-5-2 0-2zM416 399l5 2 4 5-5 1 0-4zM426 397l5 2 4 5-5 1 0-4zM446 396l5-1 4 5-5-2 0-1zM471 391l5-1 4 5-5-2 1-1zM486 385l5 2 4 5-5 1 0-4zM496 382l5 3 4 5-5 1 0-4zM506 381l5 2 4 5-5 1 0-4zM551 371l5 3 4 5-5 1 1-4zM596 362l5 3 4 5-5 1 0-4zM616 358l5 3 4 5-5 1 0-4zM626 356l5 3 4 5-5 1 0-4zM636 358l5-1 4 5-5-2 0-1zM646 352l5 3 4 5-5 1 0-4zM656 350l5 3 4 5-5 1 0-4zM681 346l5 2 4 2-5 4 1-4zM686 348l5-1 4 5-5-2 0-1zM706 340l5 3 4 5-5 1 0-4zM721 337l5 3 4 5-5 1 1-4zM746 332l5 3 4 5-5-3 0-1zM776 326l5 3 4 5-5 1 0-4zM786 328l5-1 4 5-5-3 0 0zM846 312l5 3 4 5-5-3 0-1z"/>
<path fill="#000088" d="M316 418l4 9 0-4zM351 416l4 1 1 0zM376 407l4 5 0-2zM416 399l4 8 0-4zM426 397l4 8 0-4zM446 396l4 2 0-1zM471 391l4 2 1-1zM486 385l4 8 0-4zM496 382l4 9 0-4zM506 381l4 8 0-4zM551 371l4 9 1-4zM596 362l4 9 0-4zM616 358l4 9 0-4zM626 356l4 9 0-4zM636 358l4 2 0-1zM646 352l4 9 0-4zM656 350l4 9 0-4zM686 348l4 2 0-1zM706 340l4 9 0-4zM721 337l4 9 1-4zM746 332l4 5 0-1zM776 326l4 9 0-4zM786 328l4 1 0 0zM846 312l4 5 0-1z"/>
<path fill="#000090" d="M346 417l5-1 4 1-5 4 0-3zM411 403l5-4 4 8-5 1 1-4zM421 401l5-4 4 8-5 1 1-4zM441 397l5-1 4 2-5 4 1-4zM466 392l5-1 4 2-5 4 0-4zM481 389l5-4 4 8-5 1 1-4zM501 385l5-4 4 8-5 1 1-4zM546 376l5-5 4 9-5 1 0-4zM631 359l5-1 4 2-5 4 1-4zM676 350l5-4 4 8-5 1 0-4zM781 329l5-1 4 1-5 5 1-4z"/>
<path fill="#0000a0" d="M346 417l4 4 0-3zM411 403l4 5 1-4zM421 401l4 5 1-4zM441 397l4 5 1-4zM466 392l4 5 0-4zM481 389l4 5 1-4zM501 385l4 5 1-4zM631 359l4 5 1-4zM676 350l4 5 0-4zM681 346l4 8 1-4zM781 329l4 5 1-4z"/>
<path fill="#000090" d="M350 421l5-4 5 8-5 1 0-4zM375 416l5-4 5 8-5 1 0-4zM445 402l5-4 5 8-5 1 0-4zM470 397l5-4 5 8-5 1 0-4zM570 377l5-1 5 2-5 4 0-4zM635 364l5-4 5 8-5 1 0-4zM685 354l5-4 5 8-5 1 0-4zM785 334l5-5 5 9-5 1 0-4zM845 322l5-5 5 9-5 1 0-4z"/>
<path fill="#0000a0" d="M350 421l5 5 0-4zM445 402l5 5 0-4zM470 397l5 5 0-4zM570 377l5 5 0-4zM635 364l5 5 0-4zM685 354l5 5 0-4zM785 334l5 5 0-4zM845 322l5 5 0-4z"/>
<path fill="#000078" d="M355 417l5 2 5 5-5 1 0-4zM380 412l5 2 5 5-5 1 0-4zM450 398l5 2 5 5-5 1 0-4zM475 393l5 2 5 5-5 1 0-4zM575 376l5-1 5 5-5-2 0-1zM640 360l5 2 5 5-5 1 0-4zM690 350l5 2 5 5-5 1 0-4zM750 337l5 3 5 5-5 1 0-4zM790 329l5 3 5 5-5 1 0-4zM850 317l5 3 5 5-5 1 0-4z"/>
<path fill="#000088" d="M355 417l5 8 0-4zM380 412l5 8 0-4zM450 398l5 8 0-4zM475 393l5 8 0-4zM575 376l5 2 0-1zM640 360l5 8 0-4zM690 350l5 8 0-4zM750 337l5 9 0-4zM790 329l5 9 0-4zM850 317l5 9 0-4z"/>
<path fill="#0000a8" d="M375 416l5 5 0-4zM745 342l5 5 0-4z"/>
<path fill="#000098" d="M745 342l5-5 5 9-5 1 0-4z"/>
<path fill="#000090" d="M575 382l5-4 5 8-5 1 0-4z"/>
<path fill="#0000a0" d="M575 382l5 5 0-4z"/>
<path fill="#000078" d="M580 378l5 2 5 5-5 1 0-4z"/>
<path fill="#000088" d="M580 378l5 8 0-4z"/>
<path d="M149 316.5h-10M164 331.5h-10M183 350.5h-10M207 374.5h-10M236 403.5h-10M285 452.5h-10M814 362.5h-19l5-4M714 382.5h-19l5-4M614 402.5h-19l5-4M514 422.5h-19l5-4M414 442.5h-19l5-4" stroke="#10281e" fill="none"/>
</g>
<g fill="#10281e" stroke="#10281e" stroke-width=".3" font-family="'DejaVu Sans Light','DejaVu Sans',sans-serif">
<text transform="translate(122.5 145) skewX(-28)" font-size="12.5" textLength="18" lengthAdjust="spacing" text-anchor="start">40</text>
<text transform="translate(122.5 188) skewX(-28)" font-size="12.5" textLength="18" lengthAdjust="spacing" text-anchor="start">30</text>
<text transform="translate(122.5 231) skewX(-28)" font-size="12.5" textLength="18" lengthAdjust="spacing" text-anchor="start">20</text>
<text transform="translate(122.5 274) skewX(-28)" font-size="12.5" textLength="18" lengthAdjust="spacing" text-anchor="start">10</text>
<text transform="translate(121.5 326) skewX(-28)" font-size="12.5" textLength="8" lengthAdjust="spacing" text-anchor="start">0</text>
<text transform="translate(135.5 341) skewX(-28)" font-size="12.5" textLength="8" lengthAdjust="spacing" text-anchor="start">3</text>
<text transform="translate(154.5 360) skewX(-28)" font-size="12.5" textLength="8" lengthAdjust="spacing" text-anchor="start">7</text>
<text transform="translate(171.5 384) skewX(-28)" font-size="12.5" textLength="16" lengthAdjust="spacing" text-anchor="start">12</text>
<text transform="translate(204.5 413) skewX(-28)" font-size="12.5" textLength="17" lengthAdjust="spacing" text-anchor="start">18</text>
<text transform="translate(247.5 462) skewX(-28)" font-size="12.5" textLength="18" lengthAdjust="spacing" text-anchor="start">28</text>
<svg x="830" y="358" width="84" height="9" viewBox="0 0 84 9" overflow="hidden"><text transform="translate(10 10.5) skewX(-28)" font-size="12.5" textLength="66" lengthAdjust="spacing" text-anchor="start">00:00:20</text></svg>
<svg x="730" y="378" width="84" height="9" viewBox="0 0 84 9" overflow="hidden"><text transform="translate(10 10.5) skewX(-28)" font-size="12.5" textLength="66" lengthAdjust="spacing" text-anchor="start">00:00:40</text></svg>
<svg x="630" y="398" width="84" height="9" viewBox="0 0 84 9" overflow="hidden"><text transform="translate(10 10.5) skewX(-28)" font-size="12.5" textLength="66" lengthAdjust="spacing" text-anchor="start">00:01:00</text></svg>
<svg x="530" y="418" width="84" height="9" viewBox="0 0 84 9" overflow="hidden"><text transform="translate(10 10.5) skewX(-28)" font-size="12.5" textLength="66" lengthAdjust="spacing" text-anchor="start">00:01:20</text></svg>
<svg x="430" y="438" width="84" height="9" viewBox="0 0 84 9" overflow="hidden"><text transform="translate(10 10.5) skewX(-28)" font-size="12.5" textLength="66" lengthAdjust="spacing" text-anchor="start">00:01:40</text></svg>
<text transform="translate(979 452) skewX(-28)" font-size="12.5" textLength="7" lengthAdjust="spacing" text-anchor="start">S</text><text transform="translate(997 452) skewX(-28)" font-size="12.5" textLength="64" lengthAdjust="spacing" text-anchor="start">13:53:36</text>
<text transform="translate(979 464) skewX(-28)" font-size="12.5" textLength="7" lengthAdjust="spacing" text-anchor="start">C</text><text transform="translate(997 464) skewX(-28)" font-size="12.5" textLength="64" lengthAdjust="spacing" text-anchor="start">13:55:35</text>
</g></svg></div>
<div class="abs" style="left:1074px;top:29px;width:3px;height:364px;background:#f0f0f0"></div>
<div class="pane" style="left:1077px;top:29px;width:509px;height:245px;border-right:2px solid #fff;border-bottom:2px solid #fff"><div class="bars">
<div class="bar" style="top:40px;width:323px;background:#d8821c;border-color:#d06a08"></div>
<div class="bar" style="top:71px;width:288px;background:#044a94;border-color:#023c80"></div>
<div class="bar" style="top:102px;width:253px;background:#0660c0;border-color:#0454b0"></div>
<div class="bar" style="top:133px;width:99px;background:#0c7cf0;border-color:#0870e0"></div>
<div class="bar" style="top:164px;width:29px;background:#3490ec;border-color:#2c88e4"></div>
<div class="bar" style="top:195px;width:15px;background:#68a8ec;border-color:#5c9ce4"></div>
<div class="bar" style="top:227px;width:1px;height:14px;background:#888888;border:0"></div>
<div class="lab" style="top:20px;left:455px;color:#5a98dc">mV</div>
<div class="lab" style="top:42px;left:425px;color:#d07010">Eye  :46.40</div>
<div class="lab" style="top:73px;left:425px;color:#043870">Delta:41.67</div>
<div class="lab" style="top:104px;left:425px;color:#0450a0">Theta:36.87</div>
<div class="lab" style="top:135px;left:425px;color:#0c68c8">Alpha:14.92</div>
<div class="lab" style="top:166px;left:425px;color:#3088d8">BetaL:4.57</div>
<div class="lab" style="top:197px;left:425px;color:#6aa4dc">BetaH:2.10</div>
<div class="lab" style="top:228px;left:425px;color:#909090">A C  :0.38</div>
</div>
</div>
<div class="abs" style="left:1077px;top:274px;width:509px;height:3px;background:#f0f0f0"></div>
<div class="pane" style="left:1077px;top:277px;width:509px;height:116px;border-right:2px solid #fff;border-bottom:2px solid #fff"><div class="waves"><svg width="505" height="112" viewBox="0 0 505 112">
<polyline points="0,28.4 2,28.8 4,29 6,29.1 8,29 10,28.8 12,28.4 14,28 16,27.6 18,27.2 20,26.8 22,26.5 24,26.2 26,26 28,25.8 30,25.6 32,25.5 34,25.3 36,25 38,24.6 40,24.1 42,23.4 44,22.7 46,22.1 48,21.4 50,20.9 52,20.5 54,20.4 56,20.4 58,20.6 60,20.9 62,21.2 64,21.6 66,21.9 68,22.2 70,22.4 72,22.4 74,22.4 76,22.3 78,22.2 80,22 82,21.9 84,21.7 86,21.6 88,21.5 90,21.5 92,21.6 94,21.7 96,21.9 98,22.2 100,22.5 102,22.8 104,23 106,23.1 108,23.2 110,23.1 112,22.9 114,22.6 116,22.2 118,21.7 120,21.3 122,21 124,20.8 126,20.7 128,20.8 130,21.1 132,21.4 134,21.9 136,22.3 138,22.8 140,23.1 142,23.4 144,23.5 146,23.4 148,23.3 150,23.1 152,22.9 154,22.7 156,22.5 158,22.3 160,22.2 162,22.2 164,22.2 166,22.4 168,22.5 170,22.8 172,23 174,23.2 176,23.4 178,23.6 180,23.6 182,23.6 184,23.4 186,23.2 188,22.9 190,22.6 192,22.3 194,22.1 196,22 198,21.9 200,21.9 202,21.9 204,21.9 206,21.8 208,21.8 210,21.8 212,21.7 214,21.7 216,21.7 218,21.8 220,21.9 222,22.1 224,22.3 226,22.5 228,22.8 230,22.9 232,23.1 234,23.1 236,23.1 238,23.1 240,23.2 242,23.2 244,23.3 246,23.3 248,23.3 250,23.2 252,23.1 254,22.8 256,22.3 258,21.7 260,21.1 262,20.4 264,19.6 266,19 268,18.4 270,18 272,17.7 274,17.7 276,17.7 278,17.9 280,18.1 282,18.3 284,18.6 286,18.8 288,18.9 290,19.1 292,19.2 294,19.4 296,19.7 298,20 300,20.3 302,20.6 304,20.9 306,21.2 308,21.5 310,21.5 312,21.4 314,21.2 316,20.9 318,20.6 320,20.4 322,20.3 324,20.3 326,20.4 328,20.7 330,21 332,21.3 334,21.6 336,21.9 338,22.2 340,22.3 342,22.4 344,22.4 346,22.5 348,22.5 350,22.6 352,22.7 354,22.7 356,22.8 358,22.8 360,22.8 362,22.9 364,22.9 366,23.1 368,23.2 370,23.4 372,23.5 374,23.6 376,23.7 378,23.8 380,23.7 382,23.6 384,23.5 386,23.3 388,23.1 390,22.9 392,22.7 394,22.5 396,22.4 398,22.2 400,21.9 402,21.4 404,20.8 406,20.1 408,19.4 410,18.6 412,17.8 414,17.1 416,16.3 418,15.6 420,14.8 422,14 424,13.1 426,12.3 428,11.4 430,10.6 432,9.7 434,9 436,8.4 438,8.1 440,8 442,8.1 444,8.5 446,9 448,9.8 450,10.7 452,11.7 454,12.8 456,14 458,15.2 460,16.4 462,17.6 464,18.7 466,19.8 468,20.9 470,22.1 472,23.3 474,24.7 476,26.1 478,27.5 480,29 482,30.4 484,31.8 486,33 488,34 490,34.8 492,35.4 494,35.8 496,35.9 498,35.9 500,35.7 502,35.4 504,34.9" fill="none" stroke="#2038e0" stroke-width="1.1"/>
<polyline points="0,75.5 2,75.4 4,75 6,74.3 8,73.4 10,72.3 12,71 14,69.6 16,68.1 18,66.6 20,65.1 22,63.5 24,61.9 26,60.4 28,59 30,57.7 32,56.5 34,55.6 36,54.8 38,54.2 40,53.6 42,53.1 44,52.6 46,52.2 48,51.8 50,51.5 52,51.3 54,51.1 56,51 58,50.9 60,50.7 62,50.5 64,50.3 66,50.1 68,49.9 70,49.8 72,49.8 74,49.8 76,50 78,50.2 80,50.5 82,50.7 84,51 86,51.2 88,51.4 90,51.4 92,51.4 94,51.4 96,51.4 98,51.5 100,51.5 102,51.5 104,51.5 106,51.5 108,51.5 110,51.5 112,51.3 114,51.1 116,50.8 118,50.5 120,50.2 122,50 124,49.8 126,49.7 128,49.7 130,49.7 132,49.7 134,49.7 136,49.7 138,49.7 140,49.7 142,49.7 144,49.7 146,49.9 148,50.3 150,51 152,51.7 154,52.5 156,53.3 158,53.9 160,54.3 162,54.5 164,54.4 166,54.2 168,53.9 170,53.6 172,53.2 174,52.8 176,52.4 178,52 180,51.6 182,51.2 184,50.6 186,49.8 188,48.8 190,47.7 192,46.5 194,45.3 196,44.1 198,43 200,41.9 202,40.9 204,40 206,39.3 208,38.6 210,38.1 212,37.8 214,37.7 216,37.8 218,38.1 220,38.9 222,39.9 224,41.3 226,42.8 228,44.4 230,46 232,47.6 234,49.1 236,50.5 238,51.9 240,53.2 242,54.6 244,56 246,57.4 248,58.8 250,60.2 252,61.7 254,63.3 256,64.7 258,66.2 260,67.6 262,68.9 264,70.2 266,71.3 268,72.2 270,72.9 272,73.3 274,73.4 276,73.1 278,72.5 280,71.6 282,70.5 284,69.3 286,68 288,66.7 290,65.4 292,64.1 294,62.8 296,61.5 298,60.3 300,59.2 302,58.1 304,57.2 306,56.3 308,55.5 310,54.9 312,54.4 314,54.1 316,53.9 318,53.7 320,53.6 322,53.4 324,53.3 326,53.1 328,52.7 330,52.2 332,51.7 334,51.2 336,50.7 338,50.2 340,49.9 342,49.8 344,49.9 346,50.1 348,50.4 350,50.8 352,51.2 354,51.6 356,52 358,52.2 360,52.3 362,52.2 364,52.1 366,51.9 368,51.6 370,51.3 372,51.1 374,50.8 376,50.6 378,50.4 380,50.3 382,50.4 384,50.5 386,50.7 388,50.9 390,50.9 392,50.8 394,50.6 396,50.1 398,49.4 400,48.4 402,47.2 404,46 406,44.8 408,43.6 410,42.7 412,42.1 414,41.8 416,41.9 418,42.4 420,43 422,43.9 424,44.8 426,45.9 428,46.9 430,47.8 432,48.5 434,49.1 436,49.8 438,50.5 440,51.1 442,51.7 444,52.2 446,52.6 448,53 450,53.2 452,53.3 454,53.1 456,52.8 458,52.3 460,51.9 462,51.4 464,51 466,50.7 468,50.6 470,50.7 472,51 474,51.5 476,52 478,52.6 480,53.1 482,53.6 484,53.9 486,54 488,54 490,54 492,53.9 494,53.9 496,53.9 498,53.9 500,53.9 502,53.9 504,53.9" fill="none" stroke="#2038e0" stroke-width="1.1"/>
<polyline points="0,90.2 2,90.2 4,90.1 6,89.9 8,89.7 10,89.5 12,89.4 14,89.2 16,89.1 18,89.1 20,89.1 22,89.1 24,89.1 26,89.1 28,89.1 30,89.1 32,89.1 34,89.1 36,89.1 38,89 40,88.9 42,88.7 44,88.5 46,88.2 48,87.8 50,87.2 52,86.5 54,85.7 56,84.8 58,84 60,83.2 62,82.5 64,81.8 66,81.1 68,80.4 70,79.9 72,79.4 74,79 76,78.9 78,79.1 80,79.6 82,80.4 84,81.6 86,83.1 88,84.9 90,87 92,89.4 94,91.9 96,94.5 98,97.2 100,99.9 102,102.6 104,105.1 106,107.4 108,109.5 110,111 112,112 114,112.3 116,112 118,111.1 120,109.7 122,108 124,105.9 126,103.7 128,101.4 130,99.2 132,97.1 134,95.2 136,93.3 138,91.7 140,90.2 142,88.8 144,87.6 146,86.5 148,85.5 150,84.7 152,84.1 154,83.7 156,83.6 158,83.7 160,84 162,84.6 164,85.2 166,85.8 168,86.2 170,86.5 172,86.8 174,87 176,87.1 178,87.1 180,87.2 182,87.4 184,87.9 186,88.5 188,89.3 190,90.1 192,90.9 194,91.5 196,91.9 198,92.1 200,91.9 202,91.5 204,90.8 206,90 208,89.2 210,88.4 212,87.7 214,87.2 216,87.1 218,87.3 220,87.8 222,88.6 224,89.5 226,90.4 228,91.4 230,92.1 232,92.7 234,92.9 236,92.8 238,92.8 240,92.6 242,92.5 244,92.3 246,92.2 248,92 250,91.9 252,91.8 254,91.8 256,91.7 258,91.5 260,91.3 262,91.1 264,90.9 266,90.6 268,90.2 270,89.9 272,89.3 274,88.5 276,87.5 278,86.4 280,85.2 282,84.2 284,83.3 286,82.6 288,82.3 290,82.3 292,82.5 294,82.7 296,83.1 298,83.6 300,84.1 302,84.6 304,85.1 306,85.6 308,86.2 310,86.9 312,87.8 314,88.7 316,89.6 318,90.4 320,91.1 322,91.6 324,91.8 326,91.8 328,91.6 330,91.4 332,91 334,90.6 336,90.2 338,89.9 340,89.7 342,89.6 344,89.6 346,89.7 348,89.9 350,90.1 352,90.3 354,90.5 356,90.6 358,90.7 360,90.8 362,90.7 364,90.4 366,90 368,89.5 370,89 372,88.5 374,88.1 376,87.8 378,87.7 380,87.7 382,87.8 384,87.8 386,87.9 388,88 390,88 392,88.1 394,88.1 396,88.1 398,88.2 400,88.4 402,88.6 404,88.9 406,89.2 408,89.5 410,89.7 412,89.9 414,90 416,90 418,90.2 420,90.4 422,90.6 424,90.9 426,91.1 428,91.4 430,91.5 432,91.6 434,91.5 436,91.4 438,91.2 440,91 442,90.8 444,90.6 446,90.4 448,90.3 450,90.2 452,90.2 454,89.9 456,89.6 458,89.2 460,88.7 462,88.3 464,88 466,87.7 468,87.6 470,87.8 472,88.2 474,88.8 476,89.5 478,90.3 480,91 482,91.6 484,92 486,92.2 488,92 490,91.6 492,91.1 494,90.4 496,89.7 498,89 500,88.4 502,88 504,87.8" fill="none" stroke="#2038e0" stroke-width="1.1"/>
</svg></div></div>
</div>
<div id="status"><span style="left:2px">준비</span><div class="sp" style="left:1499px;width:29px">CAP</div><div class="sp" style="left:1530px;width:34px">NUM</div><div class="sp" style="left:1566px;width:34px"></div></div>
</body></html>
